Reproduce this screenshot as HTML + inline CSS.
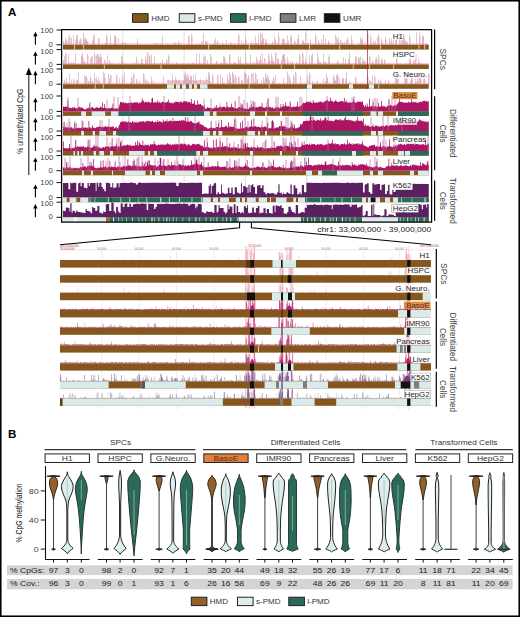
<!DOCTYPE html>
<html><head><meta charset="utf-8"><style>
html,body{margin:0;padding:0;background:#fff;}
body{width:520px;height:617px;overflow:hidden;position:relative;font-family:"Liberation Sans",sans-serif;}
</style></head><body>
<svg width="520" height="617" viewBox="0 0 520 617" style="position:absolute;left:0;top:0">
<rect x="0.00" y="0.00" width="520.00" height="617.00" fill="#fff" />
<text x="8.00" y="16.20" font-size="11.6" fill="#000" text-anchor="start" font-weight="bold" font-family="Liberation Sans, sans-serif" >A</text>
<rect x="132.50" y="13.70" width="15.60" height="8.60" fill="#86561f" stroke="#222" stroke-width="1"/>
<text x="0" y="0" transform="translate(151.30,20.70) scale(1.15,1)" font-size="7.0" fill="#333" text-anchor="start" font-weight="normal" font-family="Liberation Sans, sans-serif" >HMD</text>
<rect x="179.25" y="13.70" width="15.60" height="8.60" fill="#d8ebe8" stroke="#222" stroke-width="1"/>
<text x="0" y="0" transform="translate(198.05,20.70) scale(1.15,1)" font-size="7.0" fill="#333" text-anchor="start" font-weight="normal" font-family="Liberation Sans, sans-serif" >s-PMD</text>
<rect x="230.50" y="13.70" width="15.60" height="8.60" fill="#2d695a" stroke="#222" stroke-width="1"/>
<text x="0" y="0" transform="translate(249.30,20.70) scale(1.15,1)" font-size="7.0" fill="#333" text-anchor="start" font-weight="normal" font-family="Liberation Sans, sans-serif" >l-PMD</text>
<rect x="280.30" y="13.70" width="15.60" height="8.60" fill="#7f7f7f" stroke="#222" stroke-width="1"/>
<text x="0" y="0" transform="translate(299.10,20.70) scale(1.15,1)" font-size="7.0" fill="#333" text-anchor="start" font-weight="normal" font-family="Liberation Sans, sans-serif" >LMR</text>
<rect x="324.30" y="13.70" width="15.60" height="8.60" fill="#111111" stroke="#222" stroke-width="1"/>
<text x="0" y="0" transform="translate(343.10,20.70) scale(1.15,1)" font-size="7.0" fill="#333" text-anchor="start" font-weight="normal" font-family="Liberation Sans, sans-serif" >UMR</text>
<line x1="122.80" y1="30.00" x2="122.80" y2="222.00" stroke="#c8c8c8" stroke-width="0.6" />
<line x1="184.10" y1="30.00" x2="184.10" y2="222.00" stroke="#c8c8c8" stroke-width="0.6" />
<line x1="245.40" y1="30.00" x2="245.40" y2="222.00" stroke="#c8c8c8" stroke-width="0.6" />
<line x1="306.70" y1="30.00" x2="306.70" y2="222.00" stroke="#c8c8c8" stroke-width="0.6" />
<path d="M63.00,44.80 L63.00,43.52 L64.00,43.52 L64.00,43.65 L65.00,43.65 L65.00,43.28 L66.00,43.28 L66.00,43.71 L67.00,43.71 L67.00,43.37 L68.00,43.37 L68.00,43.49 L69.00,43.49 L69.00,43.72 L70.00,43.72 L70.00,43.39 L71.00,43.39 L71.00,43.74 L72.00,43.74 L72.00,43.44 L73.00,43.44 L73.00,43.71 L74.00,43.71 L74.00,43.70 L75.00,43.70 L75.00,43.45 L76.00,43.45 L76.00,43.15 L77.00,43.15 L77.00,43.67 L78.00,43.67 L78.00,43.60 L79.00,43.60 L79.00,43.30 L80.00,43.30 L80.00,43.06 L81.00,43.06 L81.00,43.34 L82.00,43.34 L82.00,43.47 L83.00,43.47 L83.00,43.04 L84.00,43.04 L84.00,43.73 L85.00,43.73 L85.00,43.13 L86.00,43.13 L86.00,43.55 L87.00,43.55 L87.00,43.66 L88.00,43.66 L88.00,43.68 L89.00,43.68 L89.00,43.54 L90.00,43.54 L90.00,43.16 L91.00,43.16 L91.00,43.63 L92.00,43.63 L92.00,43.33 L93.00,43.33 L93.00,43.29 L94.00,43.29 L94.00,43.49 L95.00,43.49 L95.00,43.36 L96.00,43.36 L96.00,43.72 L97.00,43.72 L97.00,43.72 L98.00,43.72 L98.00,43.61 L99.00,43.61 L99.00,43.26 L100.00,43.26 L100.00,43.45 L101.00,43.45 L101.00,43.53 L102.00,43.53 L102.00,43.33 L103.00,43.33 L103.00,43.43 L104.00,43.43 L104.00,43.54 L105.00,43.54 L105.00,43.18 L106.00,43.18 L106.00,43.25 L107.00,43.25 L107.00,43.58 L108.00,43.58 L108.00,43.34 L109.00,43.34 L109.00,43.38 L110.00,43.38 L110.00,43.12 L111.00,43.12 L111.00,43.22 L112.00,43.22 L112.00,43.55 L113.00,43.55 L113.00,43.04 L114.00,43.04 L114.00,43.68 L115.00,43.68 L115.00,43.45 L116.00,43.45 L116.00,43.20 L117.00,43.20 L117.00,43.65 L118.00,43.65 L118.00,43.40 L119.00,43.40 L119.00,43.73 L120.00,43.73 L120.00,43.27 L121.00,43.27 L121.00,43.20 L122.00,43.20 L122.00,43.34 L123.00,43.34 L123.00,43.12 L124.00,43.12 L124.00,43.53 L125.00,43.53 L125.00,43.25 L126.00,43.25 L126.00,43.32 L127.00,43.32 L127.00,43.33 L128.00,43.33 L128.00,43.43 L129.00,43.43 L129.00,43.14 L130.00,43.14 L130.00,43.06 L131.00,43.06 L131.00,43.41 L132.00,43.41 L132.00,43.27 L133.00,43.27 L133.00,43.72 L134.00,43.72 L134.00,43.24 L135.00,43.24 L135.00,43.29 L136.00,43.29 L136.00,43.03 L137.00,43.03 L137.00,43.16 L138.00,43.16 L138.00,43.55 L139.00,43.55 L139.00,43.48 L140.00,43.48 L140.00,43.27 L141.00,43.27 L141.00,43.75 L142.00,43.75 L142.00,43.42 L143.00,43.42 L143.00,43.64 L144.00,43.64 L144.00,43.68 L145.00,43.68 L145.00,43.72 L146.00,43.72 L146.00,43.20 L147.00,43.20 L147.00,43.67 L148.00,43.67 L148.00,43.58 L149.00,43.58 L149.00,43.47 L150.00,43.47 L150.00,43.12 L151.00,43.12 L151.00,43.70 L152.00,43.70 L152.00,43.43 L153.00,43.43 L153.00,43.36 L154.00,43.36 L154.00,43.11 L155.00,43.11 L155.00,43.16 L156.00,43.16 L156.00,43.12 L157.00,43.12 L157.00,43.56 L158.00,43.56 L158.00,43.46 L159.00,43.46 L159.00,43.50 L160.00,43.50 L160.00,43.11 L161.00,43.11 L161.00,43.06 L162.00,43.06 L162.00,43.65 L163.00,43.65 L163.00,43.63 L164.00,43.63 L164.00,43.59 L165.00,43.59 L165.00,43.59 L166.00,43.59 L166.00,43.41 L167.00,43.41 L167.00,43.33 L168.00,43.33 L168.00,43.57 L169.00,43.57 L169.00,43.76 L170.00,43.76 L170.00,43.45 L171.00,43.45 L171.00,43.49 L172.00,43.49 L172.00,43.34 L173.00,43.34 L173.00,43.06 L174.00,43.06 L174.00,43.25 L175.00,43.25 L175.00,43.38 L176.00,43.38 L176.00,43.31 L177.00,43.31 L177.00,43.26 L178.00,43.26 L178.00,43.72 L179.00,43.72 L179.00,43.10 L180.00,43.10 L180.00,43.19 L181.00,43.19 L181.00,43.12 L182.00,43.12 L182.00,43.17 L183.00,43.17 L183.00,43.47 L184.00,43.47 L184.00,43.47 L185.00,43.47 L185.00,43.69 L186.00,43.69 L186.00,43.29 L187.00,43.29 L187.00,43.72 L188.00,43.72 L188.00,43.71 L189.00,43.71 L189.00,43.61 L190.00,43.61 L190.00,43.64 L191.00,43.64 L191.00,43.51 L192.00,43.51 L192.00,43.73 L193.00,43.73 L193.00,43.76 L194.00,43.76 L194.00,43.65 L195.00,43.65 L195.00,43.69 L196.00,43.69 L196.00,43.49 L197.00,43.49 L197.00,43.75 L198.00,43.75 L198.00,43.12 L199.00,43.12 L199.00,43.31 L200.00,43.31 L200.00,43.65 L201.00,43.65 L201.00,43.58 L202.00,43.58 L202.00,43.51 L203.00,43.51 L203.00,43.49 L204.00,43.49 L204.00,43.67 L205.00,43.67 L205.00,43.14 L206.00,43.14 L206.00,43.03 L207.00,43.03 L207.00,43.42 L208.00,43.42 L208.00,43.41 L209.00,43.41 L209.00,43.70 L210.00,43.70 L210.00,43.69 L211.00,43.69 L211.00,43.51 L212.00,43.51 L212.00,43.57 L213.00,43.57 L213.00,43.15 L214.00,43.15 L214.00,43.64 L215.00,43.64 L215.00,43.75 L216.00,43.75 L216.00,43.06 L217.00,43.06 L217.00,43.37 L218.00,43.37 L218.00,43.66 L219.00,43.66 L219.00,43.36 L220.00,43.36 L220.00,43.74 L221.00,43.74 L221.00,43.37 L222.00,43.37 L222.00,43.04 L223.00,43.04 L223.00,43.13 L224.00,43.13 L224.00,43.25 L225.00,43.25 L225.00,43.57 L226.00,43.57 L226.00,43.49 L227.00,43.49 L227.00,43.64 L228.00,43.64 L228.00,43.19 L229.00,43.19 L229.00,43.37 L230.00,43.37 L230.00,43.19 L231.00,43.19 L231.00,43.52 L232.00,43.52 L232.00,43.60 L233.00,43.60 L233.00,43.16 L234.00,43.16 L234.00,43.04 L235.00,43.04 L235.00,43.13 L236.00,43.13 L236.00,43.17 L237.00,43.17 L237.00,43.16 L238.00,43.16 L238.00,43.22 L239.00,43.22 L239.00,43.60 L240.00,43.60 L240.00,43.38 L241.00,43.38 L241.00,43.50 L242.00,43.50 L242.00,43.74 L243.00,43.74 L243.00,43.74 L244.00,43.74 L244.00,43.56 L245.00,43.56 L245.00,43.57 L246.00,43.57 L246.00,43.25 L247.00,43.25 L247.00,43.06 L248.00,43.06 L248.00,43.43 L249.00,43.43 L249.00,43.07 L250.00,43.07 L250.00,43.03 L251.00,43.03 L251.00,43.06 L252.00,43.06 L252.00,43.49 L253.00,43.49 L253.00,43.60 L254.00,43.60 L254.00,43.60 L255.00,43.60 L255.00,43.62 L256.00,43.62 L256.00,43.61 L257.00,43.61 L257.00,43.30 L258.00,43.30 L258.00,43.10 L259.00,43.10 L259.00,43.14 L260.00,43.14 L260.00,43.41 L261.00,43.41 L261.00,43.28 L262.00,43.28 L262.00,43.17 L263.00,43.17 L263.00,43.70 L264.00,43.70 L264.00,43.28 L265.00,43.28 L265.00,43.09 L266.00,43.09 L266.00,43.19 L267.00,43.19 L267.00,43.21 L268.00,43.21 L268.00,43.41 L269.00,43.41 L269.00,43.63 L270.00,43.63 L270.00,43.18 L271.00,43.18 L271.00,43.52 L272.00,43.52 L272.00,43.17 L273.00,43.17 L273.00,43.04 L274.00,43.04 L274.00,43.47 L275.00,43.47 L275.00,43.47 L276.00,43.47 L276.00,43.06 L277.00,43.06 L277.00,43.23 L278.00,43.23 L278.00,43.64 L279.00,43.64 L279.00,43.67 L280.00,43.67 L280.00,43.65 L281.00,43.65 L281.00,43.09 L282.00,43.09 L282.00,43.17 L283.00,43.17 L283.00,43.66 L284.00,43.66 L284.00,43.15 L285.00,43.15 L285.00,43.04 L286.00,43.04 L286.00,43.28 L287.00,43.28 L287.00,43.50 L288.00,43.50 L288.00,43.36 L289.00,43.36 L289.00,43.67 L290.00,43.67 L290.00,43.75 L291.00,43.75 L291.00,43.05 L292.00,43.05 L292.00,43.28 L293.00,43.28 L293.00,43.37 L294.00,43.37 L294.00,43.07 L295.00,43.07 L295.00,43.44 L296.00,43.44 L296.00,43.12 L297.00,43.12 L297.00,43.15 L298.00,43.15 L298.00,43.61 L299.00,43.61 L299.00,43.58 L300.00,43.58 L300.00,43.55 L301.00,43.55 L301.00,43.59 L302.00,43.59 L302.00,43.33 L303.00,43.33 L303.00,43.57 L304.00,43.57 L304.00,43.45 L305.00,43.45 L305.00,43.67 L306.00,43.67 L306.00,43.09 L307.00,43.09 L307.00,43.50 L308.00,43.50 L308.00,43.42 L309.00,43.42 L309.00,43.33 L310.00,43.33 L310.00,43.09 L311.00,43.09 L311.00,43.45 L312.00,43.45 L312.00,43.08 L313.00,43.08 L313.00,43.39 L314.00,43.39 L314.00,43.37 L315.00,43.37 L315.00,43.38 L316.00,43.38 L316.00,43.75 L317.00,43.75 L317.00,43.44 L318.00,43.44 L318.00,43.63 L319.00,43.63 L319.00,43.76 L320.00,43.76 L320.00,43.17 L321.00,43.17 L321.00,43.64 L322.00,43.64 L322.00,43.41 L323.00,43.41 L323.00,43.23 L324.00,43.23 L324.00,43.35 L325.00,43.35 L325.00,43.52 L326.00,43.52 L326.00,43.38 L327.00,43.38 L327.00,43.35 L328.00,43.35 L328.00,43.18 L329.00,43.18 L329.00,43.69 L330.00,43.69 L330.00,43.35 L331.00,43.35 L331.00,43.58 L332.00,43.58 L332.00,43.56 L333.00,43.56 L333.00,43.19 L334.00,43.19 L334.00,43.39 L335.00,43.39 L335.00,43.35 L336.00,43.35 L336.00,43.20 L337.00,43.20 L337.00,43.09 L338.00,43.09 L338.00,43.44 L339.00,43.44 L339.00,43.31 L340.00,43.31 L340.00,43.39 L341.00,43.39 L341.00,43.39 L342.00,43.39 L342.00,43.25 L343.00,43.25 L343.00,43.43 L344.00,43.43 L344.00,43.37 L345.00,43.37 L345.00,43.41 L346.00,43.41 L346.00,43.07 L347.00,43.07 L347.00,43.25 L348.00,43.25 L348.00,43.12 L349.00,43.12 L349.00,43.07 L350.00,43.07 L350.00,43.57 L351.00,43.57 L351.00,43.35 L352.00,43.35 L352.00,43.07 L353.00,43.07 L353.00,43.14 L354.00,43.14 L354.00,43.66 L355.00,43.66 L355.00,43.67 L356.00,43.67 L356.00,43.44 L357.00,43.44 L357.00,43.71 L358.00,43.71 L358.00,43.59 L359.00,43.59 L359.00,43.71 L360.00,43.71 L360.00,43.27 L361.00,43.27 L361.00,43.18 L362.00,43.18 L362.00,43.10 L363.00,43.10 L363.00,43.65 L364.00,43.65 L364.00,43.23 L365.00,43.23 L365.00,43.28 L366.00,43.28 L366.00,43.66 L367.00,43.66 L367.00,43.11 L368.00,43.11 L368.00,43.05 L369.00,43.05 L369.00,43.60 L370.00,43.60 L370.00,43.06 L371.00,43.06 L371.00,43.47 L372.00,43.47 L372.00,43.40 L373.00,43.40 L373.00,43.03 L374.00,43.03 L374.00,43.15 L375.00,43.15 L375.00,43.64 L376.00,43.64 L376.00,43.44 L377.00,43.44 L377.00,43.38 L378.00,43.38 L378.00,43.51 L379.00,43.51 L379.00,43.62 L380.00,43.62 L380.00,43.53 L381.00,43.53 L381.00,43.23 L382.00,43.23 L382.00,43.75 L383.00,43.75 L383.00,43.35 L384.00,43.35 L384.00,43.44 L385.00,43.44 L385.00,43.75 L386.00,43.75 L386.00,43.52 L387.00,43.52 L387.00,43.30 L388.00,43.30 L388.00,43.38 L389.00,43.38 L389.00,43.72 L390.00,43.72 L390.00,43.04 L391.00,43.04 L391.00,43.18 L392.00,43.18 L392.00,43.04 L393.00,43.04 L393.00,43.69 L394.00,43.69 L394.00,43.57 L395.00,43.57 L395.00,43.73 L396.00,43.73 L396.00,43.19 L397.00,43.19 L397.00,43.56 L398.00,43.56 L398.00,43.67 L399.00,43.67 L399.00,43.45 L400.00,43.45 L400.00,43.09 L401.00,43.09 L401.00,43.16 L402.00,43.16 L402.00,43.57 L403.00,43.57 L403.00,43.65 L404.00,43.65 L404.00,43.08 L405.00,43.08 L405.00,43.34 L406.00,43.34 L406.00,43.25 L407.00,43.25 L407.00,43.70 L408.00,43.70 L408.00,43.72 L409.00,43.72 L409.00,43.25 L410.00,43.25 L410.00,43.45 L411.00,43.45 L411.00,43.71 L412.00,43.71 L412.00,43.07 L413.00,43.07 L413.00,43.29 L414.00,43.29 L414.00,43.17 L415.00,43.17 L415.00,43.70 L416.00,43.70 L416.00,43.13 L417.00,43.13 L417.00,43.71 L418.00,43.71 L418.00,43.13 L419.00,43.13 L419.00,43.43 L420.00,43.43 L420.00,43.51 L421.00,43.51 L421.00,43.35 L422.00,43.35 L422.00,43.08 L423.00,43.08 L423.00,43.57 L424.00,43.57 L424.00,43.67 L425.00,43.67 L425.00,43.37 L426.00,43.37 L426.00,43.59 L427.00,43.59 L427.00,43.68 L428.00,43.68 L428.00,43.64 L428.80,43.64 L428.80,44.80 Z" fill="#f1c4cc" opacity="1.0"/>
<path d="M64.10,44.80V42.45M66.10,44.80V40.26M67.10,44.80V41.25M70.10,44.80V37.08M76.10,44.80V41.91M77.10,44.80V39.31M80.10,44.80V41.87M81.10,44.80V38.76M84.10,44.80V36.64M85.10,44.80V40.69M86.10,44.80V40.50M87.10,44.80V41.91M88.10,44.80V41.80M99.10,44.80V38.37M106.10,44.80V43.43M107.10,44.80V36.23M115.10,44.80V39.75M116.10,44.80V36.70M123.10,44.80V42.12M126.10,44.80V42.91M157.10,44.80V43.50M179.10,44.80V42.27M189.10,44.80V36.61M192.10,44.80V36.28M202.10,44.80V41.74M206.10,44.80V42.44M207.10,44.80V41.67M218.10,44.80V41.78M231.10,44.80V42.74M239.10,44.80V35.29M244.10,44.80V42.94M246.10,44.80V39.68M254.10,44.80V43.18M257.10,44.80V43.35M261.10,44.80V33.81M263.10,44.80V37.75M266.10,44.80V39.28M267.10,44.80V43.28M275.10,44.80V38.91M276.10,44.80V42.70M279.10,44.80V36.65M283.10,44.80V38.60M287.10,44.80V42.84M291.10,44.80V38.96M295.10,44.80V40.95M298.10,44.80V39.03M303.10,44.80V40.51M305.10,44.80V43.01M308.10,44.80V42.95M316.10,44.80V36.51M319.10,44.80V42.45M329.10,44.80V42.10M338.10,44.80V41.59M340.10,44.80V43.24M341.10,44.80V40.55M343.10,44.80V42.76M348.10,44.80V39.50M352.10,44.80V40.13M359.10,44.80V43.26M361.10,44.80V38.71M362.10,44.80V40.53M368.10,44.80V33.78M371.10,44.80V37.81M374.10,44.80V41.94M379.10,44.80V36.36M382.10,44.80V40.61M386.10,44.80V39.82M390.10,44.80V41.16M392.10,44.80V41.62M396.10,44.80V38.18M400.10,44.80V32.85M404.10,44.80V34.61M406.10,44.80V42.01M407.10,44.80V41.50M410.10,44.80V37.19M420.10,44.80V36.42M423.10,44.80V36.18M427.10,44.80V43.77" stroke="#eeb0bf" stroke-width="1.0" fill="none" opacity="0.85"/>
<path d="M63.50,44.80V41.19M65.50,44.80V38.05M66.50,44.80V40.70M68.50,44.80V38.33M69.50,44.80V34.47M71.50,44.80V37.98M73.50,44.80V34.32M75.50,44.80V39.69M76.50,44.80V35.36M77.50,44.80V34.21M79.50,44.80V40.78M80.50,44.80V38.64M83.50,44.80V32.77M84.50,44.80V39.33M85.50,44.80V38.00M86.50,44.80V39.14M87.50,44.80V40.88M92.50,44.80V39.92M93.50,44.80V35.55M94.50,44.80V34.28M98.50,44.80V37.79M105.50,44.80V42.79M106.50,44.80V34.28M110.50,44.80V34.71M114.50,44.80V35.41M115.50,44.80V35.49M118.50,44.80V38.28M122.50,44.80V41.73M125.50,44.80V42.54M137.50,44.80V38.50M156.50,44.80V43.00M162.50,44.80V35.25M175.50,44.80V42.16M178.50,44.80V40.54M188.50,44.80V35.46M191.50,44.80V33.22M201.50,44.80V41.59M203.50,44.80V33.46M205.50,44.80V41.29M206.50,44.80V40.82M214.50,44.80V40.42M215.50,44.80V38.02M217.50,44.80V40.49M222.50,44.80V42.78M226.50,44.80V39.23M230.50,44.80V42.09M238.50,44.80V34.89M241.50,44.80V40.69M243.50,44.80V42.45M245.50,44.80V36.94M251.50,44.80V40.73M253.50,44.80V42.87M255.50,44.80V36.19M256.50,44.80V42.76M258.50,44.80V34.72M260.50,44.80V32.72M261.50,44.80V40.99M262.50,44.80V32.93M263.50,44.80V38.95M265.50,44.80V39.20M266.50,44.80V42.61M272.50,44.80V41.35M274.50,44.80V36.23M275.50,44.80V41.51M278.50,44.80V32.79M282.50,44.80V38.34M283.50,44.80V39.52M284.50,44.80V39.02M286.50,44.80V42.76M287.50,44.80V35.29M288.50,44.80V40.48M290.50,44.80V35.64M291.50,44.80V35.19M294.50,44.80V40.87M297.50,44.80V38.81M298.50,44.80V34.66M302.50,44.80V39.99M303.50,44.80V41.24M304.50,44.80V42.50M305.50,44.80V32.60M307.50,44.80V42.32M310.50,44.80V38.95M315.50,44.80V34.22M318.50,44.80V40.73M321.50,44.80V39.18M323.50,44.80V34.59M325.50,44.80V38.33M328.50,44.80V40.26M335.50,44.80V34.94M336.50,44.80V36.99M337.50,44.80V39.47M338.50,44.80V36.96M339.50,44.80V42.95M340.50,44.80V40.06M342.50,44.80V42.16M344.50,44.80V41.57M346.50,44.80V40.11M347.50,44.80V37.32M351.50,44.80V35.51M358.50,44.80V42.92M360.50,44.80V36.70M361.50,44.80V40.36M362.50,44.80V38.16M364.50,44.80V41.93M367.50,44.80V33.23M370.50,44.80V34.85M373.50,44.80V41.03M375.50,44.80V40.73M377.50,44.80V37.37M378.50,44.80V34.25M381.50,44.80V38.92M385.50,44.80V36.74M389.50,44.80V38.34M391.50,44.80V38.68M393.50,44.80V35.45M395.50,44.80V38.01M396.50,44.80V34.03M399.50,44.80V32.58M401.50,44.80V34.82M402.50,44.80V39.66M403.50,44.80V33.57M404.50,44.80V38.03M405.50,44.80V40.57M406.50,44.80V41.39M409.50,44.80V34.86M416.50,44.80V32.45M419.50,44.80V32.48M422.50,44.80V35.33M423.50,44.80V36.51M426.50,44.80V43.01" stroke="#cc9db4" stroke-width="0.6" fill="none"/>
<path d="M63.00,64.40 L63.00,62.98 L64.00,62.98 L64.00,62.70 L65.00,62.70 L65.00,63.27 L66.00,63.27 L66.00,63.20 L67.00,63.20 L67.00,62.88 L68.00,62.88 L68.00,63.35 L69.00,63.35 L69.00,63.36 L70.00,63.36 L70.00,63.10 L71.00,63.10 L71.00,63.29 L72.00,63.29 L72.00,63.10 L73.00,63.10 L73.00,63.20 L74.00,63.20 L74.00,62.93 L75.00,62.93 L75.00,62.93 L76.00,62.93 L76.00,63.21 L77.00,63.21 L77.00,62.90 L78.00,62.90 L78.00,63.01 L79.00,63.01 L79.00,63.26 L80.00,63.26 L80.00,62.67 L81.00,62.67 L81.00,63.18 L82.00,63.18 L82.00,63.25 L83.00,63.25 L83.00,63.29 L84.00,63.29 L84.00,62.89 L85.00,62.89 L85.00,62.72 L86.00,62.72 L86.00,62.79 L87.00,62.79 L87.00,63.07 L88.00,63.07 L88.00,63.17 L89.00,63.17 L89.00,63.36 L90.00,63.36 L90.00,62.89 L91.00,62.89 L91.00,62.95 L92.00,62.95 L92.00,63.10 L93.00,63.10 L93.00,62.89 L94.00,62.89 L94.00,63.04 L95.00,63.04 L95.00,62.67 L96.00,62.67 L96.00,62.82 L97.00,62.82 L97.00,63.18 L98.00,63.18 L98.00,62.70 L99.00,62.70 L99.00,63.33 L100.00,63.33 L100.00,62.97 L101.00,62.97 L101.00,63.06 L102.00,63.06 L102.00,63.19 L103.00,63.19 L103.00,63.32 L104.00,63.32 L104.00,62.79 L105.00,62.79 L105.00,63.35 L106.00,63.35 L106.00,62.96 L107.00,62.96 L107.00,62.67 L108.00,62.67 L108.00,63.26 L109.00,63.26 L109.00,63.22 L110.00,63.22 L110.00,62.91 L111.00,62.91 L111.00,62.99 L112.00,62.99 L112.00,62.89 L113.00,62.89 L113.00,62.76 L114.00,62.76 L114.00,63.23 L115.00,63.23 L115.00,63.14 L116.00,63.14 L116.00,63.14 L117.00,63.14 L117.00,63.33 L118.00,63.33 L118.00,62.71 L119.00,62.71 L119.00,62.78 L120.00,62.78 L120.00,62.83 L121.00,62.83 L121.00,63.36 L122.00,63.36 L122.00,62.74 L123.00,62.74 L123.00,62.81 L124.00,62.81 L124.00,63.02 L125.00,63.02 L125.00,62.82 L126.00,62.82 L126.00,63.03 L127.00,63.03 L127.00,63.20 L128.00,63.20 L128.00,63.29 L129.00,63.29 L129.00,63.19 L130.00,63.19 L130.00,63.34 L131.00,63.34 L131.00,63.12 L132.00,63.12 L132.00,62.81 L133.00,62.81 L133.00,62.85 L134.00,62.85 L134.00,62.74 L135.00,62.74 L135.00,62.84 L136.00,62.84 L136.00,63.17 L137.00,63.17 L137.00,62.95 L138.00,62.95 L138.00,63.04 L139.00,63.04 L139.00,62.78 L140.00,62.78 L140.00,62.98 L141.00,62.98 L141.00,63.17 L142.00,63.17 L142.00,62.89 L143.00,62.89 L143.00,62.65 L144.00,62.65 L144.00,63.20 L145.00,63.20 L145.00,62.71 L146.00,62.71 L146.00,63.35 L147.00,63.35 L147.00,63.17 L148.00,63.17 L148.00,63.19 L149.00,63.19 L149.00,62.81 L150.00,62.81 L150.00,62.66 L151.00,62.66 L151.00,62.81 L152.00,62.81 L152.00,63.12 L153.00,63.12 L153.00,62.71 L154.00,62.71 L154.00,63.12 L155.00,63.12 L155.00,63.19 L156.00,63.19 L156.00,62.69 L157.00,62.69 L157.00,62.90 L158.00,62.90 L158.00,62.85 L159.00,62.85 L159.00,62.87 L160.00,62.87 L160.00,62.64 L161.00,62.64 L161.00,63.02 L162.00,63.02 L162.00,62.74 L163.00,62.74 L163.00,62.85 L164.00,62.85 L164.00,62.73 L165.00,62.73 L165.00,63.04 L166.00,63.04 L166.00,62.83 L167.00,62.83 L167.00,62.94 L168.00,62.94 L168.00,63.14 L169.00,63.14 L169.00,63.21 L170.00,63.21 L170.00,62.90 L171.00,62.90 L171.00,63.31 L172.00,63.31 L172.00,62.69 L173.00,62.69 L173.00,63.26 L174.00,63.26 L174.00,63.34 L175.00,63.34 L175.00,63.29 L176.00,63.29 L176.00,62.68 L177.00,62.68 L177.00,63.11 L178.00,63.11 L178.00,63.26 L179.00,63.26 L179.00,63.34 L180.00,63.34 L180.00,63.33 L181.00,63.33 L181.00,62.85 L182.00,62.85 L182.00,62.89 L183.00,62.89 L183.00,62.85 L184.00,62.85 L184.00,62.82 L185.00,62.82 L185.00,63.32 L186.00,63.32 L186.00,62.93 L187.00,62.93 L187.00,63.10 L188.00,63.10 L188.00,62.76 L189.00,62.76 L189.00,62.76 L190.00,62.76 L190.00,62.70 L191.00,62.70 L191.00,63.32 L192.00,63.32 L192.00,62.72 L193.00,62.72 L193.00,62.69 L194.00,62.69 L194.00,62.67 L195.00,62.67 L195.00,63.28 L196.00,63.28 L196.00,63.21 L197.00,63.21 L197.00,63.28 L198.00,63.28 L198.00,63.34 L199.00,63.34 L199.00,62.74 L200.00,62.74 L200.00,62.76 L201.00,62.76 L201.00,62.89 L202.00,62.89 L202.00,62.75 L203.00,62.75 L203.00,62.90 L204.00,62.90 L204.00,63.15 L205.00,63.15 L205.00,63.29 L206.00,63.29 L206.00,63.29 L207.00,63.29 L207.00,62.80 L208.00,62.80 L208.00,63.21 L209.00,63.21 L209.00,63.13 L210.00,63.13 L210.00,63.05 L211.00,63.05 L211.00,63.35 L212.00,63.35 L212.00,63.17 L213.00,63.17 L213.00,63.15 L214.00,63.15 L214.00,62.83 L215.00,62.83 L215.00,63.09 L216.00,63.09 L216.00,63.13 L217.00,63.13 L217.00,62.65 L218.00,62.65 L218.00,62.99 L219.00,62.99 L219.00,62.73 L220.00,62.73 L220.00,62.91 L221.00,62.91 L221.00,63.34 L222.00,63.34 L222.00,63.06 L223.00,63.06 L223.00,63.04 L224.00,63.04 L224.00,62.79 L225.00,62.79 L225.00,63.11 L226.00,63.11 L226.00,62.84 L227.00,62.84 L227.00,62.97 L228.00,62.97 L228.00,63.20 L229.00,63.20 L229.00,62.73 L230.00,62.73 L230.00,63.30 L231.00,63.30 L231.00,62.76 L232.00,62.76 L232.00,63.24 L233.00,63.24 L233.00,63.36 L234.00,63.36 L234.00,63.21 L235.00,63.21 L235.00,62.80 L236.00,62.80 L236.00,62.64 L237.00,62.64 L237.00,63.36 L238.00,63.36 L238.00,63.00 L239.00,63.00 L239.00,63.00 L240.00,63.00 L240.00,62.77 L241.00,62.77 L241.00,63.23 L242.00,63.23 L242.00,63.00 L243.00,63.00 L243.00,63.11 L244.00,63.11 L244.00,62.75 L245.00,62.75 L245.00,63.17 L246.00,63.17 L246.00,62.67 L247.00,62.67 L247.00,63.15 L248.00,63.15 L248.00,63.21 L249.00,63.21 L249.00,62.85 L250.00,62.85 L250.00,63.00 L251.00,63.00 L251.00,63.28 L252.00,63.28 L252.00,62.89 L253.00,62.89 L253.00,63.30 L254.00,63.30 L254.00,62.78 L255.00,62.78 L255.00,62.85 L256.00,62.85 L256.00,62.78 L257.00,62.78 L257.00,62.90 L258.00,62.90 L258.00,63.10 L259.00,63.10 L259.00,63.07 L260.00,63.07 L260.00,63.07 L261.00,63.07 L261.00,62.71 L262.00,62.71 L262.00,63.30 L263.00,63.30 L263.00,62.71 L264.00,62.71 L264.00,63.35 L265.00,63.35 L265.00,63.21 L266.00,63.21 L266.00,63.17 L267.00,63.17 L267.00,62.70 L268.00,62.70 L268.00,62.99 L269.00,62.99 L269.00,63.08 L270.00,63.08 L270.00,62.71 L271.00,62.71 L271.00,63.19 L272.00,63.19 L272.00,63.02 L273.00,63.02 L273.00,62.97 L274.00,62.97 L274.00,62.81 L275.00,62.81 L275.00,62.81 L276.00,62.81 L276.00,62.89 L277.00,62.89 L277.00,63.11 L278.00,63.11 L278.00,63.12 L279.00,63.12 L279.00,63.25 L280.00,63.25 L280.00,62.74 L281.00,62.74 L281.00,62.87 L282.00,62.87 L282.00,62.81 L283.00,62.81 L283.00,63.24 L284.00,63.24 L284.00,63.04 L285.00,63.04 L285.00,62.79 L286.00,62.79 L286.00,62.94 L287.00,62.94 L287.00,63.27 L288.00,63.27 L288.00,63.02 L289.00,63.02 L289.00,62.71 L290.00,62.71 L290.00,63.19 L291.00,63.19 L291.00,63.22 L292.00,63.22 L292.00,63.14 L293.00,63.14 L293.00,62.84 L294.00,62.84 L294.00,62.74 L295.00,62.74 L295.00,63.25 L296.00,63.25 L296.00,63.25 L297.00,63.25 L297.00,63.18 L298.00,63.18 L298.00,63.12 L299.00,63.12 L299.00,62.98 L300.00,62.98 L300.00,63.24 L301.00,63.24 L301.00,63.12 L302.00,63.12 L302.00,63.22 L303.00,63.22 L303.00,62.64 L304.00,62.64 L304.00,62.82 L305.00,62.82 L305.00,63.29 L306.00,63.29 L306.00,62.65 L307.00,62.65 L307.00,63.29 L308.00,63.29 L308.00,63.08 L309.00,63.08 L309.00,62.64 L310.00,62.64 L310.00,62.78 L311.00,62.78 L311.00,62.82 L312.00,62.82 L312.00,63.04 L313.00,63.04 L313.00,63.22 L314.00,63.22 L314.00,62.89 L315.00,62.89 L315.00,63.28 L316.00,63.28 L316.00,63.21 L317.00,63.21 L317.00,63.08 L318.00,63.08 L318.00,63.34 L319.00,63.34 L319.00,63.07 L320.00,63.07 L320.00,62.78 L321.00,62.78 L321.00,62.85 L322.00,62.85 L322.00,62.99 L323.00,62.99 L323.00,62.90 L324.00,62.90 L324.00,63.02 L325.00,63.02 L325.00,63.26 L326.00,63.26 L326.00,62.92 L327.00,62.92 L327.00,63.06 L328.00,63.06 L328.00,62.82 L329.00,62.82 L329.00,62.69 L330.00,62.69 L330.00,63.05 L331.00,63.05 L331.00,62.94 L332.00,62.94 L332.00,62.81 L333.00,62.81 L333.00,63.05 L334.00,63.05 L334.00,63.19 L335.00,63.19 L335.00,62.83 L336.00,62.83 L336.00,62.71 L337.00,62.71 L337.00,62.79 L338.00,62.79 L338.00,62.85 L339.00,62.85 L339.00,62.73 L340.00,62.73 L340.00,62.86 L341.00,62.86 L341.00,62.89 L342.00,62.89 L342.00,63.03 L343.00,63.03 L343.00,63.13 L344.00,63.13 L344.00,62.90 L345.00,62.90 L345.00,63.29 L346.00,63.29 L346.00,63.05 L347.00,63.05 L347.00,62.79 L348.00,62.79 L348.00,62.84 L349.00,62.84 L349.00,62.90 L350.00,62.90 L350.00,63.18 L351.00,63.18 L351.00,63.05 L352.00,63.05 L352.00,63.03 L353.00,63.03 L353.00,62.90 L354.00,62.90 L354.00,63.06 L355.00,63.06 L355.00,62.86 L356.00,62.86 L356.00,62.68 L357.00,62.68 L357.00,63.23 L358.00,63.23 L358.00,62.88 L359.00,62.88 L359.00,62.79 L360.00,62.79 L360.00,63.08 L361.00,63.08 L361.00,63.00 L362.00,63.00 L362.00,62.64 L363.00,62.64 L363.00,63.34 L364.00,63.34 L364.00,62.96 L365.00,62.96 L365.00,63.24 L366.00,63.24 L366.00,62.79 L367.00,62.79 L367.00,62.67 L368.00,62.67 L368.00,62.98 L369.00,62.98 L369.00,63.29 L370.00,63.29 L370.00,62.94 L371.00,62.94 L371.00,62.96 L372.00,62.96 L372.00,62.83 L373.00,62.83 L373.00,62.98 L374.00,62.98 L374.00,62.89 L375.00,62.89 L375.00,62.75 L376.00,62.75 L376.00,62.98 L377.00,62.98 L377.00,63.06 L378.00,63.06 L378.00,62.66 L379.00,62.66 L379.00,63.21 L380.00,63.21 L380.00,62.86 L381.00,62.86 L381.00,63.07 L382.00,63.07 L382.00,62.80 L383.00,62.80 L383.00,63.27 L384.00,63.27 L384.00,62.64 L385.00,62.64 L385.00,63.10 L386.00,63.10 L386.00,63.32 L387.00,63.32 L387.00,63.16 L388.00,63.16 L388.00,63.07 L389.00,63.07 L389.00,63.35 L390.00,63.35 L390.00,63.05 L391.00,63.05 L391.00,63.05 L392.00,63.05 L392.00,62.85 L393.00,62.85 L393.00,63.10 L394.00,63.10 L394.00,63.17 L395.00,63.17 L395.00,63.20 L396.00,63.20 L396.00,62.82 L397.00,62.82 L397.00,62.67 L398.00,62.67 L398.00,62.97 L399.00,62.97 L399.00,63.20 L400.00,63.20 L400.00,62.77 L401.00,62.77 L401.00,63.07 L402.00,63.07 L402.00,63.21 L403.00,63.21 L403.00,63.27 L404.00,63.27 L404.00,62.79 L405.00,62.79 L405.00,62.76 L406.00,62.76 L406.00,62.89 L407.00,62.89 L407.00,63.02 L408.00,63.02 L408.00,62.95 L409.00,62.95 L409.00,63.20 L410.00,63.20 L410.00,62.65 L411.00,62.65 L411.00,63.10 L412.00,63.10 L412.00,62.89 L413.00,62.89 L413.00,62.76 L414.00,62.76 L414.00,62.76 L415.00,62.76 L415.00,63.02 L416.00,63.02 L416.00,63.15 L417.00,63.15 L417.00,62.96 L418.00,62.96 L418.00,63.27 L419.00,63.27 L419.00,62.75 L420.00,62.75 L420.00,63.10 L421.00,63.10 L421.00,62.73 L422.00,62.73 L422.00,63.17 L423.00,63.17 L423.00,63.09 L424.00,63.09 L424.00,63.18 L425.00,63.18 L425.00,63.05 L426.00,63.05 L426.00,63.23 L427.00,63.23 L427.00,63.36 L428.00,63.36 L428.00,62.83 L428.80,62.83 L428.80,64.40 Z" fill="#f1c4cc" opacity="1.0"/>
<path d="M64.10,64.40V61.41M72.10,64.40V62.77M82.10,64.40V56.66M83.10,64.40V57.40M84.10,64.40V62.81M85.10,64.40V62.12M88.10,64.40V56.13M95.10,64.40V55.33M98.10,64.40V56.42M99.10,64.40V57.38M101.10,64.40V56.56M105.10,64.40V60.60M110.10,64.40V61.65M122.10,64.40V56.82M123.10,64.40V61.38M137.10,64.40V60.21M142.10,64.40V59.04M146.10,64.40V59.59M148.10,64.40V53.15M150.10,64.40V56.43M167.10,64.40V60.57M169.10,64.40V56.11M193.10,64.40V63.13M217.10,64.40V61.41M225.10,64.40V58.46M230.10,64.40V54.79M234.10,64.40V63.18M235.10,64.40V62.36M239.10,64.40V60.02M247.10,64.40V63.00M258.10,64.40V61.67M260.10,64.40V61.06M261.10,64.40V59.65M265.10,64.40V58.45M269.10,64.40V55.95M270.10,64.40V61.14M272.10,64.40V56.69M274.10,64.40V62.24M276.10,64.40V52.86M278.10,64.40V60.31M283.10,64.40V55.23M284.10,64.40V58.59M285.10,64.40V58.18M288.10,64.40V59.96M291.10,64.40V62.44M300.10,64.40V54.97M303.10,64.40V53.74M306.10,64.40V61.71M312.10,64.40V56.43M318.10,64.40V57.28M321.10,64.40V62.90M325.10,64.40V62.27M326.10,64.40V62.79M338.10,64.40V61.53M349.10,64.40V61.33M356.10,64.40V57.42M359.10,64.40V57.60M363.10,64.40V60.74M364.10,64.40V62.35M365.10,64.40V61.29M370.10,64.40V57.36M373.10,64.40V61.36M377.10,64.40V59.67M379.10,64.40V59.18M382.10,64.40V59.60M385.10,64.40V60.21M397.10,64.40V54.75M410.10,64.40V60.55M414.10,64.40V60.74M416.10,64.40V53.80M420.10,64.40V62.79" stroke="#eeb0bf" stroke-width="1.0" fill="none" opacity="0.85"/>
<path d="M63.50,64.40V60.36M64.50,64.40V56.13M65.50,64.40V52.80M66.50,64.40V53.97M68.50,64.40V53.93M69.50,64.40V62.55M71.50,64.40V61.76M73.50,64.40V61.28M75.50,64.40V53.24M81.50,64.40V55.51M82.50,64.40V53.33M83.50,64.40V61.40M84.50,64.40V61.36M87.50,64.40V53.82M90.50,64.40V58.53M91.50,64.40V56.13M92.50,64.40V56.44M94.50,64.40V52.18M96.50,64.40V55.22M97.50,64.40V53.58M98.50,64.40V54.62M99.50,64.40V57.06M100.50,64.40V53.97M101.50,64.40V57.58M104.50,64.40V59.61M107.50,64.40V55.17M109.50,64.40V59.79M121.50,64.40V55.80M122.50,64.40V61.00M136.50,64.40V56.91M141.50,64.40V58.87M145.50,64.40V56.05M146.50,64.40V62.59M147.50,64.40V52.36M149.50,64.40V55.21M151.50,64.40V54.58M154.50,64.40V56.23M160.50,64.40V62.52M162.50,64.40V59.67M166.50,64.40V59.08M168.50,64.40V54.32M176.50,64.40V62.14M192.50,64.40V62.61M196.50,64.40V53.91M199.50,64.40V53.70M203.50,64.40V57.06M204.50,64.40V54.86M205.50,64.40V56.47M207.50,64.40V60.26M210.50,64.40V54.21M211.50,64.40V56.78M216.50,64.40V60.89M221.50,64.40V62.28M223.50,64.40V56.18M224.50,64.40V56.58M225.50,64.40V62.37M229.50,64.40V54.53M233.50,64.40V62.33M234.50,64.40V62.22M238.50,64.40V56.57M240.50,64.40V56.94M245.50,64.40V52.37M246.50,64.40V62.33M250.50,64.40V54.44M253.50,64.40V61.35M256.50,64.40V56.64M257.50,64.40V59.54M259.50,64.40V60.42M260.50,64.40V55.23M262.50,64.40V52.74M264.50,64.40V58.23M268.50,64.40V54.02M269.50,64.40V60.59M271.50,64.40V53.47M272.50,64.40V60.09M273.50,64.40V61.13M275.50,64.40V52.22M277.50,64.40V57.90M278.50,64.40V59.12M281.50,64.40V59.90M282.50,64.40V55.13M283.50,64.40V54.21M284.50,64.40V53.92M287.50,64.40V56.87M290.50,64.40V61.97M292.50,64.40V60.75M296.50,64.40V62.09M299.50,64.40V54.17M302.50,64.40V53.02M303.50,64.40V60.95M305.50,64.40V59.04M309.50,64.40V55.26M311.50,64.40V55.30M312.50,64.40V53.45M317.50,64.40V52.35M318.50,64.40V60.30M319.50,64.40V61.81M320.50,64.40V62.50M323.50,64.40V53.49M324.50,64.40V61.56M325.50,64.40V61.57M328.50,64.40V56.85M329.50,64.40V53.99M337.50,64.40V60.40M343.50,64.40V57.46M345.50,64.40V58.50M348.50,64.40V58.38M349.50,64.40V52.32M355.50,64.40V56.08M356.50,64.40V57.19M358.50,64.40V57.43M359.50,64.40V59.73M360.50,64.40V56.61M362.50,64.40V58.02M363.50,64.40V61.48M364.50,64.40V60.37M369.50,64.40V55.31M372.50,64.40V60.38M375.50,64.40V59.24M376.50,64.40V57.03M378.50,64.40V54.61M381.50,64.40V58.86M382.50,64.40V60.56M384.50,64.40V59.40M396.50,64.40V53.47M409.50,64.40V58.83M410.50,64.40V54.44M413.50,64.40V59.75M415.50,64.40V52.90M418.50,64.40V58.45M419.50,64.40V62.25" stroke="#cc9db4" stroke-width="0.6" fill="none"/>
<path d="M63.00,84.20 L63.00,82.68 L64.00,82.68 L64.00,82.87 L65.00,82.87 L65.00,82.42 L66.00,82.42 L66.00,82.62 L67.00,82.62 L67.00,82.74 L68.00,82.74 L68.00,83.06 L69.00,83.06 L69.00,82.85 L70.00,82.85 L70.00,82.83 L71.00,82.83 L71.00,82.71 L72.00,82.71 L72.00,82.70 L73.00,82.70 L73.00,82.47 L74.00,82.47 L74.00,82.40 L75.00,82.40 L75.00,82.77 L76.00,82.77 L76.00,82.80 L77.00,82.80 L77.00,82.66 L78.00,82.66 L78.00,82.38 L79.00,82.38 L79.00,82.88 L80.00,82.88 L80.00,82.73 L81.00,82.73 L81.00,82.52 L82.00,82.52 L82.00,83.01 L83.00,83.01 L83.00,82.89 L84.00,82.89 L84.00,82.39 L85.00,82.39 L85.00,82.51 L86.00,82.51 L86.00,82.75 L87.00,82.75 L87.00,83.05 L88.00,83.05 L88.00,82.46 L89.00,82.46 L89.00,82.61 L90.00,82.61 L90.00,82.51 L91.00,82.51 L91.00,82.38 L92.00,82.38 L92.00,82.46 L93.00,82.46 L93.00,82.82 L94.00,82.82 L94.00,83.02 L95.00,83.02 L95.00,82.92 L96.00,82.92 L96.00,82.75 L97.00,82.75 L97.00,82.75 L98.00,82.75 L98.00,82.99 L99.00,82.99 L99.00,83.00 L100.00,83.00 L100.00,82.66 L101.00,82.66 L101.00,82.68 L102.00,82.68 L102.00,82.87 L103.00,82.87 L103.00,82.38 L104.00,82.38 L104.00,82.65 L105.00,82.65 L105.00,83.10 L106.00,83.10 L106.00,82.82 L107.00,82.82 L107.00,82.54 L108.00,82.54 L108.00,82.90 L109.00,82.90 L109.00,82.61 L110.00,82.61 L110.00,83.13 L111.00,83.13 L111.00,82.90 L112.00,82.90 L112.00,82.50 L113.00,82.50 L113.00,82.69 L114.00,82.69 L114.00,82.63 L115.00,82.63 L115.00,82.99 L116.00,82.99 L116.00,82.76 L117.00,82.76 L117.00,82.72 L118.00,82.72 L118.00,82.93 L119.00,82.93 L119.00,82.64 L120.00,82.64 L120.00,82.73 L121.00,82.73 L121.00,82.38 L122.00,82.38 L122.00,82.70 L123.00,82.70 L123.00,82.82 L124.00,82.82 L124.00,83.04 L125.00,83.04 L125.00,83.02 L126.00,83.02 L126.00,82.56 L127.00,82.56 L127.00,83.05 L128.00,83.05 L128.00,83.06 L129.00,83.06 L129.00,83.01 L130.00,83.01 L130.00,82.74 L131.00,82.74 L131.00,82.51 L132.00,82.51 L132.00,82.67 L133.00,82.67 L133.00,82.52 L134.00,82.52 L134.00,83.09 L135.00,83.09 L135.00,83.13 L136.00,83.13 L136.00,82.55 L137.00,82.55 L137.00,82.89 L138.00,82.89 L138.00,82.59 L139.00,82.59 L139.00,82.87 L140.00,82.87 L140.00,83.01 L141.00,83.01 L141.00,82.93 L142.00,82.93 L142.00,83.06 L143.00,83.06 L143.00,82.45 L144.00,82.45 L144.00,82.69 L145.00,82.69 L145.00,82.87 L146.00,82.87 L146.00,82.79 L147.00,82.79 L147.00,82.84 L148.00,82.84 L148.00,83.09 L149.00,83.09 L149.00,82.46 L150.00,82.46 L150.00,82.69 L151.00,82.69 L151.00,82.41 L152.00,82.41 L152.00,82.80 L153.00,82.80 L153.00,82.66 L154.00,82.66 L154.00,82.95 L155.00,82.95 L155.00,83.10 L156.00,83.10 L156.00,82.43 L157.00,82.43 L157.00,82.49 L158.00,82.49 L158.00,82.90 L159.00,82.90 L159.00,82.45 L160.00,82.45 L160.00,82.52 L161.00,82.52 L161.00,82.91 L162.00,82.91 L162.00,82.68 L163.00,82.68 L163.00,82.41 L164.00,82.41 L164.00,82.76 L165.00,82.76 L165.00,82.41 L166.00,82.41 L166.00,82.95 L167.00,82.95 L167.00,80.26 L168.00,80.26 L168.00,80.01 L169.00,80.01 L169.00,80.38 L170.00,80.38 L170.00,80.32 L171.00,80.32 L171.00,79.89 L172.00,79.89 L172.00,80.18 L173.00,80.18 L173.00,79.95 L174.00,79.95 L174.00,80.37 L175.00,80.37 L175.00,80.42 L176.00,80.42 L176.00,80.28 L177.00,80.28 L177.00,80.41 L178.00,80.41 L178.00,79.81 L179.00,79.81 L179.00,80.33 L180.00,80.33 L180.00,80.13 L181.00,80.13 L181.00,80.46 L182.00,80.46 L182.00,80.15 L183.00,80.15 L183.00,80.26 L184.00,80.26 L184.00,80.25 L185.00,80.25 L185.00,80.50 L186.00,80.50 L186.00,80.46 L187.00,80.46 L187.00,79.92 L188.00,79.92 L188.00,80.29 L189.00,80.29 L189.00,80.37 L190.00,80.37 L190.00,80.41 L191.00,80.41 L191.00,80.34 L192.00,80.34 L192.00,80.37 L193.00,80.37 L193.00,80.53 L194.00,80.53 L194.00,80.05 L195.00,80.05 L195.00,80.29 L196.00,80.29 L196.00,80.43 L197.00,80.43 L197.00,80.02 L198.00,80.02 L198.00,80.48 L199.00,80.48 L199.00,80.35 L200.00,80.35 L200.00,79.92 L201.00,79.92 L201.00,80.45 L202.00,80.45 L202.00,80.22 L203.00,80.22 L203.00,79.92 L204.00,79.92 L204.00,79.94 L205.00,79.94 L205.00,80.43 L206.00,80.43 L206.00,80.28 L207.00,80.28 L207.00,80.00 L208.00,80.00 L208.00,80.27 L209.00,80.27 L209.00,82.41 L210.00,82.41 L210.00,82.98 L211.00,82.98 L211.00,82.41 L212.00,82.41 L212.00,82.75 L213.00,82.75 L213.00,82.96 L214.00,82.96 L214.00,82.79 L215.00,82.79 L215.00,83.04 L216.00,83.04 L216.00,82.60 L217.00,82.60 L217.00,82.94 L218.00,82.94 L218.00,82.45 L219.00,82.45 L219.00,82.69 L220.00,82.69 L220.00,82.86 L221.00,82.86 L221.00,82.95 L222.00,82.95 L222.00,82.67 L223.00,82.67 L223.00,82.97 L224.00,82.97 L224.00,82.47 L225.00,82.47 L225.00,83.04 L226.00,83.04 L226.00,82.75 L227.00,82.75 L227.00,82.72 L228.00,82.72 L228.00,82.93 L229.00,82.93 L229.00,82.55 L230.00,82.55 L230.00,82.84 L231.00,82.84 L231.00,82.64 L232.00,82.64 L232.00,82.70 L233.00,82.70 L233.00,82.90 L234.00,82.90 L234.00,82.84 L235.00,82.84 L235.00,83.07 L236.00,83.07 L236.00,83.00 L237.00,83.00 L237.00,82.49 L238.00,82.49 L238.00,82.89 L239.00,82.89 L239.00,82.63 L240.00,82.63 L240.00,83.05 L241.00,83.05 L241.00,82.71 L242.00,82.71 L242.00,82.86 L243.00,82.86 L243.00,82.76 L244.00,82.76 L244.00,82.91 L245.00,82.91 L245.00,83.09 L246.00,83.09 L246.00,82.90 L247.00,82.90 L247.00,82.96 L248.00,82.96 L248.00,83.04 L249.00,83.04 L249.00,82.59 L250.00,82.59 L250.00,82.92 L251.00,82.92 L251.00,82.83 L252.00,82.83 L252.00,82.45 L253.00,82.45 L253.00,82.55 L254.00,82.55 L254.00,82.47 L255.00,82.47 L255.00,82.48 L256.00,82.48 L256.00,83.04 L257.00,83.04 L257.00,82.93 L258.00,82.93 L258.00,83.11 L259.00,83.11 L259.00,82.62 L260.00,82.62 L260.00,82.63 L261.00,82.63 L261.00,82.87 L262.00,82.87 L262.00,82.82 L263.00,82.82 L263.00,82.64 L264.00,82.64 L264.00,82.60 L265.00,82.60 L265.00,82.95 L266.00,82.95 L266.00,82.49 L267.00,82.49 L267.00,82.87 L268.00,82.87 L268.00,82.66 L269.00,82.66 L269.00,83.00 L270.00,83.00 L270.00,83.05 L271.00,83.05 L271.00,82.44 L272.00,82.44 L272.00,82.58 L273.00,82.58 L273.00,82.59 L274.00,82.59 L274.00,83.11 L275.00,83.11 L275.00,83.11 L276.00,83.11 L276.00,83.01 L277.00,83.01 L277.00,82.99 L278.00,82.99 L278.00,82.91 L279.00,82.91 L279.00,82.85 L280.00,82.85 L280.00,83.11 L281.00,83.11 L281.00,82.90 L282.00,82.90 L282.00,82.65 L283.00,82.65 L283.00,83.00 L284.00,83.00 L284.00,82.50 L285.00,82.50 L285.00,82.70 L286.00,82.70 L286.00,82.59 L287.00,82.59 L287.00,82.94 L288.00,82.94 L288.00,82.81 L289.00,82.81 L289.00,82.62 L290.00,82.62 L290.00,82.87 L291.00,82.87 L291.00,83.14 L292.00,83.14 L292.00,82.50 L293.00,82.50 L293.00,82.55 L294.00,82.55 L294.00,82.92 L295.00,82.92 L295.00,83.10 L296.00,83.10 L296.00,82.49 L297.00,82.49 L297.00,82.67 L298.00,82.67 L298.00,83.10 L299.00,83.10 L299.00,82.95 L300.00,82.95 L300.00,83.05 L301.00,83.05 L301.00,82.53 L302.00,82.53 L302.00,82.98 L303.00,82.98 L303.00,82.44 L304.00,82.44 L304.00,82.57 L305.00,82.57 L305.00,83.07 L306.00,83.07 L306.00,82.61 L307.00,82.61 L307.00,82.84 L308.00,82.84 L308.00,82.57 L309.00,82.57 L309.00,82.51 L310.00,82.51 L310.00,82.92 L311.00,82.92 L311.00,83.07 L312.00,83.07 L312.00,82.42 L313.00,82.42 L313.00,82.81 L314.00,82.81 L314.00,82.43 L315.00,82.43 L315.00,82.61 L316.00,82.61 L316.00,82.57 L317.00,82.57 L317.00,82.51 L318.00,82.51 L318.00,82.66 L319.00,82.66 L319.00,82.79 L320.00,82.79 L320.00,83.09 L321.00,83.09 L321.00,82.61 L322.00,82.61 L322.00,82.81 L323.00,82.81 L323.00,82.75 L324.00,82.75 L324.00,82.43 L325.00,82.43 L325.00,83.04 L326.00,83.04 L326.00,82.56 L327.00,82.56 L327.00,83.10 L328.00,83.10 L328.00,82.60 L329.00,82.60 L329.00,82.52 L330.00,82.52 L330.00,82.94 L331.00,82.94 L331.00,82.72 L332.00,82.72 L332.00,82.40 L333.00,82.40 L333.00,82.65 L334.00,82.65 L334.00,82.72 L335.00,82.72 L335.00,82.95 L336.00,82.95 L336.00,83.09 L337.00,83.09 L337.00,82.86 L338.00,82.86 L338.00,82.82 L339.00,82.82 L339.00,82.98 L340.00,82.98 L340.00,82.90 L341.00,82.90 L341.00,83.03 L342.00,83.03 L342.00,82.60 L343.00,82.60 L343.00,82.63 L344.00,82.63 L344.00,82.96 L345.00,82.96 L345.00,82.95 L346.00,82.95 L346.00,82.74 L347.00,82.74 L347.00,82.80 L348.00,82.80 L348.00,82.42 L349.00,82.42 L349.00,82.87 L350.00,82.87 L350.00,82.91 L351.00,82.91 L351.00,82.46 L352.00,82.46 L352.00,83.03 L353.00,83.03 L353.00,82.71 L354.00,82.71 L354.00,82.88 L355.00,82.88 L355.00,82.52 L356.00,82.52 L356.00,82.72 L357.00,82.72 L357.00,82.56 L358.00,82.56 L358.00,83.01 L359.00,83.01 L359.00,82.63 L360.00,82.63 L360.00,82.68 L361.00,82.68 L361.00,82.79 L362.00,82.79 L362.00,82.55 L363.00,82.55 L363.00,82.50 L364.00,82.50 L364.00,83.05 L365.00,83.05 L365.00,82.92 L366.00,82.92 L366.00,82.86 L367.00,82.86 L367.00,82.98 L368.00,82.98 L368.00,83.09 L369.00,83.09 L369.00,82.92 L370.00,82.92 L370.00,82.99 L371.00,82.99 L371.00,82.60 L372.00,82.60 L372.00,82.80 L373.00,82.80 L373.00,83.05 L374.00,83.05 L374.00,82.89 L375.00,82.89 L375.00,82.78 L376.00,82.78 L376.00,82.86 L377.00,82.86 L377.00,83.01 L378.00,83.01 L378.00,83.08 L379.00,83.08 L379.00,83.13 L380.00,83.13 L380.00,82.38 L381.00,82.38 L381.00,82.57 L382.00,82.57 L382.00,83.07 L383.00,83.07 L383.00,82.59 L384.00,82.59 L384.00,82.39 L385.00,82.39 L385.00,82.71 L386.00,82.71 L386.00,83.05 L387.00,83.05 L387.00,82.76 L388.00,82.76 L388.00,82.81 L389.00,82.81 L389.00,82.99 L390.00,82.99 L390.00,82.72 L391.00,82.72 L391.00,83.13 L392.00,83.13 L392.00,82.44 L393.00,82.44 L393.00,82.65 L394.00,82.65 L394.00,82.66 L395.00,82.66 L395.00,82.43 L396.00,82.43 L396.00,82.64 L397.00,82.64 L397.00,82.94 L398.00,82.94 L398.00,82.95 L399.00,82.95 L399.00,83.03 L400.00,83.03 L400.00,83.11 L401.00,83.11 L401.00,82.55 L402.00,82.55 L402.00,82.50 L403.00,82.50 L403.00,82.91 L404.00,82.91 L404.00,82.99 L405.00,82.99 L405.00,82.65 L406.00,82.65 L406.00,82.49 L407.00,82.49 L407.00,82.43 L408.00,82.43 L408.00,83.01 L409.00,83.01 L409.00,82.54 L410.00,82.54 L410.00,82.50 L411.00,82.50 L411.00,82.57 L412.00,82.57 L412.00,82.89 L413.00,82.89 L413.00,83.00 L414.00,83.00 L414.00,82.51 L415.00,82.51 L415.00,82.89 L416.00,82.89 L416.00,82.86 L417.00,82.86 L417.00,82.72 L418.00,82.72 L418.00,82.86 L419.00,82.86 L419.00,82.50 L420.00,82.50 L420.00,82.95 L421.00,82.95 L421.00,83.10 L422.00,83.10 L422.00,82.71 L423.00,82.71 L423.00,82.66 L424.00,82.66 L424.00,82.51 L425.00,82.51 L425.00,82.60 L426.00,82.60 L426.00,82.45 L427.00,82.45 L427.00,82.42 L428.00,82.42 L428.00,82.76 L428.80,82.76 L428.80,84.20 Z" fill="#f1c4cc" opacity="1.0"/>
<path d="M65.10,84.20V81.65M68.10,84.20V82.93M74.10,84.20V79.91M77.10,84.20V80.53M78.10,84.20V81.79M87.10,84.20V78.42M91.10,84.20V78.20M93.10,84.20V81.53M95.10,84.20V78.11M97.10,84.20V80.02M99.10,84.20V80.38M100.10,84.20V81.92M105.10,84.20V77.91M109.10,84.20V77.95M110.10,84.20V83.03M111.10,84.20V75.42M117.10,84.20V75.61M123.10,84.20V77.92M131.10,84.20V82.42M132.10,84.20V77.84M134.10,84.20V74.67M137.10,84.20V80.30M144.10,84.20V73.97M146.10,84.20V79.42M148.10,84.20V81.72M152.10,84.20V80.21M176.10,84.20V80.22M179.10,84.20V81.41M184.10,84.20V82.01M185.10,84.20V74.97M186.10,84.20V77.82M188.10,84.20V74.78M190.10,84.20V81.70M191.10,84.20V77.71M197.10,84.20V81.86M205.10,84.20V83.00M207.10,84.20V79.88M209.10,84.20V72.40M211.10,84.20V82.70M213.10,84.20V76.08M218.10,84.20V75.90M224.10,84.20V82.64M228.10,84.20V79.12M229.10,84.20V82.40M230.10,84.20V77.28M233.10,84.20V73.93M234.10,84.20V77.32M236.10,84.20V76.30M239.10,84.20V76.85M242.10,84.20V81.17M245.10,84.20V74.23M248.10,84.20V79.40M249.10,84.20V77.65M252.10,84.20V74.08M255.10,84.20V82.22M256.10,84.20V74.04M264.10,84.20V79.21M266.10,84.20V75.78M267.10,84.20V79.03M268.10,84.20V78.83M273.10,84.20V82.35M274.10,84.20V78.73M288.10,84.20V73.95M290.10,84.20V79.12M294.10,84.20V76.67M296.10,84.20V73.35M308.10,84.20V79.07M310.10,84.20V74.15M326.10,84.20V82.42M327.10,84.20V76.63M334.10,84.20V77.37M335.10,84.20V80.40M336.10,84.20V82.25M337.10,84.20V77.96M338.10,84.20V75.37M343.10,84.20V78.82M346.10,84.20V78.75M356.10,84.20V78.37M368.10,84.20V76.25M370.10,84.20V80.66M375.10,84.20V76.98M379.10,84.20V81.63M381.10,84.20V81.48M389.10,84.20V81.35M396.10,84.20V78.00M397.10,84.20V78.49M406.10,84.20V75.32M407.10,84.20V73.54M412.10,84.20V77.71M418.10,84.20V77.54M420.10,84.20V76.92M421.10,84.20V74.42M425.10,84.20V78.75M429.10,84.20V73.89" stroke="#eeb0bf" stroke-width="1.0" fill="none" opacity="0.85"/>
<path d="M64.50,84.20V79.47M66.50,84.20V77.90M67.50,84.20V82.06M69.50,84.20V73.33M71.50,84.20V79.64M73.50,84.20V79.05M76.50,84.20V79.51M77.50,84.20V80.56M78.50,84.20V71.78M84.50,84.20V75.26M85.50,84.20V76.47M86.50,84.20V75.59M88.50,84.20V80.63M89.50,84.20V81.65M90.50,84.20V76.36M92.50,84.20V81.37M94.50,84.20V73.08M96.50,84.20V77.39M98.50,84.20V77.12M99.50,84.20V81.76M103.50,84.20V71.54M104.50,84.20V73.46M108.50,84.20V74.09M109.50,84.20V82.27M110.50,84.20V74.90M116.50,84.20V74.45M119.50,84.20V78.68M122.50,84.20V76.09M124.50,84.20V72.33M130.50,84.20V82.22M131.50,84.20V76.66M133.50,84.20V72.92M136.50,84.20V79.01M139.50,84.20V80.69M143.50,84.20V73.28M145.50,84.20V79.15M147.50,84.20V80.82M151.50,84.20V76.37M154.50,84.20V81.06M163.50,84.20V76.59M168.50,84.20V79.66M172.50,84.20V74.24M175.50,84.20V76.70M176.50,84.20V79.22M178.50,84.20V80.06M179.50,84.20V82.33M183.50,84.20V80.83M184.50,84.20V74.67M185.50,84.20V72.38M186.50,84.20V76.36M187.50,84.20V74.11M188.50,84.20V77.44M189.50,84.20V79.92M190.50,84.20V74.93M191.50,84.20V76.10M193.50,84.20V74.59M195.50,84.20V73.70M196.50,84.20V81.15M200.50,84.20V79.18M204.50,84.20V81.90M206.50,84.20V77.33M208.50,84.20V72.33M209.50,84.20V75.98M210.50,84.20V81.57M212.50,84.20V73.65M217.50,84.20V74.51M220.50,84.20V74.14M222.50,84.20V77.01M223.50,84.20V82.31M227.50,84.20V74.32M228.50,84.20V81.88M229.50,84.20V72.16M230.50,84.20V74.54M231.50,84.20V82.15M232.50,84.20V71.64M233.50,84.20V73.81M235.50,84.20V74.59M238.50,84.20V76.54M241.50,84.20V79.97M242.50,84.20V80.48M244.50,84.20V71.50M245.50,84.20V73.07M246.50,84.20V74.38M247.50,84.20V79.13M248.50,84.20V75.18M251.50,84.20V72.83M253.50,84.20V73.06M254.50,84.20V82.19M255.50,84.20V72.49M256.50,84.20V80.83M257.50,84.20V79.04M261.50,84.20V80.15M263.50,84.20V77.22M264.50,84.20V82.23M265.50,84.20V72.88M266.50,84.20V78.07M267.50,84.20V74.54M268.50,84.20V77.31M269.50,84.20V80.36M272.50,84.20V80.74M273.50,84.20V77.17M275.50,84.20V75.12M283.50,84.20V78.17M287.50,84.20V71.45M289.50,84.20V76.01M290.50,84.20V81.35M293.50,84.20V75.05M295.50,84.20V71.77M300.50,84.20V75.80M307.50,84.20V75.81M309.50,84.20V72.53M312.50,84.20V81.10M317.50,84.20V80.79M323.50,84.20V78.59M325.50,84.20V80.98M326.50,84.20V73.78M327.50,84.20V78.43M333.50,84.20V75.21M334.50,84.20V78.70M335.50,84.20V80.50M336.50,84.20V74.77M337.50,84.20V73.41M339.50,84.20V78.13M342.50,84.20V77.91M343.50,84.20V78.29M345.50,84.20V78.54M346.50,84.20V71.78M349.50,84.20V81.78M355.50,84.20V76.22M367.50,84.20V75.22M369.50,84.20V80.30M370.50,84.20V81.62M372.50,84.20V75.20M374.50,84.20V75.09M378.50,84.20V79.10M380.50,84.20V79.86M385.50,84.20V79.42M388.50,84.20V80.49M395.50,84.20V72.40M396.50,84.20V76.90M397.50,84.20V79.75M398.50,84.20V74.86M404.50,84.20V78.01M405.50,84.20V73.07M406.50,84.20V72.36M410.50,84.20V80.40M411.50,84.20V72.42M412.50,84.20V74.00M415.50,84.20V72.56M416.50,84.20V81.91M417.50,84.20V73.39M419.50,84.20V76.59M420.50,84.20V73.33M423.50,84.20V78.60M424.50,84.20V76.75M428.50,84.20V73.48" stroke="#cc9db4" stroke-width="0.6" fill="none"/>
<path d="M63.00,111.40 L63.00,106.62 L63.75,106.62 L63.75,106.99 L64.50,106.99 L64.50,106.86 L65.25,106.86 L65.25,106.49 L66.00,106.49 L66.00,107.05 L66.75,107.05 L66.75,106.47 L67.50,106.47 L67.50,100.24 L68.25,100.24 L68.25,107.62 L69.00,107.62 L69.00,107.73 L69.75,107.73 L69.75,107.76 L70.50,107.76 L70.50,108.19 L71.25,108.19 L71.25,108.06 L72.00,108.06 L72.00,107.26 L72.75,107.26 L72.75,107.63 L73.50,107.63 L73.50,107.66 L74.25,107.66 L74.25,106.80 L75.00,106.80 L75.00,108.32 L75.75,108.32 L75.75,108.31 L76.50,108.31 L76.50,108.17 L77.25,108.17 L77.25,107.88 L78.00,107.88 L78.00,107.23 L78.75,107.23 L78.75,106.87 L79.50,106.87 L79.50,107.22 L80.25,107.22 L80.25,107.87 L81.00,107.87 L81.00,107.15 L81.75,107.15 L81.75,107.74 L82.50,107.74 L82.50,108.36 L83.25,108.36 L83.25,108.79 L84.00,108.79 L84.00,109.27 L84.75,109.27 L84.75,109.42 L85.50,109.42 L85.50,109.13 L86.25,109.13 L86.25,108.42 L87.00,108.42 L87.00,108.28 L87.75,108.28 L87.75,108.42 L88.50,108.42 L88.50,107.54 L89.25,107.54 L89.25,103.55 L90.00,103.55 L90.00,108.22 L90.75,108.22 L90.75,108.37 L91.50,108.37 L91.50,106.85 L92.25,106.85 L92.25,106.94 L93.00,106.94 L93.00,107.98 L93.75,107.98 L93.75,108.76 L94.50,108.76 L94.50,108.11 L95.25,108.11 L95.25,107.86 L96.00,107.86 L96.00,107.55 L96.75,107.55 L96.75,106.76 L97.50,106.76 L97.50,108.02 L98.25,108.02 L98.25,108.05 L99.00,108.05 L99.00,107.66 L99.75,107.66 L99.75,107.01 L100.50,107.01 L100.50,106.57 L101.25,106.57 L101.25,107.42 L102.00,107.42 L102.00,102.44 L102.75,102.44 L102.75,107.91 L103.50,107.91 L103.50,107.99 L104.25,107.99 L104.25,104.17 L105.00,104.17 L105.00,107.77 L105.75,107.77 L105.75,108.11 L106.50,108.11 L106.50,108.80 L107.25,108.80 L107.25,108.37 L108.00,108.37 L108.00,108.20 L108.75,108.20 L108.75,108.25 L109.50,108.25 L109.50,108.13 L110.25,108.13 L110.25,108.56 L111.00,108.56 L111.00,107.44 L111.75,107.44 L111.75,108.13 L112.50,108.13 L112.50,103.44 L113.25,103.44 L113.25,107.86 L114.00,107.86 L114.00,108.83 L114.75,108.83 L114.75,108.83 L115.50,108.83 L115.50,108.13 L116.25,108.13 L116.25,108.14 L117.00,108.14 L117.00,108.85 L117.75,108.85 L117.75,109.06 L118.50,109.06 L118.50,106.71 L119.25,106.71 L119.25,104.56 L120.00,104.56 L120.00,101.87 L120.75,101.87 L120.75,102.13 L121.50,102.13 L121.50,102.18 L122.25,102.18 L122.25,103.01 L123.00,103.01 L123.00,101.90 L123.75,101.90 L123.75,102.84 L124.50,102.84 L124.50,103.49 L125.25,103.49 L125.25,102.13 L126.00,102.13 L126.00,102.92 L126.75,102.92 L126.75,103.36 L127.50,103.36 L127.50,103.27 L128.25,103.27 L128.25,102.80 L129.00,102.80 L129.00,103.01 L129.75,103.01 L129.75,102.74 L130.50,102.74 L130.50,102.46 L131.25,102.46 L131.25,102.42 L132.00,102.42 L132.00,103.09 L132.75,103.09 L132.75,102.91 L133.50,102.91 L133.50,102.60 L134.25,102.60 L134.25,102.25 L135.00,102.25 L135.00,102.19 L135.75,102.19 L135.75,102.64 L136.50,102.64 L136.50,101.99 L137.25,101.99 L137.25,102.40 L138.00,102.40 L138.00,103.38 L138.75,103.38 L138.75,102.35 L139.50,102.35 L139.50,103.05 L140.25,103.05 L140.25,102.76 L141.00,102.76 L141.00,101.69 L141.75,101.69 L141.75,98.40 L142.50,98.40 L142.50,100.22 L143.25,100.22 L143.25,101.20 L144.00,101.20 L144.00,102.58 L144.75,102.58 L144.75,101.72 L145.50,101.72 L145.50,101.76 L146.25,101.76 L146.25,102.16 L147.00,102.16 L147.00,102.19 L147.75,102.19 L147.75,101.49 L148.50,101.49 L148.50,102.40 L149.25,102.40 L149.25,101.98 L150.00,101.98 L150.00,103.02 L150.75,103.02 L150.75,102.34 L151.50,102.34 L151.50,98.52 L152.25,98.52 L152.25,97.85 L153.00,97.85 L153.00,102.17 L153.75,102.17 L153.75,102.95 L154.50,102.95 L154.50,101.83 L155.25,101.83 L155.25,102.18 L156.00,102.18 L156.00,102.49 L156.75,102.49 L156.75,102.05 L157.50,102.05 L157.50,100.17 L158.25,100.17 L158.25,103.08 L159.00,103.08 L159.00,101.85 L159.75,101.85 L159.75,102.53 L160.50,102.53 L160.50,103.28 L161.25,103.28 L161.25,102.24 L162.00,102.24 L162.00,101.69 L162.75,101.69 L162.75,101.99 L163.50,101.99 L163.50,101.82 L164.25,101.82 L164.25,102.91 L165.00,102.91 L165.00,102.34 L165.75,102.34 L165.75,102.73 L166.50,102.73 L166.50,101.92 L167.25,101.92 L167.25,101.86 L168.00,101.86 L168.00,99.56 L168.75,99.56 L168.75,102.65 L169.50,102.65 L169.50,102.09 L170.25,102.09 L170.25,103.36 L171.00,103.36 L171.00,102.66 L171.75,102.66 L171.75,103.54 L172.50,103.54 L172.50,102.35 L173.25,102.35 L173.25,103.49 L174.00,103.49 L174.00,102.11 L174.75,102.11 L174.75,102.43 L175.50,102.43 L175.50,101.49 L176.25,101.49 L176.25,101.86 L177.00,101.86 L177.00,102.03 L177.75,102.03 L177.75,101.81 L178.50,101.81 L178.50,102.05 L179.25,102.05 L179.25,102.65 L180.00,102.65 L180.00,101.52 L180.75,101.52 L180.75,101.33 L181.50,101.33 L181.50,102.39 L182.25,102.39 L182.25,102.40 L183.00,102.40 L183.00,101.62 L183.75,101.62 L183.75,101.13 L184.50,101.13 L184.50,101.27 L185.25,101.27 L185.25,101.59 L186.00,101.59 L186.00,100.96 L186.75,100.96 L186.75,102.40 L187.50,102.40 L187.50,101.50 L188.25,101.50 L188.25,102.55 L189.00,102.55 L189.00,101.78 L189.75,101.78 L189.75,102.04 L190.50,102.04 L190.50,103.59 L191.25,103.59 L191.25,99.08 L192.00,99.08 L192.00,104.11 L192.75,104.11 L192.75,102.88 L193.50,102.88 L193.50,103.78 L194.25,103.78 L194.25,100.24 L195.00,100.24 L195.00,104.56 L195.75,104.56 L195.75,105.07 L196.50,105.07 L196.50,104.87 L197.25,104.87 L197.25,100.49 L198.00,100.49 L198.00,104.14 L198.75,104.14 L198.75,104.72 L199.50,104.72 L199.50,103.89 L200.25,103.89 L200.25,103.96 L201.00,103.96 L201.00,105.02 L201.75,105.02 L201.75,105.60 L202.50,105.60 L202.50,106.10 L203.25,106.10 L203.25,106.41 L204.00,106.41 L204.00,105.01 L204.75,105.01 L204.75,108.45 L205.50,108.45 L205.50,108.62 L206.25,108.62 L206.25,108.60 L207.00,108.60 L207.00,107.06 L207.75,107.06 L207.75,107.91 L208.50,107.91 L208.50,107.53 L209.25,107.53 L209.25,107.65 L210.00,107.65 L210.00,108.00 L210.75,108.00 L210.75,108.56 L211.50,108.56 L211.50,107.95 L212.25,107.95 L212.25,108.87 L213.00,108.87 L213.00,108.25 L213.75,108.25 L213.75,108.44 L214.50,108.44 L214.50,106.53 L215.25,106.53 L215.25,107.72 L216.00,107.72 L216.00,105.04 L216.75,105.04 L216.75,107.93 L217.50,107.93 L217.50,107.81 L218.25,107.81 L218.25,107.62 L219.00,107.62 L219.00,106.91 L219.75,106.91 L219.75,107.05 L220.50,107.05 L220.50,106.57 L221.25,106.57 L221.25,107.56 L222.00,107.56 L222.00,107.03 L222.75,107.03 L222.75,106.99 L223.50,106.99 L223.50,106.47 L224.25,106.47 L224.25,106.76 L225.00,106.76 L225.00,107.53 L225.75,107.53 L225.75,107.50 L226.50,107.50 L226.50,101.67 L227.25,101.67 L227.25,106.52 L228.00,106.52 L228.00,107.50 L228.75,107.50 L228.75,107.21 L229.50,107.21 L229.50,107.33 L230.25,107.33 L230.25,107.16 L231.00,107.16 L231.00,103.66 L231.75,103.66 L231.75,106.88 L232.50,106.88 L232.50,107.31 L233.25,107.31 L233.25,107.16 L234.00,107.16 L234.00,108.31 L234.75,108.31 L234.75,100.95 L235.50,100.95 L235.50,108.42 L236.25,108.42 L236.25,108.53 L237.00,108.53 L237.00,108.34 L237.75,108.34 L237.75,107.74 L238.50,107.74 L238.50,107.02 L239.25,107.02 L239.25,107.05 L240.00,107.05 L240.00,107.61 L240.75,107.61 L240.75,104.57 L241.50,104.57 L241.50,107.80 L242.25,107.80 L242.25,104.39 L243.00,104.39 L243.00,108.12 L243.75,108.12 L243.75,108.80 L244.50,108.80 L244.50,108.68 L245.25,108.68 L245.25,108.60 L246.00,108.60 L246.00,109.32 L246.75,109.32 L246.75,102.45 L247.50,102.45 L247.50,109.20 L248.25,109.20 L248.25,108.73 L249.00,108.73 L249.00,107.56 L249.75,107.56 L249.75,107.51 L250.50,107.51 L250.50,107.45 L251.25,107.45 L251.25,104.51 L252.00,104.51 L252.00,107.11 L252.75,107.11 L252.75,101.31 L253.50,101.31 L253.50,106.78 L254.25,106.78 L254.25,106.68 L255.00,106.68 L255.00,107.72 L255.75,107.72 L255.75,107.33 L256.50,107.33 L256.50,106.97 L257.25,106.97 L257.25,107.40 L258.00,107.40 L258.00,106.66 L258.75,106.66 L258.75,107.04 L259.50,107.04 L259.50,106.76 L260.25,106.76 L260.25,106.04 L261.00,106.04 L261.00,106.85 L261.75,106.85 L261.75,103.10 L262.50,103.10 L262.50,107.84 L263.25,107.84 L263.25,107.31 L264.00,107.31 L264.00,107.69 L264.75,107.69 L264.75,107.79 L265.50,107.79 L265.50,106.99 L266.25,106.99 L266.25,106.76 L267.00,106.76 L267.00,107.16 L267.75,107.16 L267.75,99.06 L268.50,99.06 L268.50,107.06 L269.25,107.06 L269.25,107.35 L270.00,107.35 L270.00,106.93 L270.75,106.93 L270.75,107.45 L271.50,107.45 L271.50,108.14 L272.25,108.14 L272.25,107.30 L273.00,107.30 L273.00,108.38 L273.75,108.38 L273.75,108.58 L274.50,108.58 L274.50,107.65 L275.25,107.65 L275.25,107.47 L276.00,107.47 L276.00,107.17 L276.75,107.17 L276.75,107.69 L277.50,107.69 L277.50,106.48 L278.25,106.48 L278.25,107.48 L279.00,107.48 L279.00,108.22 L279.75,108.22 L279.75,107.49 L280.50,107.49 L280.50,104.15 L281.25,104.15 L281.25,107.59 L282.00,107.59 L282.00,106.69 L282.75,106.69 L282.75,103.89 L283.50,103.89 L283.50,106.31 L284.25,106.31 L284.25,106.20 L285.00,106.20 L285.00,102.61 L285.75,102.61 L285.75,106.21 L286.50,106.21 L286.50,105.59 L287.25,105.59 L287.25,106.64 L288.00,106.64 L288.00,106.09 L288.75,106.09 L288.75,106.53 L289.50,106.53 L289.50,106.80 L290.25,106.80 L290.25,102.50 L291.00,102.50 L291.00,106.98 L291.75,106.98 L291.75,107.46 L292.50,107.46 L292.50,106.85 L293.25,106.85 L293.25,106.42 L294.00,106.42 L294.00,106.94 L294.75,106.94 L294.75,106.50 L295.50,106.50 L295.50,106.83 L296.25,106.83 L296.25,106.21 L297.00,106.21 L297.00,101.80 L297.75,101.80 L297.75,106.96 L298.50,106.96 L298.50,106.45 L299.25,106.45 L299.25,106.26 L300.00,106.26 L300.00,106.40 L300.75,106.40 L300.75,105.20 L301.50,105.20 L301.50,104.84 L302.25,104.84 L302.25,103.85 L303.00,103.85 L303.00,102.58 L303.75,102.58 L303.75,103.34 L304.50,103.34 L304.50,102.98 L305.25,102.98 L305.25,102.78 L306.00,102.78 L306.00,101.71 L306.75,101.71 L306.75,101.39 L307.50,101.39 L307.50,102.22 L308.25,102.22 L308.25,101.78 L309.00,101.78 L309.00,102.21 L309.75,102.21 L309.75,101.46 L310.50,101.46 L310.50,101.78 L311.25,101.78 L311.25,102.94 L312.00,102.94 L312.00,103.27 L312.75,103.27 L312.75,100.01 L313.50,100.01 L313.50,102.01 L314.25,102.01 L314.25,102.83 L315.00,102.83 L315.00,102.60 L315.75,102.60 L315.75,103.02 L316.50,103.02 L316.50,102.18 L317.25,102.18 L317.25,102.49 L318.00,102.49 L318.00,102.20 L318.75,102.20 L318.75,101.77 L319.50,101.77 L319.50,102.34 L320.25,102.34 L320.25,101.21 L321.00,101.21 L321.00,102.33 L321.75,102.33 L321.75,101.62 L322.50,101.62 L322.50,102.63 L323.25,102.63 L323.25,102.43 L324.00,102.43 L324.00,101.74 L324.75,101.74 L324.75,101.04 L325.50,101.04 L325.50,100.89 L326.25,100.89 L326.25,100.20 L327.00,100.20 L327.00,99.63 L327.75,99.63 L327.75,100.71 L328.50,100.71 L328.50,101.80 L329.25,101.80 L329.25,101.35 L330.00,101.35 L330.00,97.73 L330.75,97.73 L330.75,100.88 L331.50,100.88 L331.50,100.83 L332.25,100.83 L332.25,101.28 L333.00,101.28 L333.00,102.27 L333.75,102.27 L333.75,101.74 L334.50,101.74 L334.50,101.10 L335.25,101.10 L335.25,100.34 L336.00,100.34 L336.00,100.81 L336.75,100.81 L336.75,101.91 L337.50,101.91 L337.50,102.09 L338.25,102.09 L338.25,101.92 L339.00,101.92 L339.00,101.39 L339.75,101.39 L339.75,101.29 L340.50,101.29 L340.50,101.42 L341.25,101.42 L341.25,100.92 L342.00,100.92 L342.00,101.27 L342.75,101.27 L342.75,100.91 L343.50,100.91 L343.50,102.40 L344.25,102.40 L344.25,98.06 L345.00,98.06 L345.00,102.01 L345.75,102.01 L345.75,100.28 L346.50,100.28 L346.50,101.66 L347.25,101.66 L347.25,102.78 L348.00,102.78 L348.00,102.82 L348.75,102.82 L348.75,102.19 L349.50,102.19 L349.50,102.49 L350.25,102.49 L350.25,102.43 L351.00,102.43 L351.00,102.64 L351.75,102.64 L351.75,102.21 L352.50,102.21 L352.50,101.78 L353.25,101.78 L353.25,98.86 L354.00,98.86 L354.00,101.62 L354.75,101.62 L354.75,102.43 L355.50,102.43 L355.50,102.82 L356.25,102.82 L356.25,102.60 L357.00,102.60 L357.00,101.58 L357.75,101.58 L357.75,101.78 L358.50,101.78 L358.50,102.10 L359.25,102.10 L359.25,101.59 L360.00,101.59 L360.00,101.42 L360.75,101.42 L360.75,102.20 L361.50,102.20 L361.50,101.56 L362.25,101.56 L362.25,101.71 L363.00,101.71 L363.00,104.74 L363.75,104.74 L363.75,105.95 L364.50,105.95 L364.50,107.26 L365.25,107.26 L365.25,104.64 L366.00,104.64 L366.00,106.87 L366.75,106.87 L366.75,103.39 L367.50,103.39 L367.50,106.24 L368.25,106.24 L368.25,107.09 L369.00,107.09 L369.00,98.43 L369.75,98.43 L369.75,106.93 L370.50,106.93 L370.50,106.10 L371.25,106.10 L371.25,106.23 L372.00,106.23 L372.00,105.92 L372.75,105.92 L372.75,102.80 L373.50,102.80 L373.50,106.92 L374.25,106.92 L374.25,106.18 L375.00,106.18 L375.00,105.68 L375.75,105.68 L375.75,106.23 L376.50,106.23 L376.50,107.22 L377.25,107.22 L377.25,106.76 L378.00,106.76 L378.00,102.84 L378.75,102.84 L378.75,106.24 L379.50,106.24 L379.50,106.98 L380.25,106.98 L380.25,106.27 L381.00,106.27 L381.00,100.96 L381.75,100.96 L381.75,106.62 L382.50,106.62 L382.50,105.55 L383.25,105.55 L383.25,106.40 L384.00,106.40 L384.00,106.13 L384.75,106.13 L384.75,106.59 L385.50,106.59 L385.50,107.14 L386.25,107.14 L386.25,106.97 L387.00,106.97 L387.00,105.95 L387.75,105.95 L387.75,105.58 L388.50,105.58 L388.50,99.00 L389.25,99.00 L389.25,106.03 L390.00,106.03 L390.00,105.00 L390.75,105.00 L390.75,104.74 L391.50,104.74 L391.50,105.92 L392.25,105.92 L392.25,105.98 L393.00,105.98 L393.00,106.17 L393.75,106.17 L393.75,105.43 L394.50,105.43 L394.50,104.61 L395.25,104.61 L395.25,105.41 L396.00,105.41 L396.00,105.19 L396.75,105.19 L396.75,104.26 L397.50,104.26 L397.50,103.15 L398.25,103.15 L398.25,101.91 L399.00,101.91 L399.00,98.00 L399.75,98.00 L399.75,102.37 L400.50,102.37 L400.50,101.63 L401.25,101.63 L401.25,101.84 L402.00,101.84 L402.00,102.06 L402.75,102.06 L402.75,102.71 L403.50,102.71 L403.50,102.24 L404.25,102.24 L404.25,102.44 L405.00,102.44 L405.00,102.99 L405.75,102.99 L405.75,102.59 L406.50,102.59 L406.50,102.31 L407.25,102.31 L407.25,102.81 L408.00,102.81 L408.00,101.41 L408.75,101.41 L408.75,102.68 L409.50,102.68 L409.50,101.89 L410.25,101.89 L410.25,102.81 L411.00,102.81 L411.00,97.76 L411.75,97.76 L411.75,101.81 L412.50,101.81 L412.50,102.38 L413.25,102.38 L413.25,101.68 L414.00,101.68 L414.00,102.29 L414.75,102.29 L414.75,102.35 L415.50,102.35 L415.50,101.80 L416.25,101.80 L416.25,102.83 L417.00,102.83 L417.00,102.85 L417.75,102.85 L417.75,102.94 L418.50,102.94 L418.50,101.77 L419.25,101.77 L419.25,102.32 L420.00,102.32 L420.00,101.42 L420.75,101.42 L420.75,102.07 L421.50,102.07 L421.50,102.37 L422.25,102.37 L422.25,100.70 L423.00,100.70 L423.00,101.14 L423.75,101.14 L423.75,100.88 L424.50,100.88 L424.50,100.52 L425.25,100.52 L425.25,101.54 L426.00,101.54 L426.00,100.91 L426.75,100.91 L426.75,101.81 L427.50,101.81 L427.50,101.14 L428.25,101.14 L428.25,101.35 L428.80,101.35 L428.80,111.40 Z" fill="#ad1465" opacity="1.0"/>
<path d="M68.00,111.40V97.12M78.00,111.40V97.82M90.00,111.40V101.95M107.00,111.40V99.55M114.00,111.40V96.48M118.00,111.40V97.00M130.00,111.40V96.00M164.00,111.40V96.00M204.00,111.40V98.82M211.00,111.40V98.53M220.00,111.40V103.35M239.00,111.40V96.12M241.00,111.40V102.86M244.00,111.40V99.85M251.00,111.40V100.23M254.00,111.40V101.71M255.00,111.40V101.90M267.00,111.40V102.09M268.00,111.40V97.99M276.00,111.40V96.74M278.00,111.40V96.85M290.00,111.40V100.57M300.00,111.40V96.48M302.00,111.40V97.52M327.00,111.40V96.00M352.00,111.40V96.80M354.00,111.40V96.00M373.00,111.40V99.15M375.00,111.40V97.77M377.00,111.40V98.47M389.00,111.40V100.50M392.00,111.40V96.00M395.00,111.40V96.00" stroke="#b86a9c" stroke-width="0.75" fill="none" opacity="0.9"/>
<path d="M63.00,131.00 L63.00,126.89 L63.75,126.89 L63.75,121.75 L64.50,121.75 L64.50,127.58 L65.25,127.58 L65.25,126.84 L66.00,126.84 L66.00,127.79 L66.75,127.79 L66.75,127.48 L67.50,127.48 L67.50,127.28 L68.25,127.28 L68.25,127.38 L69.00,127.38 L69.00,127.85 L69.75,127.85 L69.75,128.22 L70.50,128.22 L70.50,126.68 L71.25,126.68 L71.25,127.55 L72.00,127.55 L72.00,128.38 L72.75,128.38 L72.75,127.82 L73.50,127.82 L73.50,128.72 L74.25,128.72 L74.25,122.79 L75.00,122.79 L75.00,128.24 L75.75,128.24 L75.75,123.48 L76.50,123.48 L76.50,128.20 L77.25,128.20 L77.25,127.84 L78.00,127.84 L78.00,128.14 L78.75,128.14 L78.75,127.51 L79.50,127.51 L79.50,127.89 L80.25,127.89 L80.25,127.91 L81.00,127.91 L81.00,127.69 L81.75,127.69 L81.75,127.36 L82.50,127.36 L82.50,120.95 L83.25,120.95 L83.25,127.95 L84.00,127.95 L84.00,127.85 L84.75,127.85 L84.75,127.04 L85.50,127.04 L85.50,127.84 L86.25,127.84 L86.25,127.82 L87.00,127.82 L87.00,127.40 L87.75,127.40 L87.75,128.57 L88.50,128.57 L88.50,120.93 L89.25,120.93 L89.25,127.37 L90.00,127.37 L90.00,127.60 L90.75,127.60 L90.75,128.51 L91.50,128.51 L91.50,127.49 L92.25,127.49 L92.25,125.19 L93.00,125.19 L93.00,127.60 L93.75,127.60 L93.75,128.27 L94.50,128.27 L94.50,127.81 L95.25,127.81 L95.25,128.05 L96.00,128.05 L96.00,127.17 L96.75,127.17 L96.75,127.26 L97.50,127.26 L97.50,126.71 L98.25,126.71 L98.25,126.93 L99.00,126.93 L99.00,126.20 L99.75,126.20 L99.75,126.55 L100.50,126.55 L100.50,126.78 L101.25,126.78 L101.25,126.88 L102.00,126.88 L102.00,127.32 L102.75,127.32 L102.75,127.21 L103.50,127.21 L103.50,126.42 L104.25,126.42 L104.25,126.65 L105.00,126.65 L105.00,126.05 L105.75,126.05 L105.75,126.71 L106.50,126.71 L106.50,127.09 L107.25,127.09 L107.25,126.59 L108.00,126.59 L108.00,126.32 L108.75,126.32 L108.75,126.66 L109.50,126.66 L109.50,127.32 L110.25,127.32 L110.25,126.79 L111.00,126.79 L111.00,126.90 L111.75,126.90 L111.75,126.20 L112.50,126.20 L112.50,126.72 L113.25,126.72 L113.25,126.70 L114.00,126.70 L114.00,128.31 L114.75,128.31 L114.75,128.34 L115.50,128.34 L115.50,127.32 L116.25,127.32 L116.25,126.79 L117.00,126.79 L117.00,128.36 L117.75,128.36 L117.75,128.50 L118.50,128.50 L118.50,125.86 L119.25,125.86 L119.25,124.41 L120.00,124.41 L120.00,122.43 L120.75,122.43 L120.75,121.81 L121.50,121.81 L121.50,121.24 L122.25,121.24 L122.25,121.90 L123.00,121.90 L123.00,121.08 L123.75,121.08 L123.75,122.29 L124.50,122.29 L124.50,120.95 L125.25,120.95 L125.25,121.83 L126.00,121.83 L126.00,121.44 L126.75,121.44 L126.75,122.48 L127.50,122.48 L127.50,122.03 L128.25,122.03 L128.25,121.23 L129.00,121.23 L129.00,122.11 L129.75,122.11 L129.75,122.31 L130.50,122.31 L130.50,122.32 L131.25,122.32 L131.25,122.88 L132.00,122.88 L132.00,121.35 L132.75,121.35 L132.75,121.46 L133.50,121.46 L133.50,122.67 L134.25,122.67 L134.25,121.93 L135.00,121.93 L135.00,122.39 L135.75,122.39 L135.75,121.54 L136.50,121.54 L136.50,122.78 L137.25,122.78 L137.25,122.26 L138.00,122.26 L138.00,122.53 L138.75,122.53 L138.75,121.61 L139.50,121.61 L139.50,121.39 L140.25,121.39 L140.25,121.83 L141.00,121.83 L141.00,122.06 L141.75,122.06 L141.75,121.32 L142.50,121.32 L142.50,121.15 L143.25,121.15 L143.25,121.34 L144.00,121.34 L144.00,121.70 L144.75,121.70 L144.75,122.52 L145.50,122.52 L145.50,121.08 L146.25,121.08 L146.25,121.13 L147.00,121.13 L147.00,120.60 L147.75,120.60 L147.75,121.50 L148.50,121.50 L148.50,121.37 L149.25,121.37 L149.25,121.03 L150.00,121.03 L150.00,121.30 L150.75,121.30 L150.75,121.71 L151.50,121.71 L151.50,121.17 L152.25,121.17 L152.25,120.80 L153.00,120.80 L153.00,121.94 L153.75,121.94 L153.75,122.62 L154.50,122.62 L154.50,122.07 L155.25,122.07 L155.25,121.55 L156.00,121.55 L156.00,122.14 L156.75,122.14 L156.75,121.79 L157.50,121.79 L157.50,120.10 L158.25,120.10 L158.25,122.01 L159.00,122.01 L159.00,121.29 L159.75,121.29 L159.75,121.26 L160.50,121.26 L160.50,122.11 L161.25,122.11 L161.25,121.75 L162.00,121.75 L162.00,122.66 L162.75,122.66 L162.75,119.27 L163.50,119.27 L163.50,121.18 L164.25,121.18 L164.25,121.66 L165.00,121.66 L165.00,120.90 L165.75,120.90 L165.75,121.53 L166.50,121.53 L166.50,119.25 L167.25,119.25 L167.25,121.60 L168.00,121.60 L168.00,121.15 L168.75,121.15 L168.75,121.53 L169.50,121.53 L169.50,120.53 L170.25,120.53 L170.25,120.45 L171.00,120.45 L171.00,120.97 L171.75,120.97 L171.75,121.73 L172.50,121.73 L172.50,117.96 L173.25,117.96 L173.25,120.89 L174.00,120.89 L174.00,121.33 L174.75,121.33 L174.75,120.65 L175.50,120.65 L175.50,120.87 L176.25,120.87 L176.25,121.05 L177.00,121.05 L177.00,120.94 L177.75,120.94 L177.75,120.71 L178.50,120.71 L178.50,121.07 L179.25,121.07 L179.25,120.34 L180.00,120.34 L180.00,120.96 L180.75,120.96 L180.75,120.59 L181.50,120.59 L181.50,120.04 L182.25,120.04 L182.25,120.86 L183.00,120.86 L183.00,120.20 L183.75,120.20 L183.75,120.31 L184.50,120.31 L184.50,121.27 L185.25,121.27 L185.25,117.32 L186.00,117.32 L186.00,121.56 L186.75,121.56 L186.75,121.83 L187.50,121.83 L187.50,117.23 L188.25,117.23 L188.25,121.60 L189.00,121.60 L189.00,121.87 L189.75,121.87 L189.75,121.52 L190.50,121.52 L190.50,121.05 L191.25,121.05 L191.25,121.29 L192.00,121.29 L192.00,122.34 L192.75,122.34 L192.75,123.00 L193.50,123.00 L193.50,123.04 L194.25,123.04 L194.25,123.20 L195.00,123.20 L195.00,123.47 L195.75,123.47 L195.75,123.55 L196.50,123.55 L196.50,123.11 L197.25,123.11 L197.25,122.33 L198.00,122.33 L198.00,122.37 L198.75,122.37 L198.75,121.59 L199.50,121.59 L199.50,124.17 L200.25,124.17 L200.25,123.65 L201.00,123.65 L201.00,124.96 L201.75,124.96 L201.75,124.43 L202.50,124.43 L202.50,124.99 L203.25,124.99 L203.25,126.07 L204.00,126.07 L204.00,126.52 L204.75,126.52 L204.75,127.05 L205.50,127.05 L205.50,127.23 L206.25,127.23 L206.25,127.48 L207.00,127.48 L207.00,128.56 L207.75,128.56 L207.75,128.38 L208.50,128.38 L208.50,128.38 L209.25,128.38 L209.25,128.20 L210.00,128.20 L210.00,127.86 L210.75,127.86 L210.75,121.09 L211.50,121.09 L211.50,127.65 L212.25,127.65 L212.25,128.45 L213.00,128.45 L213.00,127.83 L213.75,127.83 L213.75,128.22 L214.50,128.22 L214.50,128.22 L215.25,128.22 L215.25,127.84 L216.00,127.84 L216.00,126.92 L216.75,126.92 L216.75,126.99 L217.50,126.99 L217.50,126.78 L218.25,126.78 L218.25,123.25 L219.00,123.25 L219.00,127.80 L219.75,127.80 L219.75,127.68 L220.50,127.68 L220.50,127.11 L221.25,127.11 L221.25,120.00 L222.00,120.00 L222.00,126.96 L222.75,126.96 L222.75,127.24 L223.50,127.24 L223.50,127.08 L224.25,127.08 L224.25,126.88 L225.00,126.88 L225.00,125.74 L225.75,125.74 L225.75,125.70 L226.50,125.70 L226.50,126.85 L227.25,126.85 L227.25,127.43 L228.00,127.43 L228.00,122.31 L228.75,122.31 L228.75,127.45 L229.50,127.45 L229.50,125.94 L230.25,125.94 L230.25,126.80 L231.00,126.80 L231.00,126.78 L231.75,126.78 L231.75,126.90 L232.50,126.90 L232.50,127.03 L233.25,127.03 L233.25,126.55 L234.00,126.55 L234.00,119.56 L234.75,119.56 L234.75,127.94 L235.50,127.94 L235.50,128.07 L236.25,128.07 L236.25,128.50 L237.00,128.50 L237.00,128.64 L237.75,128.64 L237.75,128.73 L238.50,128.73 L238.50,128.54 L239.25,128.54 L239.25,128.74 L240.00,128.74 L240.00,122.56 L240.75,122.56 L240.75,129.09 L241.50,129.09 L241.50,127.80 L242.25,127.80 L242.25,120.80 L243.00,120.80 L243.00,128.31 L243.75,128.31 L243.75,128.27 L244.50,128.27 L244.50,127.43 L245.25,127.43 L245.25,127.23 L246.00,127.23 L246.00,126.82 L246.75,126.82 L246.75,126.43 L247.50,126.43 L247.50,127.65 L248.25,127.65 L248.25,127.78 L249.00,127.78 L249.00,126.99 L249.75,126.99 L249.75,126.19 L250.50,126.19 L250.50,126.92 L251.25,126.92 L251.25,119.78 L252.00,119.78 L252.00,126.23 L252.75,126.23 L252.75,126.97 L253.50,126.97 L253.50,118.42 L254.25,118.42 L254.25,126.43 L255.00,126.43 L255.00,126.07 L255.75,126.07 L255.75,126.42 L256.50,126.42 L256.50,127.03 L257.25,127.03 L257.25,127.03 L258.00,127.03 L258.00,126.82 L258.75,126.82 L258.75,126.81 L259.50,126.81 L259.50,127.30 L260.25,127.30 L260.25,127.87 L261.00,127.87 L261.00,126.16 L261.75,126.16 L261.75,127.20 L262.50,127.20 L262.50,127.11 L263.25,127.11 L263.25,127.30 L264.00,127.30 L264.00,126.78 L264.75,126.78 L264.75,126.27 L265.50,126.27 L265.50,127.33 L266.25,127.33 L266.25,127.32 L267.00,127.32 L267.00,123.37 L267.75,123.37 L267.75,128.15 L268.50,128.15 L268.50,128.37 L269.25,128.37 L269.25,128.18 L270.00,128.18 L270.00,128.47 L270.75,128.47 L270.75,127.87 L271.50,127.87 L271.50,121.34 L272.25,121.34 L272.25,120.11 L273.00,120.11 L273.00,121.83 L273.75,121.83 L273.75,128.81 L274.50,128.81 L274.50,127.57 L275.25,127.57 L275.25,128.02 L276.00,128.02 L276.00,127.48 L276.75,127.48 L276.75,127.39 L277.50,127.39 L277.50,127.32 L278.25,127.32 L278.25,127.21 L279.00,127.21 L279.00,126.02 L279.75,126.02 L279.75,126.12 L280.50,126.12 L280.50,126.39 L281.25,126.39 L281.25,120.98 L282.00,120.98 L282.00,126.43 L282.75,126.43 L282.75,125.76 L283.50,125.76 L283.50,126.54 L284.25,126.54 L284.25,126.22 L285.00,126.22 L285.00,126.84 L285.75,126.84 L285.75,127.24 L286.50,127.24 L286.50,128.63 L287.25,128.63 L287.25,127.57 L288.00,127.57 L288.00,127.89 L288.75,127.89 L288.75,128.51 L289.50,128.51 L289.50,127.52 L290.25,127.52 L290.25,126.79 L291.00,126.79 L291.00,122.96 L291.75,122.96 L291.75,127.49 L292.50,127.49 L292.50,124.17 L293.25,124.17 L293.25,127.83 L294.00,127.83 L294.00,124.73 L294.75,124.73 L294.75,128.58 L295.50,128.58 L295.50,128.16 L296.25,128.16 L296.25,128.37 L297.00,128.37 L297.00,127.75 L297.75,127.75 L297.75,127.69 L298.50,127.69 L298.50,127.23 L299.25,127.23 L299.25,126.69 L300.00,126.69 L300.00,124.05 L300.75,124.05 L300.75,124.77 L301.50,124.77 L301.50,124.60 L302.25,124.60 L302.25,122.94 L303.00,122.94 L303.00,121.24 L303.75,121.24 L303.75,121.21 L304.50,121.21 L304.50,120.88 L305.25,120.88 L305.25,120.65 L306.00,120.65 L306.00,121.00 L306.75,121.00 L306.75,120.58 L307.50,120.58 L307.50,120.62 L308.25,120.62 L308.25,121.09 L309.00,121.09 L309.00,120.74 L309.75,120.74 L309.75,116.40 L310.50,116.40 L310.50,116.21 L311.25,116.21 L311.25,120.18 L312.00,120.18 L312.00,120.68 L312.75,120.68 L312.75,117.32 L313.50,117.32 L313.50,120.21 L314.25,120.21 L314.25,119.76 L315.00,119.76 L315.00,120.89 L315.75,120.89 L315.75,120.99 L316.50,120.99 L316.50,119.75 L317.25,119.75 L317.25,119.83 L318.00,119.83 L318.00,120.33 L318.75,120.33 L318.75,120.01 L319.50,120.01 L319.50,120.63 L320.25,120.63 L320.25,118.28 L321.00,118.28 L321.00,120.87 L321.75,120.87 L321.75,120.32 L322.50,120.32 L322.50,120.45 L323.25,120.45 L323.25,120.28 L324.00,120.28 L324.00,119.22 L324.75,119.22 L324.75,116.83 L325.50,116.83 L325.50,118.00 L326.25,118.00 L326.25,120.85 L327.00,120.85 L327.00,119.91 L327.75,119.91 L327.75,116.62 L328.50,116.62 L328.50,120.88 L329.25,120.88 L329.25,120.57 L330.00,120.57 L330.00,121.06 L330.75,121.06 L330.75,120.35 L331.50,120.35 L331.50,120.63 L332.25,120.63 L332.25,121.40 L333.00,121.40 L333.00,121.05 L333.75,121.05 L333.75,121.21 L334.50,121.21 L334.50,119.81 L335.25,119.81 L335.25,119.62 L336.00,119.62 L336.00,119.24 L336.75,119.24 L336.75,120.12 L337.50,120.12 L337.50,120.24 L338.25,120.24 L338.25,119.69 L339.00,119.69 L339.00,119.14 L339.75,119.14 L339.75,120.43 L340.50,120.43 L340.50,118.89 L341.25,118.89 L341.25,120.49 L342.00,120.49 L342.00,120.01 L342.75,120.01 L342.75,120.32 L343.50,120.32 L343.50,120.48 L344.25,120.48 L344.25,118.35 L345.00,118.35 L345.00,116.42 L345.75,116.42 L345.75,119.69 L346.50,119.69 L346.50,120.12 L347.25,120.12 L347.25,120.14 L348.00,120.14 L348.00,119.60 L348.75,119.60 L348.75,120.01 L349.50,120.01 L349.50,120.59 L350.25,120.59 L350.25,120.12 L351.00,120.12 L351.00,120.38 L351.75,120.38 L351.75,120.65 L352.50,120.65 L352.50,120.57 L353.25,120.57 L353.25,121.30 L354.00,121.30 L354.00,121.41 L354.75,121.41 L354.75,121.47 L355.50,121.47 L355.50,120.27 L356.25,120.27 L356.25,120.68 L357.00,120.68 L357.00,116.83 L357.75,116.83 L357.75,120.56 L358.50,120.56 L358.50,121.10 L359.25,121.10 L359.25,120.65 L360.00,120.65 L360.00,121.11 L360.75,121.11 L360.75,120.14 L361.50,120.14 L361.50,121.13 L362.25,121.13 L362.25,121.49 L363.00,121.49 L363.00,118.64 L363.75,118.64 L363.75,124.66 L364.50,124.66 L364.50,126.33 L365.25,126.33 L365.25,124.35 L366.00,124.35 L366.00,125.84 L366.75,125.84 L366.75,125.80 L367.50,125.80 L367.50,125.55 L368.25,125.55 L368.25,125.71 L369.00,125.71 L369.00,126.39 L369.75,126.39 L369.75,126.81 L370.50,126.81 L370.50,126.52 L371.25,126.52 L371.25,126.36 L372.00,126.36 L372.00,126.27 L372.75,126.27 L372.75,124.24 L373.50,124.24 L373.50,126.71 L374.25,126.71 L374.25,126.65 L375.00,126.65 L375.00,125.66 L375.75,125.66 L375.75,125.46 L376.50,125.46 L376.50,125.59 L377.25,125.59 L377.25,126.45 L378.00,126.45 L378.00,126.34 L378.75,126.34 L378.75,126.63 L379.50,126.63 L379.50,126.50 L380.25,126.50 L380.25,126.45 L381.00,126.45 L381.00,125.82 L381.75,125.82 L381.75,126.02 L382.50,126.02 L382.50,126.00 L383.25,126.00 L383.25,125.42 L384.00,125.42 L384.00,126.87 L384.75,126.87 L384.75,125.94 L385.50,125.94 L385.50,125.17 L386.25,125.17 L386.25,125.21 L387.00,125.21 L387.00,125.94 L387.75,125.94 L387.75,126.36 L388.50,126.36 L388.50,125.62 L389.25,125.62 L389.25,125.73 L390.00,125.73 L390.00,125.36 L390.75,125.36 L390.75,125.36 L391.50,125.36 L391.50,124.89 L392.25,124.89 L392.25,125.51 L393.00,125.51 L393.00,124.93 L393.75,124.93 L393.75,125.67 L394.50,125.67 L394.50,125.21 L395.25,125.21 L395.25,124.59 L396.00,124.59 L396.00,125.57 L396.75,125.57 L396.75,124.22 L397.50,124.22 L397.50,122.96 L398.25,122.96 L398.25,120.65 L399.00,120.65 L399.00,121.70 L399.75,121.70 L399.75,121.21 L400.50,121.21 L400.50,121.64 L401.25,121.64 L401.25,121.67 L402.00,121.67 L402.00,117.43 L402.75,117.43 L402.75,119.42 L403.50,119.42 L403.50,122.13 L404.25,122.13 L404.25,121.50 L405.00,121.50 L405.00,121.47 L405.75,121.47 L405.75,120.90 L406.50,120.90 L406.50,121.84 L407.25,121.84 L407.25,120.84 L408.00,120.84 L408.00,121.05 L408.75,121.05 L408.75,121.49 L409.50,121.49 L409.50,122.06 L410.25,122.06 L410.25,121.93 L411.00,121.93 L411.00,121.19 L411.75,121.19 L411.75,120.77 L412.50,120.77 L412.50,120.75 L413.25,120.75 L413.25,121.74 L414.00,121.74 L414.00,121.03 L414.75,121.03 L414.75,120.85 L415.50,120.85 L415.50,121.98 L416.25,121.98 L416.25,121.02 L417.00,121.02 L417.00,122.21 L417.75,122.21 L417.75,121.19 L418.50,121.19 L418.50,120.56 L419.25,120.56 L419.25,119.12 L420.00,119.12 L420.00,120.24 L420.75,120.24 L420.75,120.59 L421.50,120.59 L421.50,120.48 L422.25,120.48 L422.25,121.34 L423.00,121.34 L423.00,121.29 L423.75,121.29 L423.75,120.82 L424.50,120.82 L424.50,122.11 L425.25,122.11 L425.25,121.46 L426.00,121.46 L426.00,121.49 L426.75,121.49 L426.75,122.19 L427.50,122.19 L427.50,121.65 L428.25,121.65 L428.25,121.37 L428.80,121.37 L428.80,131.00 Z" fill="#ad1465" opacity="1.0"/>
<path d="M64.00,131.00V122.70M67.00,131.00V122.95M69.00,131.00V118.49M70.00,131.00V121.65M75.00,131.00V120.95M82.00,131.00V120.61M100.00,131.00V119.74M102.00,131.00V120.26M109.00,131.00V118.73M129.00,131.00V116.00M195.00,131.00V116.00M216.00,131.00V120.69M219.00,131.00V119.87M235.00,131.00V116.62M236.00,131.00V119.11M245.00,131.00V117.42M248.00,131.00V121.26M262.00,131.00V120.59M267.00,131.00V117.57M268.00,131.00V122.48M281.00,131.00V120.72M286.00,131.00V116.93M288.00,131.00V116.45M291.00,131.00V120.45M292.00,131.00V121.85M312.00,131.00V116.00M371.00,131.00V117.58M383.00,131.00V116.00M388.00,131.00V116.00M402.00,131.00V116.00" stroke="#b86a9c" stroke-width="0.75" fill="none" opacity="0.9"/>
<path d="M63.00,151.00 L63.00,141.57 L63.75,141.57 L63.75,148.22 L64.50,148.22 L64.50,147.96 L65.25,147.96 L65.25,148.60 L66.00,148.60 L66.00,148.33 L66.75,148.33 L66.75,148.35 L67.50,148.35 L67.50,148.50 L68.25,148.50 L68.25,148.19 L69.00,148.19 L69.00,143.98 L69.75,143.98 L69.75,147.87 L70.50,147.87 L70.50,148.46 L71.25,148.46 L71.25,148.44 L72.00,148.44 L72.00,148.12 L72.75,148.12 L72.75,148.14 L73.50,148.14 L73.50,147.79 L74.25,147.79 L74.25,147.52 L75.00,147.52 L75.00,140.20 L75.75,140.20 L75.75,146.49 L76.50,146.49 L76.50,146.89 L77.25,146.89 L77.25,146.34 L78.00,146.34 L78.00,146.63 L78.75,146.63 L78.75,146.90 L79.50,146.90 L79.50,146.34 L80.25,146.34 L80.25,146.49 L81.00,146.49 L81.00,146.91 L81.75,146.91 L81.75,146.45 L82.50,146.45 L82.50,146.42 L83.25,146.42 L83.25,146.21 L84.00,146.21 L84.00,147.27 L84.75,147.27 L84.75,147.62 L85.50,147.62 L85.50,146.87 L86.25,146.87 L86.25,147.75 L87.00,147.75 L87.00,146.53 L87.75,146.53 L87.75,139.80 L88.50,139.80 L88.50,146.64 L89.25,146.64 L89.25,146.81 L90.00,146.81 L90.00,147.94 L90.75,147.94 L90.75,147.92 L91.50,147.92 L91.50,147.44 L92.25,147.44 L92.25,147.28 L93.00,147.28 L93.00,146.48 L93.75,146.48 L93.75,144.64 L94.50,144.64 L94.50,146.25 L95.25,146.25 L95.25,146.55 L96.00,146.55 L96.00,146.43 L96.75,146.43 L96.75,145.52 L97.50,145.52 L97.50,147.16 L98.25,147.16 L98.25,147.31 L99.00,147.31 L99.00,147.25 L99.75,147.25 L99.75,147.84 L100.50,147.84 L100.50,148.18 L101.25,148.18 L101.25,148.33 L102.00,148.33 L102.00,147.31 L102.75,147.31 L102.75,147.46 L103.50,147.46 L103.50,147.02 L104.25,147.02 L104.25,147.66 L105.00,147.66 L105.00,146.62 L105.75,146.62 L105.75,146.45 L106.50,146.45 L106.50,146.75 L107.25,146.75 L107.25,146.15 L108.00,146.15 L108.00,146.14 L108.75,146.14 L108.75,147.31 L109.50,147.31 L109.50,147.33 L110.25,147.33 L110.25,147.03 L111.00,147.03 L111.00,146.32 L111.75,146.32 L111.75,138.35 L112.50,138.35 L112.50,146.25 L113.25,146.25 L113.25,146.56 L114.00,146.56 L114.00,146.55 L114.75,146.55 L114.75,145.80 L115.50,145.80 L115.50,146.09 L116.25,146.09 L116.25,143.42 L117.00,143.42 L117.00,147.21 L117.75,147.21 L117.75,146.15 L118.50,146.15 L118.50,145.92 L119.25,145.92 L119.25,146.83 L120.00,146.83 L120.00,142.62 L120.75,142.62 L120.75,140.59 L121.50,140.59 L121.50,146.30 L122.25,146.30 L122.25,145.93 L123.00,145.93 L123.00,145.38 L123.75,145.38 L123.75,145.10 L124.50,145.10 L124.50,145.36 L125.25,145.36 L125.25,146.00 L126.00,146.00 L126.00,145.12 L126.75,145.12 L126.75,144.73 L127.50,144.73 L127.50,144.61 L128.25,144.61 L128.25,145.16 L129.00,145.16 L129.00,145.60 L129.75,145.60 L129.75,144.49 L130.50,144.49 L130.50,146.04 L131.25,146.04 L131.25,145.50 L132.00,145.50 L132.00,145.85 L132.75,145.85 L132.75,145.49 L133.50,145.49 L133.50,145.55 L134.25,145.55 L134.25,145.77 L135.00,145.77 L135.00,141.92 L135.75,141.92 L135.75,145.36 L136.50,145.36 L136.50,144.80 L137.25,144.80 L137.25,140.55 L138.00,140.55 L138.00,145.74 L138.75,145.74 L138.75,142.07 L139.50,142.07 L139.50,143.14 L140.25,143.14 L140.25,144.41 L141.00,144.41 L141.00,145.03 L141.75,145.03 L141.75,144.99 L142.50,144.99 L142.50,140.42 L143.25,140.42 L143.25,145.43 L144.00,145.43 L144.00,145.62 L144.75,145.62 L144.75,144.18 L145.50,144.18 L145.50,145.17 L146.25,145.17 L146.25,145.36 L147.00,145.36 L147.00,144.91 L147.75,144.91 L147.75,144.48 L148.50,144.48 L148.50,145.18 L149.25,145.18 L149.25,146.02 L150.00,146.02 L150.00,144.09 L150.75,144.09 L150.75,144.91 L151.50,144.91 L151.50,143.63 L152.25,143.63 L152.25,144.29 L153.00,144.29 L153.00,144.61 L153.75,144.61 L153.75,141.06 L154.50,141.06 L154.50,144.12 L155.25,144.12 L155.25,144.55 L156.00,144.55 L156.00,145.26 L156.75,145.26 L156.75,145.51 L157.50,145.51 L157.50,145.03 L158.25,145.03 L158.25,144.49 L159.00,144.49 L159.00,145.04 L159.75,145.04 L159.75,144.41 L160.50,144.41 L160.50,144.97 L161.25,144.97 L161.25,143.88 L162.00,143.88 L162.00,144.94 L162.75,144.94 L162.75,144.00 L163.50,144.00 L163.50,145.30 L164.25,145.30 L164.25,144.41 L165.00,144.41 L165.00,144.73 L165.75,144.73 L165.75,144.63 L166.50,144.63 L166.50,144.09 L167.25,144.09 L167.25,142.96 L168.00,142.96 L168.00,144.05 L168.75,144.05 L168.75,144.78 L169.50,144.78 L169.50,143.77 L170.25,143.77 L170.25,144.80 L171.00,144.80 L171.00,145.31 L171.75,145.31 L171.75,144.48 L172.50,144.48 L172.50,143.96 L173.25,143.96 L173.25,145.03 L174.00,145.03 L174.00,144.16 L174.75,144.16 L174.75,144.69 L175.50,144.69 L175.50,143.60 L176.25,143.60 L176.25,144.43 L177.00,144.43 L177.00,144.05 L177.75,144.05 L177.75,144.49 L178.50,144.49 L178.50,144.21 L179.25,144.21 L179.25,144.86 L180.00,144.86 L180.00,143.86 L180.75,143.86 L180.75,143.18 L181.50,143.18 L181.50,144.17 L182.25,144.17 L182.25,143.70 L183.00,143.70 L183.00,144.52 L183.75,144.52 L183.75,143.36 L184.50,143.36 L184.50,143.93 L185.25,143.93 L185.25,144.37 L186.00,144.37 L186.00,145.48 L186.75,145.48 L186.75,144.28 L187.50,144.28 L187.50,144.94 L188.25,144.94 L188.25,144.27 L189.00,144.27 L189.00,144.38 L189.75,144.38 L189.75,145.81 L190.50,145.81 L190.50,145.29 L191.25,145.29 L191.25,145.31 L192.00,145.31 L192.00,144.20 L192.75,144.20 L192.75,143.85 L193.50,143.85 L193.50,143.76 L194.25,143.76 L194.25,144.28 L195.00,144.28 L195.00,144.46 L195.75,144.46 L195.75,144.86 L196.50,144.86 L196.50,144.07 L197.25,144.07 L197.25,143.79 L198.00,143.79 L198.00,144.21 L198.75,144.21 L198.75,143.81 L199.50,143.81 L199.50,144.83 L200.25,144.83 L200.25,145.61 L201.00,145.61 L201.00,145.64 L201.75,145.64 L201.75,145.43 L202.50,145.43 L202.50,146.24 L203.25,146.24 L203.25,147.35 L204.00,147.35 L204.00,140.29 L204.75,140.29 L204.75,147.55 L205.50,147.55 L205.50,147.16 L206.25,147.16 L206.25,146.83 L207.00,146.83 L207.00,142.21 L207.75,142.21 L207.75,147.14 L208.50,147.14 L208.50,146.95 L209.25,146.95 L209.25,148.05 L210.00,148.05 L210.00,148.32 L210.75,148.32 L210.75,147.46 L211.50,147.46 L211.50,147.57 L212.25,147.57 L212.25,148.53 L213.00,148.53 L213.00,140.11 L213.75,140.11 L213.75,147.59 L214.50,147.59 L214.50,147.36 L215.25,147.36 L215.25,148.01 L216.00,148.01 L216.00,139.37 L216.75,139.37 L216.75,147.40 L217.50,147.40 L217.50,146.97 L218.25,146.97 L218.25,146.73 L219.00,146.73 L219.00,147.08 L219.75,147.08 L219.75,140.71 L220.50,140.71 L220.50,147.38 L221.25,147.38 L221.25,146.56 L222.00,146.56 L222.00,142.48 L222.75,142.48 L222.75,146.85 L223.50,146.85 L223.50,146.41 L224.25,146.41 L224.25,146.32 L225.00,146.32 L225.00,146.18 L225.75,146.18 L225.75,145.82 L226.50,145.82 L226.50,146.94 L227.25,146.94 L227.25,146.41 L228.00,146.41 L228.00,146.80 L228.75,146.80 L228.75,147.20 L229.50,147.20 L229.50,143.26 L230.25,143.26 L230.25,148.04 L231.00,148.04 L231.00,147.27 L231.75,147.27 L231.75,147.91 L232.50,147.91 L232.50,146.84 L233.25,146.84 L233.25,147.58 L234.00,147.58 L234.00,147.13 L234.75,147.13 L234.75,147.43 L235.50,147.43 L235.50,147.16 L236.25,147.16 L236.25,147.72 L237.00,147.72 L237.00,148.04 L237.75,148.04 L237.75,143.88 L238.50,143.88 L238.50,148.44 L239.25,148.44 L239.25,148.32 L240.00,148.32 L240.00,147.84 L240.75,147.84 L240.75,148.11 L241.50,148.11 L241.50,139.91 L242.25,139.91 L242.25,148.72 L243.00,148.72 L243.00,144.58 L243.75,144.58 L243.75,148.71 L244.50,148.71 L244.50,142.38 L245.25,142.38 L245.25,143.82 L246.00,143.82 L246.00,147.26 L246.75,147.26 L246.75,142.98 L247.50,142.98 L247.50,147.16 L248.25,147.16 L248.25,147.12 L249.00,147.12 L249.00,148.01 L249.75,148.01 L249.75,147.12 L250.50,147.12 L250.50,147.80 L251.25,147.80 L251.25,146.69 L252.00,146.69 L252.00,147.91 L252.75,147.91 L252.75,147.06 L253.50,147.06 L253.50,146.95 L254.25,146.95 L254.25,147.42 L255.00,147.42 L255.00,147.43 L255.75,147.43 L255.75,147.42 L256.50,147.42 L256.50,147.99 L257.25,147.99 L257.25,145.43 L258.00,145.43 L258.00,147.28 L258.75,147.28 L258.75,148.24 L259.50,148.24 L259.50,147.27 L260.25,147.27 L260.25,147.23 L261.00,147.23 L261.00,147.10 L261.75,147.10 L261.75,147.64 L262.50,147.64 L262.50,148.18 L263.25,148.18 L263.25,147.67 L264.00,147.67 L264.00,148.41 L264.75,148.41 L264.75,141.04 L265.50,141.04 L265.50,148.84 L266.25,148.84 L266.25,148.21 L267.00,148.21 L267.00,148.25 L267.75,148.25 L267.75,147.97 L268.50,147.97 L268.50,148.05 L269.25,148.05 L269.25,148.41 L270.00,148.41 L270.00,147.88 L270.75,147.88 L270.75,146.88 L271.50,146.88 L271.50,147.94 L272.25,147.94 L272.25,147.32 L273.00,147.32 L273.00,147.95 L273.75,147.95 L273.75,141.57 L274.50,141.57 L274.50,147.97 L275.25,147.97 L275.25,147.77 L276.00,147.77 L276.00,146.84 L276.75,146.84 L276.75,146.32 L277.50,146.32 L277.50,146.35 L278.25,146.35 L278.25,145.84 L279.00,145.84 L279.00,146.29 L279.75,146.29 L279.75,146.35 L280.50,146.35 L280.50,145.48 L281.25,145.48 L281.25,145.73 L282.00,145.73 L282.00,146.68 L282.75,146.68 L282.75,147.09 L283.50,147.09 L283.50,146.39 L284.25,146.39 L284.25,146.06 L285.00,146.06 L285.00,146.05 L285.75,146.05 L285.75,145.70 L286.50,145.70 L286.50,145.85 L287.25,145.85 L287.25,146.01 L288.00,146.01 L288.00,146.11 L288.75,146.11 L288.75,146.83 L289.50,146.83 L289.50,141.94 L290.25,141.94 L290.25,147.38 L291.00,147.38 L291.00,142.42 L291.75,142.42 L291.75,144.34 L292.50,144.34 L292.50,147.05 L293.25,147.05 L293.25,146.82 L294.00,146.82 L294.00,147.59 L294.75,147.59 L294.75,141.38 L295.50,141.38 L295.50,147.03 L296.25,147.03 L296.25,146.99 L297.00,146.99 L297.00,146.91 L297.75,146.91 L297.75,147.51 L298.50,147.51 L298.50,147.24 L299.25,147.24 L299.25,147.00 L300.00,147.00 L300.00,146.83 L300.75,146.83 L300.75,146.50 L301.50,146.50 L301.50,142.45 L302.25,142.45 L302.25,144.87 L303.00,144.87 L303.00,145.29 L303.75,145.29 L303.75,141.24 L304.50,141.24 L304.50,144.91 L305.25,144.91 L305.25,144.43 L306.00,144.43 L306.00,144.47 L306.75,144.47 L306.75,144.34 L307.50,144.34 L307.50,144.00 L308.25,144.00 L308.25,144.96 L309.00,144.96 L309.00,143.49 L309.75,143.49 L309.75,144.67 L310.50,144.67 L310.50,144.89 L311.25,144.89 L311.25,143.80 L312.00,143.80 L312.00,144.16 L312.75,144.16 L312.75,144.01 L313.50,144.01 L313.50,144.19 L314.25,144.19 L314.25,144.07 L315.00,144.07 L315.00,145.14 L315.75,145.14 L315.75,144.77 L316.50,144.77 L316.50,144.74 L317.25,144.74 L317.25,144.11 L318.00,144.11 L318.00,144.65 L318.75,144.65 L318.75,144.16 L319.50,144.16 L319.50,144.62 L320.25,144.62 L320.25,143.91 L321.00,143.91 L321.00,144.27 L321.75,144.27 L321.75,143.73 L322.50,143.73 L322.50,145.21 L323.25,145.21 L323.25,145.03 L324.00,145.03 L324.00,145.14 L324.75,145.14 L324.75,144.45 L325.50,144.45 L325.50,144.61 L326.25,144.61 L326.25,144.22 L327.00,144.22 L327.00,144.40 L327.75,144.40 L327.75,143.42 L328.50,143.42 L328.50,143.04 L329.25,143.04 L329.25,143.95 L330.00,143.95 L330.00,144.02 L330.75,144.02 L330.75,143.02 L331.50,143.02 L331.50,143.36 L332.25,143.36 L332.25,139.80 L333.00,139.80 L333.00,144.01 L333.75,144.01 L333.75,143.37 L334.50,143.37 L334.50,144.44 L335.25,144.44 L335.25,143.21 L336.00,143.21 L336.00,144.25 L336.75,144.25 L336.75,144.03 L337.50,144.03 L337.50,143.96 L338.25,143.96 L338.25,144.03 L339.00,144.03 L339.00,145.36 L339.75,145.36 L339.75,145.31 L340.50,145.31 L340.50,143.70 L341.25,143.70 L341.25,144.09 L342.00,144.09 L342.00,143.94 L342.75,143.94 L342.75,144.58 L343.50,144.58 L343.50,143.96 L344.25,143.96 L344.25,143.37 L345.00,143.37 L345.00,144.55 L345.75,144.55 L345.75,144.66 L346.50,144.66 L346.50,144.01 L347.25,144.01 L347.25,139.45 L348.00,139.45 L348.00,144.23 L348.75,144.23 L348.75,143.25 L349.50,143.25 L349.50,142.72 L350.25,142.72 L350.25,144.07 L351.00,144.07 L351.00,144.35 L351.75,144.35 L351.75,143.59 L352.50,143.59 L352.50,145.03 L353.25,145.03 L353.25,143.55 L354.00,143.55 L354.00,144.06 L354.75,144.06 L354.75,144.29 L355.50,144.29 L355.50,143.39 L356.25,143.39 L356.25,143.84 L357.00,143.84 L357.00,143.47 L357.75,143.47 L357.75,143.21 L358.50,143.21 L358.50,144.69 L359.25,144.69 L359.25,143.86 L360.00,143.86 L360.00,144.50 L360.75,144.50 L360.75,143.43 L361.50,143.43 L361.50,144.26 L362.25,144.26 L362.25,141.22 L363.00,141.22 L363.00,144.74 L363.75,144.74 L363.75,145.42 L364.50,145.42 L364.50,145.96 L365.25,145.96 L365.25,145.89 L366.00,145.89 L366.00,146.62 L366.75,146.62 L366.75,146.76 L367.50,146.76 L367.50,147.62 L368.25,147.62 L368.25,147.26 L369.00,147.26 L369.00,145.84 L369.75,145.84 L369.75,146.07 L370.50,146.07 L370.50,145.69 L371.25,145.69 L371.25,145.35 L372.00,145.35 L372.00,145.03 L372.75,145.03 L372.75,145.53 L373.50,145.53 L373.50,144.85 L374.25,144.85 L374.25,144.73 L375.00,144.73 L375.00,146.40 L375.75,146.40 L375.75,146.46 L376.50,146.46 L376.50,146.09 L377.25,146.09 L377.25,146.38 L378.00,146.38 L378.00,147.34 L378.75,147.34 L378.75,146.57 L379.50,146.57 L379.50,145.76 L380.25,145.76 L380.25,142.22 L381.00,142.22 L381.00,147.26 L381.75,147.26 L381.75,146.60 L382.50,146.60 L382.50,146.25 L383.25,146.25 L383.25,146.35 L384.00,146.35 L384.00,146.76 L384.75,146.76 L384.75,145.95 L385.50,145.95 L385.50,147.50 L386.25,147.50 L386.25,147.26 L387.00,147.26 L387.00,146.74 L387.75,146.74 L387.75,146.22 L388.50,146.22 L388.50,146.34 L389.25,146.34 L389.25,139.20 L390.00,139.20 L390.00,146.13 L390.75,146.13 L390.75,146.89 L391.50,146.89 L391.50,146.39 L392.25,146.39 L392.25,147.37 L393.00,147.37 L393.00,145.87 L393.75,145.87 L393.75,146.78 L394.50,146.78 L394.50,145.50 L395.25,145.50 L395.25,145.84 L396.00,145.84 L396.00,146.53 L396.75,146.53 L396.75,145.00 L397.50,145.00 L397.50,145.49 L398.25,145.49 L398.25,144.05 L399.00,144.05 L399.00,144.58 L399.75,144.58 L399.75,143.21 L400.50,143.21 L400.50,143.76 L401.25,143.76 L401.25,144.23 L402.00,144.23 L402.00,144.84 L402.75,144.84 L402.75,144.64 L403.50,144.64 L403.50,144.45 L404.25,144.45 L404.25,144.07 L405.00,144.07 L405.00,145.14 L405.75,145.14 L405.75,144.42 L406.50,144.42 L406.50,141.41 L407.25,141.41 L407.25,144.07 L408.00,144.07 L408.00,143.49 L408.75,143.49 L408.75,143.62 L409.50,143.62 L409.50,144.23 L410.25,144.23 L410.25,143.64 L411.00,143.64 L411.00,143.95 L411.75,143.95 L411.75,143.27 L412.50,143.27 L412.50,144.30 L413.25,144.30 L413.25,143.53 L414.00,143.53 L414.00,144.67 L414.75,144.67 L414.75,142.27 L415.50,142.27 L415.50,144.21 L416.25,144.21 L416.25,143.94 L417.00,143.94 L417.00,144.01 L417.75,144.01 L417.75,144.13 L418.50,144.13 L418.50,144.54 L419.25,144.54 L419.25,144.48 L420.00,144.48 L420.00,144.43 L420.75,144.43 L420.75,145.03 L421.50,145.03 L421.50,144.33 L422.25,144.33 L422.25,144.11 L423.00,144.11 L423.00,144.22 L423.75,144.22 L423.75,144.78 L424.50,144.78 L424.50,145.13 L425.25,145.13 L425.25,139.80 L426.00,139.80 L426.00,145.05 L426.75,145.05 L426.75,144.86 L427.50,144.86 L427.50,143.80 L428.25,143.80 L428.25,143.66 L428.80,143.66 L428.80,151.00 Z" fill="#ad1465" opacity="1.0"/>
<path d="M71.00,151.00V136.25M76.00,151.00V140.24M89.00,151.00V140.23M90.00,151.00V139.13M96.00,151.00V136.49M98.00,151.00V135.67M107.00,151.00V137.00M110.00,151.00V142.41M117.00,151.00V138.67M119.00,151.00V137.14M179.00,151.00V135.60M207.00,151.00V137.73M216.00,151.00V140.15M220.00,151.00V136.98M227.00,151.00V137.63M234.00,151.00V141.90M241.00,151.00V138.65M243.00,151.00V136.17M254.00,151.00V139.08M263.00,151.00V142.17M266.00,151.00V139.15M272.00,151.00V135.98M283.00,151.00V137.08M284.00,151.00V138.38M285.00,151.00V142.56M286.00,151.00V137.70M291.00,151.00V135.60M294.00,151.00V136.27M298.00,151.00V138.22M328.00,151.00V139.28M378.00,151.00V135.60M383.00,151.00V140.18M384.00,151.00V135.60M386.00,151.00V139.67M394.00,151.00V137.76M396.00,151.00V137.54M428.00,151.00V135.60" stroke="#b86a9c" stroke-width="0.75" fill="none" opacity="0.9"/>
<path d="M63.00,170.70 L63.00,167.45 L63.75,167.45 L63.75,167.26 L64.50,167.26 L64.50,168.44 L65.25,168.44 L65.25,168.52 L66.00,168.52 L66.00,162.01 L66.75,162.01 L66.75,167.15 L67.50,167.15 L67.50,167.86 L68.25,167.86 L68.25,167.77 L69.00,167.77 L69.00,167.21 L69.75,167.21 L69.75,166.76 L70.50,166.76 L70.50,167.64 L71.25,167.64 L71.25,168.44 L72.00,168.44 L72.00,168.55 L72.75,168.55 L72.75,168.33 L73.50,168.33 L73.50,167.58 L74.25,167.58 L74.25,168.34 L75.00,168.34 L75.00,168.01 L75.75,168.01 L75.75,168.37 L76.50,168.37 L76.50,168.29 L77.25,168.29 L77.25,167.77 L78.00,167.77 L78.00,168.50 L78.75,168.50 L78.75,168.17 L79.50,168.17 L79.50,167.43 L80.25,167.43 L80.25,166.91 L81.00,166.91 L81.00,166.98 L81.75,166.98 L81.75,167.46 L82.50,167.46 L82.50,163.00 L83.25,163.00 L83.25,166.87 L84.00,166.87 L84.00,166.54 L84.75,166.54 L84.75,166.20 L85.50,166.20 L85.50,166.70 L86.25,166.70 L86.25,167.50 L87.00,167.50 L87.00,165.98 L87.75,165.98 L87.75,166.54 L88.50,166.54 L88.50,165.65 L89.25,165.65 L89.25,165.32 L90.00,165.32 L90.00,166.08 L90.75,166.08 L90.75,162.16 L91.50,162.16 L91.50,165.79 L92.25,165.79 L92.25,166.26 L93.00,166.26 L93.00,158.99 L93.75,158.99 L93.75,166.74 L94.50,166.74 L94.50,167.79 L95.25,167.79 L95.25,167.96 L96.00,167.96 L96.00,168.27 L96.75,168.27 L96.75,168.15 L97.50,168.15 L97.50,167.70 L98.25,167.70 L98.25,167.48 L99.00,167.48 L99.00,168.01 L99.75,168.01 L99.75,167.20 L100.50,167.20 L100.50,160.68 L101.25,160.68 L101.25,167.35 L102.00,167.35 L102.00,167.64 L102.75,167.64 L102.75,160.45 L103.50,160.45 L103.50,166.64 L104.25,166.64 L104.25,167.23 L105.00,167.23 L105.00,166.04 L105.75,166.04 L105.75,166.88 L106.50,166.88 L106.50,167.88 L107.25,167.88 L107.25,167.61 L108.00,167.61 L108.00,166.42 L108.75,166.42 L108.75,167.05 L109.50,167.05 L109.50,160.66 L110.25,160.66 L110.25,167.38 L111.00,167.38 L111.00,166.18 L111.75,166.18 L111.75,166.63 L112.50,166.63 L112.50,166.70 L113.25,166.70 L113.25,167.19 L114.00,167.19 L114.00,166.86 L114.75,166.86 L114.75,161.28 L115.50,161.28 L115.50,167.27 L116.25,167.27 L116.25,167.41 L117.00,167.41 L117.00,166.41 L117.75,166.41 L117.75,166.76 L118.50,166.76 L118.50,167.14 L119.25,167.14 L119.25,166.39 L120.00,166.39 L120.00,167.52 L120.75,167.52 L120.75,166.55 L121.50,166.55 L121.50,166.87 L122.25,166.87 L122.25,167.24 L123.00,167.24 L123.00,166.03 L123.75,166.03 L123.75,165.43 L124.50,165.43 L124.50,166.25 L125.25,166.25 L125.25,166.78 L126.00,166.78 L126.00,165.80 L126.75,165.80 L126.75,166.27 L127.50,166.27 L127.50,159.21 L128.25,159.21 L128.25,165.53 L129.00,165.53 L129.00,165.36 L129.75,165.36 L129.75,165.18 L130.50,165.18 L130.50,166.20 L131.25,166.20 L131.25,166.29 L132.00,166.29 L132.00,165.67 L132.75,165.67 L132.75,160.92 L133.50,160.92 L133.50,165.28 L134.25,165.28 L134.25,160.38 L135.00,160.38 L135.00,165.75 L135.75,165.75 L135.75,164.76 L136.50,164.76 L136.50,166.44 L137.25,166.44 L137.25,166.43 L138.00,166.43 L138.00,165.68 L138.75,165.68 L138.75,165.87 L139.50,165.87 L139.50,166.33 L140.25,166.33 L140.25,166.84 L141.00,166.84 L141.00,166.49 L141.75,166.49 L141.75,165.55 L142.50,165.55 L142.50,162.15 L143.25,162.15 L143.25,166.20 L144.00,166.20 L144.00,163.61 L144.75,163.61 L144.75,166.66 L145.50,166.66 L145.50,161.56 L146.25,161.56 L146.25,166.11 L147.00,166.11 L147.00,162.40 L147.75,162.40 L147.75,160.17 L148.50,160.17 L148.50,165.62 L149.25,165.62 L149.25,160.43 L150.00,160.43 L150.00,164.68 L150.75,164.68 L150.75,165.13 L151.50,165.13 L151.50,165.08 L152.25,165.08 L152.25,165.15 L153.00,165.15 L153.00,166.08 L153.75,166.08 L153.75,165.00 L154.50,165.00 L154.50,165.53 L155.25,165.53 L155.25,165.16 L156.00,165.16 L156.00,166.53 L156.75,166.53 L156.75,166.75 L157.50,166.75 L157.50,166.06 L158.25,166.06 L158.25,165.87 L159.00,165.87 L159.00,165.05 L159.75,165.05 L159.75,157.78 L160.50,157.78 L160.50,158.08 L161.25,158.08 L161.25,165.95 L162.00,165.95 L162.00,165.42 L162.75,165.42 L162.75,165.52 L163.50,165.52 L163.50,158.91 L164.25,158.91 L164.25,165.56 L165.00,165.56 L165.00,166.07 L165.75,166.07 L165.75,165.44 L166.50,165.44 L166.50,166.35 L167.25,166.35 L167.25,165.40 L168.00,165.40 L168.00,164.85 L168.75,164.85 L168.75,165.03 L169.50,165.03 L169.50,165.29 L170.25,165.29 L170.25,165.65 L171.00,165.65 L171.00,162.11 L171.75,162.11 L171.75,165.58 L172.50,165.58 L172.50,165.00 L173.25,165.00 L173.25,164.98 L174.00,164.98 L174.00,164.67 L174.75,164.67 L174.75,165.24 L175.50,165.24 L175.50,165.73 L176.25,165.73 L176.25,166.06 L177.00,166.06 L177.00,165.44 L177.75,165.44 L177.75,165.20 L178.50,165.20 L178.50,164.23 L179.25,164.23 L179.25,164.27 L180.00,164.27 L180.00,164.46 L180.75,164.46 L180.75,164.86 L181.50,164.86 L181.50,165.61 L182.25,165.61 L182.25,165.08 L183.00,165.08 L183.00,164.87 L183.75,164.87 L183.75,165.56 L184.50,165.56 L184.50,166.26 L185.25,166.26 L185.25,165.15 L186.00,165.15 L186.00,165.71 L186.75,165.71 L186.75,165.80 L187.50,165.80 L187.50,165.46 L188.25,165.46 L188.25,164.97 L189.00,164.97 L189.00,165.99 L189.75,165.99 L189.75,165.30 L190.50,165.30 L190.50,164.97 L191.25,164.97 L191.25,160.49 L192.00,160.49 L192.00,164.87 L192.75,164.87 L192.75,164.87 L193.50,164.87 L193.50,163.85 L194.25,163.85 L194.25,164.24 L195.00,164.24 L195.00,163.55 L195.75,163.55 L195.75,160.35 L196.50,160.35 L196.50,159.18 L197.25,159.18 L197.25,163.87 L198.00,163.87 L198.00,164.59 L198.75,164.59 L198.75,164.95 L199.50,164.95 L199.50,164.59 L200.25,164.59 L200.25,164.24 L201.00,164.24 L201.00,162.03 L201.75,162.03 L201.75,165.08 L202.50,165.08 L202.50,166.41 L203.25,166.41 L203.25,166.55 L204.00,166.55 L204.00,167.30 L204.75,167.30 L204.75,166.94 L205.50,166.94 L205.50,167.76 L206.25,167.76 L206.25,166.81 L207.00,166.81 L207.00,167.23 L207.75,167.23 L207.75,162.42 L208.50,162.42 L208.50,167.33 L209.25,167.33 L209.25,166.59 L210.00,166.59 L210.00,166.81 L210.75,166.81 L210.75,166.89 L211.50,166.89 L211.50,165.94 L212.25,165.94 L212.25,165.69 L213.00,165.69 L213.00,166.53 L213.75,166.53 L213.75,166.55 L214.50,166.55 L214.50,166.30 L215.25,166.30 L215.25,166.08 L216.00,166.08 L216.00,166.71 L216.75,166.71 L216.75,165.94 L217.50,165.94 L217.50,161.17 L218.25,161.17 L218.25,166.07 L219.00,166.07 L219.00,166.96 L219.75,166.96 L219.75,166.81 L220.50,166.81 L220.50,167.24 L221.25,167.24 L221.25,166.99 L222.00,166.99 L222.00,166.97 L222.75,166.97 L222.75,167.01 L223.50,167.01 L223.50,166.60 L224.25,166.60 L224.25,166.58 L225.00,166.58 L225.00,166.84 L225.75,166.84 L225.75,167.47 L226.50,167.47 L226.50,161.03 L227.25,161.03 L227.25,168.24 L228.00,168.24 L228.00,168.23 L228.75,168.23 L228.75,167.49 L229.50,167.49 L229.50,166.83 L230.25,166.83 L230.25,167.21 L231.00,167.21 L231.00,167.93 L231.75,167.93 L231.75,167.51 L232.50,167.51 L232.50,167.35 L233.25,167.35 L233.25,167.44 L234.00,167.44 L234.00,160.17 L234.75,160.17 L234.75,166.78 L235.50,166.78 L235.50,165.83 L236.25,165.83 L236.25,165.78 L237.00,165.78 L237.00,167.19 L237.75,167.19 L237.75,166.83 L238.50,166.83 L238.50,166.26 L239.25,166.26 L239.25,166.08 L240.00,166.08 L240.00,167.11 L240.75,167.11 L240.75,166.31 L241.50,166.31 L241.50,166.89 L242.25,166.89 L242.25,167.35 L243.00,167.35 L243.00,166.67 L243.75,166.67 L243.75,166.06 L244.50,166.06 L244.50,166.24 L245.25,166.24 L245.25,163.79 L246.00,163.79 L246.00,165.71 L246.75,165.71 L246.75,159.95 L247.50,159.95 L247.50,166.99 L248.25,166.99 L248.25,166.87 L249.00,166.87 L249.00,167.60 L249.75,167.60 L249.75,168.28 L250.50,168.28 L250.50,168.15 L251.25,168.15 L251.25,167.58 L252.00,167.58 L252.00,167.96 L252.75,167.96 L252.75,168.24 L253.50,168.24 L253.50,167.87 L254.25,167.87 L254.25,167.25 L255.00,167.25 L255.00,167.81 L255.75,167.81 L255.75,167.33 L256.50,167.33 L256.50,166.44 L257.25,166.44 L257.25,166.81 L258.00,166.81 L258.00,166.46 L258.75,166.46 L258.75,166.72 L259.50,166.72 L259.50,167.21 L260.25,167.21 L260.25,167.50 L261.00,167.50 L261.00,166.68 L261.75,166.68 L261.75,166.79 L262.50,166.79 L262.50,162.45 L263.25,162.45 L263.25,167.53 L264.00,167.53 L264.00,166.85 L264.75,166.85 L264.75,167.52 L265.50,167.52 L265.50,167.82 L266.25,167.82 L266.25,168.01 L267.00,168.01 L267.00,167.13 L267.75,167.13 L267.75,166.63 L268.50,166.63 L268.50,166.09 L269.25,166.09 L269.25,166.89 L270.00,166.89 L270.00,166.42 L270.75,166.42 L270.75,165.87 L271.50,165.87 L271.50,165.81 L272.25,165.81 L272.25,166.05 L273.00,166.05 L273.00,159.43 L273.75,159.43 L273.75,166.73 L274.50,166.73 L274.50,167.49 L275.25,167.49 L275.25,167.11 L276.00,167.11 L276.00,168.02 L276.75,168.02 L276.75,166.95 L277.50,166.95 L277.50,167.15 L278.25,167.15 L278.25,167.05 L279.00,167.05 L279.00,166.19 L279.75,166.19 L279.75,167.11 L280.50,167.11 L280.50,167.46 L281.25,167.46 L281.25,167.18 L282.00,167.18 L282.00,168.16 L282.75,168.16 L282.75,164.70 L283.50,164.70 L283.50,167.88 L284.25,167.88 L284.25,167.60 L285.00,167.60 L285.00,167.48 L285.75,167.48 L285.75,168.14 L286.50,168.14 L286.50,168.87 L287.25,168.87 L287.25,167.96 L288.00,167.96 L288.00,168.46 L288.75,168.46 L288.75,167.53 L289.50,167.53 L289.50,167.94 L290.25,167.94 L290.25,162.25 L291.00,162.25 L291.00,160.47 L291.75,160.47 L291.75,167.40 L292.50,167.40 L292.50,160.98 L293.25,160.98 L293.25,167.53 L294.00,167.53 L294.00,167.21 L294.75,167.21 L294.75,166.44 L295.50,166.44 L295.50,166.80 L296.25,166.80 L296.25,166.55 L297.00,166.55 L297.00,167.09 L297.75,167.09 L297.75,166.27 L298.50,166.27 L298.50,166.34 L299.25,166.34 L299.25,166.86 L300.00,166.86 L300.00,165.40 L300.75,165.40 L300.75,165.72 L301.50,165.72 L301.50,165.51 L302.25,165.51 L302.25,165.98 L303.00,165.98 L303.00,167.02 L303.75,167.02 L303.75,166.60 L304.50,166.60 L304.50,157.49 L305.25,157.49 L305.25,165.15 L306.00,165.15 L306.00,161.68 L306.75,161.68 L306.75,165.66 L307.50,165.66 L307.50,164.99 L308.25,164.99 L308.25,157.44 L309.00,157.44 L309.00,165.10 L309.75,165.10 L309.75,164.82 L310.50,164.82 L310.50,165.37 L311.25,165.37 L311.25,164.97 L312.00,164.97 L312.00,165.77 L312.75,165.77 L312.75,165.70 L313.50,165.70 L313.50,165.51 L314.25,165.51 L314.25,164.65 L315.00,164.65 L315.00,165.13 L315.75,165.13 L315.75,165.05 L316.50,165.05 L316.50,165.59 L317.25,165.59 L317.25,164.23 L318.00,164.23 L318.00,164.73 L318.75,164.73 L318.75,164.56 L319.50,164.56 L319.50,164.51 L320.25,164.51 L320.25,164.95 L321.00,164.95 L321.00,164.22 L321.75,164.22 L321.75,164.41 L322.50,164.41 L322.50,164.91 L323.25,164.91 L323.25,165.10 L324.00,165.10 L324.00,164.73 L324.75,164.73 L324.75,162.16 L325.50,162.16 L325.50,161.10 L326.25,161.10 L326.25,164.81 L327.00,164.81 L327.00,164.99 L327.75,164.99 L327.75,164.77 L328.50,164.77 L328.50,164.61 L329.25,164.61 L329.25,164.45 L330.00,164.45 L330.00,164.49 L330.75,164.49 L330.75,163.42 L331.50,163.42 L331.50,164.09 L332.25,164.09 L332.25,164.46 L333.00,164.46 L333.00,164.67 L333.75,164.67 L333.75,164.52 L334.50,164.52 L334.50,164.91 L335.25,164.91 L335.25,165.46 L336.00,165.46 L336.00,165.66 L336.75,165.66 L336.75,165.58 L337.50,165.58 L337.50,165.92 L338.25,165.92 L338.25,161.43 L339.00,161.43 L339.00,165.10 L339.75,165.10 L339.75,164.91 L340.50,164.91 L340.50,165.48 L341.25,165.48 L341.25,165.72 L342.00,165.72 L342.00,164.67 L342.75,164.67 L342.75,165.28 L343.50,165.28 L343.50,165.56 L344.25,165.56 L344.25,165.29 L345.00,165.29 L345.00,165.18 L345.75,165.18 L345.75,164.96 L346.50,164.96 L346.50,164.66 L347.25,164.66 L347.25,164.65 L348.00,164.65 L348.00,165.44 L348.75,165.44 L348.75,164.73 L349.50,164.73 L349.50,165.38 L350.25,165.38 L350.25,165.42 L351.00,165.42 L351.00,166.48 L351.75,166.48 L351.75,161.97 L352.50,161.97 L352.50,164.56 L353.25,164.56 L353.25,165.03 L354.00,165.03 L354.00,164.53 L354.75,164.53 L354.75,164.60 L355.50,164.60 L355.50,165.72 L356.25,165.72 L356.25,165.44 L357.00,165.44 L357.00,165.94 L357.75,165.94 L357.75,165.59 L358.50,165.59 L358.50,164.10 L359.25,164.10 L359.25,165.08 L360.00,165.08 L360.00,164.25 L360.75,164.25 L360.75,164.20 L361.50,164.20 L361.50,164.83 L362.25,164.83 L362.25,163.98 L363.00,163.98 L363.00,164.19 L363.75,164.19 L363.75,164.73 L364.50,164.73 L364.50,165.02 L365.25,165.02 L365.25,165.35 L366.00,165.35 L366.00,163.42 L366.75,163.42 L366.75,165.75 L367.50,165.75 L367.50,166.28 L368.25,166.28 L368.25,166.48 L369.00,166.48 L369.00,166.25 L369.75,166.25 L369.75,166.55 L370.50,166.55 L370.50,167.36 L371.25,167.36 L371.25,166.89 L372.00,166.89 L372.00,167.39 L372.75,167.39 L372.75,167.31 L373.50,167.31 L373.50,167.08 L374.25,167.08 L374.25,167.27 L375.00,167.27 L375.00,166.60 L375.75,166.60 L375.75,166.01 L376.50,166.01 L376.50,161.61 L377.25,161.61 L377.25,166.63 L378.00,166.63 L378.00,167.52 L378.75,167.52 L378.75,167.41 L379.50,167.41 L379.50,166.63 L380.25,166.63 L380.25,166.74 L381.00,166.74 L381.00,167.48 L381.75,167.48 L381.75,167.47 L382.50,167.47 L382.50,168.10 L383.25,168.10 L383.25,167.97 L384.00,167.97 L384.00,168.00 L384.75,168.00 L384.75,168.29 L385.50,168.29 L385.50,166.70 L386.25,166.70 L386.25,166.45 L387.00,166.45 L387.00,166.15 L387.75,166.15 L387.75,165.74 L388.50,165.74 L388.50,158.70 L389.25,158.70 L389.25,166.62 L390.00,166.62 L390.00,166.42 L390.75,166.42 L390.75,165.57 L391.50,165.57 L391.50,162.47 L392.25,162.47 L392.25,165.37 L393.00,165.37 L393.00,165.36 L393.75,165.36 L393.75,164.79 L394.50,164.79 L394.50,165.71 L395.25,165.71 L395.25,165.81 L396.00,165.81 L396.00,165.01 L396.75,165.01 L396.75,165.22 L397.50,165.22 L397.50,165.58 L398.25,165.58 L398.25,166.15 L399.00,166.15 L399.00,165.89 L399.75,165.89 L399.75,165.28 L400.50,165.28 L400.50,164.84 L401.25,164.84 L401.25,165.02 L402.00,165.02 L402.00,166.17 L402.75,166.17 L402.75,166.00 L403.50,166.00 L403.50,165.44 L404.25,165.44 L404.25,165.57 L405.00,165.57 L405.00,164.78 L405.75,164.78 L405.75,164.90 L406.50,164.90 L406.50,165.37 L407.25,165.37 L407.25,166.03 L408.00,166.03 L408.00,166.29 L408.75,166.29 L408.75,166.27 L409.50,166.27 L409.50,165.98 L410.25,165.98 L410.25,164.90 L411.00,164.90 L411.00,166.40 L411.75,166.40 L411.75,164.19 L412.50,164.19 L412.50,165.06 L413.25,165.06 L413.25,164.86 L414.00,164.86 L414.00,164.89 L414.75,164.89 L414.75,164.62 L415.50,164.62 L415.50,165.59 L416.25,165.59 L416.25,164.97 L417.00,164.97 L417.00,165.82 L417.75,165.82 L417.75,165.90 L418.50,165.90 L418.50,165.03 L419.25,165.03 L419.25,165.90 L420.00,165.90 L420.00,161.90 L420.75,161.90 L420.75,165.79 L421.50,165.79 L421.50,165.40 L422.25,165.40 L422.25,162.92 L423.00,162.92 L423.00,163.49 L423.75,163.49 L423.75,164.35 L424.50,164.35 L424.50,164.49 L425.25,164.49 L425.25,165.25 L426.00,165.25 L426.00,165.56 L426.75,165.56 L426.75,162.40 L427.50,162.40 L427.50,161.00 L428.25,161.00 L428.25,164.73 L428.80,164.73 L428.80,170.70 Z" fill="#ad1465" opacity="1.0"/>
<path d="M65.00,170.70V157.65M68.00,170.70V162.34M70.00,170.70V156.45M81.00,170.70V157.83M88.00,170.70V155.71M90.00,170.70V161.58M106.00,170.70V161.18M108.00,170.70V157.99M119.00,170.70V156.04M120.00,170.70V161.96M125.00,170.70V155.60M134.00,170.70V158.57M137.00,170.70V157.95M138.00,170.70V157.81M139.00,170.70V155.91M142.00,170.70V156.64M155.00,170.70V157.85M158.00,170.70V160.67M163.00,170.70V160.88M168.00,170.70V159.11M175.00,170.70V160.53M177.00,170.70V155.60M178.00,170.70V161.13M183.00,170.70V159.04M195.00,170.70V156.40M199.00,170.70V157.12M204.00,170.70V157.07M228.00,170.70V161.49M230.00,170.70V158.47M236.00,170.70V160.26M237.00,170.70V161.54M239.00,170.70V158.24M253.00,170.70V155.97M263.00,170.70V162.53M269.00,170.70V159.42M271.00,170.70V162.56M286.00,170.70V159.97M294.00,170.70V155.74M295.00,170.70V158.39M301.00,170.70V161.05M333.00,170.70V158.97M340.00,170.70V157.60M370.00,170.70V159.18M375.00,170.70V156.95M377.00,170.70V158.67" stroke="#b86a9c" stroke-width="0.75" fill="none" opacity="0.9"/>
<path d="M63.00,197.60 L63.00,183.00 L65.13,183.00 L65.13,183.05 L67.22,183.05 L67.22,183.08 L68.42,183.08 L68.42,189.27 L70.19,189.27 L70.19,182.72 L71.17,182.72 L71.17,183.33 L72.72,183.33 L72.72,182.68 L73.69,182.68 L73.69,183.00 L74.56,183.00 L74.56,182.87 L76.28,182.87 L76.28,191.65 L78.10,191.65 L78.10,183.13 L79.38,183.13 L79.38,182.74 L80.52,182.74 L80.52,186.25 L81.76,186.25 L81.76,182.91 L83.83,182.91 L83.83,187.82 L85.99,187.82 L85.99,188.35 L87.47,188.35 L87.47,183.00 L88.84,183.00 L88.84,186.09 L89.94,186.09 L89.94,183.05 L91.78,183.05 L91.78,182.97 L93.81,182.97 L93.81,183.10 L95.70,183.10 L95.70,191.10 L96.53,191.10 L96.53,182.81 L98.29,182.81 L98.29,186.74 L99.27,186.74 L99.27,182.81 L101.47,182.81 L101.47,187.11 L102.87,187.11 L102.87,189.06 L104.33,189.06 L104.33,191.21 L105.87,191.21 L105.87,182.68 L108.11,182.68 L108.11,182.91 L109.14,182.91 L109.14,183.20 L110.32,183.20 L110.32,187.20 L112.28,187.20 L112.28,182.91 L113.30,182.91 L113.30,188.25 L114.23,188.25 L114.23,187.44 L116.52,187.44 L116.52,183.13 L118.64,183.13 L118.64,187.36 L119.54,187.36 L119.54,183.01 L121.35,183.01 L121.35,182.99 L123.62,182.99 L123.62,182.65 L125.95,182.65 L125.95,182.98 L128.32,182.98 L128.32,182.88 L129.91,182.88 L129.91,182.61 L131.97,182.61 L131.97,182.68 L133.11,182.68 L133.11,182.93 L134.28,182.93 L134.28,182.94 L135.74,182.94 L135.74,184.44 L137.85,184.44 L137.85,182.85 L138.91,182.85 L138.91,182.62 L140.89,182.62 L140.89,182.93 L143.27,182.93 L143.27,182.87 L144.72,182.87 L144.72,182.97 L146.72,182.97 L146.72,182.76 L148.38,182.76 L148.38,182.95 L149.36,182.95 L149.36,182.85 L151.45,182.85 L151.45,182.85 L153.66,182.85 L153.66,182.81 L156.03,182.81 L156.03,182.77 L157.87,182.77 L157.87,182.80 L159.34,182.80 L159.34,182.74 L161.30,182.74 L161.30,182.89 L162.73,182.89 L162.73,182.70 L164.05,182.70 L164.05,182.73 L165.69,182.73 L165.69,182.73 L166.59,182.73 L166.59,182.82 L167.46,182.82 L167.46,182.87 L169.81,182.87 L169.81,182.70 L171.16,182.70 L171.16,182.60 L172.69,182.60 L172.69,182.72 L174.69,182.72 L174.69,182.86 L176.28,182.86 L176.28,186.04 L178.58,186.04 L178.58,182.80 L180.27,182.80 L180.27,182.70 L182.56,182.70 L182.56,182.92 L183.77,182.92 L183.77,183.04 L185.52,183.04 L185.52,182.94 L187.66,182.94 L187.66,182.72 L188.96,182.72 L188.96,182.95 L190.04,182.95 L190.04,182.71 L191.86,182.71 L191.86,182.78 L193.82,182.78 L193.82,182.76 L194.85,182.76 L194.85,182.99 L196.03,182.99 L196.03,182.64 L198.39,182.64 L198.39,182.72 L200.26,182.72 L200.26,182.74 L202.04,182.74 L202.04,194.01 L204.06,194.01 L204.06,193.43 L206.40,193.43 L206.40,193.67 L208.68,193.67 L208.68,185.66 L209.79,185.66 L209.79,184.21 L210.82,184.21 L210.82,193.50 L211.65,193.50 L211.65,185.73 L213.59,185.73 L213.59,183.41 L214.73,183.41 L214.73,182.99 L216.11,182.99 L216.11,194.22 L217.51,194.22 L217.51,192.37 L218.96,192.37 L218.96,193.98 L221.07,193.98 L221.07,184.70 L221.96,184.70 L221.96,192.68 L223.63,192.68 L223.63,193.47 L224.78,193.47 L224.78,194.10 L225.80,194.10 L225.80,193.42 L227.89,193.42 L227.89,187.76 L229.41,187.76 L229.41,193.08 L231.32,193.08 L231.32,187.62 L232.71,187.62 L232.71,194.19 L234.73,194.19 L234.73,187.22 L236.93,187.22 L236.93,192.50 L237.98,192.50 L237.98,192.70 L238.83,192.70 L238.83,193.42 L240.96,193.42 L240.96,183.37 L241.91,183.37 L241.91,192.35 L243.17,192.35 L243.17,186.06 L245.44,186.06 L245.44,187.13 L247.57,187.13 L247.57,193.11 L248.41,193.11 L248.41,184.80 L249.55,184.80 L249.55,192.24 L250.62,192.24 L250.62,185.18 L252.09,185.18 L252.09,184.34 L253.37,184.34 L253.37,187.12 L255.06,187.12 L255.06,193.65 L257.02,193.65 L257.02,185.81 L258.76,185.81 L258.76,184.97 L260.49,184.97 L260.49,187.89 L262.15,187.89 L262.15,185.32 L263.62,185.32 L263.62,192.21 L265.36,192.21 L265.36,194.29 L267.14,194.29 L267.14,193.00 L269.33,193.00 L269.33,193.43 L271.46,193.43 L271.46,192.67 L272.52,192.67 L272.52,193.20 L274.59,193.20 L274.59,194.55 L276.90,194.55 L276.90,192.51 L278.38,192.51 L278.38,184.26 L279.55,184.26 L279.55,193.07 L280.66,193.07 L280.66,192.51 L281.68,192.51 L281.68,194.45 L282.83,194.45 L282.83,192.77 L283.87,192.77 L283.87,194.06 L285.64,194.06 L285.64,193.65 L286.51,193.65 L286.51,192.22 L287.94,192.22 L287.94,193.07 L289.20,193.07 L289.20,193.91 L290.45,193.91 L290.45,184.39 L291.74,184.39 L291.74,194.28 L293.64,194.28 L293.64,185.30 L295.40,185.30 L295.40,188.33 L297.25,188.33 L297.25,194.36 L299.36,194.36 L299.36,192.35 L300.51,192.35 L300.51,194.35 L301.81,194.35 L301.81,184.99 L304.06,184.99 L304.06,192.13 L306.41,192.13 L306.41,182.64 L307.77,182.64 L307.77,182.64 L309.01,182.64 L309.01,182.70 L310.15,182.70 L310.15,182.85 L311.87,182.85 L311.87,182.93 L313.39,182.93 L313.39,182.65 L315.59,182.65 L315.59,182.91 L317.67,182.91 L317.67,182.68 L318.48,182.68 L318.48,182.92 L320.81,182.92 L320.81,182.88 L323.11,182.88 L323.11,182.74 L325.36,182.74 L325.36,182.97 L326.62,182.97 L326.62,182.79 L327.84,182.79 L327.84,182.66 L329.14,182.66 L329.14,183.05 L330.53,183.05 L330.53,182.80 L332.22,182.80 L332.22,182.77 L333.06,182.77 L333.06,182.67 L334.72,182.67 L334.72,182.63 L337.08,182.63 L337.08,182.81 L339.43,182.81 L339.43,182.97 L340.89,182.97 L340.89,182.81 L342.06,182.81 L342.06,183.05 L344.44,183.05 L344.44,183.01 L345.86,183.01 L345.86,182.67 L347.49,182.67 L347.49,182.62 L348.82,182.62 L348.82,182.90 L351.17,182.90 L351.17,182.74 L353.01,182.74 L353.01,182.73 L354.89,182.73 L354.89,183.01 L356.25,183.01 L356.25,182.92 L357.94,182.92 L357.94,182.86 L359.22,182.86 L359.22,182.80 L361.58,182.80 L361.58,182.68 L363.02,182.68 L363.02,192.49 L364.65,192.49 L364.65,184.65 L365.75,184.65 L365.75,183.91 L367.00,183.91 L367.00,183.15 L368.72,183.15 L368.72,192.02 L370.24,192.02 L370.24,193.87 L372.32,193.87 L372.32,183.17 L373.99,183.17 L373.99,184.77 L375.39,184.77 L375.39,184.28 L377.76,184.28 L377.76,183.93 L380.05,183.93 L380.05,189.91 L381.55,189.91 L381.55,184.66 L383.90,184.66 L383.90,184.24 L385.05,184.24 L385.05,194.00 L386.84,194.00 L386.84,191.08 L388.07,191.08 L388.07,184.72 L389.51,184.72 L389.51,194.25 L390.66,194.25 L390.66,194.59 L392.26,194.59 L392.26,183.48 L393.52,183.48 L393.52,192.00 L395.50,192.00 L395.50,183.89 L396.84,183.89 L396.84,183.84 L399.13,183.84 L399.13,183.88 L400.99,183.88 L400.99,183.65 L402.85,183.65 L402.85,183.66 L404.14,183.66 L404.14,183.96 L406.25,183.96 L406.25,183.91 L407.33,183.91 L407.33,183.88 L408.82,183.88 L408.82,183.80 L410.54,183.80 L410.54,183.99 L412.48,183.99 L412.48,183.80 L413.34,183.80 L413.34,183.83 L414.80,183.83 L414.80,183.87 L415.67,183.87 L415.67,183.90 L417.95,183.90 L417.95,183.81 L419.16,183.81 L419.16,184.06 L421.19,184.06 L421.19,183.75 L422.43,183.75 L422.43,183.92 L423.87,183.92 L423.87,183.70 L424.71,183.70 L424.71,183.97 L426.64,183.97 L426.64,184.09 L428.07,184.09 L428.07,183.98 L428.80,183.98 L428.80,197.60 Z" fill="#5c2062"/>
<path d="M63.00,217.30 L63.00,210.71 L63.85,210.71 L63.85,210.89 L65.80,210.89 L65.80,207.40 L67.66,207.40 L67.66,208.11 L69.40,208.11 L69.40,211.51 L70.30,211.51 L70.30,203.16 L71.58,203.16 L71.58,212.82 L72.61,212.82 L72.61,210.66 L74.86,210.66 L74.86,212.55 L76.27,212.55 L76.27,210.60 L77.63,210.60 L77.63,212.05 L80.03,212.05 L80.03,212.22 L81.88,212.22 L81.88,212.67 L84.15,212.67 L84.15,213.03 L85.53,213.03 L85.53,208.94 L86.74,208.94 L86.74,211.05 L88.99,211.05 L88.99,211.45 L90.60,211.45 L90.60,213.14 L92.10,213.14 L92.10,207.05 L93.29,207.05 L93.29,207.96 L95.14,207.96 L95.14,210.71 L97.34,210.71 L97.34,206.07 L99.39,206.07 L99.39,212.84 L101.52,212.84 L101.52,213.49 L103.10,213.49 L103.10,211.51 L104.29,211.51 L104.29,211.93 L105.80,211.93 L105.80,204.15 L107.15,204.15 L107.15,203.94 L109.19,203.94 L109.19,211.08 L111.32,211.08 L111.32,202.64 L113.66,202.64 L113.66,211.30 L115.18,211.30 L115.18,213.26 L116.14,213.26 L116.14,206.91 L118.11,206.91 L118.11,211.59 L119.35,211.59 L119.35,212.97 L120.63,212.97 L120.63,203.62 L122.71,203.62 L122.71,207.06 L124.50,207.06 L124.50,203.80 L126.04,203.80 L126.04,203.59 L127.30,203.59 L127.30,207.11 L129.40,207.11 L129.40,203.68 L131.01,203.68 L131.01,206.74 L132.85,206.74 L132.85,204.27 L134.26,204.27 L134.26,203.96 L136.31,203.96 L136.31,203.50 L137.20,203.50 L137.20,203.63 L138.44,203.63 L138.44,204.09 L140.30,204.09 L140.30,203.44 L142.18,203.44 L142.18,203.49 L143.80,203.49 L143.80,203.73 L145.60,203.73 L145.60,203.51 L146.64,203.51 L146.64,209.96 L148.19,209.96 L148.19,203.59 L149.74,203.59 L149.74,203.97 L151.49,203.97 L151.49,203.69 L152.63,203.69 L152.63,203.96 L153.93,203.96 L153.93,208.93 L155.46,208.93 L155.46,206.90 L156.90,206.90 L156.90,204.11 L158.44,204.11 L158.44,203.73 L159.48,203.73 L159.48,204.16 L160.45,204.16 L160.45,203.71 L162.21,203.71 L162.21,203.97 L164.26,203.97 L164.26,203.75 L165.19,203.75 L165.19,203.43 L167.28,203.43 L167.28,203.83 L169.54,203.83 L169.54,203.98 L171.42,203.98 L171.42,203.92 L173.38,203.92 L173.38,203.89 L175.08,203.89 L175.08,203.84 L176.35,203.84 L176.35,203.86 L178.27,203.86 L178.27,203.42 L180.14,203.42 L180.14,203.80 L181.28,203.80 L181.28,203.95 L183.20,203.95 L183.20,203.60 L184.55,203.60 L184.55,203.80 L186.73,203.80 L186.73,203.65 L188.26,203.65 L188.26,205.76 L189.91,205.76 L189.91,204.21 L192.16,204.21 L192.16,203.69 L194.26,203.69 L194.26,204.27 L195.34,204.27 L195.34,208.15 L196.28,208.15 L196.28,206.52 L197.80,206.52 L197.80,203.96 L198.96,203.96 L198.96,204.11 L200.50,204.11 L200.50,204.14 L201.78,204.14 L201.78,212.26 L203.98,212.26 L203.98,213.17 L206.08,213.17 L206.08,211.62 L208.41,211.62 L208.41,212.07 L209.73,212.07 L209.73,211.94 L210.58,211.94 L210.58,211.73 L212.25,211.73 L212.25,212.75 L214.39,212.75 L214.39,204.93 L216.64,204.93 L216.64,212.53 L217.58,212.53 L217.58,211.74 L218.50,211.74 L218.50,205.09 L219.66,205.09 L219.66,207.90 L221.30,207.90 L221.30,208.00 L223.61,208.00 L223.61,211.69 L225.13,211.69 L225.13,213.46 L226.55,213.46 L226.55,212.09 L227.45,212.09 L227.45,204.60 L228.48,204.60 L228.48,209.23 L229.58,209.23 L229.58,206.25 L230.50,206.25 L230.50,206.64 L232.35,206.64 L232.35,213.28 L233.69,213.28 L233.69,204.18 L235.48,204.18 L235.48,213.10 L236.62,213.10 L236.62,205.88 L238.13,205.88 L238.13,211.92 L240.18,211.92 L240.18,213.24 L241.71,213.24 L241.71,211.92 L242.97,211.92 L242.97,213.30 L243.86,213.30 L243.86,206.16 L245.61,206.16 L245.61,207.80 L247.21,207.80 L247.21,205.02 L248.01,205.02 L248.01,212.56 L248.95,212.56 L248.95,213.54 L249.80,213.54 L249.80,212.74 L252.14,212.74 L252.14,207.45 L253.91,207.45 L253.91,212.43 L255.91,212.43 L255.91,208.03 L257.80,208.03 L257.80,205.88 L259.41,205.88 L259.41,213.41 L260.37,213.41 L260.37,212.67 L261.44,212.67 L261.44,212.79 L263.41,212.79 L263.41,208.22 L265.60,208.22 L265.60,213.14 L266.75,213.14 L266.75,208.88 L269.03,208.88 L269.03,213.07 L271.30,213.07 L271.30,213.66 L272.69,213.66 L272.69,205.64 L274.65,205.64 L274.65,212.16 L275.57,212.16 L275.57,204.98 L276.40,204.98 L276.40,205.67 L278.52,205.67 L278.52,206.35 L280.24,206.35 L280.24,205.36 L281.71,205.36 L281.71,207.93 L283.66,207.93 L283.66,213.43 L285.55,213.43 L285.55,213.78 L287.19,213.78 L287.19,211.90 L288.39,211.90 L288.39,206.63 L290.78,206.63 L290.78,209.69 L291.80,209.69 L291.80,211.94 L293.40,211.94 L293.40,212.52 L294.79,212.52 L294.79,213.40 L295.71,213.40 L295.71,205.07 L298.07,205.07 L298.07,213.59 L299.69,213.59 L299.69,212.80 L301.28,212.80 L301.28,212.07 L303.64,212.07 L303.64,212.71 L304.66,212.71 L304.66,207.71 L306.87,207.71 L306.87,204.88 L308.97,204.88 L308.97,204.78 L311.13,204.78 L311.13,204.84 L311.95,204.84 L311.95,205.10 L313.13,205.10 L313.13,204.34 L315.28,204.34 L315.28,204.84 L317.15,204.84 L317.15,204.91 L319.55,204.91 L319.55,204.97 L320.59,204.97 L320.59,204.43 L322.38,204.43 L322.38,205.13 L323.86,205.13 L323.86,204.77 L325.50,204.77 L325.50,204.76 L326.48,204.76 L326.48,204.46 L327.41,204.46 L327.41,204.65 L329.16,204.65 L329.16,205.21 L330.09,205.21 L330.09,204.97 L331.74,204.97 L331.74,209.20 L332.73,209.20 L332.73,204.81 L334.61,204.81 L334.61,204.48 L336.34,204.48 L336.34,204.58 L338.24,204.58 L338.24,205.05 L339.26,205.05 L339.26,204.56 L340.84,204.56 L340.84,204.81 L342.16,204.81 L342.16,204.66 L344.42,204.66 L344.42,204.36 L346.45,204.36 L346.45,204.49 L348.77,204.49 L348.77,204.58 L349.80,204.58 L349.80,206.83 L351.53,206.83 L351.53,204.62 L352.86,204.62 L352.86,204.97 L353.84,204.97 L353.84,204.65 L355.28,204.65 L355.28,204.41 L357.07,204.41 L357.07,207.44 L358.99,207.44 L358.99,206.93 L360.83,206.93 L360.83,205.20 L362.64,205.20 L362.64,215.67 L364.59,215.67 L364.59,214.64 L365.73,214.64 L365.73,210.94 L367.74,210.94 L367.74,215.98 L368.87,215.98 L368.87,216.11 L371.09,216.11 L371.09,204.80 L372.56,204.80 L372.56,215.69 L373.39,215.69 L373.39,203.81 L374.25,203.81 L374.25,214.57 L376.43,214.57 L376.43,214.90 L378.68,214.90 L378.68,214.92 L380.39,214.92 L380.39,216.14 L382.15,216.14 L382.15,215.54 L384.39,215.54 L384.39,209.22 L386.55,209.22 L386.55,216.00 L388.27,216.00 L388.27,214.46 L390.43,214.46 L390.43,214.53 L391.71,214.53 L391.71,214.64 L393.92,214.64 L393.92,216.11 L395.73,216.11 L395.73,206.93 L397.36,206.93 L397.36,204.59 L398.23,204.59 L398.23,204.19 L400.38,204.19 L400.38,204.03 L401.49,204.03 L401.49,204.56 L402.49,204.56 L402.49,204.26 L404.50,204.26 L404.50,209.26 L405.71,209.26 L405.71,204.06 L407.59,204.06 L407.59,207.70 L409.40,207.70 L409.40,204.48 L410.30,204.48 L410.30,208.00 L411.42,208.00 L411.42,204.28 L412.78,204.28 L412.78,204.73 L413.67,204.73 L413.67,204.57 L414.75,204.57 L414.75,204.16 L417.12,204.16 L417.12,204.31 L419.10,204.31 L419.10,204.07 L420.13,204.07 L420.13,204.70 L421.78,204.70 L421.78,209.31 L422.98,209.31 L422.98,204.74 L424.23,204.74 L424.23,204.53 L426.30,204.53 L426.30,207.45 L427.14,207.45 L427.14,204.05 L428.80,204.05 L428.80,217.30 Z" fill="#5c2062"/>
<rect x="63.00" y="44.80" width="365.80" height="4.80" fill="#86561f" />
<rect x="74.00" y="44.80" width="1.10" height="4.80" fill="#d2b889" />
<rect x="83.00" y="44.80" width="1.10" height="4.80" fill="#d2b889" />
<rect x="208.00" y="44.80" width="1.10" height="4.80" fill="#d2b889" />
<rect x="248.70" y="44.80" width="1.10" height="4.80" fill="#d2b889" />
<rect x="309.00" y="44.80" width="1.10" height="4.80" fill="#d2b889" />
<rect x="339.00" y="44.80" width="1.10" height="4.80" fill="#d2b889" />
<rect x="380.00" y="44.80" width="1.10" height="4.80" fill="#d2b889" />
<rect x="418.50" y="44.80" width="1.10" height="4.80" fill="#d2b889" />
<rect x="424.00" y="44.80" width="1.10" height="4.80" fill="#d2b889" />
<rect x="63.00" y="64.40" width="365.80" height="4.60" fill="#86561f" />
<rect x="103.80" y="64.40" width="1.10" height="4.60" fill="#d2b889" />
<rect x="160.50" y="64.40" width="1.10" height="4.60" fill="#d2b889" />
<rect x="280.80" y="64.40" width="1.10" height="4.60" fill="#d2b889" />
<rect x="294.00" y="64.40" width="1.10" height="4.60" fill="#d2b889" />
<rect x="352.80" y="64.40" width="1.10" height="4.60" fill="#d2b889" />
<rect x="369.00" y="64.40" width="1.10" height="4.60" fill="#d2b889" />
<rect x="393.00" y="64.40" width="1.10" height="4.60" fill="#d2b889" />
<rect x="63.00" y="84.20" width="365.80" height="4.60" fill="#86561f" />
<rect x="94.70" y="84.20" width="1.10" height="4.60" fill="#d2b889" />
<rect x="102.70" y="84.20" width="1.10" height="4.60" fill="#d2b889" />
<rect x="248.60" y="84.20" width="1.10" height="4.60" fill="#d2b889" />
<rect x="268.70" y="84.20" width="1.10" height="4.60" fill="#d2b889" />
<rect x="378.00" y="84.20" width="1.10" height="4.60" fill="#d2b889" />
<rect x="167.00" y="84.20" width="7.00" height="4.60" fill="#d8ebe8" />
<rect x="176.00" y="84.20" width="4.00" height="4.60" fill="#d8ebe8" />
<rect x="182.00" y="84.20" width="4.00" height="4.60" fill="#d8ebe8" />
<rect x="189.00" y="84.20" width="3.00" height="4.60" fill="#d8ebe8" />
<rect x="194.00" y="84.20" width="3.00" height="4.60" fill="#d8ebe8" />
<rect x="200.00" y="84.20" width="7.50" height="4.60" fill="#d8ebe8" />
<rect x="307.00" y="84.20" width="5.00" height="4.60" fill="#d8ebe8" />
<rect x="349.00" y="84.20" width="4.00" height="4.60" fill="#d8ebe8" />
<rect x="369.00" y="84.20" width="5.00" height="4.60" fill="#d8ebe8" />
<rect x="63.00" y="111.40" width="365.80" height="4.50" fill="#86561f" />
<rect x="81.20" y="111.40" width="4.80" height="4.50" fill="#d8ebe8" />
<rect x="91.70" y="111.40" width="13.50" height="4.50" fill="#d8ebe8" />
<rect x="111.00" y="111.40" width="7.60" height="4.50" fill="#d8ebe8" />
<rect x="118.60" y="111.40" width="85.40" height="4.50" fill="#2d695a" />
<rect x="204.00" y="111.40" width="5.80" height="4.50" fill="#d8ebe8" />
<rect x="213.00" y="111.40" width="3.50" height="4.50" fill="#d8ebe8" />
<rect x="250.00" y="111.40" width="5.00" height="4.50" fill="#d8ebe8" />
<rect x="265.00" y="111.40" width="2.00" height="4.50" fill="#d8ebe8" />
<rect x="280.00" y="111.40" width="2.00" height="4.50" fill="#d8ebe8" />
<rect x="302.50" y="111.40" width="60.50" height="4.50" fill="#2d695a" />
<rect x="370.50" y="111.40" width="6.00" height="4.50" fill="#d8ebe8" />
<rect x="378.00" y="111.40" width="5.00" height="4.50" fill="#d8ebe8" />
<rect x="396.00" y="111.40" width="2.00" height="4.50" fill="#d8ebe8" />
<rect x="398.00" y="111.40" width="30.80" height="4.50" fill="#2d695a" />
<rect x="63.00" y="131.00" width="365.80" height="4.60" fill="#86561f" />
<rect x="81.20" y="131.00" width="2.80" height="4.60" fill="#d8ebe8" />
<rect x="92.70" y="131.00" width="2.30" height="4.60" fill="#d8ebe8" />
<rect x="99.40" y="131.00" width="6.60" height="4.60" fill="#d8ebe8" />
<rect x="113.00" y="131.00" width="3.00" height="4.60" fill="#d8ebe8" />
<rect x="118.50" y="131.00" width="84.50" height="4.60" fill="#2d695a" />
<rect x="203.00" y="131.00" width="6.80" height="4.60" fill="#d8ebe8" />
<rect x="213.00" y="131.00" width="3.00" height="4.60" fill="#d8ebe8" />
<rect x="218.50" y="131.00" width="3.80" height="4.60" fill="#d8ebe8" />
<rect x="247.30" y="131.00" width="2.70" height="4.60" fill="#d8ebe8" />
<rect x="250.00" y="131.00" width="5.00" height="4.60" fill="#d8ebe8" />
<rect x="258.00" y="131.00" width="2.00" height="4.60" fill="#d8ebe8" />
<rect x="265.00" y="131.00" width="2.00" height="4.60" fill="#d8ebe8" />
<rect x="280.00" y="131.00" width="2.00" height="4.60" fill="#d8ebe8" />
<rect x="302.00" y="131.00" width="61.00" height="4.60" fill="#2d695a" />
<rect x="371.00" y="131.00" width="5.00" height="4.60" fill="#d8ebe8" />
<rect x="378.00" y="131.00" width="5.00" height="4.60" fill="#d8ebe8" />
<rect x="398.00" y="131.00" width="30.80" height="4.60" fill="#2d695a" />
<rect x="63.00" y="151.00" width="365.80" height="4.60" fill="#86561f" />
<rect x="73.50" y="151.00" width="1.50" height="4.60" fill="#d8ebe8" />
<rect x="77.30" y="151.00" width="1.70" height="4.60" fill="#d8ebe8" />
<rect x="81.00" y="151.00" width="2.00" height="4.60" fill="#d8ebe8" />
<rect x="93.60" y="151.00" width="2.40" height="4.60" fill="#d8ebe8" />
<rect x="99.40" y="151.00" width="4.60" height="4.60" fill="#d8ebe8" />
<rect x="110.00" y="151.00" width="3.00" height="4.60" fill="#d8ebe8" />
<rect x="129.00" y="151.00" width="15.60" height="4.60" fill="#d8ebe8" />
<rect x="148.00" y="151.00" width="2.00" height="4.60" fill="#d8ebe8" />
<rect x="154.00" y="151.00" width="3.00" height="4.60" fill="#d8ebe8" />
<rect x="157.00" y="151.00" width="39.30" height="4.60" fill="#2d695a" />
<rect x="196.30" y="151.00" width="3.70" height="4.60" fill="#d8ebe8" />
<rect x="203.00" y="151.00" width="5.00" height="4.60" fill="#d8ebe8" />
<rect x="250.00" y="151.00" width="3.00" height="4.60" fill="#d8ebe8" />
<rect x="280.00" y="151.00" width="2.00" height="4.60" fill="#d8ebe8" />
<rect x="296.00" y="151.00" width="2.00" height="4.60" fill="#d8ebe8" />
<rect x="302.00" y="151.00" width="50.00" height="4.60" fill="#2d695a" />
<rect x="352.00" y="151.00" width="4.00" height="4.60" fill="#d8ebe8" />
<rect x="356.00" y="151.00" width="7.00" height="4.60" fill="#2d695a" />
<rect x="370.00" y="151.00" width="6.00" height="4.60" fill="#d8ebe8" />
<rect x="378.00" y="151.00" width="5.00" height="4.60" fill="#d8ebe8" />
<rect x="398.00" y="151.00" width="6.00" height="4.60" fill="#d8ebe8" />
<rect x="404.00" y="151.00" width="1.00" height="4.60" fill="#2d695a" />
<rect x="405.00" y="151.00" width="5.00" height="4.60" fill="#d8ebe8" />
<rect x="410.00" y="151.00" width="18.80" height="4.60" fill="#2d695a" />
<rect x="63.00" y="170.70" width="365.80" height="4.60" fill="#86561f" />
<rect x="82.00" y="170.70" width="2.00" height="4.60" fill="#d8ebe8" />
<rect x="90.80" y="170.70" width="2.20" height="4.60" fill="#d8ebe8" />
<rect x="112.00" y="170.70" width="1.00" height="4.60" fill="#d8ebe8" />
<rect x="125.00" y="170.70" width="3.00" height="4.60" fill="#d8ebe8" />
<rect x="128.00" y="170.70" width="17.50" height="4.60" fill="#d8ebe8" />
<rect x="150.00" y="170.70" width="2.00" height="4.60" fill="#d8ebe8" />
<rect x="155.00" y="170.70" width="5.00" height="4.60" fill="#d8ebe8" />
<rect x="165.00" y="170.70" width="32.00" height="4.60" fill="#d8ebe8" />
<rect x="200.00" y="170.70" width="3.00" height="4.60" fill="#d8ebe8" />
<rect x="250.00" y="170.70" width="2.00" height="4.60" fill="#d8ebe8" />
<rect x="306.00" y="170.70" width="6.00" height="4.60" fill="#d8ebe8" />
<rect x="318.00" y="170.70" width="4.00" height="4.60" fill="#d8ebe8" />
<rect x="322.00" y="170.70" width="15.00" height="4.60" fill="#2d695a" />
<rect x="337.00" y="170.70" width="26.00" height="4.60" fill="#d8ebe8" />
<rect x="370.00" y="170.70" width="3.00" height="4.60" fill="#d8ebe8" />
<rect x="378.00" y="170.70" width="5.00" height="4.60" fill="#d8ebe8" />
<rect x="410.00" y="170.70" width="4.00" height="4.60" fill="#d8ebe8" />
<rect x="418.00" y="170.70" width="10.80" height="4.60" fill="#d8ebe8" />
<rect x="63.00" y="197.60" width="365.80" height="4.60" fill="#86561f" />
<rect x="63.00" y="197.60" width="3.70" height="4.60" fill="#d8ebe8" />
<rect x="69.60" y="197.60" width="6.70" height="4.60" fill="#d8ebe8" />
<rect x="80.20" y="197.60" width="7.80" height="4.60" fill="#d8ebe8" />
<rect x="88.00" y="197.60" width="3.70" height="4.60" fill="#7f7f7f" />
<rect x="91.70" y="197.60" width="111.00" height="4.60" fill="#2d695a" />
<rect x="110.50" y="197.60" width="1.30" height="4.60" fill="#1e4a40" />
<rect x="202.70" y="197.60" width="8.10" height="4.60" fill="#d8ebe8" />
<rect x="213.00" y="197.60" width="5.00" height="4.60" fill="#d8ebe8" />
<rect x="220.00" y="197.60" width="9.00" height="4.60" fill="#d8ebe8" />
<rect x="235.80" y="197.60" width="4.20" height="4.60" fill="#d8ebe8" />
<rect x="242.00" y="197.60" width="3.00" height="4.60" fill="#d8ebe8" />
<rect x="247.00" y="197.60" width="8.80" height="4.60" fill="#d8ebe8" />
<rect x="258.70" y="197.60" width="8.30" height="4.60" fill="#d8ebe8" />
<rect x="270.00" y="197.60" width="1.00" height="4.60" fill="#d8ebe8" />
<rect x="276.00" y="197.60" width="10.50" height="4.60" fill="#d8ebe8" />
<rect x="293.30" y="197.60" width="2.70" height="4.60" fill="#d8ebe8" />
<rect x="298.00" y="197.60" width="7.00" height="4.60" fill="#d8ebe8" />
<rect x="305.00" y="197.60" width="57.00" height="4.60" fill="#2d695a" />
<rect x="362.00" y="197.60" width="8.80" height="4.60" fill="#d8ebe8" />
<rect x="366.00" y="197.60" width="2.00" height="4.60" fill="#86561f" />
<rect x="370.80" y="197.60" width="4.80" height="4.60" fill="#111111" />
<rect x="375.60" y="197.60" width="4.40" height="4.60" fill="#d8ebe8" />
<rect x="380.00" y="197.60" width="5.00" height="4.60" fill="#86561f" />
<rect x="385.00" y="197.60" width="5.00" height="4.60" fill="#d8ebe8" />
<rect x="390.00" y="197.60" width="3.00" height="4.60" fill="#86561f" />
<rect x="393.00" y="197.60" width="5.00" height="4.60" fill="#d8ebe8" />
<rect x="398.00" y="197.60" width="30.80" height="4.60" fill="#2d695a" />
<rect x="63.00" y="217.30" width="365.80" height="4.60" fill="#86561f" />
<rect x="63.00" y="217.30" width="43.00" height="4.60" fill="#d8ebe8" />
<rect x="74.40" y="217.30" width="1.90" height="4.60" fill="#ffffff" />
<rect x="106.00" y="217.30" width="4.00" height="4.60" fill="#a86a2a" />
<rect x="110.00" y="217.30" width="128.60" height="4.60" fill="#2d695a" />
<rect x="238.60" y="217.30" width="6.80" height="4.60" fill="#d8ebe8" />
<rect x="245.40" y="217.30" width="1.60" height="4.60" fill="#ffffff" />
<rect x="247.00" y="217.30" width="54.00" height="4.60" fill="#d8ebe8" />
<rect x="301.00" y="217.30" width="61.00" height="4.60" fill="#2d695a" />
<rect x="362.00" y="217.30" width="36.00" height="4.60" fill="#d8ebe8" />
<rect x="398.00" y="217.30" width="30.80" height="4.60" fill="#2d695a" />
<rect x="94.62" y="197.60" width="0.62" height="4.60" fill="#d8e8e4" />
<rect x="107.91" y="197.60" width="0.71" height="4.60" fill="#d8e8e4" />
<rect x="120.28" y="197.60" width="0.98" height="4.60" fill="#a9c9c0" />
<rect x="129.20" y="197.60" width="1.08" height="4.60" fill="#a9c9c0" />
<rect x="137.95" y="197.60" width="0.64" height="4.60" fill="#a9c9c0" />
<rect x="146.19" y="197.60" width="1.07" height="4.60" fill="#a9c9c0" />
<rect x="160.23" y="197.60" width="1.15" height="4.60" fill="#d8e8e4" />
<rect x="168.95" y="197.60" width="0.82" height="4.60" fill="#d8e8e4" />
<rect x="178.95" y="197.60" width="1.16" height="4.60" fill="#a9c9c0" />
<rect x="191.59" y="197.60" width="0.75" height="4.60" fill="#d8e8e4" />
<rect x="201.14" y="197.60" width="0.85" height="4.60" fill="#d8e8e4" />
<rect x="306.42" y="197.60" width="0.70" height="4.60" fill="#a9c9c0" />
<rect x="320.33" y="197.60" width="1.00" height="4.60" fill="#d8e8e4" />
<rect x="334.59" y="197.60" width="0.74" height="4.60" fill="#a9c9c0" />
<rect x="341.64" y="197.60" width="0.81" height="4.60" fill="#d8e8e4" />
<rect x="350.98" y="197.60" width="1.08" height="4.60" fill="#a9c9c0" />
<rect x="401.05" y="197.60" width="0.73" height="4.60" fill="#d8e8e4" />
<rect x="411.65" y="197.60" width="0.63" height="4.60" fill="#a9c9c0" />
<rect x="424.53" y="197.60" width="1.09" height="4.60" fill="#d8e8e4" />
<rect x="113.00" y="217.30" width="1.07" height="4.60" fill="#d8e8e4" />
<rect x="118.18" y="217.30" width="0.92" height="4.60" fill="#a9c9c0" />
<rect x="121.74" y="217.30" width="0.65" height="4.60" fill="#a9c9c0" />
<rect x="126.00" y="217.30" width="0.78" height="4.60" fill="#a9c9c0" />
<rect x="132.23" y="217.30" width="0.76" height="4.60" fill="#d8e8e4" />
<rect x="138.48" y="217.30" width="0.72" height="4.60" fill="#a9c9c0" />
<rect x="141.87" y="217.30" width="0.64" height="4.60" fill="#a9c9c0" />
<rect x="145.29" y="217.30" width="0.60" height="4.60" fill="#a9c9c0" />
<rect x="151.42" y="217.30" width="1.12" height="4.60" fill="#d8e8e4" />
<rect x="154.25" y="217.30" width="0.61" height="4.60" fill="#d8e8e4" />
<rect x="158.44" y="217.30" width="0.81" height="4.60" fill="#d8e8e4" />
<rect x="163.33" y="217.30" width="0.80" height="4.60" fill="#a9c9c0" />
<rect x="166.34" y="217.30" width="1.03" height="4.60" fill="#d8e8e4" />
<rect x="169.02" y="217.30" width="0.73" height="4.60" fill="#a9c9c0" />
<rect x="172.72" y="217.30" width="0.89" height="4.60" fill="#a9c9c0" />
<rect x="176.40" y="217.30" width="0.67" height="4.60" fill="#a9c9c0" />
<rect x="182.55" y="217.30" width="0.68" height="4.60" fill="#a9c9c0" />
<rect x="188.70" y="217.30" width="0.94" height="4.60" fill="#a9c9c0" />
<rect x="195.38" y="217.30" width="1.07" height="4.60" fill="#d8e8e4" />
<rect x="199.23" y="217.30" width="0.89" height="4.60" fill="#a9c9c0" />
<rect x="205.51" y="217.30" width="0.97" height="4.60" fill="#a9c9c0" />
<rect x="210.32" y="217.30" width="1.13" height="4.60" fill="#a9c9c0" />
<rect x="213.42" y="217.30" width="0.71" height="4.60" fill="#a9c9c0" />
<rect x="216.35" y="217.30" width="1.19" height="4.60" fill="#a9c9c0" />
<rect x="222.44" y="217.30" width="0.87" height="4.60" fill="#a9c9c0" />
<rect x="225.95" y="217.30" width="1.13" height="4.60" fill="#a9c9c0" />
<rect x="230.28" y="217.30" width="1.05" height="4.60" fill="#d8e8e4" />
<rect x="237.26" y="217.30" width="0.89" height="4.60" fill="#a9c9c0" />
<rect x="303.27" y="217.30" width="0.72" height="4.60" fill="#a9c9c0" />
<rect x="307.15" y="217.30" width="0.75" height="4.60" fill="#d8e8e4" />
<rect x="311.22" y="217.30" width="0.98" height="4.60" fill="#a9c9c0" />
<rect x="314.24" y="217.30" width="1.07" height="4.60" fill="#d8e8e4" />
<rect x="319.91" y="217.30" width="0.97" height="4.60" fill="#a9c9c0" />
<rect x="324.67" y="217.30" width="1.10" height="4.60" fill="#d8e8e4" />
<rect x="329.82" y="217.30" width="0.98" height="4.60" fill="#a9c9c0" />
<rect x="332.57" y="217.30" width="1.11" height="4.60" fill="#a9c9c0" />
<rect x="336.21" y="217.30" width="0.84" height="4.60" fill="#d8e8e4" />
<rect x="341.85" y="217.30" width="1.12" height="4.60" fill="#d8e8e4" />
<rect x="345.57" y="217.30" width="0.75" height="4.60" fill="#a9c9c0" />
<rect x="349.56" y="217.30" width="0.66" height="4.60" fill="#d8e8e4" />
<rect x="354.64" y="217.30" width="0.89" height="4.60" fill="#a9c9c0" />
<rect x="399.73" y="217.30" width="1.06" height="4.60" fill="#a9c9c0" />
<rect x="403.45" y="217.30" width="0.68" height="4.60" fill="#a9c9c0" />
<rect x="407.23" y="217.30" width="0.94" height="4.60" fill="#d8e8e4" />
<rect x="410.75" y="217.30" width="0.68" height="4.60" fill="#a9c9c0" />
<rect x="415.05" y="217.30" width="0.87" height="4.60" fill="#a9c9c0" />
<rect x="418.29" y="217.30" width="0.67" height="4.60" fill="#d8e8e4" />
<rect x="423.64" y="217.30" width="1.01" height="4.60" fill="#d8e8e4" />
<line x1="367.50" y1="30.00" x2="367.50" y2="89.00" stroke="#a02030" stroke-width="0.8" opacity="0.85"/>
<rect x="392.00" y="32.40" width="10.50" height="7.80" fill="#fff" opacity="0.7"/>
<text x="0" y="0" transform="translate(392.80,38.60) scale(1.15,1)" font-size="6.9" fill="#222" text-anchor="start" font-weight="normal" font-family="Liberation Sans, sans-serif" >H1</text>
<rect x="392.00" y="51.00" width="24.00" height="7.80" fill="#fff" opacity="0.7"/>
<text x="0" y="0" transform="translate(392.80,57.20) scale(1.15,1)" font-size="6.9" fill="#222" text-anchor="start" font-weight="normal" font-family="Liberation Sans, sans-serif" >HSPC</text>
<rect x="392.00" y="70.80" width="34.50" height="7.80" fill="#fff" opacity="0.7"/>
<text x="0" y="0" transform="translate(392.80,77.00) scale(1.15,1)" font-size="6.9" fill="#222" text-anchor="start" font-weight="normal" font-family="Liberation Sans, sans-serif" >G. Neuro.</text>
<rect x="392.30" y="92.00" width="25.20" height="7.20" fill="#e08d45" />
<text x="0" y="0" transform="translate(393.20,98.00) scale(1.15,1)" font-size="6.9" fill="#5a2f10" text-anchor="start" font-weight="normal" font-family="Liberation Sans, sans-serif" >BasoE</text>
<rect x="392.00" y="117.20" width="25.00" height="7.80" fill="#fff" opacity="0.7"/>
<text x="0" y="0" transform="translate(392.80,123.40) scale(1.15,1)" font-size="6.9" fill="#222" text-anchor="start" font-weight="normal" font-family="Liberation Sans, sans-serif" >IMR90</text>
<rect x="392.00" y="135.90" width="33.00" height="7.80" fill="#fff" opacity="0.7"/>
<text x="0" y="0" transform="translate(392.80,142.10) scale(1.15,1)" font-size="6.9" fill="#222" text-anchor="start" font-weight="normal" font-family="Liberation Sans, sans-serif" >Pancreas</text>
<rect x="392.00" y="157.70" width="17.50" height="7.80" fill="#fff" opacity="0.7"/>
<text x="0" y="0" transform="translate(392.80,163.90) scale(1.15,1)" font-size="6.9" fill="#222" text-anchor="start" font-weight="normal" font-family="Liberation Sans, sans-serif" >Liver</text>
<rect x="391.50" y="181.00" width="21.00" height="8.80" fill="#fff" />
<text x="0" y="0" transform="translate(392.80,188.40) scale(1.15,1)" font-size="6.9" fill="#222" text-anchor="start" font-weight="normal" font-family="Liberation Sans, sans-serif" >K562</text>
<rect x="391.80" y="204.20" width="26.50" height="8.20" fill="#fff" stroke="#888" stroke-width="0.6"/>
<text x="0" y="0" transform="translate(392.80,211.00) scale(1.15,1)" font-size="6.9" fill="#222" text-anchor="start" font-weight="normal" font-family="Liberation Sans, sans-serif" >HepG2</text>
<path d="M61.6,222 V29.6 H431.6 V222 Z" fill="none" stroke="#000" stroke-width="1.25"/>
<line x1="56.50" y1="30.00" x2="61.60" y2="30.00" stroke="#111" stroke-width="1" />
<line x1="56.50" y1="44.80" x2="61.60" y2="44.80" stroke="#111" stroke-width="1" />
<text x="0" y="0" transform="translate(53.20,32.50) scale(1.15,1)" font-size="6.7" fill="#444" text-anchor="end" font-weight="normal" font-family="Liberation Sans, sans-serif" >100</text>
<text x="0" y="0" transform="translate(52.80,46.90) scale(1.15,1)" font-size="6.7" fill="#444" text-anchor="end" font-weight="normal" font-family="Liberation Sans, sans-serif" >0</text>
<line x1="35.40" y1="44.80" x2="35.40" y2="35.00" stroke="#000" stroke-width="1.1" />
<path d="M33.2,36.20 L35.4,31.80 L37.6,36.20 Z" fill="#000"/>
<line x1="56.50" y1="49.60" x2="61.60" y2="49.60" stroke="#111" stroke-width="1" />
<line x1="56.50" y1="64.40" x2="61.60" y2="64.40" stroke="#111" stroke-width="1" />
<text x="0" y="0" transform="translate(53.20,53.60) scale(1.15,1)" font-size="6.7" fill="#444" text-anchor="end" font-weight="normal" font-family="Liberation Sans, sans-serif" >100</text>
<text x="0" y="0" transform="translate(52.80,66.50) scale(1.15,1)" font-size="6.7" fill="#444" text-anchor="end" font-weight="normal" font-family="Liberation Sans, sans-serif" >0</text>
<line x1="35.40" y1="64.40" x2="35.40" y2="54.60" stroke="#000" stroke-width="1.1" />
<path d="M33.2,55.80 L35.4,51.40 L37.6,55.80 Z" fill="#000"/>
<line x1="56.50" y1="69.00" x2="61.60" y2="69.00" stroke="#111" stroke-width="1" />
<line x1="56.50" y1="84.20" x2="61.60" y2="84.20" stroke="#111" stroke-width="1" />
<text x="0" y="0" transform="translate(53.20,73.00) scale(1.15,1)" font-size="6.7" fill="#444" text-anchor="end" font-weight="normal" font-family="Liberation Sans, sans-serif" >100</text>
<text x="0" y="0" transform="translate(52.80,86.30) scale(1.15,1)" font-size="6.7" fill="#444" text-anchor="end" font-weight="normal" font-family="Liberation Sans, sans-serif" >0</text>
<line x1="35.40" y1="84.20" x2="35.40" y2="74.00" stroke="#000" stroke-width="1.1" />
<path d="M33.2,75.20 L35.4,70.80 L37.6,75.20 Z" fill="#000"/>
<line x1="56.50" y1="96.00" x2="61.60" y2="96.00" stroke="#111" stroke-width="1" />
<line x1="56.50" y1="111.40" x2="61.60" y2="111.40" stroke="#111" stroke-width="1" />
<text x="0" y="0" transform="translate(53.20,98.50) scale(1.15,1)" font-size="6.7" fill="#444" text-anchor="end" font-weight="normal" font-family="Liberation Sans, sans-serif" >100</text>
<text x="0" y="0" transform="translate(52.80,113.50) scale(1.15,1)" font-size="6.7" fill="#444" text-anchor="end" font-weight="normal" font-family="Liberation Sans, sans-serif" >0</text>
<line x1="35.40" y1="111.40" x2="35.40" y2="101.00" stroke="#000" stroke-width="1.1" />
<path d="M33.2,102.20 L35.4,97.80 L37.6,102.20 Z" fill="#000"/>
<line x1="56.50" y1="116.00" x2="61.60" y2="116.00" stroke="#111" stroke-width="1" />
<line x1="56.50" y1="131.00" x2="61.60" y2="131.00" stroke="#111" stroke-width="1" />
<text x="0" y="0" transform="translate(53.20,120.00) scale(1.15,1)" font-size="6.7" fill="#444" text-anchor="end" font-weight="normal" font-family="Liberation Sans, sans-serif" >100</text>
<text x="0" y="0" transform="translate(52.80,133.10) scale(1.15,1)" font-size="6.7" fill="#444" text-anchor="end" font-weight="normal" font-family="Liberation Sans, sans-serif" >0</text>
<line x1="35.40" y1="131.00" x2="35.40" y2="121.00" stroke="#000" stroke-width="1.1" />
<path d="M33.2,122.20 L35.4,117.80 L37.6,122.20 Z" fill="#000"/>
<line x1="56.50" y1="135.60" x2="61.60" y2="135.60" stroke="#111" stroke-width="1" />
<line x1="56.50" y1="151.00" x2="61.60" y2="151.00" stroke="#111" stroke-width="1" />
<text x="0" y="0" transform="translate(53.20,139.60) scale(1.15,1)" font-size="6.7" fill="#444" text-anchor="end" font-weight="normal" font-family="Liberation Sans, sans-serif" >100</text>
<text x="0" y="0" transform="translate(52.80,153.10) scale(1.15,1)" font-size="6.7" fill="#444" text-anchor="end" font-weight="normal" font-family="Liberation Sans, sans-serif" >0</text>
<line x1="35.40" y1="151.00" x2="35.40" y2="140.60" stroke="#000" stroke-width="1.1" />
<path d="M33.2,141.80 L35.4,137.40 L37.6,141.80 Z" fill="#000"/>
<line x1="56.50" y1="155.60" x2="61.60" y2="155.60" stroke="#111" stroke-width="1" />
<line x1="56.50" y1="170.70" x2="61.60" y2="170.70" stroke="#111" stroke-width="1" />
<text x="0" y="0" transform="translate(53.20,159.60) scale(1.15,1)" font-size="6.7" fill="#444" text-anchor="end" font-weight="normal" font-family="Liberation Sans, sans-serif" >100</text>
<text x="0" y="0" transform="translate(52.80,172.80) scale(1.15,1)" font-size="6.7" fill="#444" text-anchor="end" font-weight="normal" font-family="Liberation Sans, sans-serif" >0</text>
<line x1="35.40" y1="170.70" x2="35.40" y2="160.60" stroke="#000" stroke-width="1.1" />
<path d="M33.2,161.80 L35.4,157.40 L37.6,161.80 Z" fill="#000"/>
<line x1="56.50" y1="182.60" x2="61.60" y2="182.60" stroke="#111" stroke-width="1" />
<line x1="56.50" y1="197.60" x2="61.60" y2="197.60" stroke="#111" stroke-width="1" />
<text x="0" y="0" transform="translate(53.20,185.10) scale(1.15,1)" font-size="6.7" fill="#444" text-anchor="end" font-weight="normal" font-family="Liberation Sans, sans-serif" >100</text>
<text x="0" y="0" transform="translate(52.80,199.70) scale(1.15,1)" font-size="6.7" fill="#444" text-anchor="end" font-weight="normal" font-family="Liberation Sans, sans-serif" >0</text>
<line x1="35.40" y1="197.60" x2="35.40" y2="187.60" stroke="#000" stroke-width="1.1" />
<path d="M33.2,188.80 L35.4,184.40 L37.6,188.80 Z" fill="#000"/>
<line x1="56.50" y1="202.20" x2="61.60" y2="202.20" stroke="#111" stroke-width="1" />
<line x1="56.50" y1="217.30" x2="61.60" y2="217.30" stroke="#111" stroke-width="1" />
<text x="0" y="0" transform="translate(53.20,206.20) scale(1.15,1)" font-size="6.7" fill="#444" text-anchor="end" font-weight="normal" font-family="Liberation Sans, sans-serif" >100</text>
<text x="0" y="0" transform="translate(52.80,219.40) scale(1.15,1)" font-size="6.7" fill="#444" text-anchor="end" font-weight="normal" font-family="Liberation Sans, sans-serif" >0</text>
<line x1="35.40" y1="217.30" x2="35.40" y2="207.20" stroke="#000" stroke-width="1.1" />
<path d="M33.2,208.40 L35.4,204.00 L37.6,208.40 Z" fill="#000"/>
<line x1="28.80" y1="175.00" x2="28.80" y2="72.00" stroke="#222" stroke-width="1.1" />
<path d="M25.8,75 L28.8,67.6 L31.8,75 Z" fill="#000"/>
<text x="0" y="0" font-size="8.6" fill="#111" font-family="Liberation Sans, sans-serif" textLength="65" lengthAdjust="spacingAndGlyphs" transform="translate(23.3,153.7) rotate(-90)">% unmethylated CpG</text>
<line x1="434.60" y1="29.50" x2="434.60" y2="89.30" stroke="#000" stroke-width="1.2" />
<line x1="434.60" y1="96.20" x2="434.60" y2="170.30" stroke="#000" stroke-width="1.2" />
<line x1="434.60" y1="180.50" x2="434.60" y2="220.80" stroke="#000" stroke-width="1.2" />
<text x="0" y="0" font-size="8.4" fill="#444" text-anchor="middle" font-family="Liberation Sans, sans-serif"  transform="translate(440.20,59.20) rotate(90) scale(1,1.15)">SPCs</text>
<text x="0" y="0" font-size="8.2" fill="#444" text-anchor="middle" font-family="Liberation Sans, sans-serif"  transform="translate(450.00,133.30) rotate(90) scale(1,1.15)">Differentiated</text>
<text x="0" y="0" font-size="8.2" fill="#444" text-anchor="middle" font-family="Liberation Sans, sans-serif"  transform="translate(440.20,133.60) rotate(90) scale(1,1.15)">Cells</text>
<text x="0" y="0" font-size="8.2" fill="#444" text-anchor="middle" font-family="Liberation Sans, sans-serif"  transform="translate(450.00,200.80) rotate(90) scale(1,1.15)">Transformed</text>
<text x="0" y="0" font-size="8.2" fill="#444" text-anchor="middle" font-family="Liberation Sans, sans-serif"  transform="translate(440.20,200.80) rotate(90) scale(1,1.15)">Cells</text>
<text x="0" y="0" transform="translate(431.30,231.60) scale(1.15,1)" font-size="7.4" fill="#222" text-anchor="end" font-weight="normal" font-family="Liberation Sans, sans-serif" >chr1: 33,000,000 - 39,000,000</text>
<path d="M239.6,222.4 V227.7 L60,244.8" fill="none" stroke="#000" stroke-width="1.1"/>
<path d="M251.4,222.4 V227.7 L431,244.8" fill="none" stroke="#000" stroke-width="1.1"/>
<text x="60.00" y="247.20" font-size="2.6" fill="#a33" text-anchor="start" font-weight="normal" font-family="Liberation Sans, sans-serif" >chr1:33,000,000</text>
<line x1="60.00" y1="249.80" x2="431.00" y2="249.80" stroke="#e8d8d8" stroke-width="0.6" />
<text x="60.20" y="250.30" font-size="2.9" fill="#a44" text-anchor="start" font-weight="normal" font-family="Liberation Sans, sans-serif" >33,000,000</text>
<text x="97.30" y="250.30" font-size="2.9" fill="#888" text-anchor="start" font-weight="normal" font-family="Liberation Sans, sans-serif" >00,000</text>
<text x="134.50" y="250.30" font-size="2.9" fill="#888" text-anchor="start" font-weight="normal" font-family="Liberation Sans, sans-serif" >00,000</text>
<text x="172.00" y="250.30" font-size="2.9" fill="#888" text-anchor="start" font-weight="normal" font-family="Liberation Sans, sans-serif" >00,000</text>
<text x="209.50" y="250.30" font-size="2.9" fill="#888" text-anchor="start" font-weight="normal" font-family="Liberation Sans, sans-serif" >00,000</text>
<text x="284.50" y="250.30" font-size="2.9" fill="#888" text-anchor="start" font-weight="normal" font-family="Liberation Sans, sans-serif" >00,000</text>
<text x="321.50" y="250.30" font-size="2.9" fill="#888" text-anchor="start" font-weight="normal" font-family="Liberation Sans, sans-serif" >00,000</text>
<text x="359.00" y="250.30" font-size="2.9" fill="#888" text-anchor="start" font-weight="normal" font-family="Liberation Sans, sans-serif" >00,000</text>
<text x="395.00" y="250.30" font-size="2.9" fill="#888" text-anchor="start" font-weight="normal" font-family="Liberation Sans, sans-serif" >00,000</text>
<text x="248.20" y="247.00" font-size="2.6" fill="#c44" text-anchor="start" font-weight="normal" font-family="Liberation Sans, sans-serif" >33,500,000</text>
<text x="420.00" y="247.00" font-size="2.6" fill="#a33" text-anchor="start" font-weight="normal" font-family="Liberation Sans, sans-serif" >chr1:39,000,000</text>
<line x1="101.80" y1="251.00" x2="101.80" y2="410.00" stroke="#dedede" stroke-width="0.5" />
<line x1="139.00" y1="251.00" x2="139.00" y2="410.00" stroke="#dedede" stroke-width="0.5" />
<line x1="176.50" y1="251.00" x2="176.50" y2="410.00" stroke="#dedede" stroke-width="0.5" />
<line x1="214.00" y1="251.00" x2="214.00" y2="410.00" stroke="#dedede" stroke-width="0.5" />
<line x1="289.00" y1="251.00" x2="289.00" y2="410.00" stroke="#dedede" stroke-width="0.5" />
<line x1="326.00" y1="251.00" x2="326.00" y2="410.00" stroke="#dedede" stroke-width="0.5" />
<line x1="363.50" y1="251.00" x2="363.50" y2="410.00" stroke="#dedede" stroke-width="0.5" />
<line x1="399.50" y1="251.00" x2="399.50" y2="410.00" stroke="#dedede" stroke-width="0.5" />
<rect x="245.20" y="246.50" width="9.40" height="162.00" fill="#f6d2d8" opacity="0.5"/>
<line x1="245.30" y1="246.00" x2="245.30" y2="408.00" stroke="#e48b9a" stroke-width="0.6" opacity="0.8"/>
<line x1="254.50" y1="246.00" x2="254.50" y2="408.00" stroke="#e48b9a" stroke-width="0.6" opacity="0.8"/>
<line x1="408.60" y1="246.00" x2="408.60" y2="410.00" stroke="#e58a9a" stroke-width="0.5" opacity="0.6"/>
<path d="M132.92,260.00V258.05M229.95,260.00V258.75M423.91,260.00V256.25M106.13,260.00V259.08M146.85,260.00V258.67M298.80,260.00V255.78M117.51,260.00V258.51M354.02,260.00V259.12M391.86,260.00V256.87M253.86,260.00V254.92M334.80,260.00V258.85M170.52,260.00V256.01M389.67,260.00V258.60M411.46,260.00V259.31" stroke="#e9a9b8" stroke-width="0.55" opacity="0.8" fill="none"/>
<path d="M123.78,260.00V258.59M202.11,260.00V259.44M186.86,260.00V259.44M238.62,260.00V257.34" stroke="#9a8aa0" stroke-width="0.5" opacity="0.6" fill="none"/>
<path d="M254.51,260.00V248.27M250.45,260.00V255.91M246.54,260.00V250.86M253.58,260.00V253.08M247.18,260.00V249.19M250.85,260.00V251.84M247.15,260.00V251.06M251.16,260.00V249.63" stroke="#e9a9b8" stroke-width="0.8" opacity="0.8" fill="none"/>
<path d="M282.61,260.00V255.41M282.32,260.00V253.18M280.66,260.00V252.97M282.23,260.00V252.09M279.29,260.00V251.79M279.59,260.00V255.96M279.20,260.00V252.64M280.80,260.00V256.09" stroke="#e9a9b8" stroke-width="0.8" opacity="0.8" fill="none"/>
<path d="M286.96,260.00V247.89M289.81,260.00V247.18M289.80,260.00V247.42M290.84,260.00V252.58M286.35,260.00V254.76M291.55,260.00V250.07M288.08,260.00V254.61M290.48,260.00V247.64" stroke="#e9a9b8" stroke-width="0.8" opacity="0.8" fill="none"/>
<path d="M406.49,260.00V247.03M408.20,260.00V254.21M406.09,260.00V249.62M410.57,260.00V254.25M406.43,260.00V254.80M406.25,260.00V254.05M407.50,260.00V253.94M408.98,260.00V253.92" stroke="#e9a9b8" stroke-width="0.8" opacity="0.8" fill="none"/>
<path d="M158.81,275.20V274.51M78.98,275.20V274.65M310.07,275.20V273.51M389.85,275.20V274.19M209.19,275.20V274.14M79.93,275.20V274.55M137.13,275.20V274.60M288.43,275.20V273.36M317.19,275.20V271.93M349.43,275.20V274.43M75.77,275.20V273.98M167.91,275.20V274.49" stroke="#e9a9b8" stroke-width="0.55" opacity="0.8" fill="none"/>
<path d="M390.80,275.20V271.10M373.26,275.20V274.40M388.97,275.20V272.88M407.44,275.20V273.76" stroke="#9a8aa0" stroke-width="0.5" opacity="0.6" fill="none"/>
<path d="M254.62,275.20V263.45M254.34,275.20V264.87M248.02,275.20V270.86M246.19,275.20V262.90M250.89,275.20V263.26M254.62,275.20V269.14M254.73,275.20V268.81M247.61,275.20V268.82" stroke="#e9a9b8" stroke-width="0.8" opacity="0.8" fill="none"/>
<path d="M282.98,275.20V262.75M280.41,275.20V266.91M282.29,275.20V263.98M282.59,275.20V268.00M279.93,275.20V266.63M282.74,275.20V265.72M282.49,275.20V269.51M281.03,275.20V262.95" stroke="#e9a9b8" stroke-width="0.8" opacity="0.8" fill="none"/>
<path d="M290.00,275.20V264.08M291.65,275.20V267.27M290.83,275.20V265.00M289.08,275.20V266.57M291.67,275.20V263.28M292.91,275.20V267.96M290.73,275.20V266.29M291.96,275.20V269.11" stroke="#e9a9b8" stroke-width="0.8" opacity="0.8" fill="none"/>
<path d="M407.80,275.20V268.97M409.82,275.20V264.84M405.04,275.20V270.31M405.85,275.20V265.92M409.65,275.20V268.17M405.48,275.20V265.97M408.69,275.20V267.38M406.62,275.20V268.14" stroke="#e9a9b8" stroke-width="0.8" opacity="0.8" fill="none"/>
<path d="M146.21,292.60V291.33M324.70,292.60V291.79M163.74,292.60V288.36M400.39,292.60V291.72M96.79,292.60V291.31M326.43,292.60V290.32M114.00,292.60V291.95M163.71,292.60V290.80M123.84,292.60V288.08M293.90,292.60V291.54M170.96,292.60V292.05M302.57,292.60V290.05M77.85,292.60V289.00M128.71,292.60V289.95" stroke="#e9a9b8" stroke-width="0.55" opacity="0.8" fill="none"/>
<path d="M310.45,292.60V289.75M399.00,292.60V291.27M314.35,292.60V289.71M404.05,292.60V287.52" stroke="#9a8aa0" stroke-width="0.5" opacity="0.6" fill="none"/>
<path d="M248.25,292.60V282.58M247.89,292.60V287.63M249.07,292.60V280.09M248.65,292.60V285.89M254.34,292.60V279.76M252.82,292.60V285.49M253.41,292.60V288.10M246.09,292.60V288.13" stroke="#e9a9b8" stroke-width="0.8" opacity="0.8" fill="none"/>
<path d="M280.34,292.60V286.50M282.44,292.60V284.63M282.40,292.60V284.26M280.49,292.60V285.61M279.19,292.60V284.56M282.80,292.60V279.86M282.73,292.60V287.81M280.77,292.60V281.11" stroke="#e9a9b8" stroke-width="0.8" opacity="0.8" fill="none"/>
<path d="M287.08,292.60V288.11M287.44,292.60V287.93M291.18,292.60V282.22M292.92,292.60V288.24M290.92,292.60V281.48M287.25,292.60V287.98M292.86,292.60V281.51M286.48,292.60V287.00" stroke="#e9a9b8" stroke-width="0.8" opacity="0.8" fill="none"/>
<path d="M408.95,292.60V287.14M407.62,292.60V287.34M405.55,292.60V284.29M408.26,292.60V280.99M405.02,292.60V285.47M405.43,292.60V283.67M405.99,292.60V285.69M410.82,292.60V282.79" stroke="#e9a9b8" stroke-width="0.8" opacity="0.8" fill="none"/>
<path d="M60.00,310.00 L60.00,309.01 L61.00,309.01 L61.00,309.05 L62.00,309.05 L62.00,309.32 L63.00,309.32 L63.00,309.00 L64.00,309.00 L64.00,308.81 L65.00,308.81 L65.00,309.39 L66.00,309.39 L66.00,308.90 L67.00,308.90 L67.00,309.22 L68.00,309.22 L68.00,309.32 L69.00,309.32 L69.00,309.02 L70.00,309.02 L70.00,308.89 L71.00,308.89 L71.00,309.34 L72.00,309.34 L72.00,309.32 L73.00,309.32 L73.00,309.12 L74.00,309.12 L74.00,309.31 L75.00,309.31 L75.00,309.12 L76.00,309.12 L76.00,308.80 L77.00,308.80 L77.00,309.43 L78.00,309.43 L78.00,309.17 L79.00,309.17 L79.00,309.32 L80.00,309.32 L80.00,309.34 L81.00,309.34 L81.00,309.06 L82.00,309.06 L82.00,308.82 L83.00,308.82 L83.00,309.14 L84.00,309.14 L84.00,309.08 L85.00,309.08 L85.00,308.99 L86.00,308.99 L86.00,308.88 L87.00,308.88 L87.00,308.81 L88.00,308.81 L88.00,309.23 L89.00,309.23 L89.00,309.33 L90.00,309.33 L90.00,308.85 L91.00,308.85 L91.00,309.05 L92.00,309.05 L92.00,308.87 L93.00,308.87 L93.00,309.35 L94.00,309.35 L94.00,308.93 L95.00,308.93 L95.00,309.37 L96.00,309.37 L96.00,309.36 L97.00,309.36 L97.00,309.37 L98.00,309.37 L98.00,309.21 L99.00,309.21 L99.00,309.18 L100.00,309.18 L100.00,309.02 L101.00,309.02 L101.00,308.83 L102.00,308.83 L102.00,309.17 L103.00,309.17 L103.00,309.07 L104.00,309.07 L104.00,309.18 L105.00,309.18 L105.00,309.20 L106.00,309.20 L106.00,309.28 L107.00,309.28 L107.00,309.45 L108.00,309.45 L108.00,309.28 L109.00,309.28 L109.00,308.97 L110.00,308.97 L110.00,308.92 L111.00,308.92 L111.00,309.00 L112.00,309.00 L112.00,309.16 L113.00,309.16 L113.00,309.18 L114.00,309.18 L114.00,309.33 L115.00,309.33 L115.00,309.29 L116.00,309.29 L116.00,308.79 L117.00,308.79 L117.00,309.06 L118.00,309.06 L118.00,309.18 L119.00,309.18 L119.00,309.10 L120.00,309.10 L120.00,309.12 L121.00,309.12 L121.00,309.26 L122.00,309.26 L122.00,309.17 L123.00,309.17 L123.00,309.17 L124.00,309.17 L124.00,308.86 L125.00,308.86 L125.00,308.86 L126.00,308.86 L126.00,309.26 L127.00,309.26 L127.00,309.15 L128.00,309.15 L128.00,309.30 L129.00,309.30 L129.00,308.82 L130.00,308.82 L130.00,309.36 L131.00,309.36 L131.00,309.13 L132.00,309.13 L132.00,309.44 L133.00,309.44 L133.00,309.15 L134.00,309.15 L134.00,309.15 L135.00,309.15 L135.00,309.44 L136.00,309.44 L136.00,309.35 L137.00,309.35 L137.00,309.12 L138.00,309.12 L138.00,309.14 L139.00,309.14 L139.00,309.25 L140.00,309.25 L140.00,309.41 L141.00,309.41 L141.00,309.24 L142.00,309.24 L142.00,309.22 L143.00,309.22 L143.00,309.38 L144.00,309.38 L144.00,309.05 L145.00,309.05 L145.00,309.30 L146.00,309.30 L146.00,309.10 L147.00,309.10 L147.00,308.98 L148.00,308.98 L148.00,309.44 L149.00,309.44 L149.00,309.12 L150.00,309.12 L150.00,309.03 L151.00,309.03 L151.00,308.86 L152.00,308.86 L152.00,308.99 L153.00,308.99 L153.00,308.90 L154.00,308.90 L154.00,309.01 L155.00,309.01 L155.00,309.30 L156.00,309.30 L156.00,308.91 L157.00,308.91 L157.00,308.95 L158.00,308.95 L158.00,309.13 L159.00,309.13 L159.00,308.84 L160.00,308.84 L160.00,309.42 L161.00,309.42 L161.00,308.85 L162.00,308.85 L162.00,309.21 L163.00,309.21 L163.00,309.09 L164.00,309.09 L164.00,308.92 L165.00,308.92 L165.00,309.34 L166.00,309.34 L166.00,309.12 L167.00,309.12 L167.00,309.44 L168.00,309.44 L168.00,309.43 L169.00,309.43 L169.00,308.82 L170.00,308.82 L170.00,309.31 L171.00,309.31 L171.00,309.17 L172.00,309.17 L172.00,309.37 L173.00,309.37 L173.00,308.83 L174.00,308.83 L174.00,309.12 L175.00,309.12 L175.00,308.89 L176.00,308.89 L176.00,309.27 L177.00,309.27 L177.00,309.14 L178.00,309.14 L178.00,309.29 L179.00,309.29 L179.00,309.06 L180.00,309.06 L180.00,308.98 L181.00,308.98 L181.00,309.07 L182.00,309.07 L182.00,309.06 L183.00,309.06 L183.00,309.25 L184.00,309.25 L184.00,308.82 L185.00,308.82 L185.00,309.44 L186.00,309.44 L186.00,309.34 L187.00,309.34 L187.00,309.01 L188.00,309.01 L188.00,308.81 L189.00,308.81 L189.00,308.89 L190.00,308.89 L190.00,309.29 L191.00,309.29 L191.00,308.83 L192.00,308.83 L192.00,309.15 L193.00,309.15 L193.00,309.07 L194.00,309.07 L194.00,309.02 L195.00,309.02 L195.00,309.04 L196.00,309.04 L196.00,308.87 L197.00,308.87 L197.00,308.86 L198.00,308.86 L198.00,309.24 L199.00,309.24 L199.00,308.86 L200.00,308.86 L200.00,309.24 L201.00,309.24 L201.00,309.00 L202.00,309.00 L202.00,309.35 L203.00,309.35 L203.00,309.03 L204.00,309.03 L204.00,309.25 L205.00,309.25 L205.00,308.79 L206.00,308.79 L206.00,309.01 L207.00,309.01 L207.00,309.19 L208.00,309.19 L208.00,308.82 L209.00,308.82 L209.00,309.37 L210.00,309.37 L210.00,308.96 L211.00,308.96 L211.00,309.02 L212.00,309.02 L212.00,309.44 L213.00,309.44 L213.00,309.15 L214.00,309.15 L214.00,309.37 L215.00,309.37 L215.00,308.79 L216.00,308.79 L216.00,309.38 L217.00,309.38 L217.00,309.03 L218.00,309.03 L218.00,309.09 L219.00,309.09 L219.00,309.37 L220.00,309.37 L220.00,308.83 L221.00,308.83 L221.00,309.07 L222.00,309.07 L222.00,309.04 L223.00,309.04 L223.00,309.28 L224.00,309.28 L224.00,309.35 L225.00,309.35 L225.00,309.23 L226.00,309.23 L226.00,309.43 L227.00,309.43 L227.00,309.32 L228.00,309.32 L228.00,309.12 L229.00,309.12 L229.00,309.19 L230.00,309.19 L230.00,308.95 L231.00,308.95 L231.00,309.36 L232.00,309.36 L232.00,309.31 L233.00,309.31 L233.00,309.10 L234.00,309.10 L234.00,309.00 L235.00,309.00 L235.00,309.24 L236.00,309.24 L236.00,309.31 L237.00,309.31 L237.00,309.37 L238.00,309.37 L238.00,309.21 L239.00,309.21 L239.00,309.20 L240.00,309.20 L240.00,308.92 L241.00,308.92 L241.00,309.29 L242.00,309.29 L242.00,309.23 L243.00,309.23 L243.00,308.96 L244.00,308.96 L244.00,309.31 L245.00,309.31 L245.00,309.42 L246.00,309.42 L246.00,308.81 L247.00,308.81 L247.00,308.85 L248.00,308.85 L248.00,309.24 L249.00,309.24 L249.00,309.26 L250.00,309.26 L250.00,309.15 L251.00,309.15 L251.00,309.31 L252.00,309.31 L252.00,308.93 L253.00,308.93 L253.00,308.87 L254.00,308.87 L254.00,308.98 L255.00,308.98 L255.00,309.19 L256.00,309.19 L256.00,308.90 L257.00,308.90 L257.00,308.83 L258.00,308.83 L258.00,309.33 L259.00,309.33 L259.00,309.01 L260.00,309.01 L260.00,309.34 L261.00,309.34 L261.00,308.80 L262.00,308.80 L262.00,308.92 L263.00,308.92 L263.00,309.18 L264.00,309.18 L264.00,308.96 L265.00,308.96 L265.00,309.26 L266.00,309.26 L266.00,309.41 L267.00,309.41 L267.00,309.11 L268.00,309.11 L268.00,309.40 L269.00,309.40 L269.00,309.15 L270.00,309.15 L270.00,308.89 L271.00,308.89 L271.00,309.07 L272.00,309.07 L272.00,309.27 L273.00,309.27 L273.00,309.31 L274.00,309.31 L274.00,309.08 L275.00,309.08 L275.00,309.11 L276.00,309.11 L276.00,308.85 L277.00,308.85 L277.00,309.34 L278.00,309.34 L278.00,309.14 L279.00,309.14 L279.00,309.15 L280.00,309.15 L280.00,309.20 L281.00,309.20 L281.00,309.33 L282.00,309.33 L282.00,309.20 L283.00,309.20 L283.00,309.09 L284.00,309.09 L284.00,309.32 L285.00,309.32 L285.00,309.24 L286.00,309.24 L286.00,309.10 L287.00,309.10 L287.00,308.83 L288.00,308.83 L288.00,309.13 L289.00,309.13 L289.00,309.22 L290.00,309.22 L290.00,309.43 L291.00,309.43 L291.00,309.11 L292.00,309.11 L292.00,309.22 L293.00,309.22 L293.00,309.37 L294.00,309.37 L294.00,309.14 L295.00,309.14 L295.00,309.04 L296.00,309.04 L296.00,309.22 L297.00,309.22 L297.00,308.96 L298.00,308.96 L298.00,309.03 L299.00,309.03 L299.00,309.41 L300.00,309.41 L300.00,309.42 L301.00,309.42 L301.00,309.10 L302.00,309.10 L302.00,309.05 L303.00,309.05 L303.00,309.08 L304.00,309.08 L304.00,309.30 L305.00,309.30 L305.00,309.22 L306.00,309.22 L306.00,308.98 L307.00,308.98 L307.00,309.19 L308.00,309.19 L308.00,309.10 L309.00,309.10 L309.00,309.30 L310.00,309.30 L310.00,309.03 L311.00,309.03 L311.00,309.13 L312.00,309.13 L312.00,309.45 L313.00,309.45 L313.00,308.95 L314.00,308.95 L314.00,308.92 L315.00,308.92 L315.00,308.80 L316.00,308.80 L316.00,308.83 L317.00,308.83 L317.00,308.99 L318.00,308.99 L318.00,309.14 L319.00,309.14 L319.00,309.27 L320.00,309.27 L320.00,308.99 L321.00,308.99 L321.00,309.17 L322.00,309.17 L322.00,309.24 L323.00,309.24 L323.00,309.37 L324.00,309.37 L324.00,309.05 L325.00,309.05 L325.00,308.98 L326.00,308.98 L326.00,308.94 L327.00,308.94 L327.00,309.35 L328.00,309.35 L328.00,309.31 L329.00,309.31 L329.00,309.03 L330.00,309.03 L330.00,309.36 L331.00,309.36 L331.00,308.87 L332.00,308.87 L332.00,308.84 L333.00,308.84 L333.00,309.03 L334.00,309.03 L334.00,309.28 L335.00,309.28 L335.00,309.08 L336.00,309.08 L336.00,308.94 L337.00,308.94 L337.00,309.22 L338.00,309.22 L338.00,309.02 L339.00,309.02 L339.00,309.05 L340.00,309.05 L340.00,308.85 L341.00,308.85 L341.00,308.94 L342.00,308.94 L342.00,309.01 L343.00,309.01 L343.00,309.09 L344.00,309.09 L344.00,308.86 L345.00,308.86 L345.00,309.05 L346.00,309.05 L346.00,309.00 L347.00,309.00 L347.00,309.25 L348.00,309.25 L348.00,309.38 L349.00,309.38 L349.00,309.08 L350.00,309.08 L350.00,309.30 L351.00,309.30 L351.00,308.81 L352.00,308.81 L352.00,309.30 L353.00,309.30 L353.00,308.86 L354.00,308.86 L354.00,309.23 L355.00,309.23 L355.00,309.32 L356.00,309.32 L356.00,309.07 L357.00,309.07 L357.00,309.24 L358.00,309.24 L358.00,308.79 L359.00,308.79 L359.00,309.04 L360.00,309.04 L360.00,309.38 L361.00,309.38 L361.00,309.25 L362.00,309.25 L362.00,309.38 L363.00,309.38 L363.00,309.12 L364.00,309.12 L364.00,309.10 L365.00,309.10 L365.00,309.24 L366.00,309.24 L366.00,309.01 L367.00,309.01 L367.00,309.16 L368.00,309.16 L368.00,308.91 L369.00,308.91 L369.00,309.00 L370.00,309.00 L370.00,309.28 L371.00,309.28 L371.00,308.90 L372.00,308.90 L372.00,309.43 L373.00,309.43 L373.00,309.29 L374.00,309.29 L374.00,309.43 L375.00,309.43 L375.00,308.82 L376.00,308.82 L376.00,309.10 L377.00,309.10 L377.00,308.89 L378.00,308.89 L378.00,308.80 L379.00,308.80 L379.00,309.39 L380.00,309.39 L380.00,308.86 L381.00,308.86 L381.00,309.44 L382.00,309.44 L382.00,308.99 L383.00,308.99 L383.00,308.93 L384.00,308.93 L384.00,309.20 L385.00,309.20 L385.00,308.86 L386.00,308.86 L386.00,308.94 L387.00,308.94 L387.00,309.12 L388.00,309.12 L388.00,309.26 L389.00,309.26 L389.00,309.34 L390.00,309.34 L390.00,309.40 L391.00,309.40 L391.00,309.09 L392.00,309.09 L392.00,309.10 L393.00,309.10 L393.00,309.33 L394.00,309.33 L394.00,309.10 L395.00,309.10 L395.00,309.40 L396.00,309.40 L396.00,309.25 L397.00,309.25 L397.00,309.01 L398.00,309.01 L398.00,309.35 L399.00,309.35 L399.00,309.10 L400.00,309.10 L400.00,309.36 L401.00,309.36 L401.00,308.87 L402.00,308.87 L402.00,309.31 L403.00,309.31 L403.00,308.84 L404.00,308.84 L404.00,308.84 L405.00,308.84 L405.00,308.81 L406.00,308.81 L406.00,309.26 L407.00,309.26 L407.00,309.00 L408.00,309.00 L408.00,309.40 L409.00,309.40 L409.00,308.81 L410.00,308.81 L410.00,308.99 L411.00,308.99 L411.00,309.43 L412.00,309.43 L412.00,309.36 L413.00,309.36 L413.00,309.38 L414.00,309.38 L414.00,309.22 L415.00,309.22 L415.00,308.83 L416.00,308.83 L416.00,308.93 L417.00,308.93 L417.00,309.23 L418.00,309.23 L418.00,308.92 L419.00,308.92 L419.00,309.44 L420.00,309.44 L420.00,309.09 L421.00,309.09 L421.00,309.19 L422.00,309.19 L422.00,309.40 L423.00,309.40 L423.00,308.84 L424.00,308.84 L424.00,309.02 L425.00,309.02 L425.00,308.79 L426.00,308.79 L426.00,309.03 L427.00,309.03 L427.00,309.04 L428.00,309.04 L428.00,309.37 L429.00,309.37 L429.00,309.14 L430.00,309.14 L430.00,308.86 L431.00,308.86 L431.00,310.00 Z" fill="#9a2a5e" opacity="0.8"/>
<path d="M267.27,310.00V308.40M192.86,310.00V309.21M129.09,310.00V309.44M340.32,310.00V307.04M368.17,310.00V305.88M201.25,310.00V309.17M170.93,310.00V309.20M155.93,310.00V306.37M424.71,310.00V308.84M234.02,310.00V307.71M400.36,310.00V304.87M237.28,310.00V309.45M180.25,310.00V309.45M223.07,310.00V309.10M387.98,310.00V309.39M278.09,310.00V309.44M170.34,310.00V308.55M271.37,310.00V307.59M286.84,310.00V307.86M406.55,310.00V307.57M253.19,310.00V308.43M322.22,310.00V307.92M332.24,310.00V307.65M202.56,310.00V307.32M225.45,310.00V308.74M167.84,310.00V305.63M132.31,310.00V308.05M296.36,310.00V308.66M63.89,310.00V308.11M293.57,310.00V307.31M302.33,310.00V306.33M108.07,310.00V308.26M228.25,310.00V307.99M429.40,310.00V309.43M280.67,310.00V309.19M430.35,310.00V309.02M195.31,310.00V309.14M110.04,310.00V306.78M193.42,310.00V304.74M390.15,310.00V305.71M264.56,310.00V308.49M221.57,310.00V307.81M148.56,310.00V309.20M387.56,310.00V306.23M324.92,310.00V307.81M193.66,310.00V309.18M98.28,310.00V308.95M365.29,310.00V308.20M248.33,310.00V307.07M136.92,310.00V309.31M385.93,310.00V309.41M115.79,310.00V309.36M176.48,310.00V308.76M206.09,310.00V309.42M92.51,310.00V308.92" stroke="#b8306e" stroke-width="0.55" opacity="0.8" fill="none"/>
<path d="M124.80,310.00V306.71M422.65,310.00V306.94M231.31,310.00V308.96M185.83,310.00V306.33M93.71,310.00V306.78M72.29,310.00V307.58M301.98,310.00V309.25M372.86,310.00V309.45M363.19,310.00V309.42M281.39,310.00V305.95M373.19,310.00V309.35M250.33,310.00V309.44M321.38,310.00V308.74M121.20,310.00V308.03M171.09,310.00V305.41M329.43,310.00V307.38M183.38,310.00V307.97M216.24,310.00V305.86" stroke="#9a8aa0" stroke-width="0.5" opacity="0.6" fill="none"/>
<path d="M254.90,310.00V299.40M253.73,310.00V303.32M246.67,310.00V304.07M250.50,310.00V299.14M252.61,310.00V297.77M253.01,310.00V303.38M246.50,310.00V301.71M248.97,310.00V298.18" stroke="#b8306e" stroke-width="0.8" opacity="0.8" fill="none"/>
<path d="M282.62,310.00V301.20M282.10,310.00V299.49M281.08,310.00V302.08M282.81,310.00V298.84M281.28,310.00V297.12M279.60,310.00V299.10M281.20,310.00V303.17M279.51,310.00V300.81" stroke="#b8306e" stroke-width="0.8" opacity="0.8" fill="none"/>
<path d="M292.08,310.00V304.50M292.29,310.00V297.12M287.36,310.00V301.07M289.40,310.00V303.05M286.84,310.00V303.67M292.59,310.00V298.46M292.66,310.00V301.56M289.49,310.00V305.54" stroke="#b8306e" stroke-width="0.8" opacity="0.8" fill="none"/>
<path d="M407.56,310.00V300.81M410.96,310.00V305.51M408.94,310.00V305.67M410.83,310.00V304.26M409.16,310.00V300.33M406.23,310.00V301.90M407.54,310.00V304.47M407.38,310.00V305.52" stroke="#b8306e" stroke-width="0.8" opacity="0.8" fill="none"/>
<path d="M60.00,327.80 L60.00,326.78 L61.00,326.78 L61.00,326.61 L62.00,326.61 L62.00,326.89 L63.00,326.89 L63.00,326.99 L64.00,326.99 L64.00,326.91 L65.00,326.91 L65.00,327.15 L66.00,327.15 L66.00,326.76 L67.00,326.76 L67.00,326.79 L68.00,326.79 L68.00,327.18 L69.00,327.18 L69.00,327.00 L70.00,327.00 L70.00,327.17 L71.00,327.17 L71.00,326.79 L72.00,326.79 L72.00,327.24 L73.00,327.24 L73.00,326.68 L74.00,326.68 L74.00,327.21 L75.00,327.21 L75.00,326.70 L76.00,326.70 L76.00,327.12 L77.00,327.12 L77.00,326.90 L78.00,326.90 L78.00,326.78 L79.00,326.78 L79.00,326.63 L80.00,326.63 L80.00,326.67 L81.00,326.67 L81.00,327.15 L82.00,327.15 L82.00,326.78 L83.00,326.78 L83.00,326.97 L84.00,326.97 L84.00,327.14 L85.00,327.14 L85.00,326.95 L86.00,326.95 L86.00,326.63 L87.00,326.63 L87.00,327.24 L88.00,327.24 L88.00,326.79 L89.00,326.79 L89.00,326.89 L90.00,326.89 L90.00,326.67 L91.00,326.67 L91.00,326.94 L92.00,326.94 L92.00,327.09 L93.00,327.09 L93.00,326.69 L94.00,326.69 L94.00,327.18 L95.00,327.18 L95.00,326.80 L96.00,326.80 L96.00,327.06 L97.00,327.06 L97.00,327.21 L98.00,327.21 L98.00,327.14 L99.00,327.14 L99.00,326.69 L100.00,326.69 L100.00,327.15 L101.00,327.15 L101.00,326.64 L102.00,326.64 L102.00,327.15 L103.00,327.15 L103.00,326.64 L104.00,326.64 L104.00,327.22 L105.00,327.22 L105.00,326.81 L106.00,326.81 L106.00,326.90 L107.00,326.90 L107.00,326.86 L108.00,326.86 L108.00,326.64 L109.00,326.64 L109.00,327.10 L110.00,327.10 L110.00,326.59 L111.00,326.59 L111.00,326.87 L112.00,326.87 L112.00,326.72 L113.00,326.72 L113.00,327.08 L114.00,327.08 L114.00,326.59 L115.00,326.59 L115.00,326.77 L116.00,326.77 L116.00,326.94 L117.00,326.94 L117.00,327.11 L118.00,327.11 L118.00,326.67 L119.00,326.67 L119.00,326.88 L120.00,326.88 L120.00,326.60 L121.00,326.60 L121.00,326.67 L122.00,326.67 L122.00,326.76 L123.00,326.76 L123.00,326.77 L124.00,326.77 L124.00,327.14 L125.00,327.14 L125.00,326.70 L126.00,326.70 L126.00,326.78 L127.00,326.78 L127.00,327.19 L128.00,327.19 L128.00,327.20 L129.00,327.20 L129.00,327.18 L130.00,327.18 L130.00,327.11 L131.00,327.11 L131.00,326.75 L132.00,326.75 L132.00,326.74 L133.00,326.74 L133.00,326.79 L134.00,326.79 L134.00,327.01 L135.00,327.01 L135.00,326.63 L136.00,326.63 L136.00,327.15 L137.00,327.15 L137.00,327.10 L138.00,327.10 L138.00,326.96 L139.00,326.96 L139.00,327.08 L140.00,327.08 L140.00,326.76 L141.00,326.76 L141.00,326.70 L142.00,326.70 L142.00,326.76 L143.00,326.76 L143.00,327.04 L144.00,327.04 L144.00,326.87 L145.00,326.87 L145.00,327.04 L146.00,327.04 L146.00,326.89 L147.00,326.89 L147.00,326.90 L148.00,326.90 L148.00,327.15 L149.00,327.15 L149.00,326.69 L150.00,326.69 L150.00,326.71 L151.00,326.71 L151.00,326.74 L152.00,326.74 L152.00,327.19 L153.00,327.19 L153.00,327.10 L154.00,327.10 L154.00,326.76 L155.00,326.76 L155.00,326.72 L156.00,326.72 L156.00,326.84 L157.00,326.84 L157.00,326.63 L158.00,326.63 L158.00,326.97 L159.00,326.97 L159.00,327.10 L160.00,327.10 L160.00,326.94 L161.00,326.94 L161.00,327.05 L162.00,327.05 L162.00,327.00 L163.00,327.00 L163.00,326.73 L164.00,326.73 L164.00,327.04 L165.00,327.04 L165.00,326.78 L166.00,326.78 L166.00,326.86 L167.00,326.86 L167.00,327.24 L168.00,327.24 L168.00,326.91 L169.00,326.91 L169.00,326.68 L170.00,326.68 L170.00,326.82 L171.00,326.82 L171.00,326.69 L172.00,326.69 L172.00,326.83 L173.00,326.83 L173.00,326.59 L174.00,326.59 L174.00,327.22 L175.00,327.22 L175.00,326.97 L176.00,326.97 L176.00,327.12 L177.00,327.12 L177.00,326.75 L178.00,326.75 L178.00,327.06 L179.00,327.06 L179.00,326.81 L180.00,326.81 L180.00,326.82 L181.00,326.82 L181.00,327.24 L182.00,327.24 L182.00,326.84 L183.00,326.84 L183.00,327.03 L184.00,327.03 L184.00,327.08 L185.00,327.08 L185.00,326.82 L186.00,326.82 L186.00,326.83 L187.00,326.83 L187.00,327.11 L188.00,327.11 L188.00,326.78 L189.00,326.78 L189.00,327.20 L190.00,327.20 L190.00,327.21 L191.00,327.21 L191.00,326.66 L192.00,326.66 L192.00,326.64 L193.00,326.64 L193.00,326.63 L194.00,326.63 L194.00,326.59 L195.00,326.59 L195.00,326.76 L196.00,326.76 L196.00,326.87 L197.00,326.87 L197.00,326.90 L198.00,326.90 L198.00,326.90 L199.00,326.90 L199.00,326.63 L200.00,326.63 L200.00,326.61 L201.00,326.61 L201.00,326.96 L202.00,326.96 L202.00,327.12 L203.00,327.12 L203.00,326.90 L204.00,326.90 L204.00,326.97 L205.00,326.97 L205.00,326.72 L206.00,326.72 L206.00,326.64 L207.00,326.64 L207.00,326.84 L208.00,326.84 L208.00,327.20 L209.00,327.20 L209.00,326.90 L210.00,326.90 L210.00,327.17 L211.00,327.17 L211.00,326.90 L212.00,326.90 L212.00,326.71 L213.00,326.71 L213.00,326.81 L214.00,326.81 L214.00,326.94 L215.00,326.94 L215.00,327.15 L216.00,327.15 L216.00,326.64 L217.00,326.64 L217.00,326.67 L218.00,326.67 L218.00,326.93 L219.00,326.93 L219.00,327.22 L220.00,327.22 L220.00,326.80 L221.00,326.80 L221.00,326.99 L222.00,326.99 L222.00,326.99 L223.00,326.99 L223.00,327.00 L224.00,327.00 L224.00,327.07 L225.00,327.07 L225.00,327.16 L226.00,327.16 L226.00,326.82 L227.00,326.82 L227.00,326.91 L228.00,326.91 L228.00,326.97 L229.00,326.97 L229.00,326.75 L230.00,326.75 L230.00,326.92 L231.00,326.92 L231.00,327.14 L232.00,327.14 L232.00,327.07 L233.00,327.07 L233.00,326.88 L234.00,326.88 L234.00,326.81 L235.00,326.81 L235.00,326.83 L236.00,326.83 L236.00,326.76 L237.00,326.76 L237.00,327.01 L238.00,327.01 L238.00,326.74 L239.00,326.74 L239.00,326.87 L240.00,326.87 L240.00,327.08 L241.00,327.08 L241.00,327.17 L242.00,327.17 L242.00,326.84 L243.00,326.84 L243.00,326.69 L244.00,326.69 L244.00,326.62 L245.00,326.62 L245.00,326.71 L246.00,326.71 L246.00,326.71 L247.00,326.71 L247.00,326.86 L248.00,326.86 L248.00,327.09 L249.00,327.09 L249.00,327.05 L250.00,327.05 L250.00,326.68 L251.00,326.68 L251.00,327.07 L252.00,327.07 L252.00,326.93 L253.00,326.93 L253.00,326.89 L254.00,326.89 L254.00,327.24 L255.00,327.24 L255.00,327.18 L256.00,327.18 L256.00,327.12 L257.00,327.12 L257.00,326.72 L258.00,326.72 L258.00,326.73 L259.00,326.73 L259.00,327.19 L260.00,327.19 L260.00,327.14 L261.00,327.14 L261.00,326.60 L262.00,326.60 L262.00,327.14 L263.00,327.14 L263.00,326.72 L264.00,326.72 L264.00,326.86 L265.00,326.86 L265.00,326.67 L266.00,326.67 L266.00,326.76 L267.00,326.76 L267.00,327.19 L268.00,327.19 L268.00,326.74 L269.00,326.74 L269.00,326.78 L270.00,326.78 L270.00,327.22 L271.00,327.22 L271.00,326.63 L272.00,326.63 L272.00,327.06 L273.00,327.06 L273.00,326.94 L274.00,326.94 L274.00,326.90 L275.00,326.90 L275.00,326.88 L276.00,326.88 L276.00,326.87 L277.00,326.87 L277.00,327.21 L278.00,327.21 L278.00,326.69 L279.00,326.69 L279.00,326.90 L280.00,326.90 L280.00,327.19 L281.00,327.19 L281.00,326.92 L282.00,326.92 L282.00,327.13 L283.00,327.13 L283.00,326.97 L284.00,326.97 L284.00,326.78 L285.00,326.78 L285.00,326.75 L286.00,326.75 L286.00,327.14 L287.00,327.14 L287.00,327.06 L288.00,327.06 L288.00,326.61 L289.00,326.61 L289.00,326.84 L290.00,326.84 L290.00,327.13 L291.00,327.13 L291.00,326.85 L292.00,326.85 L292.00,327.09 L293.00,327.09 L293.00,327.20 L294.00,327.20 L294.00,326.82 L295.00,326.82 L295.00,327.18 L296.00,327.18 L296.00,327.16 L297.00,327.16 L297.00,326.80 L298.00,326.80 L298.00,326.61 L299.00,326.61 L299.00,327.20 L300.00,327.20 L300.00,326.76 L301.00,326.76 L301.00,327.16 L302.00,327.16 L302.00,327.21 L303.00,327.21 L303.00,327.24 L304.00,327.24 L304.00,327.24 L305.00,327.24 L305.00,326.77 L306.00,326.77 L306.00,326.65 L307.00,326.65 L307.00,327.24 L308.00,327.24 L308.00,327.15 L309.00,327.15 L309.00,327.22 L310.00,327.22 L310.00,326.98 L311.00,326.98 L311.00,327.04 L312.00,327.04 L312.00,327.12 L313.00,327.12 L313.00,326.71 L314.00,326.71 L314.00,327.18 L315.00,327.18 L315.00,326.83 L316.00,326.83 L316.00,327.16 L317.00,327.16 L317.00,326.82 L318.00,326.82 L318.00,327.16 L319.00,327.16 L319.00,327.12 L320.00,327.12 L320.00,326.60 L321.00,326.60 L321.00,327.07 L322.00,327.07 L322.00,326.95 L323.00,326.95 L323.00,326.81 L324.00,326.81 L324.00,326.59 L325.00,326.59 L325.00,326.89 L326.00,326.89 L326.00,327.17 L327.00,327.17 L327.00,326.81 L328.00,326.81 L328.00,326.80 L329.00,326.80 L329.00,326.86 L330.00,326.86 L330.00,327.00 L331.00,327.00 L331.00,326.71 L332.00,326.71 L332.00,327.21 L333.00,327.21 L333.00,326.89 L334.00,326.89 L334.00,326.89 L335.00,326.89 L335.00,326.64 L336.00,326.64 L336.00,326.74 L337.00,326.74 L337.00,327.09 L338.00,327.09 L338.00,327.00 L339.00,327.00 L339.00,326.86 L340.00,326.86 L340.00,327.00 L341.00,327.00 L341.00,327.21 L342.00,327.21 L342.00,326.59 L343.00,326.59 L343.00,326.95 L344.00,326.95 L344.00,327.16 L345.00,327.16 L345.00,327.15 L346.00,327.15 L346.00,327.24 L347.00,327.24 L347.00,326.65 L348.00,326.65 L348.00,327.16 L349.00,327.16 L349.00,326.88 L350.00,326.88 L350.00,326.63 L351.00,326.63 L351.00,326.74 L352.00,326.74 L352.00,326.86 L353.00,326.86 L353.00,327.06 L354.00,327.06 L354.00,326.81 L355.00,326.81 L355.00,326.72 L356.00,326.72 L356.00,327.11 L357.00,327.11 L357.00,327.10 L358.00,327.10 L358.00,326.98 L359.00,326.98 L359.00,326.86 L360.00,326.86 L360.00,326.66 L361.00,326.66 L361.00,326.86 L362.00,326.86 L362.00,327.07 L363.00,327.07 L363.00,326.77 L364.00,326.77 L364.00,327.15 L365.00,327.15 L365.00,327.18 L366.00,327.18 L366.00,327.24 L367.00,327.24 L367.00,326.87 L368.00,326.87 L368.00,326.87 L369.00,326.87 L369.00,326.94 L370.00,326.94 L370.00,326.88 L371.00,326.88 L371.00,327.13 L372.00,327.13 L372.00,327.11 L373.00,327.11 L373.00,326.86 L374.00,326.86 L374.00,326.98 L375.00,326.98 L375.00,326.92 L376.00,326.92 L376.00,326.65 L377.00,326.65 L377.00,326.94 L378.00,326.94 L378.00,326.76 L379.00,326.76 L379.00,327.21 L380.00,327.21 L380.00,326.93 L381.00,326.93 L381.00,327.21 L382.00,327.21 L382.00,327.12 L383.00,327.12 L383.00,327.13 L384.00,327.13 L384.00,327.00 L385.00,327.00 L385.00,327.15 L386.00,327.15 L386.00,326.63 L387.00,326.63 L387.00,327.05 L388.00,327.05 L388.00,327.05 L389.00,327.05 L389.00,327.20 L390.00,327.20 L390.00,327.01 L391.00,327.01 L391.00,326.73 L392.00,326.73 L392.00,326.89 L393.00,326.89 L393.00,326.66 L394.00,326.66 L394.00,326.84 L395.00,326.84 L395.00,326.82 L396.00,326.82 L396.00,326.97 L397.00,326.97 L397.00,326.70 L398.00,326.70 L398.00,326.95 L399.00,326.95 L399.00,327.16 L400.00,327.16 L400.00,327.10 L401.00,327.10 L401.00,326.72 L402.00,326.72 L402.00,327.21 L403.00,327.21 L403.00,327.13 L404.00,327.13 L404.00,326.84 L405.00,326.84 L405.00,326.80 L406.00,326.80 L406.00,326.94 L407.00,326.94 L407.00,326.82 L408.00,326.82 L408.00,326.97 L409.00,326.97 L409.00,326.86 L410.00,326.86 L410.00,327.22 L411.00,327.22 L411.00,326.98 L412.00,326.98 L412.00,326.61 L413.00,326.61 L413.00,326.87 L414.00,326.87 L414.00,327.03 L415.00,327.03 L415.00,326.84 L416.00,326.84 L416.00,326.61 L417.00,326.61 L417.00,326.94 L418.00,326.94 L418.00,326.98 L419.00,326.98 L419.00,326.71 L420.00,326.71 L420.00,326.69 L421.00,326.69 L421.00,327.10 L422.00,327.10 L422.00,326.81 L423.00,326.81 L423.00,327.05 L424.00,327.05 L424.00,327.02 L425.00,327.02 L425.00,326.72 L426.00,326.72 L426.00,327.01 L427.00,327.01 L427.00,326.65 L428.00,326.65 L428.00,326.93 L429.00,326.93 L429.00,326.68 L430.00,326.68 L430.00,327.16 L431.00,327.16 L431.00,327.80 Z" fill="#9a2a5e" opacity="0.8"/>
<path d="M210.04,327.80V323.61M390.05,327.80V326.18M420.03,327.80V326.79M111.00,327.80V324.06M255.53,327.80V323.79M308.13,327.80V325.17M383.41,327.80V326.35M299.07,327.80V327.00M312.35,327.80V327.19M306.68,327.80V327.24M119.87,327.80V324.88M109.24,327.80V325.34M340.00,327.80V323.77M130.95,327.80V325.43M264.97,327.80V326.52M148.31,327.80V323.47M313.12,327.80V322.71M154.13,327.80V323.86M302.13,327.80V325.96M363.01,327.80V326.48M424.50,327.80V325.79M281.65,327.80V326.22M393.35,327.80V326.45M288.18,327.80V327.24M240.03,327.80V326.81M372.83,327.80V327.06M121.55,327.80V326.25M112.59,327.80V327.13M260.10,327.80V325.18M103.11,327.80V323.69M66.22,327.80V327.22M370.17,327.80V326.96M393.90,327.80V326.07M330.80,327.80V327.23M77.51,327.80V322.82M393.50,327.80V327.24M295.51,327.80V323.31M400.81,327.80V324.26M348.84,327.80V326.54M327.86,327.80V324.86M225.04,327.80V324.20M228.01,327.80V325.55M288.86,327.80V327.00M155.53,327.80V323.09M293.15,327.80V325.25M114.13,327.80V325.58M339.71,327.80V324.86M183.99,327.80V327.11M213.55,327.80V327.19M405.06,327.80V324.60" stroke="#b8306e" stroke-width="0.55" opacity="0.8" fill="none"/>
<path d="M188.67,327.80V326.84M69.51,327.80V326.54M363.52,327.80V326.29M305.17,327.80V326.72M132.30,327.80V325.65M77.66,327.80V326.33M93.36,327.80V326.48M169.65,327.80V324.55M84.86,327.80V322.37M284.98,327.80V326.98M141.96,327.80V326.98M119.23,327.80V326.01M361.10,327.80V327.24M344.41,327.80V326.90M62.55,327.80V327.16M154.20,327.80V324.11" stroke="#9a8aa0" stroke-width="0.5" opacity="0.6" fill="none"/>
<path d="M254.51,327.80V315.57M253.65,327.80V316.21M250.25,327.80V323.39M248.11,327.80V322.62M247.04,327.80V322.67M248.87,327.80V323.44M248.66,327.80V316.11M248.18,327.80V319.27" stroke="#b8306e" stroke-width="0.8" opacity="0.8" fill="none"/>
<path d="M282.40,327.80V323.76M281.91,327.80V318.96M279.12,327.80V315.80M282.18,327.80V322.98M282.85,327.80V318.65M281.54,327.80V321.97M279.12,327.80V317.48M281.85,327.80V322.25" stroke="#b8306e" stroke-width="0.8" opacity="0.8" fill="none"/>
<path d="M286.24,327.80V318.67M288.16,327.80V320.76M292.08,327.80V318.75M286.83,327.80V317.54M291.04,327.80V318.73M292.67,327.80V319.57M290.55,327.80V323.39M288.11,327.80V321.17" stroke="#b8306e" stroke-width="0.8" opacity="0.8" fill="none"/>
<path d="M407.58,327.80V319.25M405.69,327.80V317.61M405.33,327.80V321.60M408.51,327.80V323.68M406.97,327.80V316.54M409.39,327.80V320.48M406.00,327.80V317.07M410.22,327.80V323.16" stroke="#b8306e" stroke-width="0.8" opacity="0.8" fill="none"/>
<path d="M60.00,345.40 L60.00,344.57 L61.00,344.57 L61.00,344.49 L62.00,344.49 L62.00,344.39 L63.00,344.39 L63.00,344.72 L64.00,344.72 L64.00,344.31 L65.00,344.31 L65.00,344.45 L66.00,344.45 L66.00,344.32 L67.00,344.32 L67.00,344.22 L68.00,344.22 L68.00,344.40 L69.00,344.40 L69.00,344.41 L70.00,344.41 L70.00,344.65 L71.00,344.65 L71.00,344.67 L72.00,344.67 L72.00,344.60 L73.00,344.60 L73.00,344.32 L74.00,344.32 L74.00,344.46 L75.00,344.46 L75.00,344.67 L76.00,344.67 L76.00,344.25 L77.00,344.25 L77.00,344.51 L78.00,344.51 L78.00,344.20 L79.00,344.20 L79.00,344.42 L80.00,344.42 L80.00,344.36 L81.00,344.36 L81.00,344.62 L82.00,344.62 L82.00,344.20 L83.00,344.20 L83.00,344.53 L84.00,344.53 L84.00,344.41 L85.00,344.41 L85.00,344.58 L86.00,344.58 L86.00,344.50 L87.00,344.50 L87.00,344.73 L88.00,344.73 L88.00,344.61 L89.00,344.61 L89.00,344.58 L90.00,344.58 L90.00,344.36 L91.00,344.36 L91.00,344.75 L92.00,344.75 L92.00,344.72 L93.00,344.72 L93.00,344.43 L94.00,344.43 L94.00,344.54 L95.00,344.54 L95.00,344.27 L96.00,344.27 L96.00,344.84 L97.00,344.84 L97.00,344.56 L98.00,344.56 L98.00,344.30 L99.00,344.30 L99.00,344.35 L100.00,344.35 L100.00,344.62 L101.00,344.62 L101.00,344.51 L102.00,344.51 L102.00,344.59 L103.00,344.59 L103.00,344.85 L104.00,344.85 L104.00,344.80 L105.00,344.80 L105.00,344.70 L106.00,344.70 L106.00,344.27 L107.00,344.27 L107.00,344.72 L108.00,344.72 L108.00,344.66 L109.00,344.66 L109.00,344.48 L110.00,344.48 L110.00,344.39 L111.00,344.39 L111.00,344.42 L112.00,344.42 L112.00,344.65 L113.00,344.65 L113.00,344.62 L114.00,344.62 L114.00,344.84 L115.00,344.84 L115.00,344.33 L116.00,344.33 L116.00,344.60 L117.00,344.60 L117.00,344.66 L118.00,344.66 L118.00,344.71 L119.00,344.71 L119.00,344.52 L120.00,344.52 L120.00,344.75 L121.00,344.75 L121.00,344.64 L122.00,344.64 L122.00,344.78 L123.00,344.78 L123.00,344.72 L124.00,344.72 L124.00,344.50 L125.00,344.50 L125.00,344.63 L126.00,344.63 L126.00,344.78 L127.00,344.78 L127.00,344.27 L128.00,344.27 L128.00,344.81 L129.00,344.81 L129.00,344.58 L130.00,344.58 L130.00,344.66 L131.00,344.66 L131.00,344.81 L132.00,344.81 L132.00,344.65 L133.00,344.65 L133.00,344.56 L134.00,344.56 L134.00,344.40 L135.00,344.40 L135.00,344.68 L136.00,344.68 L136.00,344.60 L137.00,344.60 L137.00,344.26 L138.00,344.26 L138.00,344.43 L139.00,344.43 L139.00,344.56 L140.00,344.56 L140.00,344.71 L141.00,344.71 L141.00,344.33 L142.00,344.33 L142.00,344.24 L143.00,344.24 L143.00,344.69 L144.00,344.69 L144.00,344.29 L145.00,344.29 L145.00,344.60 L146.00,344.60 L146.00,344.53 L147.00,344.53 L147.00,344.83 L148.00,344.83 L148.00,344.69 L149.00,344.69 L149.00,344.69 L150.00,344.69 L150.00,344.72 L151.00,344.72 L151.00,344.30 L152.00,344.30 L152.00,344.22 L153.00,344.22 L153.00,344.64 L154.00,344.64 L154.00,344.32 L155.00,344.32 L155.00,344.65 L156.00,344.65 L156.00,344.47 L157.00,344.47 L157.00,344.72 L158.00,344.72 L158.00,344.25 L159.00,344.25 L159.00,344.51 L160.00,344.51 L160.00,344.46 L161.00,344.46 L161.00,344.33 L162.00,344.33 L162.00,344.50 L163.00,344.50 L163.00,344.53 L164.00,344.53 L164.00,344.38 L165.00,344.38 L165.00,344.54 L166.00,344.54 L166.00,344.47 L167.00,344.47 L167.00,344.65 L168.00,344.65 L168.00,344.75 L169.00,344.75 L169.00,344.70 L170.00,344.70 L170.00,344.21 L171.00,344.21 L171.00,344.46 L172.00,344.46 L172.00,344.84 L173.00,344.84 L173.00,344.73 L174.00,344.73 L174.00,344.47 L175.00,344.47 L175.00,344.51 L176.00,344.51 L176.00,344.20 L177.00,344.20 L177.00,344.25 L178.00,344.25 L178.00,344.80 L179.00,344.80 L179.00,344.32 L180.00,344.32 L180.00,344.20 L181.00,344.20 L181.00,344.36 L182.00,344.36 L182.00,344.22 L183.00,344.22 L183.00,344.60 L184.00,344.60 L184.00,344.43 L185.00,344.43 L185.00,344.40 L186.00,344.40 L186.00,344.32 L187.00,344.32 L187.00,344.38 L188.00,344.38 L188.00,344.31 L189.00,344.31 L189.00,344.63 L190.00,344.63 L190.00,344.33 L191.00,344.33 L191.00,344.46 L192.00,344.46 L192.00,344.22 L193.00,344.22 L193.00,344.64 L194.00,344.64 L194.00,344.44 L195.00,344.44 L195.00,344.28 L196.00,344.28 L196.00,344.35 L197.00,344.35 L197.00,344.39 L198.00,344.39 L198.00,344.75 L199.00,344.75 L199.00,344.75 L200.00,344.75 L200.00,344.64 L201.00,344.64 L201.00,344.42 L202.00,344.42 L202.00,344.83 L203.00,344.83 L203.00,344.41 L204.00,344.41 L204.00,344.77 L205.00,344.77 L205.00,344.72 L206.00,344.72 L206.00,344.67 L207.00,344.67 L207.00,344.49 L208.00,344.49 L208.00,344.38 L209.00,344.38 L209.00,344.23 L210.00,344.23 L210.00,344.70 L211.00,344.70 L211.00,344.79 L212.00,344.79 L212.00,344.28 L213.00,344.28 L213.00,344.46 L214.00,344.46 L214.00,344.24 L215.00,344.24 L215.00,344.38 L216.00,344.38 L216.00,344.76 L217.00,344.76 L217.00,344.61 L218.00,344.61 L218.00,344.71 L219.00,344.71 L219.00,344.55 L220.00,344.55 L220.00,344.66 L221.00,344.66 L221.00,344.28 L222.00,344.28 L222.00,344.26 L223.00,344.26 L223.00,344.73 L224.00,344.73 L224.00,344.19 L225.00,344.19 L225.00,344.21 L226.00,344.21 L226.00,344.60 L227.00,344.60 L227.00,344.27 L228.00,344.27 L228.00,344.23 L229.00,344.23 L229.00,344.37 L230.00,344.37 L230.00,344.61 L231.00,344.61 L231.00,344.43 L232.00,344.43 L232.00,344.34 L233.00,344.34 L233.00,344.63 L234.00,344.63 L234.00,344.54 L235.00,344.54 L235.00,344.79 L236.00,344.79 L236.00,344.75 L237.00,344.75 L237.00,344.32 L238.00,344.32 L238.00,344.65 L239.00,344.65 L239.00,344.39 L240.00,344.39 L240.00,344.57 L241.00,344.57 L241.00,344.38 L242.00,344.38 L242.00,344.66 L243.00,344.66 L243.00,344.79 L244.00,344.79 L244.00,344.41 L245.00,344.41 L245.00,344.68 L246.00,344.68 L246.00,344.72 L247.00,344.72 L247.00,344.54 L248.00,344.54 L248.00,344.52 L249.00,344.52 L249.00,344.26 L250.00,344.26 L250.00,344.39 L251.00,344.39 L251.00,344.56 L252.00,344.56 L252.00,344.56 L253.00,344.56 L253.00,344.45 L254.00,344.45 L254.00,344.76 L255.00,344.76 L255.00,344.65 L256.00,344.65 L256.00,344.45 L257.00,344.45 L257.00,344.23 L258.00,344.23 L258.00,344.45 L259.00,344.45 L259.00,344.71 L260.00,344.71 L260.00,344.21 L261.00,344.21 L261.00,344.32 L262.00,344.32 L262.00,344.70 L263.00,344.70 L263.00,344.61 L264.00,344.61 L264.00,344.83 L265.00,344.83 L265.00,344.35 L266.00,344.35 L266.00,344.71 L267.00,344.71 L267.00,344.30 L268.00,344.30 L268.00,344.38 L269.00,344.38 L269.00,344.34 L270.00,344.34 L270.00,344.48 L271.00,344.48 L271.00,344.69 L272.00,344.69 L272.00,344.83 L273.00,344.83 L273.00,344.46 L274.00,344.46 L274.00,344.84 L275.00,344.84 L275.00,344.51 L276.00,344.51 L276.00,344.34 L277.00,344.34 L277.00,344.76 L278.00,344.76 L278.00,344.56 L279.00,344.56 L279.00,344.49 L280.00,344.49 L280.00,344.75 L281.00,344.75 L281.00,344.72 L282.00,344.72 L282.00,344.45 L283.00,344.45 L283.00,344.74 L284.00,344.74 L284.00,344.75 L285.00,344.75 L285.00,344.70 L286.00,344.70 L286.00,344.23 L287.00,344.23 L287.00,344.26 L288.00,344.26 L288.00,344.78 L289.00,344.78 L289.00,344.47 L290.00,344.47 L290.00,344.58 L291.00,344.58 L291.00,344.83 L292.00,344.83 L292.00,344.68 L293.00,344.68 L293.00,344.42 L294.00,344.42 L294.00,344.84 L295.00,344.84 L295.00,344.22 L296.00,344.22 L296.00,344.66 L297.00,344.66 L297.00,344.62 L298.00,344.62 L298.00,344.22 L299.00,344.22 L299.00,344.76 L300.00,344.76 L300.00,344.76 L301.00,344.76 L301.00,344.54 L302.00,344.54 L302.00,344.64 L303.00,344.64 L303.00,344.64 L304.00,344.64 L304.00,344.47 L305.00,344.47 L305.00,344.22 L306.00,344.22 L306.00,344.58 L307.00,344.58 L307.00,344.82 L308.00,344.82 L308.00,344.60 L309.00,344.60 L309.00,344.29 L310.00,344.29 L310.00,344.56 L311.00,344.56 L311.00,344.81 L312.00,344.81 L312.00,344.69 L313.00,344.69 L313.00,344.70 L314.00,344.70 L314.00,344.62 L315.00,344.62 L315.00,344.64 L316.00,344.64 L316.00,344.41 L317.00,344.41 L317.00,344.38 L318.00,344.38 L318.00,344.82 L319.00,344.82 L319.00,344.75 L320.00,344.75 L320.00,344.31 L321.00,344.31 L321.00,344.27 L322.00,344.27 L322.00,344.33 L323.00,344.33 L323.00,344.73 L324.00,344.73 L324.00,344.39 L325.00,344.39 L325.00,344.80 L326.00,344.80 L326.00,344.40 L327.00,344.40 L327.00,344.70 L328.00,344.70 L328.00,344.30 L329.00,344.30 L329.00,344.29 L330.00,344.29 L330.00,344.54 L331.00,344.54 L331.00,344.37 L332.00,344.37 L332.00,344.23 L333.00,344.23 L333.00,344.26 L334.00,344.26 L334.00,344.42 L335.00,344.42 L335.00,344.44 L336.00,344.44 L336.00,344.61 L337.00,344.61 L337.00,344.40 L338.00,344.40 L338.00,344.76 L339.00,344.76 L339.00,344.55 L340.00,344.55 L340.00,344.79 L341.00,344.79 L341.00,344.79 L342.00,344.79 L342.00,344.41 L343.00,344.41 L343.00,344.57 L344.00,344.57 L344.00,344.71 L345.00,344.71 L345.00,344.22 L346.00,344.22 L346.00,344.66 L347.00,344.66 L347.00,344.49 L348.00,344.49 L348.00,344.53 L349.00,344.53 L349.00,344.73 L350.00,344.73 L350.00,344.19 L351.00,344.19 L351.00,344.35 L352.00,344.35 L352.00,344.26 L353.00,344.26 L353.00,344.65 L354.00,344.65 L354.00,344.25 L355.00,344.25 L355.00,344.25 L356.00,344.25 L356.00,344.23 L357.00,344.23 L357.00,344.73 L358.00,344.73 L358.00,344.75 L359.00,344.75 L359.00,344.79 L360.00,344.79 L360.00,344.79 L361.00,344.79 L361.00,344.39 L362.00,344.39 L362.00,344.82 L363.00,344.82 L363.00,344.54 L364.00,344.54 L364.00,344.62 L365.00,344.62 L365.00,344.37 L366.00,344.37 L366.00,344.82 L367.00,344.82 L367.00,344.37 L368.00,344.37 L368.00,344.22 L369.00,344.22 L369.00,344.65 L370.00,344.65 L370.00,344.58 L371.00,344.58 L371.00,344.36 L372.00,344.36 L372.00,344.65 L373.00,344.65 L373.00,344.29 L374.00,344.29 L374.00,344.19 L375.00,344.19 L375.00,344.70 L376.00,344.70 L376.00,344.54 L377.00,344.54 L377.00,344.75 L378.00,344.75 L378.00,344.48 L379.00,344.48 L379.00,344.59 L380.00,344.59 L380.00,344.21 L381.00,344.21 L381.00,344.37 L382.00,344.37 L382.00,344.20 L383.00,344.20 L383.00,344.32 L384.00,344.32 L384.00,344.31 L385.00,344.31 L385.00,344.60 L386.00,344.60 L386.00,344.41 L387.00,344.41 L387.00,344.78 L388.00,344.78 L388.00,344.62 L389.00,344.62 L389.00,344.24 L390.00,344.24 L390.00,344.20 L391.00,344.20 L391.00,344.74 L392.00,344.74 L392.00,344.52 L393.00,344.52 L393.00,344.58 L394.00,344.58 L394.00,344.44 L395.00,344.44 L395.00,344.46 L396.00,344.46 L396.00,344.68 L397.00,344.68 L397.00,344.27 L398.00,344.27 L398.00,344.55 L399.00,344.55 L399.00,344.34 L400.00,344.34 L400.00,344.37 L401.00,344.37 L401.00,344.20 L402.00,344.20 L402.00,344.51 L403.00,344.51 L403.00,344.46 L404.00,344.46 L404.00,344.34 L405.00,344.34 L405.00,344.70 L406.00,344.70 L406.00,344.82 L407.00,344.82 L407.00,344.31 L408.00,344.31 L408.00,344.39 L409.00,344.39 L409.00,344.36 L410.00,344.36 L410.00,344.32 L411.00,344.32 L411.00,344.72 L412.00,344.72 L412.00,344.27 L413.00,344.27 L413.00,344.43 L414.00,344.43 L414.00,344.23 L415.00,344.23 L415.00,344.48 L416.00,344.48 L416.00,344.28 L417.00,344.28 L417.00,344.81 L418.00,344.81 L418.00,344.74 L419.00,344.74 L419.00,344.48 L420.00,344.48 L420.00,344.41 L421.00,344.41 L421.00,344.60 L422.00,344.60 L422.00,344.80 L423.00,344.80 L423.00,344.27 L424.00,344.27 L424.00,344.80 L425.00,344.80 L425.00,344.26 L426.00,344.26 L426.00,344.70 L427.00,344.70 L427.00,344.38 L428.00,344.38 L428.00,344.46 L429.00,344.46 L429.00,344.69 L430.00,344.69 L430.00,344.63 L431.00,344.63 L431.00,345.40 Z" fill="#9a2a5e" opacity="0.8"/>
<path d="M149.51,345.40V344.51M261.76,345.40V344.79M318.50,345.40V340.89M210.33,345.40V342.58M394.39,345.40V342.48M183.01,345.40V344.45M73.60,345.40V343.55M291.73,345.40V344.10M211.62,345.40V344.69M262.03,345.40V344.85M386.90,345.40V343.86M140.78,345.40V344.12M275.65,345.40V343.71M92.11,345.40V344.05M182.81,345.40V344.47M353.50,345.40V344.79M273.07,345.40V344.67M427.23,345.40V343.87M359.59,345.40V344.45M108.03,345.40V344.69M340.09,345.40V344.64M348.17,345.40V343.84M419.84,345.40V344.85M231.49,345.40V341.15M253.84,345.40V344.73M202.16,345.40V344.84M323.82,345.40V344.63M221.14,345.40V344.60M61.64,345.40V342.72M111.44,345.40V341.56M407.36,345.40V343.54M320.16,345.40V343.03M191.52,345.40V344.42M90.07,345.40V342.28M63.45,345.40V344.85M262.23,345.40V340.79M178.27,345.40V344.55M395.39,345.40V344.45M143.76,345.40V344.24M379.69,345.40V344.78M228.83,345.40V344.75M254.00,345.40V344.65M126.68,345.40V343.98M238.68,345.40V344.76M64.37,345.40V342.07M320.67,345.40V344.37M174.24,345.40V344.10M325.00,345.40V344.84M143.50,345.40V343.97M383.57,345.40V342.91" stroke="#b8306e" stroke-width="0.55" opacity="0.8" fill="none"/>
<path d="M429.95,345.40V341.42M93.15,345.40V344.76M287.04,345.40V344.81M89.47,345.40V343.13M210.64,345.40V343.08M318.95,345.40V344.09M123.75,345.40V344.84M136.33,345.40V343.30M290.65,345.40V343.69M273.26,345.40V344.83M329.76,345.40V344.20M106.16,345.40V343.17M361.46,345.40V344.80M208.86,345.40V344.81M359.15,345.40V344.18M75.49,345.40V340.53" stroke="#9a8aa0" stroke-width="0.5" opacity="0.6" fill="none"/>
<path d="M246.29,345.40V338.19M254.78,345.40V339.22M248.79,345.40V332.52M254.29,345.40V337.98M252.03,345.40V334.27M249.19,345.40V341.48M249.37,345.40V335.20M254.68,345.40V337.48" stroke="#b8306e" stroke-width="0.8" opacity="0.8" fill="none"/>
<path d="M280.64,345.40V338.04M281.43,345.40V341.30M282.65,345.40V332.82M279.12,345.40V341.44M280.26,345.40V340.17M282.08,345.40V333.58M281.18,345.40V332.91M279.91,345.40V339.72" stroke="#b8306e" stroke-width="0.8" opacity="0.8" fill="none"/>
<path d="M288.69,345.40V337.39M287.39,345.40V333.12M291.26,345.40V338.88M287.59,345.40V338.92M288.77,345.40V335.54M291.43,345.40V332.86M286.57,345.40V339.72M288.66,345.40V332.84" stroke="#b8306e" stroke-width="0.8" opacity="0.8" fill="none"/>
<path d="M407.74,345.40V334.96M409.98,345.40V337.31M407.26,345.40V334.44M408.84,345.40V332.46M406.62,345.40V332.82M407.92,345.40V333.59M408.85,345.40V336.37M410.13,345.40V340.77" stroke="#b8306e" stroke-width="0.8" opacity="0.8" fill="none"/>
<path d="M60.00,363.40 L60.00,362.66 L61.00,362.66 L61.00,362.53 L62.00,362.53 L62.00,362.31 L63.00,362.31 L63.00,362.73 L64.00,362.73 L64.00,362.34 L65.00,362.34 L65.00,362.79 L66.00,362.79 L66.00,362.62 L67.00,362.62 L67.00,362.54 L68.00,362.54 L68.00,362.38 L69.00,362.38 L69.00,362.50 L70.00,362.50 L70.00,362.29 L71.00,362.29 L71.00,362.39 L72.00,362.39 L72.00,362.60 L73.00,362.60 L73.00,362.51 L74.00,362.51 L74.00,362.59 L75.00,362.59 L75.00,362.27 L76.00,362.27 L76.00,362.65 L77.00,362.65 L77.00,362.73 L78.00,362.73 L78.00,362.69 L79.00,362.69 L79.00,362.68 L80.00,362.68 L80.00,362.32 L81.00,362.32 L81.00,362.40 L82.00,362.40 L82.00,362.69 L83.00,362.69 L83.00,362.57 L84.00,362.57 L84.00,362.26 L85.00,362.26 L85.00,362.22 L86.00,362.22 L86.00,362.70 L87.00,362.70 L87.00,362.23 L88.00,362.23 L88.00,362.81 L89.00,362.81 L89.00,362.19 L90.00,362.19 L90.00,362.64 L91.00,362.64 L91.00,362.22 L92.00,362.22 L92.00,362.83 L93.00,362.83 L93.00,362.40 L94.00,362.40 L94.00,362.24 L95.00,362.24 L95.00,362.31 L96.00,362.31 L96.00,362.47 L97.00,362.47 L97.00,362.75 L98.00,362.75 L98.00,362.69 L99.00,362.69 L99.00,362.23 L100.00,362.23 L100.00,362.28 L101.00,362.28 L101.00,362.70 L102.00,362.70 L102.00,362.62 L103.00,362.62 L103.00,362.45 L104.00,362.45 L104.00,362.65 L105.00,362.65 L105.00,362.71 L106.00,362.71 L106.00,362.28 L107.00,362.28 L107.00,362.78 L108.00,362.78 L108.00,362.43 L109.00,362.43 L109.00,362.58 L110.00,362.58 L110.00,362.54 L111.00,362.54 L111.00,362.27 L112.00,362.27 L112.00,362.36 L113.00,362.36 L113.00,362.34 L114.00,362.34 L114.00,362.84 L115.00,362.84 L115.00,362.32 L116.00,362.32 L116.00,362.33 L117.00,362.33 L117.00,362.85 L118.00,362.85 L118.00,362.70 L119.00,362.70 L119.00,362.37 L120.00,362.37 L120.00,362.28 L121.00,362.28 L121.00,362.49 L122.00,362.49 L122.00,362.26 L123.00,362.26 L123.00,362.79 L124.00,362.79 L124.00,362.68 L125.00,362.68 L125.00,362.31 L126.00,362.31 L126.00,362.33 L127.00,362.33 L127.00,362.70 L128.00,362.70 L128.00,362.47 L129.00,362.47 L129.00,362.56 L130.00,362.56 L130.00,362.36 L131.00,362.36 L131.00,362.59 L132.00,362.59 L132.00,362.64 L133.00,362.64 L133.00,362.35 L134.00,362.35 L134.00,362.39 L135.00,362.39 L135.00,362.61 L136.00,362.61 L136.00,362.38 L137.00,362.38 L137.00,362.68 L138.00,362.68 L138.00,362.52 L139.00,362.52 L139.00,362.73 L140.00,362.73 L140.00,362.62 L141.00,362.62 L141.00,362.57 L142.00,362.57 L142.00,362.79 L143.00,362.79 L143.00,362.64 L144.00,362.64 L144.00,362.62 L145.00,362.62 L145.00,362.63 L146.00,362.63 L146.00,362.52 L147.00,362.52 L147.00,362.26 L148.00,362.26 L148.00,362.29 L149.00,362.29 L149.00,362.65 L150.00,362.65 L150.00,362.76 L151.00,362.76 L151.00,362.79 L152.00,362.79 L152.00,362.27 L153.00,362.27 L153.00,362.35 L154.00,362.35 L154.00,362.36 L155.00,362.36 L155.00,362.25 L156.00,362.25 L156.00,362.59 L157.00,362.59 L157.00,362.74 L158.00,362.74 L158.00,362.79 L159.00,362.79 L159.00,362.59 L160.00,362.59 L160.00,362.34 L161.00,362.34 L161.00,362.79 L162.00,362.79 L162.00,362.56 L163.00,362.56 L163.00,362.80 L164.00,362.80 L164.00,362.71 L165.00,362.71 L165.00,362.48 L166.00,362.48 L166.00,362.42 L167.00,362.42 L167.00,362.23 L168.00,362.23 L168.00,362.64 L169.00,362.64 L169.00,362.70 L170.00,362.70 L170.00,362.81 L171.00,362.81 L171.00,362.73 L172.00,362.73 L172.00,362.83 L173.00,362.83 L173.00,362.85 L174.00,362.85 L174.00,362.77 L175.00,362.77 L175.00,362.50 L176.00,362.50 L176.00,362.55 L177.00,362.55 L177.00,362.25 L178.00,362.25 L178.00,362.53 L179.00,362.53 L179.00,362.79 L180.00,362.79 L180.00,362.75 L181.00,362.75 L181.00,362.39 L182.00,362.39 L182.00,362.20 L183.00,362.20 L183.00,362.36 L184.00,362.36 L184.00,362.70 L185.00,362.70 L185.00,362.62 L186.00,362.62 L186.00,362.56 L187.00,362.56 L187.00,362.56 L188.00,362.56 L188.00,362.66 L189.00,362.66 L189.00,362.75 L190.00,362.75 L190.00,362.83 L191.00,362.83 L191.00,362.27 L192.00,362.27 L192.00,362.21 L193.00,362.21 L193.00,362.20 L194.00,362.20 L194.00,362.60 L195.00,362.60 L195.00,362.40 L196.00,362.40 L196.00,362.71 L197.00,362.71 L197.00,362.78 L198.00,362.78 L198.00,362.85 L199.00,362.85 L199.00,362.63 L200.00,362.63 L200.00,362.32 L201.00,362.32 L201.00,362.50 L202.00,362.50 L202.00,362.70 L203.00,362.70 L203.00,362.53 L204.00,362.53 L204.00,362.49 L205.00,362.49 L205.00,362.72 L206.00,362.72 L206.00,362.55 L207.00,362.55 L207.00,362.24 L208.00,362.24 L208.00,362.55 L209.00,362.55 L209.00,362.20 L210.00,362.20 L210.00,362.37 L211.00,362.37 L211.00,362.77 L212.00,362.77 L212.00,362.24 L213.00,362.24 L213.00,362.39 L214.00,362.39 L214.00,362.56 L215.00,362.56 L215.00,362.73 L216.00,362.73 L216.00,362.42 L217.00,362.42 L217.00,362.72 L218.00,362.72 L218.00,362.55 L219.00,362.55 L219.00,362.75 L220.00,362.75 L220.00,362.58 L221.00,362.58 L221.00,362.21 L222.00,362.21 L222.00,362.46 L223.00,362.46 L223.00,362.51 L224.00,362.51 L224.00,362.44 L225.00,362.44 L225.00,362.42 L226.00,362.42 L226.00,362.45 L227.00,362.45 L227.00,362.66 L228.00,362.66 L228.00,362.71 L229.00,362.71 L229.00,362.45 L230.00,362.45 L230.00,362.24 L231.00,362.24 L231.00,362.27 L232.00,362.27 L232.00,362.53 L233.00,362.53 L233.00,362.66 L234.00,362.66 L234.00,362.46 L235.00,362.46 L235.00,362.82 L236.00,362.82 L236.00,362.52 L237.00,362.52 L237.00,362.33 L238.00,362.33 L238.00,362.21 L239.00,362.21 L239.00,362.79 L240.00,362.79 L240.00,362.72 L241.00,362.72 L241.00,362.53 L242.00,362.53 L242.00,362.45 L243.00,362.45 L243.00,362.21 L244.00,362.21 L244.00,362.78 L245.00,362.78 L245.00,362.77 L246.00,362.77 L246.00,362.53 L247.00,362.53 L247.00,362.33 L248.00,362.33 L248.00,362.83 L249.00,362.83 L249.00,362.60 L250.00,362.60 L250.00,362.38 L251.00,362.38 L251.00,362.57 L252.00,362.57 L252.00,362.73 L253.00,362.73 L253.00,362.80 L254.00,362.80 L254.00,362.35 L255.00,362.35 L255.00,362.51 L256.00,362.51 L256.00,362.49 L257.00,362.49 L257.00,362.40 L258.00,362.40 L258.00,362.35 L259.00,362.35 L259.00,362.58 L260.00,362.58 L260.00,362.61 L261.00,362.61 L261.00,362.24 L262.00,362.24 L262.00,362.80 L263.00,362.80 L263.00,362.34 L264.00,362.34 L264.00,362.55 L265.00,362.55 L265.00,362.50 L266.00,362.50 L266.00,362.68 L267.00,362.68 L267.00,362.23 L268.00,362.23 L268.00,362.65 L269.00,362.65 L269.00,362.64 L270.00,362.64 L270.00,362.81 L271.00,362.81 L271.00,362.26 L272.00,362.26 L272.00,362.30 L273.00,362.30 L273.00,362.82 L274.00,362.82 L274.00,362.75 L275.00,362.75 L275.00,362.66 L276.00,362.66 L276.00,362.83 L277.00,362.83 L277.00,362.52 L278.00,362.52 L278.00,362.29 L279.00,362.29 L279.00,362.37 L280.00,362.37 L280.00,362.52 L281.00,362.52 L281.00,362.20 L282.00,362.20 L282.00,362.65 L283.00,362.65 L283.00,362.64 L284.00,362.64 L284.00,362.67 L285.00,362.67 L285.00,362.45 L286.00,362.45 L286.00,362.54 L287.00,362.54 L287.00,362.77 L288.00,362.77 L288.00,362.53 L289.00,362.53 L289.00,362.21 L290.00,362.21 L290.00,362.27 L291.00,362.27 L291.00,362.44 L292.00,362.44 L292.00,362.28 L293.00,362.28 L293.00,362.53 L294.00,362.53 L294.00,362.52 L295.00,362.52 L295.00,362.39 L296.00,362.39 L296.00,362.72 L297.00,362.72 L297.00,362.46 L298.00,362.46 L298.00,362.52 L299.00,362.52 L299.00,362.65 L300.00,362.65 L300.00,362.52 L301.00,362.52 L301.00,362.73 L302.00,362.73 L302.00,362.43 L303.00,362.43 L303.00,362.77 L304.00,362.77 L304.00,362.56 L305.00,362.56 L305.00,362.81 L306.00,362.81 L306.00,362.49 L307.00,362.49 L307.00,362.79 L308.00,362.79 L308.00,362.31 L309.00,362.31 L309.00,362.84 L310.00,362.84 L310.00,362.32 L311.00,362.32 L311.00,362.65 L312.00,362.65 L312.00,362.22 L313.00,362.22 L313.00,362.63 L314.00,362.63 L314.00,362.75 L315.00,362.75 L315.00,362.41 L316.00,362.41 L316.00,362.69 L317.00,362.69 L317.00,362.31 L318.00,362.31 L318.00,362.53 L319.00,362.53 L319.00,362.67 L320.00,362.67 L320.00,362.46 L321.00,362.46 L321.00,362.70 L322.00,362.70 L322.00,362.68 L323.00,362.68 L323.00,362.80 L324.00,362.80 L324.00,362.69 L325.00,362.69 L325.00,362.71 L326.00,362.71 L326.00,362.75 L327.00,362.75 L327.00,362.58 L328.00,362.58 L328.00,362.55 L329.00,362.55 L329.00,362.46 L330.00,362.46 L330.00,362.49 L331.00,362.49 L331.00,362.40 L332.00,362.40 L332.00,362.44 L333.00,362.44 L333.00,362.54 L334.00,362.54 L334.00,362.29 L335.00,362.29 L335.00,362.76 L336.00,362.76 L336.00,362.67 L337.00,362.67 L337.00,362.84 L338.00,362.84 L338.00,362.25 L339.00,362.25 L339.00,362.27 L340.00,362.27 L340.00,362.58 L341.00,362.58 L341.00,362.29 L342.00,362.29 L342.00,362.48 L343.00,362.48 L343.00,362.24 L344.00,362.24 L344.00,362.26 L345.00,362.26 L345.00,362.63 L346.00,362.63 L346.00,362.67 L347.00,362.67 L347.00,362.58 L348.00,362.58 L348.00,362.22 L349.00,362.22 L349.00,362.54 L350.00,362.54 L350.00,362.61 L351.00,362.61 L351.00,362.83 L352.00,362.83 L352.00,362.60 L353.00,362.60 L353.00,362.24 L354.00,362.24 L354.00,362.57 L355.00,362.57 L355.00,362.33 L356.00,362.33 L356.00,362.26 L357.00,362.26 L357.00,362.23 L358.00,362.23 L358.00,362.37 L359.00,362.37 L359.00,362.52 L360.00,362.52 L360.00,362.65 L361.00,362.65 L361.00,362.23 L362.00,362.23 L362.00,362.32 L363.00,362.32 L363.00,362.36 L364.00,362.36 L364.00,362.81 L365.00,362.81 L365.00,362.42 L366.00,362.42 L366.00,362.39 L367.00,362.39 L367.00,362.76 L368.00,362.76 L368.00,362.63 L369.00,362.63 L369.00,362.55 L370.00,362.55 L370.00,362.68 L371.00,362.68 L371.00,362.78 L372.00,362.78 L372.00,362.75 L373.00,362.75 L373.00,362.55 L374.00,362.55 L374.00,362.84 L375.00,362.84 L375.00,362.33 L376.00,362.33 L376.00,362.57 L377.00,362.57 L377.00,362.67 L378.00,362.67 L378.00,362.68 L379.00,362.68 L379.00,362.64 L380.00,362.64 L380.00,362.45 L381.00,362.45 L381.00,362.38 L382.00,362.38 L382.00,362.57 L383.00,362.57 L383.00,362.38 L384.00,362.38 L384.00,362.47 L385.00,362.47 L385.00,362.31 L386.00,362.31 L386.00,362.37 L387.00,362.37 L387.00,362.35 L388.00,362.35 L388.00,362.83 L389.00,362.83 L389.00,362.62 L390.00,362.62 L390.00,362.77 L391.00,362.77 L391.00,362.30 L392.00,362.30 L392.00,362.74 L393.00,362.74 L393.00,362.24 L394.00,362.24 L394.00,362.62 L395.00,362.62 L395.00,362.75 L396.00,362.75 L396.00,362.39 L397.00,362.39 L397.00,362.73 L398.00,362.73 L398.00,362.61 L399.00,362.61 L399.00,362.56 L400.00,362.56 L400.00,362.43 L401.00,362.43 L401.00,362.51 L402.00,362.51 L402.00,362.41 L403.00,362.41 L403.00,362.33 L404.00,362.33 L404.00,362.21 L405.00,362.21 L405.00,362.44 L406.00,362.44 L406.00,362.57 L407.00,362.57 L407.00,362.52 L408.00,362.52 L408.00,362.62 L409.00,362.62 L409.00,362.30 L410.00,362.30 L410.00,362.49 L411.00,362.49 L411.00,362.39 L412.00,362.39 L412.00,362.31 L413.00,362.31 L413.00,362.39 L414.00,362.39 L414.00,362.26 L415.00,362.26 L415.00,362.55 L416.00,362.55 L416.00,362.39 L417.00,362.39 L417.00,362.27 L418.00,362.27 L418.00,362.53 L419.00,362.53 L419.00,362.31 L420.00,362.31 L420.00,362.67 L421.00,362.67 L421.00,362.74 L422.00,362.74 L422.00,362.29 L423.00,362.29 L423.00,362.49 L424.00,362.49 L424.00,362.22 L425.00,362.22 L425.00,362.45 L426.00,362.45 L426.00,362.68 L427.00,362.68 L427.00,362.77 L428.00,362.77 L428.00,362.26 L429.00,362.26 L429.00,362.68 L430.00,362.68 L430.00,362.74 L431.00,362.74 L431.00,363.40 Z" fill="#9a2a5e" opacity="0.8"/>
<path d="M255.92,363.40V361.40M77.69,363.40V360.84M180.57,363.40V361.77M344.77,363.40V362.43M340.51,363.40V360.68M317.17,363.40V359.63M75.45,363.40V362.45M245.40,363.40V362.04M111.90,363.40V362.33M102.07,363.40V362.85M134.58,363.40V362.13M410.86,363.40V361.67M255.60,363.40V358.54M209.16,363.40V361.72M189.57,363.40V359.09M65.71,363.40V360.35M248.17,363.40V360.57M118.20,363.40V362.67M380.67,363.40V362.16M351.64,363.40V360.97M148.72,363.40V361.00M429.83,363.40V362.14M349.12,363.40V360.27M375.22,363.40V360.52M167.75,363.40V362.30M348.93,363.40V362.20M313.23,363.40V362.68M380.87,363.40V361.07M379.23,363.40V361.89M323.19,363.40V362.18M260.98,363.40V361.73M370.51,363.40V360.57M164.71,363.40V361.91M107.89,363.40V362.72M224.91,363.40V358.48M137.67,363.40V361.24M310.03,363.40V359.69M197.94,363.40V362.04M290.84,363.40V360.52M175.50,363.40V359.02M363.03,363.40V362.07M257.47,363.40V362.70M278.29,363.40V362.73M215.11,363.40V362.20M418.30,363.40V361.01" stroke="#b8306e" stroke-width="0.55" opacity="0.8" fill="none"/>
<path d="M399.02,363.40V360.45M235.17,363.40V359.48M60.41,363.40V362.85M297.47,363.40V360.33M220.54,363.40V359.72M151.81,363.40V362.20M267.22,363.40V360.30M191.51,363.40V362.62M185.12,363.40V362.55M163.15,363.40V362.76M117.08,363.40V361.04M91.83,363.40V360.31M286.14,363.40V361.60M111.61,363.40V362.81M232.03,363.40V359.79" stroke="#9a8aa0" stroke-width="0.5" opacity="0.6" fill="none"/>
<path d="M246.63,363.40V358.85M246.86,363.40V356.19M254.42,363.40V352.40M246.39,363.40V354.12M247.63,363.40V357.45M248.89,363.40V357.26M248.66,363.40V357.46M249.10,363.40V354.12" stroke="#b8306e" stroke-width="0.8" opacity="0.8" fill="none"/>
<path d="M281.25,363.40V352.87M280.12,363.40V359.25M281.29,363.40V356.65M279.84,363.40V355.78M282.79,363.40V354.05M281.87,363.40V359.10M281.17,363.40V353.13M282.46,363.40V352.58" stroke="#b8306e" stroke-width="0.8" opacity="0.8" fill="none"/>
<path d="M286.35,363.40V350.51M286.11,363.40V352.49M289.30,363.40V351.05M292.63,363.40V352.70M286.58,363.40V353.61M286.83,363.40V355.64M286.91,363.40V356.76M286.37,363.40V354.59" stroke="#b8306e" stroke-width="0.8" opacity="0.8" fill="none"/>
<path d="M405.55,363.40V357.28M409.66,363.40V356.83M408.48,363.40V351.63M408.82,363.40V352.05M410.59,363.40V357.27M406.12,363.40V350.45M410.51,363.40V356.57M410.56,363.40V358.71" stroke="#b8306e" stroke-width="0.8" opacity="0.8" fill="none"/>
<path d="M60.00,381.40 L60.00,380.95 L61.00,380.95 L61.00,380.60 L62.00,380.60 L62.00,381.01 L63.00,381.01 L63.00,380.60 L64.00,380.60 L64.00,380.95 L65.00,380.95 L65.00,380.65 L66.00,380.65 L66.00,381.00 L67.00,381.00 L67.00,380.79 L68.00,380.79 L68.00,380.75 L69.00,380.75 L69.00,380.76 L70.00,380.76 L70.00,380.60 L71.00,380.60 L71.00,381.05 L72.00,381.05 L72.00,380.68 L73.00,380.68 L73.00,380.60 L74.00,380.60 L74.00,380.78 L75.00,380.78 L75.00,380.94 L76.00,380.94 L76.00,380.63 L77.00,380.63 L77.00,380.83 L78.00,380.83 L78.00,380.93 L79.00,380.93 L79.00,380.64 L80.00,380.64 L80.00,380.65 L81.00,380.65 L81.00,380.62 L82.00,380.62 L82.00,380.80 L83.00,380.80 L83.00,381.06 L84.00,381.06 L84.00,381.06 L85.00,381.06 L85.00,380.77 L86.00,380.77 L86.00,381.05 L87.00,381.05 L87.00,380.73 L88.00,380.73 L88.00,381.00 L89.00,381.00 L89.00,380.64 L90.00,380.64 L90.00,381.06 L91.00,381.06 L91.00,380.69 L92.00,380.69 L92.00,380.95 L93.00,380.95 L93.00,380.52 L94.00,380.52 L94.00,380.81 L95.00,380.81 L95.00,380.79 L96.00,380.79 L96.00,380.60 L97.00,380.60 L97.00,380.91 L98.00,380.91 L98.00,380.54 L99.00,380.54 L99.00,380.91 L100.00,380.91 L100.00,381.05 L101.00,381.05 L101.00,380.92 L102.00,380.92 L102.00,380.87 L103.00,380.87 L103.00,380.74 L104.00,380.74 L104.00,381.03 L105.00,381.03 L105.00,380.57 L106.00,380.57 L106.00,380.64 L107.00,380.64 L107.00,380.66 L108.00,380.66 L108.00,380.53 L109.00,380.53 L109.00,381.04 L110.00,381.04 L110.00,380.69 L111.00,380.69 L111.00,380.60 L112.00,380.60 L112.00,380.97 L113.00,380.97 L113.00,380.84 L114.00,380.84 L114.00,380.96 L115.00,380.96 L115.00,380.56 L116.00,380.56 L116.00,380.81 L117.00,380.81 L117.00,380.61 L118.00,380.61 L118.00,380.93 L119.00,380.93 L119.00,380.74 L120.00,380.74 L120.00,380.66 L121.00,380.66 L121.00,380.88 L122.00,380.88 L122.00,380.92 L123.00,380.92 L123.00,381.02 L124.00,381.02 L124.00,380.72 L125.00,380.72 L125.00,380.84 L126.00,380.84 L126.00,380.96 L127.00,380.96 L127.00,380.89 L128.00,380.89 L128.00,380.89 L129.00,380.89 L129.00,381.00 L130.00,381.00 L130.00,380.74 L131.00,380.74 L131.00,380.98 L132.00,380.98 L132.00,380.95 L133.00,380.95 L133.00,380.87 L134.00,380.87 L134.00,380.53 L135.00,380.53 L135.00,380.68 L136.00,380.68 L136.00,380.95 L137.00,380.95 L137.00,380.61 L138.00,380.61 L138.00,380.55 L139.00,380.55 L139.00,380.89 L140.00,380.89 L140.00,380.63 L141.00,380.63 L141.00,380.72 L142.00,380.72 L142.00,380.77 L143.00,380.77 L143.00,380.57 L144.00,380.57 L144.00,380.70 L145.00,380.70 L145.00,380.71 L146.00,380.71 L146.00,380.55 L147.00,380.55 L147.00,380.82 L148.00,380.82 L148.00,381.01 L149.00,381.01 L149.00,381.07 L150.00,381.07 L150.00,380.67 L151.00,380.67 L151.00,380.81 L152.00,380.81 L152.00,380.59 L153.00,380.59 L153.00,380.54 L154.00,380.54 L154.00,380.93 L155.00,380.93 L155.00,380.96 L156.00,380.96 L156.00,380.75 L157.00,380.75 L157.00,381.06 L158.00,381.06 L158.00,381.01 L159.00,381.01 L159.00,381.03 L160.00,381.03 L160.00,380.91 L161.00,380.91 L161.00,380.83 L162.00,380.83 L162.00,380.96 L163.00,380.96 L163.00,380.69 L164.00,380.69 L164.00,380.65 L165.00,380.65 L165.00,380.61 L166.00,380.61 L166.00,380.77 L167.00,380.77 L167.00,380.66 L168.00,380.66 L168.00,380.63 L169.00,380.63 L169.00,380.67 L170.00,380.67 L170.00,380.90 L171.00,380.90 L171.00,380.75 L172.00,380.75 L172.00,380.62 L173.00,380.62 L173.00,380.93 L174.00,380.93 L174.00,380.87 L175.00,380.87 L175.00,381.06 L176.00,381.06 L176.00,380.74 L177.00,380.74 L177.00,381.01 L178.00,381.01 L178.00,380.83 L179.00,380.83 L179.00,380.97 L180.00,380.97 L180.00,381.01 L181.00,381.01 L181.00,380.58 L182.00,380.58 L182.00,380.89 L183.00,380.89 L183.00,380.54 L184.00,380.54 L184.00,380.66 L185.00,380.66 L185.00,380.75 L186.00,380.75 L186.00,380.80 L187.00,380.80 L187.00,380.71 L188.00,380.71 L188.00,380.62 L189.00,380.62 L189.00,380.97 L190.00,380.97 L190.00,380.77 L191.00,380.77 L191.00,380.92 L192.00,380.92 L192.00,380.97 L193.00,380.97 L193.00,380.95 L194.00,380.95 L194.00,380.64 L195.00,380.64 L195.00,380.56 L196.00,380.56 L196.00,380.83 L197.00,380.83 L197.00,380.97 L198.00,380.97 L198.00,380.97 L199.00,380.97 L199.00,380.90 L200.00,380.90 L200.00,380.87 L201.00,380.87 L201.00,380.58 L202.00,380.58 L202.00,380.78 L203.00,380.78 L203.00,380.80 L204.00,380.80 L204.00,380.73 L205.00,380.73 L205.00,380.97 L206.00,380.97 L206.00,380.87 L207.00,380.87 L207.00,380.83 L208.00,380.83 L208.00,381.03 L209.00,381.03 L209.00,380.90 L210.00,380.90 L210.00,380.76 L211.00,380.76 L211.00,380.74 L212.00,380.74 L212.00,380.92 L213.00,380.92 L213.00,381.03 L214.00,381.03 L214.00,380.76 L215.00,380.76 L215.00,380.98 L216.00,380.98 L216.00,381.07 L217.00,381.07 L217.00,380.54 L218.00,380.54 L218.00,380.67 L219.00,380.67 L219.00,380.55 L220.00,380.55 L220.00,380.89 L221.00,380.89 L221.00,380.65 L222.00,380.65 L222.00,380.60 L223.00,380.60 L223.00,380.72 L224.00,380.72 L224.00,381.05 L225.00,381.05 L225.00,380.92 L226.00,380.92 L226.00,380.86 L227.00,380.86 L227.00,380.83 L228.00,380.83 L228.00,380.76 L229.00,380.76 L229.00,380.97 L230.00,380.97 L230.00,380.95 L231.00,380.95 L231.00,381.06 L232.00,381.06 L232.00,380.85 L233.00,380.85 L233.00,381.01 L234.00,381.01 L234.00,380.94 L235.00,380.94 L235.00,381.06 L236.00,381.06 L236.00,380.61 L237.00,380.61 L237.00,380.94 L238.00,380.94 L238.00,380.79 L239.00,380.79 L239.00,380.75 L240.00,380.75 L240.00,381.05 L241.00,381.05 L241.00,380.77 L242.00,380.77 L242.00,380.63 L243.00,380.63 L243.00,380.94 L244.00,380.94 L244.00,380.72 L245.00,380.72 L245.00,380.67 L246.00,380.67 L246.00,380.76 L247.00,380.76 L247.00,380.87 L248.00,380.87 L248.00,380.79 L249.00,380.79 L249.00,380.70 L250.00,380.70 L250.00,380.83 L251.00,380.83 L251.00,380.66 L252.00,380.66 L252.00,380.66 L253.00,380.66 L253.00,380.66 L254.00,380.66 L254.00,380.83 L255.00,380.83 L255.00,380.99 L256.00,380.99 L256.00,380.97 L257.00,380.97 L257.00,380.91 L258.00,380.91 L258.00,380.76 L259.00,380.76 L259.00,381.04 L260.00,381.04 L260.00,380.90 L261.00,380.90 L261.00,380.99 L262.00,380.99 L262.00,380.78 L263.00,380.78 L263.00,380.96 L264.00,380.96 L264.00,380.62 L265.00,380.62 L265.00,381.04 L266.00,381.04 L266.00,380.87 L267.00,380.87 L267.00,380.66 L268.00,380.66 L268.00,380.61 L269.00,380.61 L269.00,380.85 L270.00,380.85 L270.00,380.55 L271.00,380.55 L271.00,380.59 L272.00,380.59 L272.00,380.76 L273.00,380.76 L273.00,380.89 L274.00,380.89 L274.00,380.96 L275.00,380.96 L275.00,380.69 L276.00,380.69 L276.00,381.04 L277.00,381.04 L277.00,380.71 L278.00,380.71 L278.00,380.94 L279.00,380.94 L279.00,380.97 L280.00,380.97 L280.00,380.73 L281.00,380.73 L281.00,380.86 L282.00,380.86 L282.00,381.04 L283.00,381.04 L283.00,380.99 L284.00,380.99 L284.00,380.64 L285.00,380.64 L285.00,380.86 L286.00,380.86 L286.00,380.64 L287.00,380.64 L287.00,380.73 L288.00,380.73 L288.00,381.07 L289.00,381.07 L289.00,380.88 L290.00,380.88 L290.00,380.74 L291.00,380.74 L291.00,380.94 L292.00,380.94 L292.00,381.00 L293.00,381.00 L293.00,380.52 L294.00,380.52 L294.00,380.89 L295.00,380.89 L295.00,380.71 L296.00,380.71 L296.00,380.83 L297.00,380.83 L297.00,380.53 L298.00,380.53 L298.00,380.95 L299.00,380.95 L299.00,381.05 L300.00,381.05 L300.00,380.71 L301.00,380.71 L301.00,380.69 L302.00,380.69 L302.00,380.61 L303.00,380.61 L303.00,381.01 L304.00,381.01 L304.00,380.97 L305.00,380.97 L305.00,380.81 L306.00,380.81 L306.00,380.92 L307.00,380.92 L307.00,381.00 L308.00,381.00 L308.00,380.99 L309.00,380.99 L309.00,381.05 L310.00,381.05 L310.00,380.83 L311.00,380.83 L311.00,381.00 L312.00,381.00 L312.00,381.05 L313.00,381.05 L313.00,381.02 L314.00,381.02 L314.00,380.68 L315.00,380.68 L315.00,380.71 L316.00,380.71 L316.00,380.88 L317.00,380.88 L317.00,380.63 L318.00,380.63 L318.00,381.05 L319.00,381.05 L319.00,380.84 L320.00,380.84 L320.00,380.56 L321.00,380.56 L321.00,381.04 L322.00,381.04 L322.00,380.99 L323.00,380.99 L323.00,380.81 L324.00,380.81 L324.00,380.88 L325.00,380.88 L325.00,381.03 L326.00,381.03 L326.00,380.61 L327.00,380.61 L327.00,380.64 L328.00,380.64 L328.00,380.75 L329.00,380.75 L329.00,380.84 L330.00,380.84 L330.00,380.76 L331.00,380.76 L331.00,380.79 L332.00,380.79 L332.00,380.76 L333.00,380.76 L333.00,380.89 L334.00,380.89 L334.00,380.62 L335.00,380.62 L335.00,380.78 L336.00,380.78 L336.00,380.94 L337.00,380.94 L337.00,380.75 L338.00,380.75 L338.00,380.64 L339.00,380.64 L339.00,380.80 L340.00,380.80 L340.00,380.89 L341.00,380.89 L341.00,380.77 L342.00,380.77 L342.00,380.69 L343.00,380.69 L343.00,380.97 L344.00,380.97 L344.00,380.58 L345.00,380.58 L345.00,380.84 L346.00,380.84 L346.00,380.84 L347.00,380.84 L347.00,380.78 L348.00,380.78 L348.00,380.65 L349.00,380.65 L349.00,380.98 L350.00,380.98 L350.00,380.97 L351.00,380.97 L351.00,380.80 L352.00,380.80 L352.00,381.06 L353.00,381.06 L353.00,380.83 L354.00,380.83 L354.00,381.00 L355.00,381.00 L355.00,380.96 L356.00,380.96 L356.00,380.87 L357.00,380.87 L357.00,380.58 L358.00,380.58 L358.00,380.73 L359.00,380.73 L359.00,380.92 L360.00,380.92 L360.00,380.72 L361.00,380.72 L361.00,380.79 L362.00,380.79 L362.00,381.07 L363.00,381.07 L363.00,380.83 L364.00,380.83 L364.00,380.68 L365.00,380.68 L365.00,380.63 L366.00,380.63 L366.00,380.54 L367.00,380.54 L367.00,381.06 L368.00,381.06 L368.00,380.79 L369.00,380.79 L369.00,380.86 L370.00,380.86 L370.00,380.83 L371.00,380.83 L371.00,380.62 L372.00,380.62 L372.00,380.83 L373.00,380.83 L373.00,380.77 L374.00,380.77 L374.00,380.65 L375.00,380.65 L375.00,380.59 L376.00,380.59 L376.00,380.75 L377.00,380.75 L377.00,380.78 L378.00,380.78 L378.00,381.01 L379.00,381.01 L379.00,380.86 L380.00,380.86 L380.00,380.97 L381.00,380.97 L381.00,380.65 L382.00,380.65 L382.00,380.70 L383.00,380.70 L383.00,381.00 L384.00,381.00 L384.00,380.75 L385.00,380.75 L385.00,380.59 L386.00,380.59 L386.00,380.60 L387.00,380.60 L387.00,380.86 L388.00,380.86 L388.00,380.87 L389.00,380.87 L389.00,380.78 L390.00,380.78 L390.00,380.84 L391.00,380.84 L391.00,380.53 L392.00,380.53 L392.00,380.60 L393.00,380.60 L393.00,380.58 L394.00,380.58 L394.00,380.52 L395.00,380.52 L395.00,381.01 L396.00,381.01 L396.00,380.55 L397.00,380.55 L397.00,380.87 L398.00,380.87 L398.00,380.93 L399.00,380.93 L399.00,380.74 L400.00,380.74 L400.00,380.85 L401.00,380.85 L401.00,380.95 L402.00,380.95 L402.00,380.53 L403.00,380.53 L403.00,380.97 L404.00,380.97 L404.00,381.02 L405.00,381.02 L405.00,380.85 L406.00,380.85 L406.00,380.62 L407.00,380.62 L407.00,380.63 L408.00,380.63 L408.00,380.82 L409.00,380.82 L409.00,380.85 L410.00,380.85 L410.00,380.99 L411.00,380.99 L411.00,380.63 L412.00,380.63 L412.00,380.65 L413.00,380.65 L413.00,380.95 L414.00,380.95 L414.00,380.70 L415.00,380.70 L415.00,380.58 L416.00,380.58 L416.00,380.87 L417.00,380.87 L417.00,380.94 L418.00,380.94 L418.00,380.66 L419.00,380.66 L419.00,380.73 L420.00,380.73 L420.00,380.85 L421.00,380.85 L421.00,381.07 L422.00,381.07 L422.00,380.89 L423.00,380.89 L423.00,380.68 L424.00,380.68 L424.00,380.97 L425.00,380.97 L425.00,380.81 L426.00,380.81 L426.00,380.65 L427.00,380.65 L427.00,380.88 L428.00,380.88 L428.00,381.00 L429.00,381.00 L429.00,380.70 L430.00,380.70 L430.00,380.69 L431.00,380.69 L431.00,381.40 Z" fill="#7a5a8e" opacity="0.6"/>
<path d="M285.72,381.40V379.79M249.24,381.40V375.21M182.46,381.40V379.81M365.71,381.40V380.58M363.12,381.40V379.98M352.83,381.40V377.93M146.04,381.40V375.05M183.03,381.40V375.23M377.87,381.40V376.79M364.25,381.40V374.34M386.37,381.40V374.32M93.99,381.40V375.06M262.93,381.40V380.01M84.55,381.40V374.84M359.88,381.40V377.56M73.44,381.40V380.23M133.93,381.40V379.09M240.94,381.40V380.59M355.10,381.40V379.62M392.79,381.40V376.77M354.47,381.40V379.92M253.87,381.40V380.62M320.24,381.40V373.98M323.26,381.40V379.53M231.22,381.40V380.52M176.12,381.40V377.83M270.99,381.40V376.51M419.95,381.40V377.93M256.34,381.40V379.96M174.95,381.40V378.86M224.92,381.40V377.40M426.31,381.40V373.29M177.48,381.40V378.24M227.28,381.40V380.42M424.27,381.40V375.84M237.81,381.40V380.12M410.97,381.40V378.27M214.28,381.40V378.46M257.31,381.40V380.84M301.23,381.40V378.78M163.61,381.40V380.04M78.08,381.40V380.01M299.55,381.40V375.52M414.53,381.40V380.83M306.96,381.40V378.02M124.84,381.40V380.39M311.65,381.40V379.81M246.88,381.40V376.35M192.86,381.40V377.55M175.16,381.40V377.80M266.22,381.40V379.91M139.62,381.40V374.65M377.47,381.40V380.62M147.50,381.40V377.16M121.41,381.40V375.09M362.41,381.40V375.68M156.64,381.40V380.70M205.99,381.40V375.66M343.54,381.40V378.63M168.44,381.40V380.83M327.99,381.40V379.24M232.06,381.40V379.74M404.37,381.40V379.02M316.43,381.40V380.13M105.27,381.40V380.73M365.85,381.40V374.88M362.41,381.40V374.75M349.05,381.40V380.33M93.29,381.40V380.78M310.41,381.40V373.97M202.02,381.40V375.14M353.64,381.40V380.85M414.21,381.40V375.95M137.13,381.40V376.49M327.13,381.40V380.79M399.44,381.40V375.67M269.71,381.40V380.47M352.65,381.40V380.37M404.95,381.40V375.15M146.25,381.40V380.50M72.73,381.40V380.67M251.76,381.40V380.76M400.16,381.40V378.78M161.57,381.40V374.47M217.24,381.40V374.30M208.08,381.40V380.81M322.88,381.40V380.27M91.69,381.40V374.70M354.33,381.40V380.75M252.99,381.40V376.84M60.65,381.40V373.92M278.22,381.40V376.93M291.73,381.40V379.33M66.52,381.40V377.30M343.94,381.40V380.66M161.61,381.40V378.46M161.37,381.40V380.85M145.32,381.40V379.31M90.77,381.40V380.24M356.25,381.40V377.70M310.35,381.40V380.83M258.45,381.40V380.40M403.11,381.40V373.79M119.09,381.40V380.84M371.32,381.40V380.28M188.06,381.40V377.76M172.73,381.40V377.57M162.04,381.40V377.56M301.73,381.40V379.41M373.94,381.40V377.34M422.17,381.40V379.65M114.90,381.40V378.20M384.19,381.40V379.96M323.43,381.40V378.89M292.66,381.40V380.39M339.87,381.40V377.82M95.41,381.40V380.78M293.76,381.40V379.72M220.83,381.40V378.45M423.43,381.40V377.23M189.51,381.40V377.32M143.06,381.40V377.57M379.22,381.40V379.06M186.23,381.40V380.34M368.94,381.40V378.52M103.65,381.40V377.76M106.04,381.40V380.30M264.99,381.40V373.41M204.30,381.40V380.84M338.52,381.40V379.36M198.94,381.40V380.13M151.36,381.40V377.66M244.93,381.40V375.98M334.36,381.40V380.10M212.14,381.40V379.50M102.67,381.40V380.00M180.92,381.40V380.37M145.13,381.40V379.26M262.70,381.40V373.85M282.08,381.40V377.29M60.39,381.40V376.63M139.24,381.40V374.48M347.03,381.40V378.26M133.10,381.40V378.27M115.92,381.40V378.72M400.33,381.40V377.72M98.66,381.40V374.79M171.54,381.40V376.64M220.07,381.40V380.83M166.83,381.40V375.59M333.91,381.40V377.50M249.74,381.40V379.51M270.09,381.40V380.07M196.10,381.40V377.78M364.39,381.40V378.18M204.72,381.40V380.82M73.73,381.40V380.71M164.56,381.40V380.55M275.45,381.40V380.47M311.73,381.40V373.89M184.54,381.40V377.86M272.04,381.40V380.12M219.18,381.40V380.77M365.73,381.40V378.43M148.47,381.40V379.67M158.72,381.40V380.25M410.46,381.40V380.73M335.31,381.40V376.59M347.57,381.40V378.78M337.22,381.40V375.74M284.60,381.40V376.58M201.82,381.40V375.42M403.95,381.40V374.29M354.52,381.40V379.97M162.10,381.40V377.22M231.75,381.40V380.68M360.41,381.40V380.62M257.10,381.40V379.59M135.40,381.40V378.49M243.17,381.40V380.85M373.02,381.40V380.85M269.59,381.40V375.32M415.30,381.40V374.82M114.45,381.40V373.38M298.96,381.40V380.33M220.31,381.40V379.14M427.69,381.40V379.22M176.91,381.40V379.43M166.98,381.40V378.34M210.42,381.40V379.53M244.75,381.40V375.38M391.94,381.40V376.42M172.06,381.40V380.09M111.58,381.40V374.38M298.24,381.40V380.72M346.15,381.40V380.69M428.52,381.40V373.71M424.81,381.40V374.20M409.99,381.40V379.92M259.28,381.40V380.67M160.81,381.40V373.66M236.38,381.40V374.95M394.23,381.40V379.71M306.20,381.40V375.52M104.60,381.40V380.84M175.28,381.40V378.84M106.80,381.40V379.57M360.47,381.40V373.30M104.08,381.40V378.92M246.42,381.40V380.84M127.06,381.40V379.40M364.63,381.40V380.42M203.86,381.40V378.47M100.04,381.40V380.85M229.06,381.40V380.15M185.89,381.40V380.80M93.17,381.40V379.44M221.43,381.40V376.78M159.69,381.40V378.54M368.84,381.40V376.34" stroke="#6a3a80" stroke-width="0.55" opacity="0.8" fill="none"/>
<path d="M195.07,381.40V373.82M124.67,381.40V378.16M203.73,381.40V374.54M238.59,381.40V378.97M69.16,381.40V380.77M393.83,381.40V378.37M154.71,381.40V377.84M337.05,381.40V373.33M103.22,381.40V379.04M404.27,381.40V380.52M254.48,381.40V380.80M359.57,381.40V375.38M98.69,381.40V380.74M373.74,381.40V378.02M78.85,381.40V379.69M321.30,381.40V373.39M182.10,381.40V379.14M187.36,381.40V380.84M399.04,381.40V377.95M109.52,381.40V380.06M72.62,381.40V380.24M181.06,381.40V378.45M430.76,381.40V380.81M342.90,381.40V375.71M197.98,381.40V380.77M327.74,381.40V378.38M288.20,381.40V379.43M236.31,381.40V375.33M184.64,381.40V379.68M123.56,381.40V380.85M385.86,381.40V380.63M336.47,381.40V380.16M241.13,381.40V377.64M193.89,381.40V380.39M95.12,381.40V375.89M355.30,381.40V377.27M138.03,381.40V374.01M375.74,381.40V378.50M323.52,381.40V379.64M404.03,381.40V374.05M116.11,381.40V374.37M403.89,381.40V374.81M158.05,381.40V380.76M229.99,381.40V379.41M132.10,381.40V377.39M310.76,381.40V374.14M173.66,381.40V379.50M154.15,381.40V376.01M306.22,381.40V380.19M163.00,381.40V380.78M427.91,381.40V380.52M342.16,381.40V380.66M408.51,381.40V380.73M262.61,381.40V377.62M293.04,381.40V374.33M379.97,381.40V376.75M382.29,381.40V378.96M408.99,381.40V380.55M138.51,381.40V378.56M216.72,381.40V380.52M214.88,381.40V376.49M321.96,381.40V380.51M239.17,381.40V380.26M333.86,381.40V380.14M375.47,381.40V375.41M264.30,381.40V379.15M260.72,381.40V379.78M240.08,381.40V374.31M203.46,381.40V380.19M336.56,381.40V378.23M337.14,381.40V380.83M336.05,381.40V373.66M173.00,381.40V380.64" stroke="#9a8aa0" stroke-width="0.5" opacity="0.6" fill="none"/>
<path d="M254.88,381.40V372.61M247.99,381.40V369.17M253.11,381.40V370.91M249.85,381.40V375.39M251.73,381.40V369.78M252.63,381.40V371.03M246.56,381.40V373.29M248.62,381.40V372.64" stroke="#6a3a80" stroke-width="0.8" opacity="0.8" fill="none"/>
<path d="M281.67,381.40V372.04M279.01,381.40V374.71M280.14,381.40V373.66M280.14,381.40V375.75M279.89,381.40V373.03M282.53,381.40V375.53M282.84,381.40V371.46M282.58,381.40V369.45" stroke="#6a3a80" stroke-width="0.8" opacity="0.8" fill="none"/>
<path d="M291.27,381.40V369.17M287.36,381.40V371.75M288.52,381.40V375.98M287.92,381.40V371.62M286.93,381.40V376.55M291.92,381.40V370.08M286.22,381.40V375.68M286.02,381.40V372.65" stroke="#6a3a80" stroke-width="0.8" opacity="0.8" fill="none"/>
<path d="M410.91,381.40V376.11M408.46,381.40V373.49M409.37,381.40V372.14M409.39,381.40V376.53M410.87,381.40V370.35M405.65,381.40V377.41M409.87,381.40V370.44M407.28,381.40V369.05" stroke="#6a3a80" stroke-width="0.8" opacity="0.8" fill="none"/>
<path d="M60.00,398.50 L60.00,397.82 L61.00,397.82 L61.00,397.89 L62.00,397.89 L62.00,398.15 L63.00,398.15 L63.00,397.90 L64.00,397.90 L64.00,397.96 L65.00,397.96 L65.00,397.93 L66.00,397.93 L66.00,397.98 L67.00,397.98 L67.00,397.70 L68.00,397.70 L68.00,397.97 L69.00,397.97 L69.00,398.12 L70.00,398.12 L70.00,398.03 L71.00,398.03 L71.00,397.71 L72.00,397.71 L72.00,397.89 L73.00,397.89 L73.00,397.98 L74.00,397.98 L74.00,397.69 L75.00,397.69 L75.00,397.63 L76.00,397.63 L76.00,397.94 L77.00,397.94 L77.00,398.09 L78.00,398.09 L78.00,397.99 L79.00,397.99 L79.00,398.11 L80.00,398.11 L80.00,397.69 L81.00,397.69 L81.00,397.78 L82.00,397.78 L82.00,397.99 L83.00,397.99 L83.00,397.81 L84.00,397.81 L84.00,397.70 L85.00,397.70 L85.00,397.62 L86.00,397.62 L86.00,398.07 L87.00,398.07 L87.00,397.92 L88.00,397.92 L88.00,397.81 L89.00,397.81 L89.00,397.93 L90.00,397.93 L90.00,397.88 L91.00,397.88 L91.00,397.92 L92.00,397.92 L92.00,397.94 L93.00,397.94 L93.00,397.85 L94.00,397.85 L94.00,397.95 L95.00,397.95 L95.00,398.01 L96.00,398.01 L96.00,397.94 L97.00,397.94 L97.00,397.74 L98.00,397.74 L98.00,398.08 L99.00,398.08 L99.00,397.91 L100.00,397.91 L100.00,398.04 L101.00,398.04 L101.00,397.66 L102.00,397.66 L102.00,398.17 L103.00,398.17 L103.00,397.98 L104.00,397.98 L104.00,397.64 L105.00,397.64 L105.00,397.78 L106.00,397.78 L106.00,398.04 L107.00,398.04 L107.00,397.77 L108.00,397.77 L108.00,397.89 L109.00,397.89 L109.00,398.12 L110.00,398.12 L110.00,398.11 L111.00,398.11 L111.00,398.15 L112.00,398.15 L112.00,398.01 L113.00,398.01 L113.00,397.94 L114.00,397.94 L114.00,397.64 L115.00,397.64 L115.00,397.68 L116.00,397.68 L116.00,397.87 L117.00,397.87 L117.00,397.80 L118.00,397.80 L118.00,397.83 L119.00,397.83 L119.00,397.72 L120.00,397.72 L120.00,397.97 L121.00,397.97 L121.00,397.81 L122.00,397.81 L122.00,398.05 L123.00,398.05 L123.00,398.05 L124.00,398.05 L124.00,398.02 L125.00,398.02 L125.00,397.95 L126.00,397.95 L126.00,398.01 L127.00,398.01 L127.00,397.84 L128.00,397.84 L128.00,398.15 L129.00,398.15 L129.00,398.00 L130.00,398.00 L130.00,397.84 L131.00,397.84 L131.00,397.73 L132.00,397.73 L132.00,397.74 L133.00,397.74 L133.00,397.93 L134.00,397.93 L134.00,397.83 L135.00,397.83 L135.00,398.16 L136.00,398.16 L136.00,397.66 L137.00,397.66 L137.00,397.80 L138.00,397.80 L138.00,397.73 L139.00,397.73 L139.00,398.11 L140.00,398.11 L140.00,397.94 L141.00,397.94 L141.00,398.01 L142.00,398.01 L142.00,397.71 L143.00,397.71 L143.00,397.75 L144.00,397.75 L144.00,398.08 L145.00,398.08 L145.00,397.64 L146.00,397.64 L146.00,398.06 L147.00,398.06 L147.00,398.10 L148.00,398.10 L148.00,397.86 L149.00,397.86 L149.00,397.93 L150.00,397.93 L150.00,397.65 L151.00,397.65 L151.00,398.14 L152.00,398.14 L152.00,397.67 L153.00,397.67 L153.00,397.78 L154.00,397.78 L154.00,398.00 L155.00,398.00 L155.00,398.09 L156.00,398.09 L156.00,397.78 L157.00,397.78 L157.00,398.15 L158.00,398.15 L158.00,398.01 L159.00,398.01 L159.00,398.12 L160.00,398.12 L160.00,397.98 L161.00,397.98 L161.00,397.62 L162.00,397.62 L162.00,397.70 L163.00,397.70 L163.00,397.87 L164.00,397.87 L164.00,397.82 L165.00,397.82 L165.00,397.82 L166.00,397.82 L166.00,397.74 L167.00,397.74 L167.00,397.71 L168.00,397.71 L168.00,397.64 L169.00,397.64 L169.00,397.65 L170.00,397.65 L170.00,397.98 L171.00,397.98 L171.00,397.65 L172.00,397.65 L172.00,398.03 L173.00,398.03 L173.00,398.11 L174.00,398.11 L174.00,397.81 L175.00,397.81 L175.00,398.14 L176.00,398.14 L176.00,397.69 L177.00,397.69 L177.00,397.63 L178.00,397.63 L178.00,397.73 L179.00,397.73 L179.00,398.03 L180.00,398.03 L180.00,397.88 L181.00,397.88 L181.00,398.14 L182.00,398.14 L182.00,397.92 L183.00,397.92 L183.00,397.72 L184.00,397.72 L184.00,398.06 L185.00,398.06 L185.00,398.08 L186.00,398.08 L186.00,397.97 L187.00,397.97 L187.00,397.98 L188.00,397.98 L188.00,397.99 L189.00,397.99 L189.00,397.99 L190.00,397.99 L190.00,398.13 L191.00,398.13 L191.00,397.82 L192.00,397.82 L192.00,397.90 L193.00,397.90 L193.00,397.83 L194.00,397.83 L194.00,397.99 L195.00,397.99 L195.00,397.67 L196.00,397.67 L196.00,397.74 L197.00,397.74 L197.00,397.86 L198.00,397.86 L198.00,397.96 L199.00,397.96 L199.00,397.70 L200.00,397.70 L200.00,397.93 L201.00,397.93 L201.00,397.94 L202.00,397.94 L202.00,397.86 L203.00,397.86 L203.00,398.14 L204.00,398.14 L204.00,397.90 L205.00,397.90 L205.00,398.12 L206.00,398.12 L206.00,397.66 L207.00,397.66 L207.00,397.73 L208.00,397.73 L208.00,398.10 L209.00,398.10 L209.00,398.05 L210.00,398.05 L210.00,397.80 L211.00,397.80 L211.00,397.87 L212.00,397.87 L212.00,397.95 L213.00,397.95 L213.00,397.95 L214.00,397.95 L214.00,398.05 L215.00,398.05 L215.00,397.94 L216.00,397.94 L216.00,398.14 L217.00,398.14 L217.00,398.13 L218.00,398.13 L218.00,398.04 L219.00,398.04 L219.00,398.16 L220.00,398.16 L220.00,398.04 L221.00,398.04 L221.00,398.06 L222.00,398.06 L222.00,397.97 L223.00,397.97 L223.00,397.84 L224.00,397.84 L224.00,397.62 L225.00,397.62 L225.00,397.78 L226.00,397.78 L226.00,397.72 L227.00,397.72 L227.00,397.86 L228.00,397.86 L228.00,397.75 L229.00,397.75 L229.00,397.82 L230.00,397.82 L230.00,398.17 L231.00,398.17 L231.00,397.97 L232.00,397.97 L232.00,398.10 L233.00,398.10 L233.00,397.79 L234.00,397.79 L234.00,397.97 L235.00,397.97 L235.00,397.93 L236.00,397.93 L236.00,398.08 L237.00,398.08 L237.00,397.64 L238.00,397.64 L238.00,398.02 L239.00,398.02 L239.00,398.09 L240.00,398.09 L240.00,397.97 L241.00,397.97 L241.00,398.00 L242.00,398.00 L242.00,398.07 L243.00,398.07 L243.00,397.79 L244.00,397.79 L244.00,397.93 L245.00,397.93 L245.00,398.16 L246.00,398.16 L246.00,397.65 L247.00,397.65 L247.00,398.10 L248.00,398.10 L248.00,397.69 L249.00,397.69 L249.00,397.63 L250.00,397.63 L250.00,397.87 L251.00,397.87 L251.00,397.75 L252.00,397.75 L252.00,398.17 L253.00,398.17 L253.00,398.06 L254.00,398.06 L254.00,397.73 L255.00,397.73 L255.00,397.79 L256.00,397.79 L256.00,398.10 L257.00,398.10 L257.00,398.02 L258.00,398.02 L258.00,398.13 L259.00,398.13 L259.00,397.73 L260.00,397.73 L260.00,397.82 L261.00,397.82 L261.00,397.98 L262.00,397.98 L262.00,397.86 L263.00,397.86 L263.00,397.89 L264.00,397.89 L264.00,398.03 L265.00,398.03 L265.00,397.88 L266.00,397.88 L266.00,398.17 L267.00,398.17 L267.00,397.77 L268.00,397.77 L268.00,397.64 L269.00,397.64 L269.00,398.08 L270.00,398.08 L270.00,397.93 L271.00,397.93 L271.00,397.84 L272.00,397.84 L272.00,397.79 L273.00,397.79 L273.00,397.74 L274.00,397.74 L274.00,397.99 L275.00,397.99 L275.00,397.76 L276.00,397.76 L276.00,397.97 L277.00,397.97 L277.00,397.74 L278.00,397.74 L278.00,397.89 L279.00,397.89 L279.00,397.85 L280.00,397.85 L280.00,397.68 L281.00,397.68 L281.00,398.07 L282.00,398.07 L282.00,397.90 L283.00,397.90 L283.00,397.98 L284.00,397.98 L284.00,398.14 L285.00,398.14 L285.00,397.74 L286.00,397.74 L286.00,398.06 L287.00,398.06 L287.00,398.08 L288.00,398.08 L288.00,398.10 L289.00,398.10 L289.00,397.74 L290.00,397.74 L290.00,397.78 L291.00,397.78 L291.00,397.99 L292.00,397.99 L292.00,397.90 L293.00,397.90 L293.00,397.97 L294.00,397.97 L294.00,397.90 L295.00,397.90 L295.00,398.15 L296.00,398.15 L296.00,398.01 L297.00,398.01 L297.00,397.64 L298.00,397.64 L298.00,397.99 L299.00,397.99 L299.00,397.78 L300.00,397.78 L300.00,397.83 L301.00,397.83 L301.00,397.91 L302.00,397.91 L302.00,397.83 L303.00,397.83 L303.00,397.79 L304.00,397.79 L304.00,397.85 L305.00,397.85 L305.00,397.74 L306.00,397.74 L306.00,398.00 L307.00,398.00 L307.00,398.04 L308.00,398.04 L308.00,397.92 L309.00,397.92 L309.00,397.74 L310.00,397.74 L310.00,397.90 L311.00,397.90 L311.00,398.17 L312.00,398.17 L312.00,397.91 L313.00,397.91 L313.00,397.68 L314.00,397.68 L314.00,398.08 L315.00,398.08 L315.00,397.86 L316.00,397.86 L316.00,398.01 L317.00,398.01 L317.00,397.87 L318.00,397.87 L318.00,397.75 L319.00,397.75 L319.00,397.99 L320.00,397.99 L320.00,398.08 L321.00,398.08 L321.00,397.92 L322.00,397.92 L322.00,397.63 L323.00,397.63 L323.00,398.16 L324.00,398.16 L324.00,398.00 L325.00,398.00 L325.00,398.05 L326.00,398.05 L326.00,397.91 L327.00,397.91 L327.00,397.74 L328.00,397.74 L328.00,397.86 L329.00,397.86 L329.00,397.85 L330.00,397.85 L330.00,398.05 L331.00,398.05 L331.00,397.88 L332.00,397.88 L332.00,397.76 L333.00,397.76 L333.00,397.99 L334.00,397.99 L334.00,398.16 L335.00,398.16 L335.00,397.64 L336.00,397.64 L336.00,397.89 L337.00,397.89 L337.00,397.64 L338.00,397.64 L338.00,397.83 L339.00,397.83 L339.00,397.98 L340.00,397.98 L340.00,398.07 L341.00,398.07 L341.00,397.66 L342.00,397.66 L342.00,397.75 L343.00,397.75 L343.00,397.85 L344.00,397.85 L344.00,398.16 L345.00,398.16 L345.00,398.00 L346.00,398.00 L346.00,397.94 L347.00,397.94 L347.00,398.12 L348.00,398.12 L348.00,397.91 L349.00,397.91 L349.00,397.91 L350.00,397.91 L350.00,398.06 L351.00,398.06 L351.00,397.88 L352.00,397.88 L352.00,397.65 L353.00,397.65 L353.00,397.69 L354.00,397.69 L354.00,397.72 L355.00,397.72 L355.00,398.00 L356.00,398.00 L356.00,398.04 L357.00,398.04 L357.00,397.91 L358.00,397.91 L358.00,397.66 L359.00,397.66 L359.00,398.05 L360.00,398.05 L360.00,398.13 L361.00,398.13 L361.00,397.70 L362.00,397.70 L362.00,398.16 L363.00,398.16 L363.00,397.89 L364.00,397.89 L364.00,397.63 L365.00,397.63 L365.00,397.85 L366.00,397.85 L366.00,398.17 L367.00,398.17 L367.00,398.00 L368.00,398.00 L368.00,397.76 L369.00,397.76 L369.00,397.80 L370.00,397.80 L370.00,398.12 L371.00,398.12 L371.00,397.92 L372.00,397.92 L372.00,397.91 L373.00,397.91 L373.00,398.08 L374.00,398.08 L374.00,398.10 L375.00,398.10 L375.00,398.00 L376.00,398.00 L376.00,397.95 L377.00,397.95 L377.00,397.65 L378.00,397.65 L378.00,397.99 L379.00,397.99 L379.00,397.68 L380.00,397.68 L380.00,398.16 L381.00,398.16 L381.00,397.91 L382.00,397.91 L382.00,398.09 L383.00,398.09 L383.00,398.14 L384.00,398.14 L384.00,398.01 L385.00,398.01 L385.00,397.79 L386.00,397.79 L386.00,397.84 L387.00,397.84 L387.00,398.01 L388.00,398.01 L388.00,397.77 L389.00,397.77 L389.00,397.78 L390.00,397.78 L390.00,397.69 L391.00,397.69 L391.00,397.79 L392.00,397.79 L392.00,398.12 L393.00,398.12 L393.00,397.74 L394.00,397.74 L394.00,397.64 L395.00,397.64 L395.00,397.69 L396.00,397.69 L396.00,397.81 L397.00,397.81 L397.00,398.10 L398.00,398.10 L398.00,397.69 L399.00,397.69 L399.00,397.90 L400.00,397.90 L400.00,397.77 L401.00,397.77 L401.00,397.66 L402.00,397.66 L402.00,398.05 L403.00,398.05 L403.00,398.16 L404.00,398.16 L404.00,397.65 L405.00,397.65 L405.00,397.68 L406.00,397.68 L406.00,398.12 L407.00,398.12 L407.00,397.92 L408.00,397.92 L408.00,397.70 L409.00,397.70 L409.00,397.83 L410.00,397.83 L410.00,397.88 L411.00,397.88 L411.00,397.62 L412.00,397.62 L412.00,398.15 L413.00,398.15 L413.00,397.97 L414.00,397.97 L414.00,398.08 L415.00,398.08 L415.00,397.64 L416.00,397.64 L416.00,397.85 L417.00,397.85 L417.00,398.03 L418.00,398.03 L418.00,397.69 L419.00,397.69 L419.00,397.67 L420.00,397.67 L420.00,397.90 L421.00,397.90 L421.00,397.65 L422.00,397.65 L422.00,398.05 L423.00,398.05 L423.00,397.79 L424.00,397.79 L424.00,397.62 L425.00,397.62 L425.00,398.04 L426.00,398.04 L426.00,397.78 L427.00,397.78 L427.00,397.71 L428.00,397.71 L428.00,397.69 L429.00,397.69 L429.00,398.02 L430.00,398.02 L430.00,397.96 L431.00,397.96 L431.00,398.50 Z" fill="#7a5a8e" opacity="0.6"/>
<path d="M102.16,398.50V393.45M170.17,398.50V397.52M234.23,398.50V393.96M409.40,398.50V397.02M341.68,398.50V394.18M159.22,398.50V394.42M279.80,398.50V394.78M85.66,398.50V396.89M342.47,398.50V397.17M177.56,398.50V397.84M156.16,398.50V397.72M400.92,398.50V397.33M125.41,398.50V397.00M110.49,398.50V392.33M407.70,398.50V392.51M320.56,398.50V395.47M212.01,398.50V395.37M417.83,398.50V392.22M224.12,398.50V391.90M327.92,398.50V393.37M266.22,398.50V397.19M366.29,398.50V397.67M366.90,398.50V395.50M234.59,398.50V393.66M306.83,398.50V393.87M69.93,398.50V393.54M111.69,398.50V393.42M157.05,398.50V392.72M131.68,398.50V397.93M383.73,398.50V396.80M354.27,398.50V394.01M359.97,398.50V397.94M170.61,398.50V393.75M242.67,398.50V396.69M276.17,398.50V397.71M383.04,398.50V397.33M169.50,398.50V396.33M118.46,398.50V397.21M203.55,398.50V397.94M388.24,398.50V394.57M410.60,398.50V397.21M311.00,398.50V396.23M299.83,398.50V397.36M228.53,398.50V397.07M333.76,398.50V397.58M255.37,398.50V397.33M274.44,398.50V397.73M356.91,398.50V393.85M84.48,398.50V397.82M347.41,398.50V397.63M427.24,398.50V397.03M140.32,398.50V397.26M379.55,398.50V393.54M191.02,398.50V397.35M290.11,398.50V397.15M191.11,398.50V394.06M243.07,398.50V397.81M331.96,398.50V397.68M184.08,398.50V396.51M241.76,398.50V394.15M208.33,398.50V395.79M72.78,398.50V393.22M297.42,398.50V392.95M423.63,398.50V397.93M251.54,398.50V396.63M283.27,398.50V397.92M243.56,398.50V396.28M362.65,398.50V392.22M184.57,398.50V395.93M141.03,398.50V394.38M417.81,398.50V396.43M253.28,398.50V397.55M303.60,398.50V397.93M184.41,398.50V396.93M157.86,398.50V397.37M81.24,398.50V397.93M386.40,398.50V396.46M179.54,398.50V397.24M370.88,398.50V397.62M251.84,398.50V392.10M147.39,398.50V397.65M409.44,398.50V394.69M241.62,398.50V396.84M254.86,398.50V394.13M409.22,398.50V393.83M119.95,398.50V392.91M84.12,398.50V397.59M262.23,398.50V392.99M98.02,398.50V392.42M210.38,398.50V395.65M143.64,398.50V397.85M174.65,398.50V397.75M388.43,398.50V393.42M230.54,398.50V396.50M194.00,398.50V397.94M133.50,398.50V396.39M204.15,398.50V395.70M387.30,398.50V397.26M245.18,398.50V397.94M172.74,398.50V394.30M211.83,398.50V397.87M176.33,398.50V394.19M121.67,398.50V396.41M332.36,398.50V397.45M411.81,398.50V397.79M261.99,398.50V397.89M75.07,398.50V394.84M193.57,398.50V397.54M329.56,398.50V396.23M401.09,398.50V397.09M63.51,398.50V394.42M346.41,398.50V396.75M285.18,398.50V396.30M374.16,398.50V397.91M244.16,398.50V397.08M214.56,398.50V391.98M424.01,398.50V397.33M158.17,398.50V395.65M266.45,398.50V394.12M422.20,398.50V397.44M64.32,398.50V397.61M122.89,398.50V395.19M224.68,398.50V392.42M187.12,398.50V395.47M203.90,398.50V396.90M155.80,398.50V397.94M227.33,398.50V394.73M188.76,398.50V394.04M364.94,398.50V397.57M157.42,398.50V396.57" stroke="#6f5585" stroke-width="0.55" opacity="0.8" fill="none"/>
<path d="M310.22,398.50V394.08M260.95,398.50V395.30M149.65,398.50V395.89M315.14,398.50V393.56M363.06,398.50V393.83M154.24,398.50V397.20M339.33,398.50V395.96M94.64,398.50V397.85M96.50,398.50V392.94M189.82,398.50V395.96M317.98,398.50V392.23M71.29,398.50V394.79M182.05,398.50V396.06M238.30,398.50V393.94M210.30,398.50V395.85M388.27,398.50V397.42M68.78,398.50V396.17M229.17,398.50V397.80M134.32,398.50V396.05M214.64,398.50V396.81M242.55,398.50V392.10M277.01,398.50V393.05M97.15,398.50V397.65M123.24,398.50V397.02M368.04,398.50V394.80M245.00,398.50V393.27M108.10,398.50V392.47M363.82,398.50V397.00M93.16,398.50V397.90M85.90,398.50V396.41M196.14,398.50V397.34M399.19,398.50V397.71M141.84,398.50V393.22M134.83,398.50V397.94M318.99,398.50V397.64M281.04,398.50V396.28M336.47,398.50V393.03M391.82,398.50V397.68M64.05,398.50V397.92M172.18,398.50V396.55M155.58,398.50V394.11M191.78,398.50V397.91M82.78,398.50V397.90" stroke="#9a8aa0" stroke-width="0.5" opacity="0.6" fill="none"/>
<path d="M249.31,398.50V392.44M247.89,398.50V392.63M247.98,398.50V386.11M248.16,398.50V388.68M248.16,398.50V386.13M254.05,398.50V389.96M254.51,398.50V388.00M254.07,398.50V389.84" stroke="#6f5585" stroke-width="0.8" opacity="0.8" fill="none"/>
<path d="M279.32,398.50V393.91M282.36,398.50V385.86M280.67,398.50V386.52M282.63,398.50V391.74M282.04,398.50V387.51M281.67,398.50V392.49M279.21,398.50V391.58M280.07,398.50V389.85" stroke="#6f5585" stroke-width="0.8" opacity="0.8" fill="none"/>
<path d="M288.47,398.50V390.95M288.20,398.50V393.35M287.96,398.50V388.54M287.97,398.50V386.47M292.10,398.50V390.42M288.07,398.50V388.65M292.22,398.50V387.17M287.48,398.50V392.66" stroke="#6f5585" stroke-width="0.8" opacity="0.8" fill="none"/>
<path d="M405.29,398.50V386.02M406.68,398.50V391.02M409.60,398.50V391.95M409.33,398.50V394.45M407.44,398.50V394.35M409.92,398.50V392.00M409.88,398.50V387.72M405.67,398.50V391.87" stroke="#6f5585" stroke-width="0.8" opacity="0.8" fill="none"/>
<path d="M405.50,363.40 Q408.00,352.40 410.50,363.40 Z" fill="#c0186e"/>
<path d="M403.00,381.40 Q407.00,369.40 411.00,381.40 Z" fill="#7a3a8a"/>
<path d="M250.00,310.00 Q252.25,300.00 254.50,310.00 Z" fill="#c0186e"/>
<path d="M286.00,310.00 Q289.25,301.00 292.50,310.00 Z" fill="#c0186e"/>
<path d="M250.00,345.40 Q252.25,337.40 254.50,345.40 Z" fill="#c0186e"/>
<path d="M250.00,363.40 Q252.25,354.40 254.50,363.40 Z" fill="#c0186e"/>
<path d="M280.00,363.40 Q281.75,355.40 283.50,363.40 Z" fill="#c0186e"/>
<path d="M287.50,363.40 Q289.75,355.40 292.00,363.40 Z" fill="#c0186e"/>
<rect x="60.00" y="260.00" width="371.00" height="7.60" fill="#86561f" />
<rect x="246.00" y="260.00" width="4.30" height="7.60" fill="#5e3a14" />
<rect x="250.30" y="260.00" width="3.70" height="7.60" fill="#111111" />
<rect x="272.50" y="260.00" width="8.50" height="7.60" fill="#d8ebe8" />
<rect x="281.00" y="260.00" width="1.70" height="7.60" fill="#111111" />
<rect x="282.70" y="260.00" width="13.30" height="7.60" fill="#d8ebe8" />
<rect x="407.20" y="260.00" width="3.30" height="7.60" fill="#111111" />
<rect x="60.00" y="275.20" width="371.00" height="7.50" fill="#86561f" />
<rect x="250.30" y="275.20" width="3.70" height="7.50" fill="#111111" />
<rect x="281.00" y="275.20" width="2.00" height="7.50" fill="#5e3a14" />
<rect x="287.70" y="275.20" width="3.80" height="7.50" fill="#111111" />
<rect x="407.20" y="275.20" width="3.30" height="7.50" fill="#111111" />
<rect x="60.00" y="292.60" width="371.00" height="7.60" fill="#86561f" />
<rect x="247.00" y="292.60" width="8.00" height="7.60" fill="#111111" />
<rect x="272.00" y="292.60" width="9.00" height="7.60" fill="#d8ebe8" />
<rect x="281.00" y="292.60" width="2.00" height="7.60" fill="#111111" />
<rect x="283.00" y="292.60" width="5.00" height="7.60" fill="#d8ebe8" />
<rect x="288.00" y="292.60" width="4.00" height="7.60" fill="#111111" />
<rect x="292.00" y="292.60" width="3.00" height="7.60" fill="#d8ebe8" />
<rect x="407.20" y="292.60" width="3.30" height="7.60" fill="#111111" />
<rect x="422.70" y="292.60" width="8.30" height="7.60" fill="#d8ebe8" />
<rect x="60.00" y="310.00" width="371.00" height="7.40" fill="#86561f" />
<rect x="250.00" y="310.00" width="4.00" height="7.40" fill="#111111" />
<rect x="281.00" y="310.00" width="2.00" height="7.40" fill="#5e3a14" />
<rect x="288.00" y="310.00" width="4.00" height="7.40" fill="#111111" />
<rect x="398.00" y="310.00" width="9.20" height="7.40" fill="#d8ebe8" />
<rect x="407.20" y="310.00" width="3.30" height="7.40" fill="#111111" />
<rect x="410.50" y="310.00" width="20.50" height="7.40" fill="#d8ebe8" />
<rect x="60.00" y="327.80" width="371.00" height="7.00" fill="#86561f" />
<rect x="250.00" y="327.80" width="4.00" height="7.00" fill="#111111" />
<rect x="271.30" y="327.80" width="9.70" height="7.00" fill="#d8ebe8" />
<rect x="281.00" y="327.80" width="2.00" height="7.00" fill="#7f7f7f" />
<rect x="283.00" y="327.80" width="26.80" height="7.00" fill="#d8ebe8" />
<rect x="404.20" y="327.80" width="3.00" height="7.00" fill="#d8ebe8" />
<rect x="407.20" y="327.80" width="3.30" height="7.00" fill="#111111" />
<rect x="410.50" y="327.80" width="20.50" height="7.00" fill="#d8ebe8" />
<rect x="60.00" y="345.40" width="371.00" height="7.20" fill="#86561f" />
<rect x="250.00" y="345.40" width="4.00" height="7.20" fill="#111111" />
<rect x="258.00" y="345.40" width="0.80" height="7.20" fill="#d8ebe8" />
<rect x="281.00" y="345.40" width="2.00" height="7.20" fill="#111111" />
<rect x="396.60" y="345.40" width="3.40" height="7.20" fill="#d8ebe8" />
<rect x="400.00" y="345.40" width="2.60" height="7.20" fill="#7f7f7f" />
<rect x="402.60" y="345.40" width="1.40" height="7.20" fill="#d8ebe8" />
<rect x="404.00" y="345.40" width="2.00" height="7.20" fill="#7f7f7f" />
<rect x="406.00" y="345.40" width="1.20" height="7.20" fill="#d8ebe8" />
<rect x="407.20" y="345.40" width="3.30" height="7.20" fill="#111111" />
<rect x="410.50" y="345.40" width="20.50" height="7.20" fill="#d8ebe8" />
<rect x="60.00" y="363.40" width="371.00" height="7.20" fill="#86561f" />
<rect x="250.00" y="363.40" width="4.00" height="7.20" fill="#111111" />
<rect x="275.00" y="363.40" width="6.00" height="7.20" fill="#d8ebe8" />
<rect x="281.00" y="363.40" width="2.00" height="7.20" fill="#111111" />
<rect x="283.00" y="363.40" width="5.00" height="7.20" fill="#d8ebe8" />
<rect x="288.00" y="363.40" width="3.00" height="7.20" fill="#111111" />
<rect x="291.00" y="363.40" width="2.50" height="7.20" fill="#d8ebe8" />
<rect x="397.30" y="363.40" width="9.90" height="7.20" fill="#d8ebe8" />
<rect x="407.20" y="363.40" width="3.30" height="7.20" fill="#111111" />
<rect x="410.50" y="363.40" width="9.90" height="7.20" fill="#d8ebe8" />
<rect x="60.00" y="381.40" width="371.00" height="7.00" fill="#86561f" />
<rect x="60.00" y="381.40" width="48.60" height="7.00" fill="#d8ebe8" />
<rect x="140.80" y="381.40" width="1.20" height="7.00" fill="#7f7f7f" />
<rect x="142.00" y="381.40" width="3.00" height="7.00" fill="#555" />
<rect x="145.00" y="381.40" width="40.80" height="7.00" fill="#d8ebe8" />
<rect x="250.00" y="381.40" width="4.00" height="7.00" fill="#111111" />
<rect x="264.60" y="381.40" width="11.40" height="7.00" fill="#d8ebe8" />
<rect x="276.00" y="381.40" width="3.00" height="7.00" fill="#7f7f7f" />
<rect x="279.00" y="381.40" width="2.00" height="7.00" fill="#d8ebe8" />
<rect x="281.00" y="381.40" width="2.00" height="7.00" fill="#7f7f7f" />
<rect x="283.00" y="381.40" width="20.00" height="7.00" fill="#d8ebe8" />
<rect x="303.00" y="381.40" width="4.00" height="7.00" fill="#7f7f7f" />
<rect x="307.00" y="381.40" width="20.00" height="7.00" fill="#d8ebe8" />
<rect x="60.00" y="381.40" width="0.00" height="7.00" fill="#d8ebe8" />
<rect x="395.00" y="381.40" width="5.80" height="7.00" fill="#d8ebe8" />
<rect x="400.80" y="381.40" width="9.70" height="7.00" fill="#111111" />
<rect x="410.50" y="381.40" width="3.70" height="7.00" fill="#d8ebe8" />
<rect x="414.20" y="381.40" width="5.00" height="7.00" fill="#7f7f7f" />
<rect x="419.20" y="381.40" width="11.80" height="7.00" fill="#d8ebe8" />
<rect x="327.00" y="381.40" width="1.00" height="7.00" fill="#d8ebe8" />
<rect x="60.00" y="398.50" width="371.00" height="7.30" fill="#86561f" />
<rect x="60.00" y="398.50" width="2.60" height="7.30" fill="#5e3a14" />
<rect x="62.60" y="398.50" width="160.30" height="7.30" fill="#d8ebe8" />
<rect x="250.00" y="398.50" width="4.00" height="7.30" fill="#111111" />
<rect x="280.00" y="398.50" width="3.00" height="7.30" fill="#7f7f7f" />
<rect x="291.50" y="398.50" width="23.10" height="7.30" fill="#d8ebe8" />
<rect x="336.20" y="398.50" width="71.00" height="7.30" fill="#d8ebe8" />
<rect x="407.20" y="398.50" width="3.30" height="7.30" fill="#111111" />
<rect x="410.50" y="398.50" width="20.50" height="7.30" fill="#d8ebe8" />
<rect x="419.50" y="251.70" width="11.30" height="7.90" fill="#fff" opacity="0.75" />
<text x="0" y="0" transform="translate(429.60,258.10) scale(1.15,1)" font-size="6.9" fill="#222" text-anchor="end" font-weight="normal" font-family="Liberation Sans, sans-serif" >H1</text>
<rect x="407.00" y="266.90" width="23.80" height="7.90" fill="#fff" opacity="0.75" />
<text x="0" y="0" transform="translate(429.60,273.30) scale(1.15,1)" font-size="6.9" fill="#222" text-anchor="end" font-weight="normal" font-family="Liberation Sans, sans-serif" >HSPC</text>
<rect x="396.00" y="284.30" width="34.80" height="7.90" fill="#fff" opacity="0.75" />
<text x="0" y="0" transform="translate(429.60,290.70) scale(1.15,1)" font-size="6.9" fill="#222" text-anchor="end" font-weight="normal" font-family="Liberation Sans, sans-serif" >G. Neuro.</text>
<rect x="404.00" y="301.60" width="26.50" height="7.10" fill="#e08d45" />
<text x="0" y="0" transform="translate(429.50,307.60) scale(1.15,1)" font-size="6.9" fill="#5a2f10" text-anchor="end" font-weight="normal" font-family="Liberation Sans, sans-serif" >BasoE</text>
<rect x="406.00" y="319.50" width="24.80" height="7.90" fill="#fff" opacity="0.75" />
<text x="0" y="0" transform="translate(429.60,325.90) scale(1.15,1)" font-size="6.9" fill="#222" text-anchor="end" font-weight="normal" font-family="Liberation Sans, sans-serif" >IMR90</text>
<rect x="396.50" y="337.10" width="34.30" height="7.90" fill="#fff" opacity="0.75" />
<text x="0" y="0" transform="translate(429.60,343.50) scale(1.15,1)" font-size="6.9" fill="#222" text-anchor="end" font-weight="normal" font-family="Liberation Sans, sans-serif" >Pancreas</text>
<rect x="413.00" y="355.10" width="17.80" height="7.90" fill="#fff" opacity="0.75" />
<text x="0" y="0" transform="translate(429.60,361.50) scale(1.15,1)" font-size="6.9" fill="#222" text-anchor="end" font-weight="normal" font-family="Liberation Sans, sans-serif" >Liver</text>
<rect x="410.50" y="373.10" width="20.30" height="7.90" fill="#fff" opacity="1" stroke="#999" stroke-width="0.5"/>
<text x="0" y="0" transform="translate(429.60,379.50) scale(1.15,1)" font-size="6.9" fill="#222" text-anchor="end" font-weight="normal" font-family="Liberation Sans, sans-serif" >K562</text>
<rect x="404.50" y="390.20" width="26.30" height="7.90" fill="#fff" opacity="1" stroke="#999" stroke-width="0.5"/>
<text x="0" y="0" transform="translate(429.60,396.60) scale(1.15,1)" font-size="6.9" fill="#222" text-anchor="end" font-weight="normal" font-family="Liberation Sans, sans-serif" >HepG2</text>
<line x1="436.30" y1="249.00" x2="436.30" y2="298.50" stroke="#000" stroke-width="1.2" />
<line x1="436.30" y1="301.50" x2="436.30" y2="368.70" stroke="#000" stroke-width="1.2" />
<line x1="436.30" y1="371.80" x2="436.30" y2="406.80" stroke="#000" stroke-width="1.2" />
<text x="0" y="0" font-size="8.4" fill="#444" text-anchor="middle" font-family="Liberation Sans, sans-serif"  transform="translate(441.00,273.80) rotate(90) scale(1,1.15)">SPCs</text>
<text x="0" y="0" font-size="8.2" fill="#444" text-anchor="middle" font-family="Liberation Sans, sans-serif"  transform="translate(450.00,336.80) rotate(90) scale(1,1.15)">Differentiated</text>
<text x="0" y="0" font-size="8.2" fill="#444" text-anchor="middle" font-family="Liberation Sans, sans-serif"  transform="translate(440.20,337.00) rotate(90) scale(1,1.15)">Cells</text>
<text x="0" y="0" font-size="8.2" fill="#444" text-anchor="middle" font-family="Liberation Sans, sans-serif"  transform="translate(450.00,389.00) rotate(90) scale(1,1.15)">Transformed</text>
<text x="0" y="0" font-size="8.2" fill="#444" text-anchor="middle" font-family="Liberation Sans, sans-serif"  transform="translate(440.20,389.20) rotate(90) scale(1,1.15)">Cells</text>
<text x="8.00" y="437.80" font-size="11.6" fill="#000" text-anchor="start" font-weight="bold" font-family="Liberation Sans, sans-serif" >B</text>
<text x="0" y="0" transform="translate(120.60,444.50) scale(1.15,1)" font-size="7.2" fill="#333" text-anchor="middle" font-weight="normal" font-family="Liberation Sans, sans-serif" >SPCs</text>
<text x="0" y="0" transform="translate(305.50,444.50) scale(1.15,1)" font-size="7.2" fill="#333" text-anchor="middle" font-weight="normal" font-family="Liberation Sans, sans-serif" >Differentiated Cells</text>
<text x="0" y="0" transform="translate(463.80,444.50) scale(1.15,1)" font-size="7.2" fill="#333" text-anchor="middle" font-weight="normal" font-family="Liberation Sans, sans-serif" >Transformed Cells</text>
<line x1="44.60" y1="449.60" x2="195.40" y2="449.60" stroke="#333" stroke-width="1.4" />
<line x1="203.00" y1="449.60" x2="406.40" y2="449.60" stroke="#333" stroke-width="1.4" />
<line x1="415.30" y1="449.60" x2="512.80" y2="449.60" stroke="#333" stroke-width="1.4" />
<rect x="45.10" y="453.90" width="44.30" height="8.60" fill="#fff" stroke="#222" stroke-width="1"/>
<text x="0" y="0" transform="translate(67.20,460.50) scale(1.15,1)" font-size="7.4" fill="#333" text-anchor="middle" font-weight="normal" font-family="Liberation Sans, sans-serif" >H1</text>
<rect x="98.00" y="453.90" width="44.30" height="8.60" fill="#fff" stroke="#222" stroke-width="1"/>
<text x="0" y="0" transform="translate(120.10,460.50) scale(1.15,1)" font-size="7.4" fill="#333" text-anchor="middle" font-weight="normal" font-family="Liberation Sans, sans-serif" >HSPC</text>
<rect x="150.90" y="453.90" width="44.30" height="8.60" fill="#fff" stroke="#222" stroke-width="1"/>
<text x="0" y="0" transform="translate(173.00,460.50) scale(1.15,1)" font-size="7.4" fill="#333" text-anchor="middle" font-weight="normal" font-family="Liberation Sans, sans-serif" >G.Neuro.</text>
<rect x="203.80" y="453.90" width="44.30" height="8.60" fill="#e0823a" stroke="#222" stroke-width="1"/>
<text x="0" y="0" transform="translate(225.90,460.50) scale(1.15,1)" font-size="7.4" fill="#5a2a10" text-anchor="middle" font-weight="normal" font-family="Liberation Sans, sans-serif" >BasoE</text>
<rect x="256.70" y="453.90" width="44.30" height="8.60" fill="#fff" stroke="#222" stroke-width="1"/>
<text x="0" y="0" transform="translate(278.80,460.50) scale(1.15,1)" font-size="7.4" fill="#333" text-anchor="middle" font-weight="normal" font-family="Liberation Sans, sans-serif" >IMR90</text>
<rect x="309.60" y="453.90" width="44.30" height="8.60" fill="#fff" stroke="#222" stroke-width="1"/>
<text x="0" y="0" transform="translate(331.70,460.50) scale(1.15,1)" font-size="7.4" fill="#333" text-anchor="middle" font-weight="normal" font-family="Liberation Sans, sans-serif" >Pancreas</text>
<rect x="362.50" y="453.90" width="44.30" height="8.60" fill="#fff" stroke="#222" stroke-width="1"/>
<text x="0" y="0" transform="translate(384.60,460.50) scale(1.15,1)" font-size="7.4" fill="#333" text-anchor="middle" font-weight="normal" font-family="Liberation Sans, sans-serif" >Liver</text>
<rect x="415.40" y="453.90" width="44.30" height="8.60" fill="#fff" stroke="#222" stroke-width="1"/>
<text x="0" y="0" transform="translate(437.50,460.50) scale(1.15,1)" font-size="7.4" fill="#333" text-anchor="middle" font-weight="normal" font-family="Liberation Sans, sans-serif" >K562</text>
<rect x="468.30" y="453.90" width="44.30" height="8.60" fill="#fff" stroke="#222" stroke-width="1"/>
<text x="0" y="0" transform="translate(490.40,460.50) scale(1.15,1)" font-size="7.4" fill="#333" text-anchor="middle" font-weight="normal" font-family="Liberation Sans, sans-serif" >HepG2</text>
<line x1="45.50" y1="466.00" x2="45.50" y2="559.60" stroke="#111" stroke-width="1.1" />
<line x1="40.80" y1="490.90" x2="45.50" y2="490.90" stroke="#111" stroke-width="1" />
<text x="0" y="0" transform="translate(38.80,493.70) scale(1.15,1)" font-size="7.8" fill="#444" text-anchor="end" font-weight="normal" font-family="Liberation Sans, sans-serif" >80</text>
<line x1="40.80" y1="520.00" x2="45.50" y2="520.00" stroke="#111" stroke-width="1" />
<text x="0" y="0" transform="translate(38.80,522.80) scale(1.15,1)" font-size="7.8" fill="#444" text-anchor="end" font-weight="normal" font-family="Liberation Sans, sans-serif" >40</text>
<line x1="40.80" y1="549.10" x2="45.50" y2="549.10" stroke="#111" stroke-width="1" />
<text x="0" y="0" transform="translate(38.80,551.90) scale(1.15,1)" font-size="7.8" fill="#444" text-anchor="end" font-weight="normal" font-family="Liberation Sans, sans-serif" >0</text>
<text x="0" y="0" font-size="9.6" fill="#111" font-family="Liberation Sans, sans-serif" textLength="59" lengthAdjust="spacingAndGlyphs" transform="translate(22.4,542.4) rotate(-90)">% CpG methylation</text>
<line x1="44.90" y1="559.50" x2="89.60" y2="559.50" stroke="#111" stroke-width="1.2" />
<line x1="53.50" y1="559.50" x2="53.50" y2="562.60" stroke="#111" stroke-width="1" />
<line x1="67.30" y1="559.50" x2="67.30" y2="562.60" stroke="#111" stroke-width="1" />
<line x1="81.30" y1="559.50" x2="81.30" y2="562.60" stroke="#111" stroke-width="1" />
<line x1="97.80" y1="559.50" x2="142.50" y2="559.50" stroke="#111" stroke-width="1.2" />
<line x1="106.50" y1="559.50" x2="106.50" y2="562.60" stroke="#111" stroke-width="1" />
<line x1="120.10" y1="559.50" x2="120.10" y2="562.60" stroke="#111" stroke-width="1" />
<line x1="134.00" y1="559.50" x2="134.00" y2="562.60" stroke="#111" stroke-width="1" />
<line x1="150.70" y1="559.50" x2="195.40" y2="559.50" stroke="#111" stroke-width="1.2" />
<line x1="159.10" y1="559.50" x2="159.10" y2="562.60" stroke="#111" stroke-width="1" />
<line x1="172.90" y1="559.50" x2="172.90" y2="562.60" stroke="#111" stroke-width="1" />
<line x1="186.50" y1="559.50" x2="186.50" y2="562.60" stroke="#111" stroke-width="1" />
<line x1="203.60" y1="559.50" x2="248.30" y2="559.50" stroke="#111" stroke-width="1.2" />
<line x1="212.00" y1="559.50" x2="212.00" y2="562.60" stroke="#111" stroke-width="1" />
<line x1="225.80" y1="559.50" x2="225.80" y2="562.60" stroke="#111" stroke-width="1" />
<line x1="239.30" y1="559.50" x2="239.30" y2="562.60" stroke="#111" stroke-width="1" />
<line x1="256.50" y1="559.50" x2="301.20" y2="559.50" stroke="#111" stroke-width="1.2" />
<line x1="264.90" y1="559.50" x2="264.90" y2="562.60" stroke="#111" stroke-width="1" />
<line x1="278.80" y1="559.50" x2="278.80" y2="562.60" stroke="#111" stroke-width="1" />
<line x1="292.50" y1="559.50" x2="292.50" y2="562.60" stroke="#111" stroke-width="1" />
<line x1="309.40" y1="559.50" x2="354.10" y2="559.50" stroke="#111" stroke-width="1.2" />
<line x1="317.60" y1="559.50" x2="317.60" y2="562.60" stroke="#111" stroke-width="1" />
<line x1="331.60" y1="559.50" x2="331.60" y2="562.60" stroke="#111" stroke-width="1" />
<line x1="345.30" y1="559.50" x2="345.30" y2="562.60" stroke="#111" stroke-width="1" />
<line x1="362.30" y1="559.50" x2="407.00" y2="559.50" stroke="#111" stroke-width="1.2" />
<line x1="370.40" y1="559.50" x2="370.40" y2="562.60" stroke="#111" stroke-width="1" />
<line x1="384.10" y1="559.50" x2="384.10" y2="562.60" stroke="#111" stroke-width="1" />
<line x1="398.00" y1="559.50" x2="398.00" y2="562.60" stroke="#111" stroke-width="1" />
<line x1="415.20" y1="559.50" x2="459.90" y2="559.50" stroke="#111" stroke-width="1.2" />
<line x1="423.10" y1="559.50" x2="423.10" y2="562.60" stroke="#111" stroke-width="1" />
<line x1="437.10" y1="559.50" x2="437.10" y2="562.60" stroke="#111" stroke-width="1" />
<line x1="451.00" y1="559.50" x2="451.00" y2="562.60" stroke="#111" stroke-width="1" />
<line x1="468.10" y1="559.50" x2="512.80" y2="559.50" stroke="#111" stroke-width="1.2" />
<line x1="476.10" y1="559.50" x2="476.10" y2="562.60" stroke="#111" stroke-width="1" />
<line x1="489.90" y1="559.50" x2="489.90" y2="562.60" stroke="#111" stroke-width="1" />
<line x1="503.80" y1="559.50" x2="503.80" y2="562.60" stroke="#111" stroke-width="1" />
<line x1="53.50" y1="478.00" x2="53.50" y2="549.20" stroke="#2a2a2a" stroke-width="0.9" />
<path d="M54.55,476.50 L56.05,478.00 L57.25,480.00 L57.65,483.00 L57.35,486.00 L56.35,489.00 L55.35,492.00 L54.45,495.00 L53.85,498.00 L53.50,500.00 L53.50,500.00 L53.15,498.00 L52.55,495.00 L51.65,492.00 L50.65,489.00 L49.65,486.00 L49.35,483.00 L49.75,480.00 L50.95,478.00 L52.45,476.50 Z" fill="#93602a" stroke="#222" stroke-width="0.9" stroke-linejoin="round"/>
<path d="M46.90,476.20 Q53.50,474.60 60.10,476.20 Q53.50,477.40 46.90,476.20 Z" fill="#222" stroke="#222" stroke-width="0.9"/>
<path d="M51.50,549.20 L53.50,548.20 L55.50,549.20 L53.50,550.20 Z" fill="#222" stroke="#222" stroke-width="0.7"/>
<path d="M67.30,471.80 L67.45,473.50 L68.15,475.50 L69.65,478.00 L71.45,481.00 L72.75,484.00 L73.15,486.50 L72.95,489.00 L72.15,492.00 L70.95,495.00 L69.65,498.00 L68.65,501.00 L68.05,505.00 L67.75,510.00 L67.75,539.00 L67.81,540.17 L68.01,541.35 L68.37,542.52 L68.93,543.70 L69.67,544.88 L70.62,546.05 L71.78,547.23 L73.15,548.40 L71.38,549.73 L69.69,551.05 L68.13,552.38 L67.30,553.70 L67.30,553.70 L66.47,552.38 L64.91,551.05 L63.22,549.73 L61.45,548.40 L62.82,547.23 L63.98,546.05 L64.93,544.88 L65.67,543.70 L66.23,542.52 L66.59,541.35 L66.79,540.17 L66.85,539.00 L66.85,510.00 L66.55,505.00 L65.95,501.00 L64.95,498.00 L63.65,495.00 L62.45,492.00 L61.65,489.00 L61.45,486.50 L61.85,484.00 L63.15,481.00 L64.95,478.00 L66.45,475.50 L67.15,473.50 L67.30,471.80 Z" fill="#dcefec" stroke="#222" stroke-width="1.0" stroke-linejoin="round"/>
<line x1="67.30" y1="478.00" x2="67.30" y2="505.00" stroke="#9aa8a6" stroke-width="0.6" />
<path d="M81.30,471.30 L81.45,473.50 L82.35,475.50 L83.85,478.00 L85.45,481.00 L86.55,484.00 L87.25,488.00 L87.05,492.00 L86.25,497.00 L85.15,503.00 L84.15,510.00 L83.15,520.00 L82.45,530.00 L81.85,540.00 L81.45,548.00 L81.30,554.00 L81.30,554.00 L81.15,548.00 L80.75,540.00 L80.15,530.00 L79.45,520.00 L78.45,510.00 L77.45,503.00 L76.35,497.00 L75.55,492.00 L75.35,488.00 L76.05,484.00 L77.15,481.00 L78.75,478.00 L80.25,475.50 L81.15,473.50 L81.30,471.30 Z" fill="#2d695a" stroke="#1f3a33" stroke-width="1.0" stroke-linejoin="round"/>
<line x1="81.30" y1="480.00" x2="81.30" y2="500.00" stroke="#9cc8bc" stroke-width="0.7" />
<line x1="106.50" y1="478.00" x2="106.50" y2="549.20" stroke="#2a2a2a" stroke-width="0.9" />
<path d="M108.25,476.50 L107.85,479.00 L107.15,482.00 L106.50,484.00 L106.50,484.00 L105.85,482.00 L105.15,479.00 L104.75,476.50 Z" fill="#93602a" stroke="#222" stroke-width="0.9" stroke-linejoin="round"/>
<path d="M99.80,476.20 Q106.50,474.60 113.20,476.20 Q106.50,477.40 99.80,476.20 Z" fill="#222" stroke="#222" stroke-width="0.9"/>
<path d="M104.10,549.20 L106.50,548.20 L108.90,549.20 L106.50,550.20 Z" fill="#222" stroke="#222" stroke-width="0.7"/>
<path d="M120.10,470.30 L120.25,472.00 L120.95,475.00 L121.45,480.00 L121.45,487.00 L121.05,495.00 L120.65,505.00 L120.65,534.00 L120.71,535.81 L120.92,537.62 L121.30,539.44 L121.87,541.25 L122.64,543.06 L123.62,544.88 L124.82,546.69 L126.25,548.50 L124.39,549.95 L122.62,551.40 L120.99,552.85 L120.10,554.30 L120.10,554.30 L119.21,552.85 L117.58,551.40 L115.81,549.95 L113.95,548.50 L115.38,546.69 L116.58,544.88 L117.56,543.06 L118.33,541.25 L118.90,539.44 L119.28,537.62 L119.49,535.81 L119.55,534.00 L119.55,505.00 L119.15,495.00 L118.75,487.00 L118.75,480.00 L119.25,475.00 L119.95,472.00 L120.10,470.30 Z" fill="#dcefec" stroke="#222" stroke-width="1.0" stroke-linejoin="round"/>
<path d="M134.00,469.80 L134.35,471.50 L136.55,474.00 L138.75,477.00 L140.25,481.00 L140.05,490.00 L139.35,500.00 L138.55,510.00 L137.65,520.00 L136.65,530.00 L135.55,540.00 L134.65,548.00 L134.00,555.80 L134.00,555.80 L133.35,548.00 L132.45,540.00 L131.35,530.00 L130.35,520.00 L129.45,510.00 L128.65,500.00 L127.95,490.00 L127.75,481.00 L129.25,477.00 L131.45,474.00 L133.65,471.50 L134.00,469.80 Z" fill="#2d695a" stroke="#1f3a33" stroke-width="1.0" stroke-linejoin="round"/>
<line x1="134.00" y1="490.00" x2="134.00" y2="535.00" stroke="#9cc8bc" stroke-width="0.7" />
<line x1="159.10" y1="478.00" x2="159.10" y2="549.20" stroke="#2a2a2a" stroke-width="0.9" />
<path d="M161.65,476.50 L162.05,480.00 L161.65,483.00 L160.65,486.00 L159.85,489.00 L159.10,491.00 L159.10,491.00 L158.35,489.00 L157.55,486.00 L156.55,483.00 L156.15,480.00 L156.55,476.50 Z" fill="#93602a" stroke="#222" stroke-width="0.9" stroke-linejoin="round"/>
<path d="M152.40,476.20 Q159.10,474.60 165.80,476.20 Q159.10,477.40 152.40,476.20 Z" fill="#222" stroke="#222" stroke-width="0.9"/>
<path d="M155.70,549.20 L159.10,548.20 L162.50,549.20 L159.10,550.20 Z" fill="#222" stroke="#222" stroke-width="0.7"/>
<path d="M172.90,471.80 L173.45,474.00 L174.65,477.00 L175.45,481.00 L175.55,485.00 L175.05,489.00 L174.45,493.00 L174.05,497.00 L173.85,505.00 L173.65,530.00 L173.65,540.00 L173.70,541.12 L173.90,542.25 L174.26,543.38 L174.80,544.50 L175.53,545.62 L176.46,546.75 L177.60,547.88 L178.95,549.00 L177.12,550.08 L175.38,551.15 L173.77,552.22 L172.90,553.30 L172.90,553.30 L172.03,552.22 L170.42,551.15 L168.68,550.08 L166.85,549.00 L168.20,547.88 L169.34,546.75 L170.27,545.62 L171.00,544.50 L171.54,543.38 L171.90,542.25 L172.10,541.12 L172.15,540.00 L172.15,530.00 L171.95,505.00 L171.75,497.00 L171.35,493.00 L170.75,489.00 L170.25,485.00 L170.35,481.00 L171.15,477.00 L172.35,474.00 L172.90,471.80 Z" fill="#dcefec" stroke="#222" stroke-width="1.0" stroke-linejoin="round"/>
<path d="M186.50,470.30 L186.85,472.00 L188.85,475.00 L190.65,478.00 L191.95,482.00 L192.55,486.00 L192.75,490.00 L192.05,500.00 L191.25,510.00 L190.45,520.00 L189.65,530.00 L189.65,540.00 L189.66,541.12 L189.68,542.25 L189.70,543.38 L189.72,544.50 L189.75,545.62 L189.78,546.75 L189.81,547.88 L189.85,549.00 L188.78,550.25 L187.76,551.50 L186.82,552.75 L186.50,554.00 L186.50,554.00 L186.18,552.75 L185.24,551.50 L184.22,550.25 L183.15,549.00 L183.19,547.88 L183.22,546.75 L183.25,545.62 L183.28,544.50 L183.30,543.38 L183.32,542.25 L183.34,541.12 L183.35,540.00 L183.35,530.00 L182.55,520.00 L181.75,510.00 L180.95,500.00 L180.25,490.00 L180.45,486.00 L181.05,482.00 L182.35,478.00 L184.15,475.00 L186.15,472.00 L186.50,470.30 Z" fill="#2d695a" stroke="#1f3a33" stroke-width="1.0" stroke-linejoin="round"/>
<line x1="186.50" y1="490.00" x2="186.50" y2="545.00" stroke="#9cc8bc" stroke-width="0.7" />
<line x1="212.00" y1="478.00" x2="212.00" y2="549.20" stroke="#2a2a2a" stroke-width="0.9" />
<path d="M212.00,475.10 L212.35,476.50 L214.05,478.00 L215.35,480.00 L216.15,482.50 L216.15,485.00 L215.55,487.50 L214.55,490.00 L213.55,493.00 L212.85,496.00 L212.35,499.00 L212.15,503.00 L212.15,545.00 L212.75,547.00 L214.55,548.30 L217.85,549.00 L214.55,549.80 L212.00,551.80 L212.00,551.80 L209.45,549.80 L206.15,549.00 L209.45,548.30 L211.25,547.00 L211.85,545.00 L211.85,503.00 L211.65,499.00 L211.15,496.00 L210.45,493.00 L209.45,490.00 L208.45,487.50 L207.85,485.00 L207.85,482.50 L208.65,480.00 L209.95,478.00 L211.65,476.50 L212.00,475.10 Z" fill="#93602a" stroke="#222" stroke-width="0.9" stroke-linejoin="round"/>
<path d="M205.70,549.20 L212.00,548.20 L218.30,549.20 L212.00,550.20 Z" fill="#222" stroke="#222" stroke-width="0.7"/>
<path d="M225.80,473.70 L225.95,475.50 L227.15,477.50 L228.35,480.00 L229.55,484.00 L230.25,488.00 L230.35,492.00 L230.15,496.00 L229.65,500.00 L228.95,504.00 L228.15,508.00 L227.35,512.00 L226.75,516.00 L226.35,525.00 L226.35,540.00 L226.40,541.10 L226.59,542.20 L226.93,543.30 L227.44,544.40 L228.13,545.50 L229.01,546.60 L230.08,547.70 L231.35,548.80 L229.66,549.55 L228.05,550.30 L226.57,551.05 L225.80,551.80 L225.80,551.80 L225.03,551.05 L223.55,550.30 L221.94,549.55 L220.25,548.80 L221.52,547.70 L222.59,546.60 L223.47,545.50 L224.16,544.40 L224.67,543.30 L225.01,542.20 L225.20,541.10 L225.25,540.00 L225.25,525.00 L224.85,516.00 L224.25,512.00 L223.45,508.00 L222.65,504.00 L221.95,500.00 L221.45,496.00 L221.25,492.00 L221.35,488.00 L222.05,484.00 L223.25,480.00 L224.45,477.50 L225.65,475.50 L225.80,473.70 Z" fill="#dcefec" stroke="#222" stroke-width="1.0" stroke-linejoin="round"/>
<line x1="225.80" y1="482.00" x2="225.80" y2="515.00" stroke="#9aa8a6" stroke-width="0.6" />
<path d="M239.30,474.20 L239.45,476.00 L240.85,479.00 L242.35,483.00 L243.65,487.00 L244.55,492.00 L245.05,497.00 L245.15,502.00 L244.85,507.00 L244.15,512.00 L243.35,516.00 L242.05,523.00 L241.05,530.00 L241.05,540.00 L241.08,541.10 L241.20,542.20 L241.42,543.30 L241.75,544.40 L242.19,545.50 L242.75,546.60 L243.44,547.70 L244.25,548.80 L242.73,549.55 L241.28,550.30 L239.95,551.05 L239.30,551.80 L239.30,551.80 L238.65,551.05 L237.32,550.30 L235.87,549.55 L234.35,548.80 L235.16,547.70 L235.85,546.60 L236.41,545.50 L236.85,544.40 L237.18,543.30 L237.40,542.20 L237.52,541.10 L237.55,540.00 L237.55,530.00 L236.55,523.00 L235.25,516.00 L234.45,512.00 L233.75,507.00 L233.45,502.00 L233.55,497.00 L234.05,492.00 L234.95,487.00 L236.25,483.00 L237.75,479.00 L239.15,476.00 L239.30,474.20 Z" fill="#2d695a" stroke="#1f3a33" stroke-width="1.0" stroke-linejoin="round"/>
<line x1="239.30" y1="495.00" x2="239.30" y2="525.00" stroke="#9cc8bc" stroke-width="0.7" />
<line x1="264.90" y1="478.00" x2="264.90" y2="549.20" stroke="#2a2a2a" stroke-width="0.9" />
<path d="M267.85,476.50 L267.45,478.00 L266.95,481.00 L266.45,484.00 L265.95,488.00 L265.55,492.00 L265.25,496.00 L264.90,498.00 L264.90,498.00 L264.55,496.00 L264.25,492.00 L263.85,488.00 L263.35,484.00 L262.85,481.00 L262.35,478.00 L261.95,476.50 Z" fill="#93602a" stroke="#222" stroke-width="0.9" stroke-linejoin="round"/>
<path d="M258.20,476.20 Q264.90,474.60 271.60,476.20 Q264.90,477.40 258.20,476.20 Z" fill="#222" stroke="#222" stroke-width="0.9"/>
<path d="M262.80,549.20 L264.90,548.20 L267.00,549.20 L264.90,550.20 Z" fill="#222" stroke="#222" stroke-width="0.7"/>
<path d="M278.80,473.20 L279.55,474.50 L280.95,476.00 L281.75,477.50 L283.35,479.00 L284.35,481.00 L284.45,485.00 L284.05,490.00 L283.35,495.00 L282.55,500.00 L281.85,505.00 L281.35,510.00 L280.75,516.00 L280.35,530.00 L280.35,540.00 L280.38,541.12 L280.50,542.25 L280.72,543.38 L281.05,544.50 L281.49,545.62 L282.05,546.75 L282.74,547.88 L283.55,549.00 L282.09,549.75 L280.69,550.50 L279.41,551.25 L278.80,552.00 L278.80,552.00 L278.19,551.25 L276.91,550.50 L275.51,549.75 L274.05,549.00 L274.86,547.88 L275.55,546.75 L276.11,545.62 L276.55,544.50 L276.88,543.38 L277.10,542.25 L277.22,541.12 L277.25,540.00 L277.25,530.00 L276.85,516.00 L276.25,510.00 L275.75,505.00 L275.05,500.00 L274.25,495.00 L273.55,490.00 L273.15,485.00 L273.25,481.00 L274.25,479.00 L275.85,477.50 L276.65,476.00 L278.05,474.50 L278.80,473.20 Z" fill="#dcefec" stroke="#222" stroke-width="1.0" stroke-linejoin="round"/>
<line x1="278.80" y1="480.00" x2="278.80" y2="530.00" stroke="#9aa8a6" stroke-width="0.6" />
<path d="M292.50,473.70 L293.55,475.00 L294.45,476.50 L293.95,477.80 L296.05,479.50 L296.45,482.00 L296.45,500.00 L296.45,520.00 L296.45,540.00 L296.45,543.00 L296.48,543.75 L296.56,544.50 L296.70,545.25 L296.90,546.00 L297.15,546.75 L297.46,547.50 L297.83,548.25 L298.25,549.00 L296.50,549.65 L294.84,550.30 L293.31,550.95 L292.50,551.60 L292.50,551.60 L291.69,550.95 L290.16,550.30 L288.50,549.65 L286.75,549.00 L287.17,548.25 L287.54,547.50 L287.85,546.75 L288.10,546.00 L288.30,545.25 L288.44,544.50 L288.52,543.75 L288.55,543.00 L288.55,540.00 L288.55,520.00 L288.55,500.00 L288.55,482.00 L288.95,479.50 L291.05,477.80 L290.55,476.50 L291.45,475.00 L292.50,473.70 Z" fill="#2d695a" stroke="#1f3a33" stroke-width="1.0" stroke-linejoin="round"/>
<line x1="292.50" y1="496.00" x2="292.50" y2="531.00" stroke="#9cc8bc" stroke-width="0.7" />
<line x1="317.60" y1="478.00" x2="317.60" y2="549.20" stroke="#2a2a2a" stroke-width="0.9" />
<path d="M321.55,476.50 L321.15,479.00 L320.45,482.00 L319.75,485.00 L319.05,488.00 L318.45,492.00 L318.05,496.00 L317.60,498.00 L317.60,498.00 L317.15,496.00 L316.75,492.00 L316.15,488.00 L315.45,485.00 L314.75,482.00 L314.05,479.00 L313.65,476.50 Z" fill="#93602a" stroke="#222" stroke-width="0.9" stroke-linejoin="round"/>
<path d="M310.90,476.20 Q317.60,474.60 324.30,476.20 Q317.60,477.40 310.90,476.20 Z" fill="#222" stroke="#222" stroke-width="0.9"/>
<path d="M314.20,549.20 L317.60,548.20 L321.00,549.20 L317.60,550.20 Z" fill="#222" stroke="#222" stroke-width="0.7"/>
<path d="M331.60,473.70 L332.15,475.00 L333.65,477.00 L334.95,480.00 L335.55,483.00 L335.65,487.00 L335.45,492.00 L334.85,500.00 L333.95,508.00 L333.15,516.00 L332.75,525.00 L332.65,535.00 L332.65,536.00 L332.70,537.62 L332.87,539.25 L333.19,540.88 L333.67,542.50 L334.32,544.12 L335.15,545.75 L336.15,547.38 L337.35,549.00 L335.60,549.75 L333.94,550.50 L332.41,551.25 L331.60,552.00 L331.60,552.00 L330.79,551.25 L329.26,550.50 L327.60,549.75 L325.85,549.00 L327.05,547.38 L328.05,545.75 L328.88,544.12 L329.53,542.50 L330.01,540.88 L330.33,539.25 L330.50,537.62 L330.55,536.00 L330.55,535.00 L330.45,525.00 L330.05,516.00 L329.25,508.00 L328.35,500.00 L327.75,492.00 L327.55,487.00 L327.65,483.00 L328.25,480.00 L329.55,477.00 L331.05,475.00 L331.60,473.70 Z" fill="#dcefec" stroke="#222" stroke-width="1.0" stroke-linejoin="round"/>
<line x1="331.60" y1="480.00" x2="331.60" y2="520.00" stroke="#9aa8a6" stroke-width="0.6" />
<path d="M345.30,473.70 L346.05,475.50 L347.85,478.00 L349.45,481.00 L350.45,485.00 L350.95,490.00 L351.15,500.00 L350.85,508.00 L350.15,516.00 L349.15,522.00 L347.75,530.00 L347.75,540.00 L347.77,541.12 L347.83,542.25 L347.93,543.38 L348.10,544.50 L348.32,545.62 L348.60,546.75 L348.94,547.88 L349.35,549.00 L348.08,549.75 L346.88,550.50 L345.76,551.25 L345.30,552.00 L345.30,552.00 L344.84,551.25 L343.72,550.50 L342.52,549.75 L341.25,549.00 L341.66,547.88 L342.00,546.75 L342.28,545.62 L342.50,544.50 L342.67,543.38 L342.77,542.25 L342.83,541.12 L342.85,540.00 L342.85,530.00 L341.45,522.00 L340.45,516.00 L339.75,508.00 L339.45,500.00 L339.65,490.00 L340.15,485.00 L341.15,481.00 L342.75,478.00 L344.55,475.50 L345.30,473.70 Z" fill="#2d695a" stroke="#1f3a33" stroke-width="1.0" stroke-linejoin="round"/>
<line x1="345.30" y1="490.00" x2="345.30" y2="525.00" stroke="#9cc8bc" stroke-width="0.7" />
<line x1="370.40" y1="478.00" x2="370.40" y2="549.20" stroke="#2a2a2a" stroke-width="0.9" />
<path d="M373.15,476.50 L372.45,480.00 L371.75,484.00 L371.25,488.00 L370.90,492.00 L370.65,496.00 L370.40,498.00 L370.40,498.00 L370.15,496.00 L369.90,492.00 L369.55,488.00 L369.05,484.00 L368.35,480.00 L367.65,476.50 Z" fill="#93602a" stroke="#222" stroke-width="0.9" stroke-linejoin="round"/>
<path d="M363.90,476.20 Q370.40,474.60 376.90,476.20 Q370.40,477.40 363.90,476.20 Z" fill="#222" stroke="#222" stroke-width="0.9"/>
<path d="M368.00,549.20 L370.40,548.20 L372.80,549.20 L370.40,550.20 Z" fill="#222" stroke="#222" stroke-width="0.7"/>
<path d="M384.10,473.20 L384.95,474.50 L386.45,476.00 L387.15,477.50 L388.65,479.00 L389.65,481.00 L389.85,484.00 L389.45,490.00 L388.45,496.00 L387.45,502.00 L386.55,508.00 L385.95,516.00 L385.45,530.00 L385.45,534.00 L385.50,535.88 L385.66,537.75 L385.96,539.62 L386.41,541.50 L387.01,543.38 L387.79,545.25 L388.73,547.12 L389.85,549.00 L388.10,549.75 L386.44,550.50 L384.91,551.25 L384.10,552.00 L384.10,552.00 L383.29,551.25 L381.76,550.50 L380.10,549.75 L378.35,549.00 L379.47,547.12 L380.41,545.25 L381.19,543.38 L381.79,541.50 L382.24,539.62 L382.54,537.75 L382.70,535.88 L382.75,534.00 L382.75,530.00 L382.25,516.00 L381.65,508.00 L380.75,502.00 L379.75,496.00 L378.75,490.00 L378.35,484.00 L378.55,481.00 L379.55,479.00 L381.05,477.50 L381.75,476.00 L383.25,474.50 L384.10,473.20 Z" fill="#dcefec" stroke="#222" stroke-width="1.0" stroke-linejoin="round"/>
<line x1="384.10" y1="480.00" x2="384.10" y2="525.00" stroke="#9aa8a6" stroke-width="0.6" />
<path d="M398.00,473.20 L398.85,474.50 L400.35,476.00 L401.05,477.50 L402.55,479.00 L403.75,481.00 L404.25,484.00 L404.05,490.00 L403.35,496.00 L402.35,502.00 L401.35,508.00 L400.55,516.00 L399.75,525.00 L399.05,535.00 L398.85,540.00 L398.85,542.00 L398.89,542.88 L398.98,543.75 L399.08,544.62 L399.20,545.50 L399.34,546.38 L399.50,547.25 L399.67,548.12 L399.85,549.00 L399.20,549.88 L398.59,550.75 L398.15,551.62 L398.00,552.50 L398.00,552.50 L397.85,551.62 L397.41,550.75 L396.80,549.88 L396.15,549.00 L396.33,548.12 L396.50,547.25 L396.66,546.38 L396.80,545.50 L396.92,544.62 L397.02,543.75 L397.11,542.88 L397.15,542.00 L397.15,540.00 L396.95,535.00 L396.25,525.00 L395.45,516.00 L394.65,508.00 L393.65,502.00 L392.65,496.00 L391.95,490.00 L391.75,484.00 L392.25,481.00 L393.45,479.00 L394.95,477.50 L395.65,476.00 L397.15,474.50 L398.00,473.20 Z" fill="#2d695a" stroke="#1f3a33" stroke-width="1.0" stroke-linejoin="round"/>
<line x1="398.00" y1="485.00" x2="398.00" y2="520.00" stroke="#9cc8bc" stroke-width="0.7" />
<line x1="423.10" y1="478.00" x2="423.10" y2="549.20" stroke="#2a2a2a" stroke-width="0.9" />
<path d="M424.45,476.50 L425.85,478.50 L426.45,481.00 L426.45,484.00 L425.85,487.00 L425.05,490.00 L424.15,494.00 L423.55,498.00 L423.10,500.00 L423.10,500.00 L422.65,498.00 L422.05,494.00 L421.15,490.00 L420.35,487.00 L419.75,484.00 L419.75,481.00 L420.35,478.50 L421.75,476.50 Z" fill="#93602a" stroke="#222" stroke-width="0.9" stroke-linejoin="round"/>
<path d="M416.30,476.20 Q423.10,474.60 429.90,476.20 Q423.10,477.40 416.30,476.20 Z" fill="#222" stroke="#222" stroke-width="0.9"/>
<path d="M420.20,549.20 L423.10,548.20 L426.00,549.20 L423.10,550.20 Z" fill="#222" stroke="#222" stroke-width="0.7"/>
<path d="M437.10,472.30 L437.65,474.00 L438.15,476.00 L437.55,477.50 L437.85,479.00 L438.65,483.00 L438.85,490.00 L438.65,500.00 L438.25,520.00 L438.25,538.00 L438.30,539.38 L438.46,540.75 L438.76,542.12 L439.21,543.50 L439.81,544.88 L440.59,546.25 L441.53,547.62 L442.65,549.00 L440.96,549.80 L439.35,550.60 L437.87,551.40 L437.10,552.20 L437.10,552.20 L436.33,551.40 L434.85,550.60 L433.24,549.80 L431.55,549.00 L432.67,547.62 L433.61,546.25 L434.39,544.88 L434.99,543.50 L435.44,542.12 L435.74,540.75 L435.90,539.38 L435.95,538.00 L435.95,520.00 L435.55,500.00 L435.35,490.00 L435.55,483.00 L436.35,479.00 L436.65,477.50 L436.05,476.00 L436.55,474.00 L437.10,472.30 Z" fill="#dcefec" stroke="#222" stroke-width="1.0" stroke-linejoin="round"/>
<line x1="451.00" y1="475.00" x2="451.00" y2="549.00" stroke="#8a8a8a" stroke-width="1.6" />
<line x1="444.50" y1="549.30" x2="457.50" y2="549.30" stroke="#333" stroke-width="1.2" />
<line x1="476.10" y1="478.00" x2="476.10" y2="549.20" stroke="#2a2a2a" stroke-width="0.9" />
<path d="M477.45,476.50 L479.15,479.00 L479.65,482.00 L479.25,486.00 L478.45,490.00 L477.65,494.00 L476.85,498.00 L476.35,503.00 L476.10,505.00 L476.10,505.00 L475.85,503.00 L475.35,498.00 L474.55,494.00 L473.75,490.00 L472.95,486.00 L472.55,482.00 L473.05,479.00 L474.75,476.50 Z" fill="#93602a" stroke="#222" stroke-width="0.9" stroke-linejoin="round"/>
<path d="M469.20,476.20 Q476.10,474.60 483.00,476.20 Q476.10,477.40 469.20,476.20 Z" fill="#222" stroke="#222" stroke-width="0.9"/>
<path d="M473.20,549.20 L476.10,548.20 L479.00,549.20 L476.10,550.20 Z" fill="#222" stroke="#222" stroke-width="0.7"/>
<path d="M489.90,472.70 L490.45,474.50 L491.05,476.50 L490.65,478.00 L491.25,480.00 L491.65,485.00 L491.65,495.00 L491.45,510.00 L491.15,530.00 L491.15,543.00 L491.19,543.77 L491.35,544.55 L491.65,545.33 L492.09,546.10 L492.68,546.88 L493.43,547.65 L494.36,548.43 L495.45,549.20 L493.76,549.95 L492.15,550.70 L490.67,551.45 L489.90,552.20 L489.90,552.20 L489.13,551.45 L487.65,550.70 L486.04,549.95 L484.35,549.20 L485.44,548.43 L486.37,547.65 L487.12,546.88 L487.71,546.10 L488.15,545.33 L488.45,544.55 L488.61,543.77 L488.65,543.00 L488.65,530.00 L488.35,510.00 L488.15,495.00 L488.15,485.00 L488.55,480.00 L489.15,478.00 L488.75,476.50 L489.35,474.50 L489.90,472.70 Z" fill="#dcefec" stroke="#222" stroke-width="1.0" stroke-linejoin="round"/>
<path d="M503.80,472.50 L504.15,474.00 L504.55,476.00 L504.25,478.00 L504.65,482.00 L504.55,500.00 L504.45,520.00 L504.45,540.00 L504.50,541.15 L504.70,542.30 L505.06,543.45 L505.60,544.60 L506.33,545.75 L507.26,546.90 L508.40,548.05 L509.75,549.20 L507.95,549.95 L506.23,550.70 L504.65,551.45 L503.80,552.20 L503.80,552.20 L502.95,551.45 L501.37,550.70 L499.65,549.95 L497.85,549.20 L499.20,548.05 L500.34,546.90 L501.27,545.75 L502.00,544.60 L502.54,543.45 L502.90,542.30 L503.10,541.15 L503.15,540.00 L503.15,520.00 L503.05,500.00 L502.95,482.00 L503.35,478.00 L503.05,476.00 L503.45,474.00 L503.80,472.50 Z" fill="#2d695a" stroke="#1f3a33" stroke-width="1.0" stroke-linejoin="round"/>
<line x1="503.80" y1="475.00" x2="503.80" y2="549.00" stroke="#8a8a8a" stroke-width="1.6" />
<line x1="497.30" y1="549.30" x2="510.30" y2="549.30" stroke="#333" stroke-width="1.2" />
<rect x="7.00" y="565.30" width="505.60" height="9.80" fill="#d4d4d4" />
<rect x="7.00" y="578.90" width="505.60" height="10.40" fill="#d4d4d4" />
<text x="0" y="0" transform="translate(10.00,572.70) scale(1.15,1)" font-size="7.5" fill="#222" text-anchor="start" font-weight="normal" font-family="Liberation Sans, sans-serif" >% CpGs:</text>
<text x="0" y="0" transform="translate(10.00,586.40) scale(1.15,1)" font-size="7.5" fill="#222" text-anchor="start" font-weight="normal" font-family="Liberation Sans, sans-serif" >% Cov.:</text>
<text x="0" y="0" transform="translate(53.50,572.70) scale(1.15,1)" font-size="7.5" fill="#222" text-anchor="middle" font-weight="normal" font-family="Liberation Sans, sans-serif" >97</text>
<text x="0" y="0" transform="translate(53.50,586.40) scale(1.15,1)" font-size="7.5" fill="#222" text-anchor="middle" font-weight="normal" font-family="Liberation Sans, sans-serif" >96</text>
<text x="0" y="0" transform="translate(67.30,572.70) scale(1.15,1)" font-size="7.5" fill="#222" text-anchor="middle" font-weight="normal" font-family="Liberation Sans, sans-serif" >3</text>
<text x="0" y="0" transform="translate(67.30,586.40) scale(1.15,1)" font-size="7.5" fill="#222" text-anchor="middle" font-weight="normal" font-family="Liberation Sans, sans-serif" >3</text>
<text x="0" y="0" transform="translate(81.30,572.70) scale(1.15,1)" font-size="7.5" fill="#222" text-anchor="middle" font-weight="normal" font-family="Liberation Sans, sans-serif" >0</text>
<text x="0" y="0" transform="translate(81.30,586.40) scale(1.15,1)" font-size="7.5" fill="#222" text-anchor="middle" font-weight="normal" font-family="Liberation Sans, sans-serif" >0</text>
<text x="0" y="0" transform="translate(106.50,572.70) scale(1.15,1)" font-size="7.5" fill="#222" text-anchor="middle" font-weight="normal" font-family="Liberation Sans, sans-serif" >98</text>
<text x="0" y="0" transform="translate(106.50,586.40) scale(1.15,1)" font-size="7.5" fill="#222" text-anchor="middle" font-weight="normal" font-family="Liberation Sans, sans-serif" >99</text>
<text x="0" y="0" transform="translate(120.10,572.70) scale(1.15,1)" font-size="7.5" fill="#222" text-anchor="middle" font-weight="normal" font-family="Liberation Sans, sans-serif" >2</text>
<text x="0" y="0" transform="translate(120.10,586.40) scale(1.15,1)" font-size="7.5" fill="#222" text-anchor="middle" font-weight="normal" font-family="Liberation Sans, sans-serif" >0</text>
<text x="0" y="0" transform="translate(134.00,572.70) scale(1.15,1)" font-size="7.5" fill="#222" text-anchor="middle" font-weight="normal" font-family="Liberation Sans, sans-serif" >0</text>
<text x="0" y="0" transform="translate(134.00,586.40) scale(1.15,1)" font-size="7.5" fill="#222" text-anchor="middle" font-weight="normal" font-family="Liberation Sans, sans-serif" >1</text>
<text x="0" y="0" transform="translate(159.10,572.70) scale(1.15,1)" font-size="7.5" fill="#222" text-anchor="middle" font-weight="normal" font-family="Liberation Sans, sans-serif" >92</text>
<text x="0" y="0" transform="translate(159.10,586.40) scale(1.15,1)" font-size="7.5" fill="#222" text-anchor="middle" font-weight="normal" font-family="Liberation Sans, sans-serif" >93</text>
<text x="0" y="0" transform="translate(172.90,572.70) scale(1.15,1)" font-size="7.5" fill="#222" text-anchor="middle" font-weight="normal" font-family="Liberation Sans, sans-serif" >7</text>
<text x="0" y="0" transform="translate(172.90,586.40) scale(1.15,1)" font-size="7.5" fill="#222" text-anchor="middle" font-weight="normal" font-family="Liberation Sans, sans-serif" >1</text>
<text x="0" y="0" transform="translate(186.50,572.70) scale(1.15,1)" font-size="7.5" fill="#222" text-anchor="middle" font-weight="normal" font-family="Liberation Sans, sans-serif" >1</text>
<text x="0" y="0" transform="translate(186.50,586.40) scale(1.15,1)" font-size="7.5" fill="#222" text-anchor="middle" font-weight="normal" font-family="Liberation Sans, sans-serif" >6</text>
<text x="0" y="0" transform="translate(212.00,572.70) scale(1.15,1)" font-size="7.5" fill="#222" text-anchor="middle" font-weight="normal" font-family="Liberation Sans, sans-serif" >35</text>
<text x="0" y="0" transform="translate(212.00,586.40) scale(1.15,1)" font-size="7.5" fill="#222" text-anchor="middle" font-weight="normal" font-family="Liberation Sans, sans-serif" >26</text>
<text x="0" y="0" transform="translate(225.80,572.70) scale(1.15,1)" font-size="7.5" fill="#222" text-anchor="middle" font-weight="normal" font-family="Liberation Sans, sans-serif" >20</text>
<text x="0" y="0" transform="translate(225.80,586.40) scale(1.15,1)" font-size="7.5" fill="#222" text-anchor="middle" font-weight="normal" font-family="Liberation Sans, sans-serif" >16</text>
<text x="0" y="0" transform="translate(239.30,572.70) scale(1.15,1)" font-size="7.5" fill="#222" text-anchor="middle" font-weight="normal" font-family="Liberation Sans, sans-serif" >44</text>
<text x="0" y="0" transform="translate(239.30,586.40) scale(1.15,1)" font-size="7.5" fill="#222" text-anchor="middle" font-weight="normal" font-family="Liberation Sans, sans-serif" >58</text>
<text x="0" y="0" transform="translate(264.90,572.70) scale(1.15,1)" font-size="7.5" fill="#222" text-anchor="middle" font-weight="normal" font-family="Liberation Sans, sans-serif" >49</text>
<text x="0" y="0" transform="translate(264.90,586.40) scale(1.15,1)" font-size="7.5" fill="#222" text-anchor="middle" font-weight="normal" font-family="Liberation Sans, sans-serif" >69</text>
<text x="0" y="0" transform="translate(278.80,572.70) scale(1.15,1)" font-size="7.5" fill="#222" text-anchor="middle" font-weight="normal" font-family="Liberation Sans, sans-serif" >18</text>
<text x="0" y="0" transform="translate(278.80,586.40) scale(1.15,1)" font-size="7.5" fill="#222" text-anchor="middle" font-weight="normal" font-family="Liberation Sans, sans-serif" >9</text>
<text x="0" y="0" transform="translate(292.50,572.70) scale(1.15,1)" font-size="7.5" fill="#222" text-anchor="middle" font-weight="normal" font-family="Liberation Sans, sans-serif" >32</text>
<text x="0" y="0" transform="translate(292.50,586.40) scale(1.15,1)" font-size="7.5" fill="#222" text-anchor="middle" font-weight="normal" font-family="Liberation Sans, sans-serif" >22</text>
<text x="0" y="0" transform="translate(317.60,572.70) scale(1.15,1)" font-size="7.5" fill="#222" text-anchor="middle" font-weight="normal" font-family="Liberation Sans, sans-serif" >55</text>
<text x="0" y="0" transform="translate(317.60,586.40) scale(1.15,1)" font-size="7.5" fill="#222" text-anchor="middle" font-weight="normal" font-family="Liberation Sans, sans-serif" >48</text>
<text x="0" y="0" transform="translate(331.60,572.70) scale(1.15,1)" font-size="7.5" fill="#222" text-anchor="middle" font-weight="normal" font-family="Liberation Sans, sans-serif" >26</text>
<text x="0" y="0" transform="translate(331.60,586.40) scale(1.15,1)" font-size="7.5" fill="#222" text-anchor="middle" font-weight="normal" font-family="Liberation Sans, sans-serif" >26</text>
<text x="0" y="0" transform="translate(345.30,572.70) scale(1.15,1)" font-size="7.5" fill="#222" text-anchor="middle" font-weight="normal" font-family="Liberation Sans, sans-serif" >19</text>
<text x="0" y="0" transform="translate(345.30,586.40) scale(1.15,1)" font-size="7.5" fill="#222" text-anchor="middle" font-weight="normal" font-family="Liberation Sans, sans-serif" >26</text>
<text x="0" y="0" transform="translate(370.40,572.70) scale(1.15,1)" font-size="7.5" fill="#222" text-anchor="middle" font-weight="normal" font-family="Liberation Sans, sans-serif" >77</text>
<text x="0" y="0" transform="translate(370.40,586.40) scale(1.15,1)" font-size="7.5" fill="#222" text-anchor="middle" font-weight="normal" font-family="Liberation Sans, sans-serif" >69</text>
<text x="0" y="0" transform="translate(384.10,572.70) scale(1.15,1)" font-size="7.5" fill="#222" text-anchor="middle" font-weight="normal" font-family="Liberation Sans, sans-serif" >17</text>
<text x="0" y="0" transform="translate(384.10,586.40) scale(1.15,1)" font-size="7.5" fill="#222" text-anchor="middle" font-weight="normal" font-family="Liberation Sans, sans-serif" >11</text>
<text x="0" y="0" transform="translate(398.00,572.70) scale(1.15,1)" font-size="7.5" fill="#222" text-anchor="middle" font-weight="normal" font-family="Liberation Sans, sans-serif" >6</text>
<text x="0" y="0" transform="translate(398.00,586.40) scale(1.15,1)" font-size="7.5" fill="#222" text-anchor="middle" font-weight="normal" font-family="Liberation Sans, sans-serif" >20</text>
<text x="0" y="0" transform="translate(423.10,572.70) scale(1.15,1)" font-size="7.5" fill="#222" text-anchor="middle" font-weight="normal" font-family="Liberation Sans, sans-serif" >11</text>
<text x="0" y="0" transform="translate(423.10,586.40) scale(1.15,1)" font-size="7.5" fill="#222" text-anchor="middle" font-weight="normal" font-family="Liberation Sans, sans-serif" >8</text>
<text x="0" y="0" transform="translate(437.10,572.70) scale(1.15,1)" font-size="7.5" fill="#222" text-anchor="middle" font-weight="normal" font-family="Liberation Sans, sans-serif" >18</text>
<text x="0" y="0" transform="translate(437.10,586.40) scale(1.15,1)" font-size="7.5" fill="#222" text-anchor="middle" font-weight="normal" font-family="Liberation Sans, sans-serif" >11</text>
<text x="0" y="0" transform="translate(451.00,572.70) scale(1.15,1)" font-size="7.5" fill="#222" text-anchor="middle" font-weight="normal" font-family="Liberation Sans, sans-serif" >71</text>
<text x="0" y="0" transform="translate(451.00,586.40) scale(1.15,1)" font-size="7.5" fill="#222" text-anchor="middle" font-weight="normal" font-family="Liberation Sans, sans-serif" >81</text>
<text x="0" y="0" transform="translate(476.10,572.70) scale(1.15,1)" font-size="7.5" fill="#222" text-anchor="middle" font-weight="normal" font-family="Liberation Sans, sans-serif" >22</text>
<text x="0" y="0" transform="translate(476.10,586.40) scale(1.15,1)" font-size="7.5" fill="#222" text-anchor="middle" font-weight="normal" font-family="Liberation Sans, sans-serif" >11</text>
<text x="0" y="0" transform="translate(489.90,572.70) scale(1.15,1)" font-size="7.5" fill="#222" text-anchor="middle" font-weight="normal" font-family="Liberation Sans, sans-serif" >34</text>
<text x="0" y="0" transform="translate(489.90,586.40) scale(1.15,1)" font-size="7.5" fill="#222" text-anchor="middle" font-weight="normal" font-family="Liberation Sans, sans-serif" >20</text>
<text x="0" y="0" transform="translate(503.80,572.70) scale(1.15,1)" font-size="7.5" fill="#222" text-anchor="middle" font-weight="normal" font-family="Liberation Sans, sans-serif" >45</text>
<text x="0" y="0" transform="translate(503.80,586.40) scale(1.15,1)" font-size="7.5" fill="#222" text-anchor="middle" font-weight="normal" font-family="Liberation Sans, sans-serif" >69</text>
<rect x="191.30" y="597.20" width="15.60" height="8.40" fill="#93602a" stroke="#222" stroke-width="1"/>
<text x="0" y="0" transform="translate(209.80,604.30) scale(1.15,1)" font-size="7.0" fill="#333" text-anchor="start" font-weight="normal" font-family="Liberation Sans, sans-serif" >HMD</text>
<rect x="237.50" y="597.20" width="15.60" height="8.40" fill="#dcefec" stroke="#222" stroke-width="1"/>
<text x="0" y="0" transform="translate(256.00,604.30) scale(1.15,1)" font-size="7.0" fill="#333" text-anchor="start" font-weight="normal" font-family="Liberation Sans, sans-serif" >s-PMD</text>
<rect x="288.80" y="597.20" width="15.60" height="8.40" fill="#2d695a" stroke="#222" stroke-width="1"/>
<text x="0" y="0" transform="translate(307.30,604.30) scale(1.15,1)" font-size="7.0" fill="#333" text-anchor="start" font-weight="normal" font-family="Liberation Sans, sans-serif" >l-PMD</text>
<rect x="0.75" y="0.75" width="518.5" height="615.5" fill="none" stroke="#000" stroke-width="1.6"/>
</svg>
</body></html>
